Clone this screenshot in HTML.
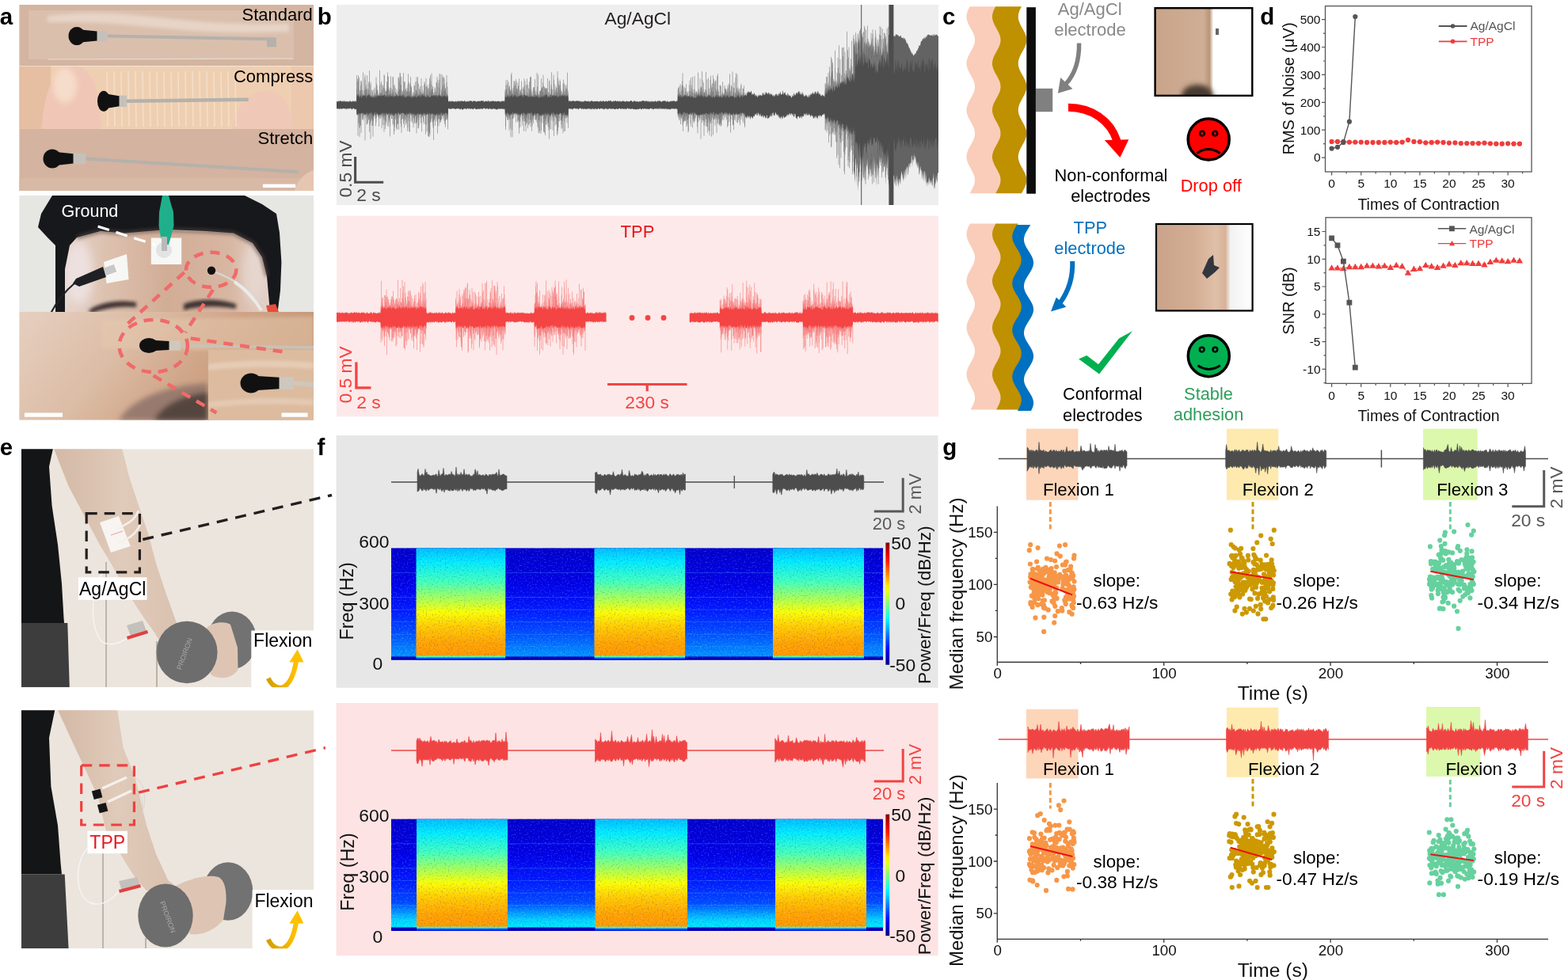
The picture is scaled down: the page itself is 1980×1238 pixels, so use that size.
<!DOCTYPE html>
<html><head><meta charset="utf-8"><title>Figure</title><style>html,body{margin:0;padding:0;background:#fff;}svg{display:block;}</style></head><body>
<svg width="1980" height="1238" viewBox="0 0 1980 1238" font-family="'Liberation Sans', Arial, sans-serif">
<defs><filter id="blur2" x="-20%" y="-20%" width="140%" height="140%"><feGaussianBlur stdDeviation="2"/></filter><filter id="blur3" x="-30%" y="-30%" width="160%" height="160%"><feGaussianBlur stdDeviation="3"/></filter><filter id="blur6" x="-50%" y="-50%" width="200%" height="200%"><feGaussianBlur stdDeviation="6"/></filter><filter id="spkL" x="0" y="0" width="100%" height="100%"><feTurbulence type="fractalNoise" baseFrequency="0.5" numOctaves="2" seed="5"/><feColorMatrix values="0 0 0 0 1  0 0 0 0 1  0 0 0 0 1  3.5 0 0 0 -1.9"/></filter><filter id="spkD" x="0" y="0" width="100%" height="100%"><feTurbulence type="fractalNoise" baseFrequency="0.5" numOctaves="2" seed="9"/><feColorMatrix values="0 0 0 0 0  0 0 0 0 0  0 0 0 0 0.3  3.5 0 0 0 -1.9"/></filter></defs>
<rect width="1980" height="1238" fill="#fff"/>
<defs><clipPath id="s1"><rect x="24.2" y="6" width="371.8" height="77.5"/></clipPath><clipPath id="s2"><rect x="24.2" y="83.5" width="371.8" height="79.4"/></clipPath><clipPath id="s3"><rect x="24.2" y="162.9" width="371.8" height="78"/></clipPath><clipPath id="fc"><rect x="24.2" y="247" width="371.8" height="147"/></clipPath><clipPath id="fl"><rect x="24.2" y="394" width="371.8" height="136.7"/></clipPath><clipPath id="fi"><rect x="262.8" y="441.8" width="133.2" height="88.9"/></clipPath></defs>
<g clip-path="url(#s1)">
<rect x="24.2" y="6" width="371.8" height="77.5" fill="#d3b5a1"/>
<rect x="36" y="13" width="335" height="62" fill="#dcc2b0" opacity="0.8"/>
<path d="M60 20 Q120 12 200 22 T365 30 L365 40 Q280 44 200 35 T60 28 Z" fill="#f2e6dc" opacity="0.55" filter="url(#blur2)"/>
<line x1="60" y1="75" x2="370" y2="74" stroke="#efe3da" stroke-width="1.2" opacity="0.8"/>
<path d="M135.5 45.5 L348 49.5" stroke="#b5b1ab" stroke-width="4" fill="none"/>
<rect x="122" y="39" width="13.5" height="13" fill="#c5c1ba"/>
<ellipse cx="97" cy="45.5" rx="10.5" ry="11.5" fill="#111"/>
<path d="M97 36.9 L122.5 39.6 L122.5 51.4 L97 54.1 Z" fill="#111"/>
<rect x="337" y="47.7" width="12" height="11.5" fill="#b5b1ab"/>
</g>
<g clip-path="url(#s2)">
<rect x="24.2" y="83.5" width="371.8" height="79.4" fill="#efcfb1"/>
<rect x="24.2" y="83.5" width="40" height="79.4" fill="#e6bfa2"/>
<path d="M52 170 C54 130 62 84 95 84 C122 84 128 130 128 170 Z" fill="#f0c7b6"/>
<ellipse cx="82" cy="108" rx="15" ry="22" fill="#f6dcca" filter="url(#blur3)"/>
<path d="M292 170 C296 130 318 114 340 115 C362 116 368 140 370 170 Z" fill="#f0c8b8"/>
<rect x="368" y="83.5" width="30" height="79.4" fill="#ecc8ae"/>
<path d="M135 90 L136 160 M144 90 L145 160 M153 90 L154 160 M162 90 L163 160 M171 90 L172 160 M180 90 L181 160 M189 90 L190 160 M198 90 L199 160 M207 90 L208 160 M216 90 L217 160 M225 90 L226 160 M234 90 L235 160 M243 90 L244 160 M252 90 L253 160 M261 90 L262 160 M270 90 L271 160 M279 90 L280 160 M288 90 L289 160 M297 90 L298 160" stroke="#f8eadc" stroke-width="1.5" opacity="0.6"/>
<path d="M160 127.8 L313.7 125.7" stroke="#b5b1ab" stroke-width="4.5" fill="none"/>
<rect x="150" y="120.6" width="10" height="14.4" fill="#c5c1ba"/>
<ellipse cx="131" cy="127.8" rx="8" ry="13" fill="#111"/>
<path d="M131 118 L150.5 121.3 L150.5 134.3 L131 137.6 Z" fill="#111"/>
</g>
<g clip-path="url(#s3)">
<rect x="24.2" y="162.9" width="371.8" height="78" fill="#d4b3a0"/>
<rect x="24.2" y="225" width="371.8" height="16" fill="#d8b9a6"/>
<path d="M372 241 C374 230 384 218 398 214 L398 241 Z" fill="#e6c6b0"/>
<path d="M108.3 200.4 L377 217.2" stroke="#b5b1ab" stroke-width="4" fill="none"/>
<rect x="92" y="193.7" width="16.3" height="13.5" fill="#c5c1ba"/>
<ellipse cx="66" cy="200.4" rx="11.5" ry="12" fill="#111"/>
<path d="M66 191.4 L92.5 194.3 L92.5 206.5 L66 209.4 Z" fill="#111"/>
<rect x="331.9" y="232.6" width="41.3" height="4.4" fill="#fff"/>
</g>
<text x="394.8" y="25.5" font-size="22" fill="#000" text-anchor="end">Standard</text>
<text x="395.2" y="104" font-size="22" fill="#000" text-anchor="end">Compress</text>
<text x="395.2" y="181.7" font-size="22" fill="#000" text-anchor="end">Stretch</text>
<g clip-path="url(#fc)">
<rect x="24.2" y="247" width="371.8" height="147" fill="#e6e6e3"/>
<defs><linearGradient id="fskin" x1="0" y1="0" x2="1" y2="0"><stop offset="0" stop-color="#e8d9d3"/><stop offset="0.22" stop-color="#ddc2b0"/><stop offset="0.5" stop-color="#d2ad96"/><stop offset="0.78" stop-color="#d7b6a2"/><stop offset="1" stop-color="#e6d6cf"/></linearGradient></defs>
<path d="M70 394 L70 300 L97 296 L160 290 L230 292 L300 294 L330 305 L345 330 L350 394 Z" fill="url(#fskin)"/>
<ellipse cx="100" cy="345" rx="18" ry="40" fill="#f0e6e8" opacity="0.75" filter="url(#blur6)"/>
<ellipse cx="320" cy="345" rx="14" ry="38" fill="#ebe0dc" opacity="0.6" filter="url(#blur6)"/>
<path d="M66 247 L309 247 L331 258 L349 270 L353 294 L355.4 331 L354 367 L350.6 394 L341 394 L337 349 L331 325 L319 307 L295 294.5 L260 292 L210 290 L157 294.5 L127 292 L97 300 L88 310 L82 340 L82 394 L70 394 L70 310 L60 300 L48 287 L52 270 Z" fill="#17181c"/>
<path d="M97 300 L127 292 L157 294.5 L210 290 L260 292 L295 294.5 L319 307 L331 325 L337 349" stroke="#5a4a44" stroke-width="5" fill="none" opacity="0.6" filter="url(#blur2)"/>
<path d="M112 392 C125 382 150 378 172 382 L172 388 C150 386 130 390 115 396 Z" fill="#3e3230" filter="url(#blur2)"/>
<path d="M232 384 C250 377 275 377 298 384 L298 390 C275 386 252 386 232 392 Z" fill="#3e3230" filter="url(#blur2)"/>
<rect x="190.8" y="300.5" width="38.4" height="33.5" fill="#f7f7f5"/>
<circle cx="207" cy="316" r="10" fill="#e3e3e3"/>
<path d="M131 331 L160 321 L162.5 353 L134.5 358 Z" fill="#f7f7f5"/>
<path d="M205 247 L213 247 L216 258 L219 268 L219.5 285 L216.5 297 L213 309 L206 309 L202.5 297 L200.5 285 L201 268 L203 258 Z" fill="#1fb08b"/>
<rect x="204" y="299" width="7" height="18" fill="#b9b9b9"/>
<path d="M92 358 L96 352 L130 337 L134 350 L100 362 Z" fill="#1e2024"/>
<path d="M94 358 C82 368 72 380 64 396" stroke="#1e2024" stroke-width="2.2" fill="none"/>
<rect x="132" y="336" width="14" height="10" fill="#c8c8c8" transform="rotate(-20 139 341)"/>
<path d="M272 344 C290 350 310 362 337 388" stroke="#d8d8d8" stroke-width="2" fill="none"/>
<path d="M296 356 C305 362 318 372 330 392" stroke="#f0f0f0" stroke-width="4" fill="none" opacity="0.8"/>
<circle cx="267" cy="341.8" r="5.2" fill="#111"/>
<path d="M336 386 L348 384 L352 394 L338 394 Z" fill="#e84c3a"/>
</g>
<text x="77.6" y="274.2" font-size="21.5" fill="#fff" text-anchor="start">Ground</text>
<path d="M123.6 286 L196.6 309.5" stroke="#fff" stroke-width="3.2" stroke-dasharray="15 9"/>
<g clip-path="url(#fl)">
<defs><linearGradient id="lp" x1="0" y1="0" x2="1" y2="0.3"><stop offset="0" stop-color="#e6cfc0"/><stop offset="0.4" stop-color="#dcbda6"/><stop offset="0.7" stop-color="#cfa487"/><stop offset="1" stop-color="#c49777"/></linearGradient></defs>
<rect x="24.2" y="394" width="371.8" height="136.7" fill="url(#lp)"/>
<path d="M128 404 L396 400 L396 445 L128 440 Z" fill="#e6c9ae" opacity="0.5" filter="url(#blur2)"/>
<path d="M150 531 C165 505 205 488 262 484 L262 531 Z" fill="#8a7068" opacity="0.8" filter="url(#blur3)"/>
<path d="M195 531 C205 512 230 500 262 496 L262 531 Z" fill="#4a3c38" opacity="0.85" filter="url(#blur3)"/>
<path d="M228 436.5 L396 439" stroke="#c8c2b8" stroke-width="3.5" fill="none"/>
<rect x="213" y="430.2" width="15" height="12.5" fill="#cfc8bb"/>
<ellipse cx="188" cy="436.5" rx="12" ry="9.5" fill="#111"/>
<path d="M188 429.4 L213.5 430.9 L213.5 442.1 L188 443.6 Z" fill="#111"/>
</g>
<g clip-path="url(#fi)">
<rect x="262.8" y="441.8" width="133.2" height="88.9" fill="#dcbb9f"/>
<path d="M262 460 Q330 452 396 458 L396 466 Q330 460 262 468 Z" fill="#ecd6c2" opacity="0.7" filter="url(#blur2)"/>
<path d="M262 508 Q330 500 396 505 L396 512 Q330 508 262 515 Z" fill="#ecd6c2" opacity="0.6" filter="url(#blur2)"/>
<path d="M371 484 L396 486" stroke="#cdc7bd" stroke-width="6" fill="none"/>
<rect x="352" y="475.9" width="19" height="16.3" fill="#cdc7bd"/>
<ellipse cx="317" cy="484" rx="13.5" ry="12.5" fill="#111"/>
<path d="M317 474.6 L352.5 476.7 L352.5 491.3 L317 493.4 Z" fill="#111"/>
</g>
<rect x="31" y="521.5" width="48" height="5.2" fill="#fff"/>
<rect x="355.5" y="521.5" width="33" height="5.2" fill="#fff"/>
<g stroke="#f06a6a" stroke-width="4.5" fill="none" stroke-dasharray="12 9">
<ellipse cx="266.6" cy="340.8" rx="31.7" ry="22"/>
<ellipse cx="193.7" cy="437" rx="43.2" ry="33.1"/>
<path d="M232.7 344.2 L160 410"/>
<path d="M269 366 L234 420"/>
<path d="M240.7 427.4 L360 444.7"/>
<path d="M193.7 474.5 L273.4 521.5"/>
</g>
<rect x="425" y="6" width="760" height="253" fill="#eeeeee"/>
<text x="805.3" y="31" font-size="22.8" fill="#231f20" text-anchor="middle">Ag/AgCl</text>
<path d="M1078 48 1078.5 59.8 1079 55.3 1079.5 48.5 1080 70.7 1080.5 63.6 1081 70.7 1081.5 41.7 1082 67.7 1082.5 68 1083 68.4 1083.5 41.4 1084 47.3 1084.5 55.7 1085 45.1 1085.5 66.6 1086 63.9 1086.5 69.6 1087 70.2 1087.5 70.2 1088 66.4 1088.5 52.3 1089 44.7 1089.5 67.6 1090 60 1090.5 68.6 1091 53.1 1091.5 51.5 1092 55 1092.5 70.7 1093 52.4 1093.5 59.3 1094 58.6 1094.5 55.1 1095 66.4 1095.5 70.2 1096 59.8 1096.5 59.7 1097 51.7 1097.5 62.9 1098 61 1098.5 57.3 1099 57.8 1099.5 53.9 1100 70.7 1100.5 46.6 1101 54.6 1101.5 63.2 1102 54.6 1102.5 67.8 1103 53.1 1103.5 70.7 1104 69.3 1104.5 61.3 1105 67.2 1105.5 63.2 1106 61.1 1106.5 41 1107 63.5 1107.5 70.2 1108 63.2 1108.5 49.1 1109 50.4 1109.5 61.5 1110 69 1110.5 70 1111 68.5 1111.5 63.9 1112 69.5 1112.5 70.6 1113 69.4 1113.5 70.1 1114 64.6 1114.5 65.8 1115 65.4 1115.5 61 1116 65.3 1116.5 65.7 1117 66.7 1117.5 67.4 1118 55.8 1118.5 44.7 1119 68.3 1119.5 58.2 1120 70.3 1120.5 66.9 1121 68.6 1121.5 68.7 1122 45.1 1122.5 44 1123 44.3 1123.5 46.2 1124 46.6 1124.5 44.4 1125 45.8 1125.5 44.4 1126 46.6 1126.5 44.5 1127 43.8 1127.5 43 1128 46.6 1128.5 45.6 1129 45.8 1129.5 44.8 1130 46.6 1130.5 45.5 1131 43.4 1131.5 43.1 1132 44 1132.5 43.4 1133 44.1 1133.5 44.1 1134 45.8 1134.5 44.4 1135 45 1135.5 46.4 1136 45.6 1136.5 46.6 1137 45.2 1137.5 44.5 1138 46.4 1138.5 47.7 1139 47.9 1139.5 48.1 1140 48 1140.5 47 1141 49.7 1141.5 47.4 1142 50.5 1142.5 47.7 1143 48.8 1143.5 51.4 1144 50.6 1144.5 54.4 1145 53.4 1145.5 54.6 1146 55.7 1146.5 55.8 1147 57.1 1147.5 59.6 1148 59.9 1148.5 61.1 1149 61.5 1149.5 63.7 1150 64.2 1150.5 65.3 1151 67.8 1151.5 67.4 1152 65.9 1152.5 68.6 1153 69.6 1153.5 70.1 1154 70.6 1154.5 68.2 1155 69.2 1155.5 67.5 1156 67.6 1156.5 67.9 1157 64.5 1157.5 64.3 1158 65.2 1158.5 62.2 1159 63.3 1159.5 60 1160 60.9 1160.5 57.1 1161 57.3 1161.5 58 1162 57.5 1162.5 54.4 1163 52.2 1163.5 51.9 1164 51.8 1164.5 50.9 1165 48.7 1165.5 48.7 1166 50.1 1166.5 48.6 1167 46.6 1167.5 48.2 1168 48.7 1168.5 48.5 1169 46.1 1169.5 47.2 1170 44.4 1170.5 47.3 1171 43.4 1171.5 44.4 1172 43.6 1172.5 43.5 1173 43.9 1173.5 44.3 1174 44.2 1174.5 45 1175 44.3 1175.5 45.5 1176 43.7 1176.5 44.6 1177 44.5 1177.5 45.7 1178 43.1 1178.5 44.4 1179 46.2 1179.5 43.4 1180 43.1 1180.5 44.6 1181 45.6 1181.5 43.8 1182 43.7 1182.5 43.9 1183 42.9 1183.5 44.8 1184 45.2 1184.5 45.9 1185 44.7 1185 219.5 1184.5 217.9 1184 218.5 1183.5 231.2 1183 228.5 1182.5 226.9 1182 220.1 1181.5 233.4 1181 229.4 1180.5 235.7 1180 238.8 1179.5 236.7 1179 217.6 1178.5 224.5 1178 225.4 1177.5 234.6 1177 234.6 1176.5 226.6 1176 234.6 1175.5 226.4 1175 231.9 1174.5 230.2 1174 226.9 1173.5 223.5 1173 236 1172.5 224.7 1172 233.9 1171.5 229.4 1171 230 1170.5 231.3 1170 236.4 1169.5 217.7 1169 232 1168.5 225.9 1168 216.6 1167.5 216.3 1167 229.4 1166.5 215.6 1166 230 1165.5 215.6 1165 228.1 1164.5 215 1164 226.8 1163.5 214.5 1163 215.7 1162.5 212.6 1162 209.2 1161.5 216.5 1161 219.9 1160.5 220.8 1160 204 1159.5 209.9 1159 213.1 1158.5 209.8 1158 203.8 1157.5 206.6 1157 210.1 1156.5 202.4 1156 197.6 1155.5 198.1 1155 202.9 1154.5 198.2 1154 193.8 1153.5 205.5 1153 201.2 1152.5 202.1 1152 211.4 1151.5 197.3 1151 196.1 1150.5 206.3 1150 206 1149.5 205.8 1149 213.4 1148.5 205.3 1148 211.6 1147.5 205.5 1147 219.3 1146.5 221.8 1146 209.2 1145.5 212 1145 210.7 1144.5 216.5 1144 225.5 1143.5 213.5 1143 214.3 1142.5 227.4 1142 214.8 1141.5 220.1 1141 229.6 1140.5 226 1140 224.8 1139.5 220.6 1139 220.4 1138.5 215.8 1138 219 1137.5 225.1 1137 233.5 1136.5 230.6 1136 225.7 1135.5 226 1135 230.7 1134.5 237.4 1134 225.9 1133.5 234.1 1133 221.4 1132.5 229.8 1132 219.9 1131.5 234.3 1131 235 1130.5 225.1 1130 228.9 1129.5 233.2 1129 220.3 1128.5 222.3 1128 221.9 1127.5 235.4 1127 222.5 1126.5 234 1126 232.2 1125.5 236.5 1125 230.4 1124.5 229.3 1124 220.5 1123.5 225.9 1123 236.7 1122.5 228.8 1122 235.1 1121.5 196.5 1121 206.1 1120.5 198.7 1120 205.5 1119.5 217.9 1119 199.8 1118.5 235.1 1118 216.4 1117.5 201.8 1117 209.3 1116.5 211.6 1116 207.7 1115.5 204.3 1115 203.5 1114.5 199.7 1114 212.1 1113.5 198.6 1113 203.7 1112.5 197.3 1112 201.8 1111.5 200.1 1111 206.3 1110.5 195.5 1110 205.1 1109.5 211.9 1109 219.2 1108.5 225 1108 207.5 1107.5 206.3 1107 214.6 1106.5 236.6 1106 213.3 1105.5 208.8 1105 201.9 1104.5 210 1104 202.3 1103.5 195.6 1103 219 1102.5 198.9 1102 222.7 1101.5 202.2 1101 222.9 1100.5 222.6 1100 203.5 1099.5 221.1 1099 213.3 1098.5 212.6 1098 207.7 1097.5 209 1097 222.3 1096.5 212.7 1096 216 1095.5 205.6 1095 197.9 1094.5 208.4 1094 209.9 1093.5 213.4 1093 220.2 1092.5 195.4 1092 209.5 1091.5 215.5 1091 221.7 1090.5 197.4 1090 212.7 1089.5 198.6 1089 232.8 1088.5 212.2 1088 206 1087.5 196.5 1087 206.4 1086.5 194.9 1086 211.4 1085.5 205.6 1085 219.5 1084.5 216.8 1084 232.5 1083.5 240.9 1083 206.1 1082.5 205.9 1082 205.8 1081.5 236.6 1081 204.1 1080.5 200.8 1080 198.8 1079.5 231.3 1079 223.2 1078.5 215.8 1078 220.3Z" fill="#636363"/>
<path d="M450.5 132.7V95.1M450.5 132.7V115.2M450.5 132.7V112.4M451 132.7V118.3M451 132.7V103.2M451 132.7V144.8M451.5 132.7V120.6M451.5 132.7V99.7M451.5 132.7V145M452 132.7V145M452 132.7V118.9M452 132.7V171.4M452.5 132.7V95.1M452.5 132.7V110.8M452.5 132.7V102.3M453 132.7V156.7M453 132.7V154.6M453 132.7V145.4M453.5 132.7V97.9M453.5 132.7V146.5M453.5 132.7V118.8M454 132.7V172.9M454 132.7V160.8M454 132.7V161.5M454.5 132.7V148.6M454.5 132.7V113.8M454.5 132.7V118.8M455 132.7V114.9M455 132.7V158.8M455 132.7V148.1M455.5 132.7V121.1M455.5 132.7V158.4M455.5 132.7V108.1M456 132.7V102.1M456 132.7V102.3M456 132.7V167.9M456.5 132.7V117.9M456.5 132.7V121.3M456.5 132.7V104.5M457 132.7V113.1M457 132.7V114.8M457 132.7V120.2M457.5 132.7V150.9M457.5 132.7V147.9M457.5 132.7V151M458 132.7V145.4M458 132.7V146.3M458 132.7V118.3M458.5 132.7V91.3M458.5 132.7V119.1M458.5 132.7V120.9M459 132.7V152.3M459 132.7V149.5M459 132.7V118.9M459.5 132.7V143.9M459.5 132.7V146.4M459.5 132.7V144.8M460 132.7V114.1M460 132.7V120.9M460 132.7V121.4M460.5 132.7V97.6M460.5 132.7V117.8M460.5 132.7V113.2M461 132.7V94.3M461 132.7V101.1M461 132.7V177.3M461.5 132.7V116.5M461.5 132.7V110.3M461.5 132.7V119.6M462 132.7V149.5M462 132.7V145.7M462 132.7V113.6M462.5 132.7V121.1M462.5 132.7V119.1M462.5 132.7V112.6M463 132.7V106.9M463 132.7V120.2M463 132.7V157.1M463.5 132.7V157.3M463.5 132.7V95.4M463.5 132.7V146.1M464 132.7V146.2M464 132.7V113.6M464 132.7V111.7M464.5 132.7V147.7M464.5 132.7V155.4M464.5 132.7V147.7M465 132.7V118.7M465 132.7V148.5M465 132.7V117.1M465.5 132.7V103.4M465.5 132.7V151.3M465.5 132.7V113.6M466 132.7V151.8M466 132.7V105.7M466 132.7V121.3M466.5 132.7V166.6M466.5 132.7V89.3M466.5 132.7V119M467 132.7V158.2M467 132.7V149.7M467 132.7V117.5M467.5 132.7V155.6M467.5 132.7V146.4M467.5 132.7V121.3M468 132.7V103.3M468 132.7V175.5M468 132.7V106.8M468.5 132.7V148.2M468.5 132.7V153.5M468.5 132.7V114.5M469 132.7V147.6M469 132.7V144.2M469 132.7V150.8M469.5 132.7V148.6M469.5 132.7V146.8M469.5 132.7V151.2M470 132.7V145.5M470 132.7V113.2M470 132.7V158.8M470.5 132.7V116.9M470.5 132.7V115M470.5 132.7V158.4M471 132.7V152.8M471 132.7V158.9M471 132.7V172.6M471.5 132.7V152.5M471.5 132.7V120.5M471.5 132.7V148.8M472 132.7V146.3M472 132.7V144.4M472 132.7V113.5M472.5 132.7V121.3M472.5 132.7V120.9M472.5 132.7V147.7M473 132.7V119.6M473 132.7V120.9M473 132.7V110.6M473.5 132.7V117.6M473.5 132.7V118.5M473.5 132.7V121.2M474 132.7V144.3M474 132.7V150M474 132.7V145.7M474.5 132.7V159.2M474.5 132.7V148.8M474.5 132.7V120M475 132.7V112.1M475 132.7V154.8M475 132.7V97.4M475.5 132.7V148.7M475.5 132.7V116.9M475.5 132.7V105.6M476 132.7V108M476 132.7V114.7M476 132.7V121M476.5 132.7V114.4M476.5 132.7V120.1M476.5 132.7V144.6M477 132.7V120.6M477 132.7V113.5M477 132.7V145.4M477.5 132.7V146.4M477.5 132.7V147.8M477.5 132.7V144.4M478 132.7V144.3M478 132.7V146.5M478 132.7V117.7M478.5 132.7V144.3M478.5 132.7V150.9M478.5 132.7V160M479 132.7V120.1M479 132.7V120.8M479 132.7V145.6M479.5 132.7V88.9M479.5 132.7V107.9M479.5 132.7V148.7M480 132.7V118.6M480 132.7V146.2M480 132.7V145.9M480.5 132.7V121M480.5 132.7V150.1M480.5 132.7V117M481 132.7V146M481 132.7V117M481 132.7V105.5M481.5 132.7V119.7M481.5 132.7V117.8M481.5 132.7V102.7M482 132.7V162.2M482 132.7V118.2M482 132.7V148.2M482.5 132.7V145.3M482.5 132.7V113.5M482.5 132.7V146.6M483 132.7V146.2M483 132.7V118.5M483 132.7V107.1M483.5 132.7V108.2M483.5 132.7V158.2M483.5 132.7V121.1M484 132.7V146.5M484 132.7V149.5M484 132.7V119.9M484.5 132.7V110.8M484.5 132.7V148.1M484.5 132.7V147.1M485 132.7V151.4M485 132.7V94.2M485 132.7V166.7M485.5 132.7V146.6M485.5 132.7V120.9M485.5 132.7V95.6M486 132.7V112.1M486 132.7V115.4M486 132.7V158.2M486.5 132.7V119.6M486.5 132.7V151.4M486.5 132.7V163.1M487 132.7V155.7M487 132.7V120.4M487 132.7V115.2M487.5 132.7V153.4M487.5 132.7V145.4M487.5 132.7V114.8M488 132.7V119.4M488 132.7V115.5M488 132.7V147.6M488.5 132.7V115.9M488.5 132.7V103.1M488.5 132.7V111.9M489 132.7V158.9M489 132.7V116M489 132.7V112.5M489.5 132.7V95.7M489.5 132.7V91.3M489.5 132.7V113M490 132.7V112.8M490 132.7V145.1M490 132.7V108.7M490.5 132.7V96.8M490.5 132.7V144M490.5 132.7V160.2M491 132.7V152.3M491 132.7V154.8M491 132.7V148.4M491.5 132.7V113.8M491.5 132.7V147.5M491.5 132.7V149.7M492 132.7V110.7M492 132.7V120.4M492 132.7V119M492.5 132.7V118.4M492.5 132.7V172.3M492.5 132.7V159.3M493 132.7V114.2M493 132.7V147.2M493 132.7V116.3M493.5 132.7V111.1M493.5 132.7V96.4M493.5 132.7V145.4M494 132.7V111.5M494 132.7V119.2M494 132.7V116.7M494.5 132.7V121.2M494.5 132.7V143.9M494.5 132.7V150.1M495 132.7V118.6M495 132.7V150M495 132.7V144.4M495.5 132.7V112.9M495.5 132.7V145.2M495.5 132.7V117.1M496 132.7V146M496 132.7V157.5M496 132.7V97.6M496.5 132.7V147M496.5 132.7V117.4M496.5 132.7V96.9M497 132.7V156.6M497 132.7V115.2M497 132.7V120.7M497.5 132.7V149.9M497.5 132.7V119.2M497.5 132.7V170M498 132.7V166.3M498 132.7V108.3M498 132.7V106.9M498.5 132.7V121.3M498.5 132.7V159.8M498.5 132.7V146.4M499 132.7V143.9M499 132.7V144.3M499 132.7V111M499.5 132.7V150.8M499.5 132.7V116.2M499.5 132.7V118.6M500 132.7V147.6M500 132.7V118.7M500 132.7V120.9M500.5 132.7V118.3M500.5 132.7V162.5M500.5 132.7V117.2M501 132.7V112.7M501 132.7V158.2M501 132.7V147.1M501.5 132.7V156.4M501.5 132.7V121M501.5 132.7V164M502 132.7V156.1M502 132.7V145.2M502 132.7V150M502.5 132.7V156.7M502.5 132.7V115.8M502.5 132.7V145.9M503 132.7V120.4M503 132.7V98M503 132.7V120.9M503.5 132.7V97.5M503.5 132.7V163.8M503.5 132.7V113.2M504 132.7V119.5M504 132.7V104M504 132.7V148.9M504.5 132.7V114.2M504.5 132.7V115.7M504.5 132.7V112.6M505 132.7V100.7M505 132.7V118.8M505 132.7V92M505.5 132.7V97.1M505.5 132.7V120M505.5 132.7V92.7M506 132.7V144.2M506 132.7V115.5M506 132.7V156.3M506.5 132.7V113M506.5 132.7V160.5M506.5 132.7V107.2M507 132.7V118.7M507 132.7V97M507 132.7V167.8M507.5 132.7V151.1M507.5 132.7V121.2M507.5 132.7V145.8M508 132.7V147.5M508 132.7V121M508 132.7V115.1M508.5 132.7V118.4M508.5 132.7V115M508.5 132.7V150.1M509 132.7V119.9M509 132.7V120.1M509 132.7V117.1M509.5 132.7V156.6M509.5 132.7V113M509.5 132.7V92.2M510 132.7V102.6M510 132.7V152.9M510 132.7V117.5M510.5 132.7V149.9M510.5 132.7V161.4M510.5 132.7V153.1M511 132.7V103.1M511 132.7V104.4M511 132.7V150.8M511.5 132.7V145.6M511.5 132.7V113.5M511.5 132.7V120.3M512 132.7V114.4M512 132.7V150.9M512 132.7V118.7M512.5 132.7V112M512.5 132.7V146.8M512.5 132.7V157.7M513 132.7V155.8M513 132.7V154.2M513 132.7V149M513.5 132.7V146.9M513.5 132.7V146.3M513.5 132.7V116M514 132.7V110.8M514 132.7V114.8M514 132.7V121.4M514.5 132.7V115.1M514.5 132.7V165.7M514.5 132.7V148.7M515 132.7V120M515 132.7V106.8M515 132.7V160.9M515.5 132.7V113.2M515.5 132.7V118.1M515.5 132.7V93.4M516 132.7V152.9M516 132.7V116M516 132.7V103.5M516.5 132.7V149.9M516.5 132.7V166M516.5 132.7V148.6M517 132.7V106.3M517 132.7V116.3M517 132.7V146.1M517.5 132.7V120.6M517.5 132.7V114.9M517.5 132.7V166.9M518 132.7V104.8M518 132.7V120.8M518 132.7V119.5M518.5 132.7V96.9M518.5 132.7V108.5M518.5 132.7V145.4M519 132.7V120.9M519 132.7V153.3M519 132.7V115.1M519.5 132.7V109.2M519.5 132.7V111.1M519.5 132.7V118.8M520 132.7V120.5M520 132.7V145.1M520 132.7V144.4M520.5 132.7V149.4M520.5 132.7V151.9M520.5 132.7V155.1M521 132.7V144.3M521 132.7V148.4M521 132.7V120.6M521.5 132.7V117.3M521.5 132.7V121.2M521.5 132.7V118.7M522 132.7V116.3M522 132.7V144.1M522 132.7V160.9M522.5 132.7V148.1M522.5 132.7V149.5M522.5 132.7V148.5M523 132.7V156.3M523 132.7V146.3M523 132.7V107.5M523.5 132.7V108.5M523.5 132.7V155.1M523.5 132.7V151.8M524 132.7V144M524 132.7V120.2M524 132.7V146M524.5 132.7V146.5M524.5 132.7V117.8M524.5 132.7V103.3M525 132.7V155.5M525 132.7V118.1M525 132.7V148.4M525.5 132.7V113.8M525.5 132.7V114.2M525.5 132.7V156.2M526 132.7V153.9M526 132.7V97.3M526 132.7V168.4M526.5 132.7V118.1M526.5 132.7V102.9M526.5 132.7V154.8M527 132.7V151.4M527 132.7V115.7M527 132.7V121M527.5 132.7V97.1M527.5 132.7V148.2M527.5 132.7V119.2M528 132.7V145.4M528 132.7V162M528 132.7V145.6M528.5 132.7V105.7M528.5 132.7V162.3M528.5 132.7V119.6M529 132.7V118.9M529 132.7V158.4M529 132.7V151.4M529.5 132.7V121.1M529.5 132.7V119.8M529.5 132.7V112.1M530 132.7V144.8M530 132.7V146.2M530 132.7V116.8M530.5 132.7V108.8M530.5 132.7V113.1M530.5 132.7V117.6M531 132.7V149.1M531 132.7V116.1M531 132.7V115.4M531.5 132.7V144.2M531.5 132.7V155.4M531.5 132.7V119.9M532 132.7V119.1M532 132.7V148.2M532 132.7V98.9M532.5 132.7V116.9M532.5 132.7V166.1M532.5 132.7V146M533 132.7V120.3M533 132.7V146.9M533 132.7V108.4M533.5 132.7V118.8M533.5 132.7V148M533.5 132.7V118.2M534 132.7V118.1M534 132.7V145.3M534 132.7V114M534.5 132.7V153.9M534.5 132.7V150.7M534.5 132.7V117.5M535 132.7V156.6M535 132.7V121.4M535 132.7V145.8M535.5 132.7V107.1M535.5 132.7V144.2M535.5 132.7V116.4M536 132.7V103M536 132.7V118.6M536 132.7V144.8M536.5 132.7V120.3M536.5 132.7V146.4M536.5 132.7V105.4M537 132.7V110.2M537 132.7V157M537 132.7V146.3M537.5 132.7V120.5M537.5 132.7V169.6M537.5 132.7V121.5M538 132.7V157.5M538 132.7V148M538 132.7V98.6M538.5 132.7V119.3M538.5 132.7V115.4M538.5 132.7V109M539 132.7V120.5M539 132.7V145M539 132.7V166.2M539.5 132.7V107.8M539.5 132.7V118.5M539.5 132.7V120M540 132.7V111.9M540 132.7V143.9M540 132.7V110.8M540.5 132.7V171.9M540.5 132.7V120.8M540.5 132.7V155.4M541 132.7V114M541 132.7V165.3M541 132.7V118.6M541.5 132.7V172.7M541.5 132.7V146.7M541.5 132.7V111.5M542 132.7V173.1M542 132.7V167.7M542 132.7V106.1M542.5 132.7V163.8M542.5 132.7V167.9M542.5 132.7V98.7M543 132.7V170.9M543 132.7V116.3M543 132.7V115.4M543.5 132.7V153.6M543.5 132.7V154.7M543.5 132.7V95M544 132.7V102.7M544 132.7V148.6M544 132.7V154.2M544.5 132.7V116.5M544.5 132.7V113.3M544.5 132.7V150.8M545 132.7V119.1M545 132.7V107M545 132.7V92.7M545.5 132.7V116.9M545.5 132.7V116.6M545.5 132.7V113.1M546 132.7V154.4M546 132.7V149.6M546 132.7V112.6M546.5 132.7V154.2M546.5 132.7V111.8M546.5 132.7V109M547 132.7V161.8M547 132.7V158.7M547 132.7V149.3M547.5 132.7V116.7M547.5 132.7V177.1M547.5 132.7V151.6M548 132.7V121.2M548 132.7V153.2M548 132.7V119.9M548.5 132.7V151.4M548.5 132.7V150.4M548.5 132.7V144.7M549 132.7V121.1M549 132.7V110.1M549 132.7V116.3M549.5 132.7V158.9M549.5 132.7V111.9M549.5 132.7V121.1M550 132.7V116.5M550 132.7V147.1M550 132.7V148.9M550.5 132.7V121.5M550.5 132.7V146.3M550.5 132.7V119.5M551 132.7V104.2M551 132.7V153.3M551 132.7V114.6M551.5 132.7V104.1M551.5 132.7V144.1M551.5 132.7V120.2M552 132.7V150.9M552 132.7V96.8M552 132.7V120.2M552.5 132.7V168.4M552.5 132.7V158.6M552.5 132.7V152M553 132.7V100.9M553 132.7V109.9M553 132.7V151.4M553.5 132.7V146.8M553.5 132.7V147.4M553.5 132.7V149.5M554 132.7V117.9M554 132.7V105.2M554 132.7V159.3M554.5 132.7V150.1M554.5 132.7V121.5M554.5 132.7V121.2M555 132.7V100.5M555 132.7V110.8M555 132.7V93M555.5 132.7V151.2M555.5 132.7V155.4M555.5 132.7V115.4M556 132.7V151.1M556 132.7V93.9M556 132.7V146M556.5 132.7V151.9M556.5 132.7V154.3M556.5 132.7V120M557 132.7V152.4M557 132.7V150.6M557 132.7V120.7M557.5 132.7V113.3M557.5 132.7V150.6M557.5 132.7V121.3M558 132.7V93.8M558 132.7V116.3M558 132.7V117.7M558.5 132.7V147.1M558.5 132.7V110.2M558.5 132.7V116.7M559 132.7V121.4M559 132.7V98M559 132.7V96M559.5 132.7V150.4M559.5 132.7V107.5M559.5 132.7V145.9M560 132.7V146.2M560 132.7V116M560 132.7V118M560.5 132.7V144.5M560.5 132.7V97.6M560.5 132.7V114.3M561 132.7V148M561 132.7V99.1M561 132.7V153M561.5 132.7V106.2M561.5 132.7V114.3M561.5 132.7V156.7M562 132.7V152.5M562 132.7V116.3M562 132.7V111.9M562.5 132.7V160.6M562.5 132.7V110.8M562.5 132.7V113.1M563 132.7V146.6M563 132.7V151M563 132.7V116M563.5 132.7V120.5M563.5 132.7V144.8M563.5 132.7V151.2M564 132.7V94.9M564 132.7V117.8M564 132.7V103.7M564.5 132.7V150.5M564.5 132.7V146.8M564.5 132.7V119.4M565 132.7V109.4M565 132.7V151.5M565 132.7V118.9M565.5 132.7V163.3M565.5 132.7V147.8M565.5 132.7V148.5M638 132.7V113.3M638 132.7V145.5M638 132.7V116.3M638.5 132.7V160M638.5 132.7V163.8M638.5 132.7V119M639 132.7V107.7M639 132.7V113.6M639 132.7V101.3M639.5 132.7V112.2M639.5 132.7V147.9M639.5 132.7V146M640 132.7V115.9M640 132.7V146.7M640 132.7V144.4M640.5 132.7V119.7M640.5 132.7V106.5M640.5 132.7V151.4M641 132.7V146.8M641 132.7V118.9M641 132.7V101M641.5 132.7V151.8M641.5 132.7V121.3M641.5 132.7V150.8M642 132.7V144.6M642 132.7V103.7M642 132.7V118.2M642.5 132.7V148.5M642.5 132.7V119.6M642.5 132.7V111.9M643 132.7V164.7M643 132.7V110.4M643 132.7V108.8M643.5 132.7V112.6M643.5 132.7V108.4M643.5 132.7V150.7M644 132.7V148.6M644 132.7V151.1M644 132.7V146.9M644.5 132.7V162.4M644.5 132.7V114M644.5 132.7V115.7M645 132.7V116.9M645 132.7V119.6M645 132.7V173.3M645.5 132.7V117.7M645.5 132.7V94.5M645.5 132.7V113.3M646 132.7V91.9M646 132.7V112.4M646 132.7V115.3M646.5 132.7V119.9M646.5 132.7V164.1M646.5 132.7V151.2M647 132.7V120.4M647 132.7V117.3M647 132.7V173.1M647.5 132.7V120.3M647.5 132.7V118.6M647.5 132.7V149.7M648 132.7V110.9M648 132.7V113.8M648 132.7V118.4M648.5 132.7V119.8M648.5 132.7V144.2M648.5 132.7V149.7M649 132.7V108.1M649 132.7V120.1M649 132.7V102M649.5 132.7V144.3M649.5 132.7V115.1M649.5 132.7V102.5M650 132.7V147.5M650 132.7V116.5M650 132.7V108.6M650.5 132.7V115.9M650.5 132.7V144M650.5 132.7V121M651 132.7V104.6M651 132.7V107.9M651 132.7V121.1M651.5 132.7V154.4M651.5 132.7V120.1M651.5 132.7V100.1M652 132.7V102.5M652 132.7V119.9M652 132.7V111.8M652.5 132.7V119.2M652.5 132.7V116.2M652.5 132.7V111.9M653 132.7V120.3M653 132.7V145.2M653 132.7V114.4M653.5 132.7V112.4M653.5 132.7V118.1M653.5 132.7V154.4M654 132.7V151.9M654 132.7V120.5M654 132.7V104.4M654.5 132.7V152.8M654.5 132.7V108.8M654.5 132.7V108.3M655 132.7V119.5M655 132.7V120.9M655 132.7V145.7M655.5 132.7V99.2M655.5 132.7V162.3M655.5 132.7V168.8M656 132.7V144.5M656 132.7V120.1M656 132.7V150.9M656.5 132.7V153.9M656.5 132.7V113.8M656.5 132.7V117.8M657 132.7V116.1M657 132.7V148.5M657 132.7V160.7M657.5 132.7V116.2M657.5 132.7V120.6M657.5 132.7V113.4M658 132.7V144.6M658 132.7V119.8M658 132.7V147.4M658.5 132.7V102.5M658.5 132.7V120.5M658.5 132.7V117.2M659 132.7V118.4M659 132.7V117.4M659 132.7V111.6M659.5 132.7V158.8M659.5 132.7V152.8M659.5 132.7V120.1M660 132.7V150.6M660 132.7V146.8M660 132.7V120.7M660.5 132.7V145.4M660.5 132.7V119.7M660.5 132.7V109.7M661 132.7V144.3M661 132.7V153.6M661 132.7V119.1M661.5 132.7V112.4M661.5 132.7V165.6M661.5 132.7V112.5M662 132.7V99.4M662 132.7V150.4M662 132.7V146.1M662.5 132.7V148.1M662.5 132.7V153.2M662.5 132.7V108.2M663 132.7V115.2M663 132.7V147.7M663 132.7V102.3M663.5 132.7V144.9M663.5 132.7V159M663.5 132.7V153.9M664 132.7V166M664 132.7V146.2M664 132.7V150.6M664.5 132.7V156.8M664.5 132.7V107.4M664.5 132.7V147.1M665 132.7V148.2M665 132.7V155.5M665 132.7V154.7M665.5 132.7V145.8M665.5 132.7V99.5M665.5 132.7V116.4M666 132.7V143.9M666 132.7V118.7M666 132.7V149.1M666.5 132.7V106.9M666.5 132.7V145M666.5 132.7V162.2M667 132.7V120M667 132.7V157.6M667 132.7V146.1M667.5 132.7V121.2M667.5 132.7V150.9M667.5 132.7V111.4M668 132.7V117.5M668 132.7V158M668 132.7V120.5M668.5 132.7V113.4M668.5 132.7V103.2M668.5 132.7V120.4M669 132.7V113.2M669 132.7V155.8M669 132.7V120.1M669.5 132.7V97.8M669.5 132.7V115.6M669.5 132.7V151.3M670 132.7V151.3M670 132.7V96.7M670 132.7V160.2M670.5 132.7V97.3M670.5 132.7V118.5M670.5 132.7V154.8M671 132.7V151.6M671 132.7V116.4M671 132.7V112.6M671.5 132.7V118.7M671.5 132.7V165.8M671.5 132.7V144M672 132.7V147.4M672 132.7V159.3M672 132.7V145.5M672.5 132.7V152.4M672.5 132.7V148.2M672.5 132.7V120.2M673 132.7V147.7M673 132.7V115M673 132.7V146M673.5 132.7V147.4M673.5 132.7V110.2M673.5 132.7V155.9M674 132.7V119.9M674 132.7V150.5M674 132.7V111.7M674.5 132.7V109.9M674.5 132.7V146.4M674.5 132.7V146.6M675 132.7V121.2M675 132.7V120M675 132.7V113.9M675.5 132.7V145.9M675.5 132.7V100.1M675.5 132.7V118.6M676 132.7V150.9M676 132.7V119.4M676 132.7V116.9M676.5 132.7V151.5M676.5 132.7V120.7M676.5 132.7V147.6M677 132.7V114.7M677 132.7V150.8M677 132.7V152.3M677.5 132.7V144.5M677.5 132.7V149.5M677.5 132.7V120.3M678 132.7V92M678 132.7V119.7M678 132.7V154.9M678.5 132.7V144M678.5 132.7V117.7M678.5 132.7V109.7M679 132.7V147.9M679 132.7V145.6M679 132.7V159.7M679.5 132.7V116.9M679.5 132.7V161.5M679.5 132.7V94.3M680 132.7V167.8M680 132.7V152M680 132.7V144.6M680.5 132.7V144.2M680.5 132.7V152.1M680.5 132.7V119.5M681 132.7V151.1M681 132.7V168.4M681 132.7V120M681.5 132.7V147.2M681.5 132.7V165.6M681.5 132.7V115.4M682 132.7V118.3M682 132.7V114.8M682 132.7V119.2M682.5 132.7V114.5M682.5 132.7V147.5M682.5 132.7V114.6M683 132.7V117.3M683 132.7V168.8M683 132.7V153.8M683.5 132.7V111.9M683.5 132.7V99.1M683.5 132.7V164.7M684 132.7V120.4M684 132.7V115.1M684 132.7V113.5M684.5 132.7V110.3M684.5 132.7V147.1M684.5 132.7V110.5M685 132.7V121.3M685 132.7V121M685 132.7V155.6M685.5 132.7V104.3M685.5 132.7V116.3M685.5 132.7V119.1M686 132.7V146.1M686 132.7V94.5M686 132.7V116.6M686.5 132.7V165.8M686.5 132.7V108.7M686.5 132.7V150.5M687 132.7V148.3M687 132.7V167.2M687 132.7V160.6M687.5 132.7V109.4M687.5 132.7V149.1M687.5 132.7V167.6M688 132.7V111.5M688 132.7V149.9M688 132.7V153.8M688.5 132.7V170.8M688.5 132.7V111.8M688.5 132.7V113.7M689 132.7V112.6M689 132.7V150M689 132.7V110.8M689.5 132.7V117.8M689.5 132.7V157.5M689.5 132.7V152.7M690 132.7V111.9M690 132.7V149.7M690 132.7V112.3M690.5 132.7V146.8M690.5 132.7V111.8M690.5 132.7V111.4M691 132.7V116.6M691 132.7V145.5M691 132.7V157M691.5 132.7V120.3M691.5 132.7V145.8M691.5 132.7V98.9M692 132.7V155.8M692 132.7V153.6M692 132.7V160.4M692.5 132.7V154M692.5 132.7V116.8M692.5 132.7V145.8M693 132.7V120.5M693 132.7V116.5M693 132.7V164.6M693.5 132.7V103M693.5 132.7V163.5M693.5 132.7V175.6M694 132.7V162.8M694 132.7V150.9M694 132.7V100.9M694.5 132.7V144.2M694.5 132.7V144.1M694.5 132.7V147.1M695 132.7V146M695 132.7V145.6M695 132.7V148.2M695.5 132.7V120.4M695.5 132.7V148.5M695.5 132.7V163.4M696 132.7V106.8M696 132.7V116.7M696 132.7V112.2M696.5 132.7V109.4M696.5 132.7V91.3M696.5 132.7V117.9M697 132.7V145.2M697 132.7V121.4M697 132.7V152.2M697.5 132.7V112.8M697.5 132.7V147.4M697.5 132.7V120.7M698 132.7V147.8M698 132.7V164.6M698 132.7V147.3M698.5 132.7V145.1M698.5 132.7V120M698.5 132.7V121.4M699 132.7V94.8M699 132.7V153.9M699 132.7V117.5M699.5 132.7V172M699.5 132.7V100.7M699.5 132.7V151.4M700 132.7V106.1M700 132.7V147.3M700 132.7V113M700.5 132.7V117.4M700.5 132.7V119.4M700.5 132.7V120.4M701 132.7V158.9M701 132.7V146.7M701 132.7V146.6M701.5 132.7V114.9M701.5 132.7V121.1M701.5 132.7V148.6M702 132.7V113.4M702 132.7V108.5M702 132.7V147.2M702.5 132.7V110.8M702.5 132.7V157M702.5 132.7V148.6M703 132.7V149.9M703 132.7V111.2M703 132.7V118.3M703.5 132.7V170.8M703.5 132.7V116M703.5 132.7V151.6M704 132.7V168.9M704 132.7V117.2M704 132.7V90.1M704.5 132.7V160.4M704.5 132.7V98.2M704.5 132.7V165.1M705 132.7V119.8M705 132.7V102.1M705 132.7V161.1M705.5 132.7V113.7M705.5 132.7V106M705.5 132.7V112.3M706 132.7V153.2M706 132.7V153.2M706 132.7V149M706.5 132.7V116.9M706.5 132.7V120.5M706.5 132.7V108.3M707 132.7V113.8M707 132.7V100.4M707 132.7V120.6M707.5 132.7V116.2M707.5 132.7V103M707.5 132.7V106.9M708 132.7V118.9M708 132.7V152.2M708 132.7V112.1M708.5 132.7V152M708.5 132.7V118.3M708.5 132.7V114.8M709 132.7V150.5M709 132.7V157.4M709 132.7V162.7M709.5 132.7V115.5M709.5 132.7V152.1M709.5 132.7V149.2M710 132.7V161.6M710 132.7V153.7M710 132.7V147.1M710.5 132.7V119.5M710.5 132.7V149.9M710.5 132.7V117.3M711 132.7V168.4M711 132.7V106M711 132.7V118.3M711.5 132.7V120.6M711.5 132.7V112.7M711.5 132.7V100.6M712 132.7V165.9M712 132.7V116.1M712 132.7V145.8M712.5 132.7V121.3M712.5 132.7V105M712.5 132.7V149.1M713 132.7V121.3M713 132.7V153.4M713 132.7V147.5M713.5 132.7V114.5M713.5 132.7V165.9M713.5 132.7V119.5M714 132.7V145M714 132.7V117.7M714 132.7V108M714.5 132.7V149.4M714.5 132.7V120.6M714.5 132.7V110.7M715 132.7V144.4M715 132.7V146.5M715 132.7V107M715.5 132.7V148.8M715.5 132.7V146.3M715.5 132.7V112.1M716 132.7V112.1M716 132.7V145.4M716 132.7V155.3M716.5 132.7V120.7M716.5 132.7V148M716.5 132.7V91.6M717 132.7V116.8M717 132.7V114.7M717 132.7V146.1M717.5 132.7V119.5M717.5 132.7V148.6M717.5 132.7V161.6M856 132.7V147M856 132.7V114.1M856 132.7V144.6M856.5 132.7V110.8M856.5 132.7V119.2M856.5 132.7V121.3M857 132.7V111.9M857 132.7V118.3M857 132.7V149M857.5 132.7V109.3M857.5 132.7V148M857.5 132.7V150.8M858 132.7V152.3M858 132.7V121.6M858 132.7V145.8M858.5 132.7V116.9M858.5 132.7V116.8M858.5 132.7V118.6M859 132.7V147M859 132.7V106.2M859 132.7V147.8M859.5 132.7V156.8M859.5 132.7V119.5M859.5 132.7V145.5M860 132.7V149.9M860 132.7V108.2M860 132.7V146.9M860.5 132.7V149.4M860.5 132.7V120.4M860.5 132.7V114.1M861 132.7V148.5M861 132.7V120.5M861 132.7V145.1M861.5 132.7V115.5M861.5 132.7V102.4M861.5 132.7V107.3M862 132.7V152.6M862 132.7V157.9M862 132.7V92.3M862.5 132.7V120.5M862.5 132.7V108.1M862.5 132.7V165.8M863 132.7V144.6M863 132.7V111.9M863 132.7V155.1M863.5 132.7V119.7M863.5 132.7V153.7M863.5 132.7V150.3M864 132.7V145.9M864 132.7V109.6M864 132.7V118.9M864.5 132.7V151.3M864.5 132.7V153.1M864.5 132.7V147M865 132.7V151.6M865 132.7V115.6M865 132.7V145.4M865.5 132.7V111.2M865.5 132.7V121M865.5 132.7V153.1M866 132.7V152M866 132.7V147.6M866 132.7V119.5M866.5 132.7V147.3M866.5 132.7V106.3M866.5 132.7V116.6M867 132.7V119.3M867 132.7V160.2M867 132.7V146.4M867.5 132.7V145.1M867.5 132.7V158.5M867.5 132.7V151.4M868 132.7V115M868 132.7V156M868 132.7V116.9M868.5 132.7V144.1M868.5 132.7V151.5M868.5 132.7V117.9M869 132.7V167.1M869 132.7V150.5M869 132.7V143.9M869.5 132.7V121.2M869.5 132.7V121.9M869.5 132.7V165.5M870 132.7V149.1M870 132.7V115.2M870 132.7V120.8M870.5 132.7V121.4M870.5 132.7V107.6M870.5 132.7V145.2M871 132.7V121.5M871 132.7V144.8M871 132.7V101.8M871.5 132.7V144.3M871.5 132.7V114.8M871.5 132.7V119.6M872 132.7V119.1M872 132.7V155.8M872 132.7V144.1M872.5 132.7V121.7M872.5 132.7V159.7M872.5 132.7V97.9M873 132.7V110.6M873 132.7V106.9M873 132.7V116.2M873.5 132.7V145.1M873.5 132.7V145.9M873.5 132.7V120.2M874 132.7V113.6M874 132.7V143.9M874 132.7V120M874.5 132.7V161.4M874.5 132.7V97.3M874.5 132.7V121.5M875 132.7V117.2M875 132.7V150.8M875 132.7V116.8M875.5 132.7V153.3M875.5 132.7V121.4M875.5 132.7V148.2M876 132.7V144.9M876 132.7V143.6M876 132.7V112.6M876.5 132.7V155.5M876.5 132.7V118.7M876.5 132.7V150.6M877 132.7V149.8M877 132.7V121.4M877 132.7V96.1M877.5 132.7V153.1M877.5 132.7V116.6M877.5 132.7V113.7M878 132.7V144.1M878 132.7V119.3M878 132.7V116.7M878.5 132.7V149M878.5 132.7V145.2M878.5 132.7V119.9M879 132.7V144M879 132.7V121.9M879 132.7V116.9M879.5 132.7V115.3M879.5 132.7V118.5M879.5 132.7V117.5M880 132.7V146.7M880 132.7V115.3M880 132.7V117.4M880.5 132.7V153.8M880.5 132.7V152.8M880.5 132.7V160.3M881 132.7V168.4M881 132.7V144.3M881 132.7V117.6M881.5 132.7V91.7M881.5 132.7V117.6M881.5 132.7V148.6M882 132.7V154.1M882 132.7V120.2M882 132.7V146M882.5 132.7V145.4M882.5 132.7V118.6M882.5 132.7V112.5M883 132.7V116.3M883 132.7V149.3M883 132.7V148.5M883.5 132.7V151.6M883.5 132.7V144.6M883.5 132.7V118M884 132.7V121.6M884 132.7V149.2M884 132.7V99.2M884.5 132.7V114.6M884.5 132.7V109.9M884.5 132.7V116M885 132.7V120.8M885 132.7V175.6M885 132.7V116.5M885.5 132.7V117.8M885.5 132.7V110.6M885.5 132.7V145.3M886 132.7V112.9M886 132.7V109.3M886 132.7V151.2M886.5 132.7V114.9M886.5 132.7V90.2M886.5 132.7V155.1M887 132.7V101.2M887 132.7V144.2M887 132.7V152M887.5 132.7V117.6M887.5 132.7V146.4M887.5 132.7V144M888 132.7V152.6M888 132.7V116.8M888 132.7V112.6M888.5 132.7V104.2M888.5 132.7V152.4M888.5 132.7V145.5M889 132.7V151.6M889 132.7V158.2M889 132.7V171.8M889.5 132.7V116.8M889.5 132.7V118.5M889.5 132.7V116M890 132.7V154.2M890 132.7V119.2M890 132.7V117.3M890.5 132.7V145.5M890.5 132.7V113M890.5 132.7V118.1M891 132.7V159.1M891 132.7V121.8M891 132.7V149.9M891.5 132.7V150.6M891.5 132.7V146.8M891.5 132.7V91M892 132.7V115.1M892 132.7V147.5M892 132.7V113.8M892.5 132.7V160.2M892.5 132.7V152M892.5 132.7V147.3M893 132.7V156.6M893 132.7V100.4M893 132.7V118.7M893.5 132.7V121.3M893.5 132.7V160.2M893.5 132.7V167.8M894 132.7V149.5M894 132.7V120M894 132.7V143.7M894.5 132.7V118.7M894.5 132.7V98.5M894.5 132.7V149.2M895 132.7V154.6M895 132.7V144.8M895 132.7V164.9M895.5 132.7V111.6M895.5 132.7V148.7M895.5 132.7V152.1M896 132.7V171.2M896 132.7V165.8M896 132.7V116.9M896.5 132.7V146.6M896.5 132.7V152.5M896.5 132.7V120.4M897 132.7V146.2M897 132.7V154.7M897 132.7V100.9M897.5 132.7V95.7M897.5 132.7V156M897.5 132.7V120.4M898 132.7V115.4M898 132.7V107.4M898 132.7V115.6M898.5 132.7V150.3M898.5 132.7V172.5M898.5 132.7V152.5M899 132.7V110M899 132.7V112.8M899 132.7V110.8M899.5 132.7V105.2M899.5 132.7V149.2M899.5 132.7V117.3M900 132.7V145.1M900 132.7V120.4M900 132.7V115.8M900.5 132.7V95.3M900.5 132.7V155.8M900.5 132.7V170.4M901 132.7V115.1M901 132.7V116.5M901 132.7V150.7M901.5 132.7V151.3M901.5 132.7V100M901.5 132.7V144.2M902 132.7V105.7M902 132.7V103.5M902 132.7V147.4M902.5 132.7V149.6M902.5 132.7V145.6M902.5 132.7V146.4M903 132.7V146.7M903 132.7V158.8M903 132.7V150.9M903.5 132.7V147.5M903.5 132.7V101.6M903.5 132.7V111.3M904 132.7V143.8M904 132.7V148.9M904 132.7V102.2M904.5 132.7V113.7M904.5 132.7V115.9M904.5 132.7V121.5M905 132.7V150.9M905 132.7V167.8M905 132.7V149.2M905.5 132.7V120M905.5 132.7V96.1M905.5 132.7V115.8M906 132.7V146.2M906 132.7V155.3M906 132.7V156.5M906.5 132.7V121M906.5 132.7V112.2M906.5 132.7V93.2M907 132.7V120.9M907 132.7V114.5M907 132.7V151.3M907.5 132.7V120.5M907.5 132.7V150.3M907.5 132.7V116.1M908 132.7V120.4M908 132.7V157.3M908 132.7V149M908.5 132.7V158.5M908.5 132.7V150.5M908.5 132.7V156.8M909 132.7V108.1M909 132.7V156.4M909 132.7V120.6M909.5 132.7V155.7M909.5 132.7V147.7M909.5 132.7V107.5M910 132.7V159.7M910 132.7V120.6M910 132.7V155.9M910.5 132.7V152.1M910.5 132.7V108.7M910.5 132.7V158.6M911 132.7V119.7M911 132.7V145.3M911 132.7V158.3M911.5 132.7V147.8M911.5 132.7V119.2M911.5 132.7V152.5M912 132.7V146.3M912 132.7V143.6M912 132.7V115.8M912.5 132.7V117.2M912.5 132.7V103.2M912.5 132.7V150.8M913 132.7V144.9M913 132.7V118.4M913 132.7V121M913.5 132.7V144.9M913.5 132.7V145.7M913.5 132.7V119M914 132.7V146.2M914 132.7V119.5M914 132.7V152M914.5 132.7V117.4M914.5 132.7V120.8M914.5 132.7V143.9M915 132.7V143.8M915 132.7V147.7M915 132.7V107.9M915.5 132.7V110.5M915.5 132.7V118.4M915.5 132.7V112.4M916 132.7V149M916 132.7V112.9M916 132.7V121.6M916.5 132.7V112.7M916.5 132.7V119.8M916.5 132.7V119.4M917 132.7V114.2M917 132.7V116M917 132.7V146M917.5 132.7V151.3M917.5 132.7V120.8M917.5 132.7V120.5M918 132.7V121.7M918 132.7V121.8M918 132.7V112M918.5 132.7V120.6M918.5 132.7V160.6M918.5 132.7V115.4M919 132.7V107.6M919 132.7V117M919 132.7V120.3M919.5 132.7V110.6M919.5 132.7V158.8M919.5 132.7V144.3M920 132.7V118.9M920 132.7V117.5M920 132.7V154M920.5 132.7V105.6M920.5 132.7V120.7M920.5 132.7V146M921 132.7V146.8M921 132.7V115.2M921 132.7V144.7M921.5 132.7V107.5M921.5 132.7V93.3M921.5 132.7V120.9M922 132.7V153.9M922 132.7V116.6M922 132.7V113.5M922.5 132.7V158.9M922.5 132.7V167.6M922.5 132.7V145.1M923 132.7V143.8M923 132.7V115.6M923 132.7V150.6M923.5 132.7V109.2M923.5 132.7V107.7M923.5 132.7V143.7M924 132.7V120.8M924 132.7V121.4M924 132.7V145.4M924.5 132.7V146M924.5 132.7V121.9M924.5 132.7V144.9M925 132.7V109.7M925 132.7V90.5M925 132.7V151.5M925.5 132.7V119.3M925.5 132.7V158.2M925.5 132.7V156.9M926 132.7V116.3M926 132.7V157.2M926 132.7V118M926.5 132.7V110.9M926.5 132.7V116.2M926.5 132.7V164.2M927 132.7V104.1M927 132.7V111.1M927 132.7V121.3M927.5 132.7V145.8M927.5 132.7V150.9M927.5 132.7V144M928 132.7V117.6M928 132.7V144.5M928 132.7V147.7M928.5 132.7V118.5M928.5 132.7V143.5M928.5 132.7V152.6M929 132.7V144.2M929 132.7V116.4M929 132.7V97.7M929.5 132.7V92.2M929.5 132.7V120.2M929.5 132.7V119.7M930 132.7V145.5M930 132.7V114.7M930 132.7V119.2M930.5 132.7V111.5M930.5 132.7V154.5M930.5 132.7V144M931 132.7V121.1M931 132.7V93.8M931 132.7V143.8M931.5 132.7V117.2M931.5 132.7V155.6M931.5 132.7V118.8M932 132.7V114.3M932 132.7V117.8M932 132.7V110.5M932.5 132.7V144.7M932.5 132.7V151.8M932.5 132.7V115.4M933 132.7V121.4M933 132.7V112.7M933 132.7V118.9M933.5 132.7V149.4M933.5 132.7V116.3M933.5 132.7V143.6M934 132.7V154.7M934 132.7V121.5M934 132.7V111.9M934.5 132.7V158.2M934.5 132.7V118.9M934.5 132.7V121.1M935 132.7V144.3M935 132.7V116.8M935 132.7V146.8M935.5 132.7V146.7M935.5 132.7V108.1M935.5 132.7V119.3M936 132.7V105.9M936 132.7V150.8M936 132.7V145.8M936.5 132.7V147.4M936.5 132.7V144.9M936.5 132.7V144.8M937 132.7V117.6M937 132.7V121.9M937 132.7V121.6M937.5 132.7V119.6M937.5 132.7V120.2M937.5 132.7V144.5M938 132.7V111.6M938 132.7V153.2M938 132.7V120.3M938.5 132.7V111.9M938.5 132.7V119.3M938.5 132.7V117.8M939 132.7V155.7M939 132.7V119.8M939 132.7V143.7M939.5 132.7V108.4M939.5 132.7V145.7M939.5 132.7V146.4M940 132.7V117.1M940 132.7V146.3M940 132.7V120.1M940.5 132.7V149.1M940.5 132.7V161M940.5 132.7V158.7M1042 132.7V164.5M1042 132.7V105.5M1042 132.7V114.1M1042.5 132.7V163.6M1042.5 132.7V111.3M1042.5 132.7V151M1043 132.7V156.1M1043 132.7V105.7M1043 132.7V106.8M1043.5 132.7V112.2M1043.5 132.7V155.1M1043.5 132.7V96.9M1044 132.7V151.3M1044 132.7V167.1M1044 132.7V111.4M1044.5 132.7V159.1M1044.5 132.7V111.5M1044.5 132.7V97.3M1045 132.7V164.8M1045 132.7V152.6M1045 132.7V108.8M1045.5 132.7V154.4M1045.5 132.7V107.2M1045.5 132.7V111.6M1046 132.7V113.1M1046 132.7V92M1046 132.7V104.1M1046.5 132.7V108.3M1046.5 132.7V109.1M1046.5 132.7V180.1M1047 132.7V171.2M1047 132.7V110.1M1047 132.7V154.6M1047.5 132.7V84.2M1047.5 132.7V114.2M1047.5 132.7V89.9M1048 132.7V156.1M1048 132.7V107M1048 132.7V169.3M1048.5 132.7V108.8M1048.5 132.7V154.2M1048.5 132.7V159.9M1049 132.7V96.5M1049 132.7V158.2M1049 132.7V153.6M1049.5 132.7V71.9M1049.5 132.7V112.8M1049.5 132.7V186.2M1050 132.7V98.4M1050 132.7V91.1M1050 132.7V184.9M1050.5 132.7V74.7M1050.5 132.7V168.9M1050.5 132.7V93.8M1051 132.7V164.8M1051 132.7V157.9M1051 132.7V81.4M1051.5 132.7V89.5M1051.5 132.7V78.9M1051.5 132.7V167.1M1052 132.7V155.6M1052 132.7V169.4M1052 132.7V155.3M1052.5 132.7V166.5M1052.5 132.7V99.7M1052.5 132.7V102.8M1053 132.7V106.9M1053 132.7V110.8M1053 132.7V156.3M1053.5 132.7V102.3M1053.5 132.7V161.8M1053.5 132.7V103.5M1054 132.7V170.5M1054 132.7V107.6M1054 132.7V111M1054.5 132.7V63.8M1054.5 132.7V85.6M1054.5 132.7V166.5M1055 132.7V164M1055 132.7V109.6M1055 132.7V169.8M1055.5 132.7V106.1M1055.5 132.7V103.4M1055.5 132.7V179M1056 132.7V109.3M1056 132.7V167.4M1056 132.7V101.6M1056.5 132.7V105.3M1056.5 132.7V199.8M1056.5 132.7V159.6M1057 132.7V91.5M1057 132.7V180.2M1057 132.7V166.1M1057.5 132.7V107.4M1057.5 132.7V162.5M1057.5 132.7V103.5M1058 132.7V92.9M1058 132.7V195.9M1058 132.7V72.8M1058.5 132.7V85.4M1058.5 132.7V107.2M1058.5 132.7V158.4M1059 132.7V107.8M1059 132.7V105.8M1059 132.7V208.1M1059.5 132.7V100M1059.5 132.7V103.2M1059.5 132.7V57.3M1060 132.7V92.1M1060 132.7V170.3M1060 132.7V162.1M1060.5 132.7V212.4M1060.5 132.7V92.6M1060.5 132.7V174.6M1061 132.7V74.8M1061 132.7V178.9M1061 132.7V160.4M1061.5 132.7V175.6M1061.5 132.7V160.4M1061.5 132.7V161M1062 132.7V199.5M1062 132.7V180.8M1062 132.7V164.7M1062.5 132.7V105.5M1062.5 132.7V160.1M1062.5 132.7V94.8M1063 132.7V103.2M1063 132.7V162.2M1063 132.7V170.9M1063.5 132.7V103M1063.5 132.7V60.4M1063.5 132.7V104.6M1064 132.7V161.4M1064 132.7V178.4M1064 132.7V60.1M1064.5 132.7V71.2M1064.5 132.7V162M1064.5 132.7V166M1065 132.7V103.5M1065 132.7V160.3M1065 132.7V105M1065.5 132.7V192.2M1065.5 132.7V98M1065.5 132.7V59.6M1066 132.7V162.7M1066 132.7V167.8M1066 132.7V216.3M1066.5 132.7V220M1066.5 132.7V92.4M1066.5 132.7V184.9M1067 132.7V98.7M1067 132.7V65.4M1067 132.7V195.3M1067.5 132.7V161.8M1067.5 132.7V188.6M1067.5 132.7V175.7M1068 132.7V101.1M1068 132.7V163.6M1068 132.7V95.2M1068.5 132.7V169.5M1068.5 132.7V89M1068.5 132.7V97.5M1069 132.7V101.9M1069 132.7V185.9M1069 132.7V93.7M1069.5 132.7V165.9M1069.5 132.7V92.7M1069.5 132.7V39.8M1070 132.7V74.9M1070 132.7V93.4M1070 132.7V100.4M1070.5 132.7V167.6M1070.5 132.7V63.1M1070.5 132.7V176.3M1071 132.7V172.7M1071 132.7V202.5M1071 132.7V210.2M1071.5 132.7V167.4M1071.5 132.7V72.5M1071.5 132.7V171.9M1072 132.7V197.2M1072 132.7V170.1M1072 132.7V59.4M1072.5 132.7V212.4M1072.5 132.7V86.8M1072.5 132.7V97.6M1073 132.7V175.6M1073 132.7V205M1073 132.7V86.3M1073.5 132.7V98.3M1073.5 132.7V191.8M1073.5 132.7V90.1M1074 132.7V176.6M1074 132.7V89.4M1074 132.7V188.1M1074.5 132.7V88.3M1074.5 132.7V82.5M1074.5 132.7V74.4M1075 132.7V98M1075 132.7V184.6M1075 132.7V169.1M1075.5 132.7V176.2M1075.5 132.7V189.9M1075.5 132.7V51.7M1076 132.7V84.3M1076 132.7V183.7M1076 132.7V93.7M1076.5 132.7V95.8M1076.5 132.7V220.1M1076.5 132.7V215.9M1077 132.7V204.8M1077 132.7V174.3M1077 132.7V195.6M1077.5 132.7V184.1M1077.5 132.7V92.1M1077.5 132.7V48.1M1078 132.7V44.2M1078 132.7V194.1M1078 132.7V93.8M1078.5 132.7V57.7M1078.5 132.7V210.5M1078.5 132.7V172.7M1079 132.7V56.9M1079 132.7V171.7M1079 132.7V177.2M1079.5 132.7V89.1M1079.5 132.7V177.7M1079.5 132.7V193.6M1080 132.7V197.3M1080 132.7V206.1M1080 132.7V208.5M1080.5 132.7V41.2M1080.5 132.7V189M1080.5 132.7V70M1081 132.7V55.1M1081 132.7V78.7M1081 132.7V53.4M1081.5 132.7V222.9M1081.5 132.7V71.2M1081.5 132.7V59M1082 132.7V52.5M1082 132.7V211.6M1082 132.7V60.7M1082.5 132.7V202.7M1082.5 132.7V67.2M1082.5 132.7V208.2M1083 132.7V213M1083 132.7V68.7M1083 132.7V55.2M1083.5 132.7V211.7M1083.5 132.7V68.1M1083.5 132.7V42.3M1084 132.7V215M1084 132.7V208.9M1084 132.7V200.4M1084.5 132.7V207.7M1084.5 132.7V223.4M1084.5 132.7V63M1085 132.7V204.5M1085 132.7V199.1M1085 132.7V229.4M1085.5 132.7V217.6M1085.5 132.7V39.3M1085.5 132.7V58.5M1086 132.7V51M1086 132.7V38.5M1086 132.7V208.2M1086.5 132.7V36.3M1086.5 132.7V69.8M1086.5 132.7V55.4M1087 132.7V198.7M1087 132.7V58M1087 132.7V51.2M1087.5 132.7V45.5M1087.5 132.7V74.4M1087.5 132.7V57.9M1088 132.7V227.3M1088 132.7V63.5M1088 132.7V205.1M1088.5 132.7V70.5M1088.5 132.7V217M1088.5 132.7V44.2M1089 132.7V60.5M1089 132.7V47M1089 132.7V41.8M1089.5 132.7V74.8M1089.5 132.7V47.3M1089.5 132.7V63.5M1090 132.7V73.1M1090 132.7V221.5M1090 132.7V204.9M1090.5 132.7V70M1090.5 132.7V40M1090.5 132.7V224.6M1091 132.7V55.9M1091 132.7V206.1M1091 132.7V224.3M1091.5 132.7V70.4M1091.5 132.7V32.9M1091.5 132.7V193.1M1092 132.7V215.8M1092 132.7V228M1092 132.7V35.3M1092.5 132.7V200.5M1092.5 132.7V194.8M1092.5 132.7V55.2M1093 132.7V199.9M1093 132.7V225.8M1093 132.7V232.7M1093.5 132.7V51.2M1093.5 132.7V37.6M1093.5 132.7V58.5M1094 132.7V59.6M1094 132.7V187.7M1094 132.7V57.1M1094.5 132.7V73.2M1094.5 132.7V206.1M1094.5 132.7V53.8M1095 132.7V196.5M1095 132.7V56.1M1095 132.7V189.2M1095.5 132.7V32.5M1095.5 132.7V57.6M1095.5 132.7V48.7M1096 132.7V49.3M1096 132.7V210.8M1096 132.7V195.1M1096.5 132.7V226.8M1096.5 132.7V210.8M1096.5 132.7V185.3M1097 132.7V52.2M1097 132.7V219.1M1097 132.7V60.5M1097.5 132.7V54.9M1097.5 132.7V220M1097.5 132.7V54.8M1098 132.7V57.2M1098 132.7V223.2M1098 132.7V191.6M1098.5 132.7V60.4M1098.5 132.7V81.5M1098.5 132.7V206.1M1099 132.7V66.4M1099 132.7V214.5M1099 132.7V213.4M1099.5 132.7V56.2M1099.5 132.7V83.9M1099.5 132.7V67.7M1100 132.7V202.2M1100 132.7V41.6M1100 132.7V202.6M1100.5 132.7V194.2M1100.5 132.7V84.1M1100.5 132.7V73.5M1101 132.7V84.8M1101 132.7V67.9M1101 132.7V188.4M1101.5 132.7V71.4M1101.5 132.7V232.5M1101.5 132.7V219.1M1102 132.7V48.6M1102 132.7V42.9M1102 132.7V37.2M1102.5 132.7V221.4M1102.5 132.7V183.6M1102.5 132.7V59.6M1103 132.7V80.7M1103 132.7V184.9M1103 132.7V193.6M1103.5 132.7V58.5M1103.5 132.7V230.3M1103.5 132.7V187.5M1104 132.7V77.8M1104 132.7V212.7M1104 132.7V195.6M1104.5 132.7V69.1M1104.5 132.7V68.4M1104.5 132.7V68.9M1105 132.7V216M1105 132.7V47.3M1105 132.7V73M1105.5 132.7V38M1105.5 132.7V181.2M1105.5 132.7V224.5M1106 132.7V53.4M1106 132.7V219.5M1106 132.7V56.5M1106.5 132.7V85M1106.5 132.7V207.9M1106.5 132.7V189.7M1107 132.7V58.3M1107 132.7V211.3M1107 132.7V76.5M1107.5 132.7V70.9M1107.5 132.7V73.1M1107.5 132.7V184.6M1108 132.7V208.5M1108 132.7V79M1108 132.7V75.3M1108.5 132.7V72.3M1108.5 132.7V188.3M1108.5 132.7V59.9M1109 132.7V232.7M1109 132.7V182.6M1109 132.7V59.9M1109.5 132.7V76.9M1109.5 132.7V187.8M1109.5 132.7V58.5M1110 132.7V201.4M1110 132.7V212.5M1110 132.7V79.1M1110.5 132.7V43.3M1110.5 132.7V50.1M1110.5 132.7V73.9M1111 132.7V77.3M1111 132.7V65.6M1111 132.7V33.2M1111.5 132.7V205.5M1111.5 132.7V62.4M1111.5 132.7V62M1112 132.7V209.2M1112 132.7V44.5M1112 132.7V45.2M1112.5 132.7V34.4M1112.5 132.7V75.2M1112.5 132.7V77.1M1113 132.7V49.7M1113 132.7V204.1M1113 132.7V71.3M1113.5 132.7V193.2M1113.5 132.7V224.3M1113.5 132.7V73M1114 132.7V211.5M1114 132.7V218.2M1114 132.7V204.9M1114.5 132.7V60.6M1114.5 132.7V206.3M1114.5 132.7V36.7M1115 132.7V75.9M1115 132.7V216M1115 132.7V206.2M1115.5 132.7V216.8M1115.5 132.7V198.3M1115.5 132.7V49.1M1116 132.7V193.7M1116 132.7V63.9M1116 132.7V54.4M1116.5 132.7V41.4M1116.5 132.7V191M1116.5 132.7V210.8M1117 132.7V47.6M1117 132.7V67.1M1117 132.7V206.1M1117.5 132.7V208.1M1117.5 132.7V57.6M1117.5 132.7V42.1M1118 132.7V45.1M1118 132.7V63.6M1118 132.7V224.1M1118.5 132.7V68.7M1118.5 132.7V190.4M1118.5 132.7V48.2M1119 132.7V71.7M1119 132.7V195.8M1119 132.7V71.6M1119.5 132.7V191.6M1119.5 132.7V66.7M1119.5 132.7V57.4M1120 132.7V36.1M1120 132.7V64.5M1120 132.7V194.1M1120.5 132.7V206.6M1120.5 132.7V66.3M1120.5 132.7V212.2M1121 132.7V54.8M1121 132.7V221.1M1121 132.7V202M1121.5 132.7V226.8M1121.5 132.7V195.7M1121.5 132.7V33.6" stroke="#7a7a7a" stroke-width="0.6" fill="none"/>
<path d="M425 128.6 425.5 127.7 426 128.6 426.5 128.7 427 127 427.5 128.1 428 127.5 428.5 128.6 429 127.5 429.5 127.2 430 126.9 430.5 127.8 431 128.2 431.5 128.4 432 127.1 432.5 127.9 433 128.7 433.5 128 434 127.5 434.5 127.1 435 128.8 435.5 128.2 436 127.1 436.5 128.2 437 128.6 437.5 128 438 128.8 438.5 127.2 439 128.3 439.5 128.7 440 128.8 440.5 127.9 441 127.4 441.5 128.8 442 127.1 442.5 127.3 443 128.7 443.5 128.3 444 127.9 444.5 128.4 445 128.4 445.5 127 446 128 446.5 127.4 447 128.7 447.5 128.4 448 127.4 448.5 127.6 449 127.3 449.5 128.6 450 128.6 450.5 120.1 451 119.7 451.5 122.2 452 119.5 452.5 120.2 453 120.8 453.5 123.3 454 120.7 454.5 123.5 455 120.9 455.5 119.7 456 122.8 456.5 123.4 457 123.6 457.5 121.1 458 120.6 458.5 121.5 459 121 459.5 120 460 121.3 460.5 122.2 461 121.2 461.5 119.9 462 120.6 462.5 123.7 463 123.7 463.5 120.9 464 121.1 464.5 120 465 121.2 465.5 119.6 466 119.3 466.5 119.5 467 123.1 467.5 122.4 468 119.7 468.5 121.5 469 123 469.5 120 470 123.4 470.5 122.5 471 123.6 471.5 123.1 472 119.9 472.5 123.7 473 123.2 473.5 123 474 122.1 474.5 121.1 475 123.7 475.5 120.5 476 123.2 476.5 119.3 477 122.5 477.5 121 478 120.2 478.5 120.6 479 120.3 479.5 121 480 122.4 480.5 121.1 481 120.7 481.5 121.1 482 119.3 482.5 122.5 483 120.5 483.5 121.1 484 120.1 484.5 121.3 485 120.2 485.5 119.1 486 120.2 486.5 123 487 122.2 487.5 120.6 488 122.2 488.5 122.9 489 119.5 489.5 120.6 490 122.8 490.5 120.2 491 123.7 491.5 119.1 492 119.8 492.5 122.1 493 122.5 493.5 120.4 494 120.8 494.5 122.8 495 120.9 495.5 120.2 496 122.9 496.5 123.1 497 120.8 497.5 121.9 498 120.8 498.5 123.1 499 120.4 499.5 123.1 500 121.4 500.5 120.5 501 119.8 501.5 119.3 502 122.4 502.5 122.6 503 121 503.5 121.2 504 121.5 504.5 121.2 505 120 505.5 121.2 506 120.8 506.5 121.7 507 123.2 507.5 120.3 508 120.3 508.5 119.7 509 122.3 509.5 121.5 510 119.1 510.5 123.6 511 122.4 511.5 121.5 512 121.6 512.5 123.7 513 123.1 513.5 122 514 120.5 514.5 122 515 121.4 515.5 122.6 516 121.6 516.5 119.4 517 122.7 517.5 120.2 518 123.8 518.5 121.9 519 122.2 519.5 123.4 520 123.7 520.5 121.8 521 120.8 521.5 123.5 522 121.4 522.5 121.3 523 123.7 523.5 119.1 524 121.8 524.5 122.9 525 119.5 525.5 123.5 526 123 526.5 123.2 527 121.8 527.5 120.7 528 122.2 528.5 120.1 529 122.6 529.5 121.6 530 122.6 530.5 119.8 531 120.2 531.5 123.6 532 121.9 532.5 119.1 533 122.8 533.5 119.4 534 119.6 534.5 121.5 535 119.6 535.5 122.9 536 120.7 536.5 120.2 537 123.6 537.5 122.8 538 123.3 538.5 121.2 539 123.2 539.5 121.8 540 121.3 540.5 119.8 541 121.8 541.5 122.7 542 123 542.5 122.3 543 122.3 543.5 123.3 544 121.8 544.5 120 545 122 545.5 121.2 546 121.1 546.5 120.8 547 121.9 547.5 119.9 548 119.9 548.5 119.8 549 123.3 549.5 119.5 550 121 550.5 121.2 551 122.7 551.5 120 552 120.4 552.5 121.7 553 123 553.5 120 554 119.7 554.5 120.3 555 121.8 555.5 119.9 556 120.6 556.5 122.6 557 120.8 557.5 122 558 121.5 558.5 123.5 559 122.5 559.5 120.3 560 122.6 560.5 121.1 561 121.1 561.5 119.6 562 121.4 562.5 122 563 121.3 563.5 123.7 564 119.4 564.5 122.2 565 122 565.5 120.3 566 127.1 566.5 128.8 567 128.1 567.5 127.2 568 128.5 568.5 127.8 569 127.5 569.5 128.4 570 128.4 570.5 127.4 571 126.9 571.5 128.4 572 128 572.5 127.8 573 128.8 573.5 128.2 574 128.5 574.5 128.4 575 127.3 575.5 128.8 576 127.1 576.5 128.9 577 128.5 577.5 128.1 578 127 578.5 128.7 579 127.1 579.5 127.9 580 127.5 580.5 128.4 581 127.2 581.5 127.6 582 128.8 582.5 127.6 583 126.9 583.5 127.4 584 127.7 584.5 128.1 585 127.9 585.5 128.3 586 127.8 586.5 127 587 127.1 587.5 128.5 588 128.5 588.5 128.7 589 127.1 589.5 128.8 590 128 590.5 127.5 591 128 591.5 128.7 592 127.7 592.5 127.1 593 128.1 593.5 127.3 594 128.3 594.5 127 595 126.9 595.5 127.5 596 128.2 596.5 128.9 597 127.9 597.5 127.3 598 127.3 598.5 128.1 599 127.6 599.5 127 600 128.4 600.5 127.2 601 128.6 601.5 128.7 602 127.8 602.5 128.6 603 127.3 603.5 128.1 604 127.8 604.5 127.4 605 127.7 605.5 127.7 606 128.3 606.5 128.3 607 126.9 607.5 127.6 608 127.1 608.5 127.6 609 126.9 609.5 127.9 610 127 610.5 127.1 611 128.8 611.5 128.7 612 128.4 612.5 126.9 613 128.7 613.5 127.5 614 128 614.5 127.4 615 127.4 615.5 128.7 616 127.7 616.5 127.1 617 127.3 617.5 128.8 618 127 618.5 128.9 619 128.2 619.5 128 620 127.2 620.5 128.3 621 127.8 621.5 127.8 622 127.4 622.5 127.6 623 127.7 623.5 127.3 624 128.4 624.5 127.8 625 128.2 625.5 128 626 126.9 626.5 128.8 627 127.9 627.5 128.6 628 127.6 628.5 127.9 629 127.2 629.5 128.1 630 127.9 630.5 128.4 631 127.3 631.5 128.6 632 128.5 632.5 128.3 633 128.7 633.5 127 634 127.9 634.5 127.1 635 128.8 635.5 127.5 636 126.9 636.5 127.7 637 128.7 637.5 126.9 638 120.1 638.5 122 639 123.3 639.5 121.7 640 123.6 640.5 119.4 641 123.2 641.5 119.8 642 123.7 642.5 120.9 643 120.7 643.5 123.5 644 121.5 644.5 120.2 645 123.3 645.5 121.2 646 120.1 646.5 119.6 647 121.6 647.5 123.2 648 122.8 648.5 122.2 649 119.8 649.5 121.2 650 120.3 650.5 119.5 651 121.8 651.5 122 652 123.2 652.5 121.8 653 121.6 653.5 121.9 654 122.6 654.5 122 655 122.4 655.5 120.3 656 122.6 656.5 120.1 657 121 657.5 120 658 121.8 658.5 120.8 659 119.4 659.5 123.7 660 119.3 660.5 121.5 661 122.4 661.5 123 662 120.1 662.5 119.1 663 119.5 663.5 120.5 664 121 664.5 121.4 665 120.1 665.5 120.8 666 122 666.5 120.8 667 123.4 667.5 122.8 668 120.7 668.5 122.9 669 122.3 669.5 121.4 670 120.2 670.5 123.2 671 122.4 671.5 122.1 672 121.4 672.5 121.8 673 122.3 673.5 123.2 674 121.9 674.5 120.2 675 122.7 675.5 122.5 676 123.4 676.5 119.8 677 120.4 677.5 120.4 678 123.7 678.5 121.9 679 122 679.5 120.1 680 122.9 680.5 123.4 681 123.8 681.5 121.7 682 121.2 682.5 122.8 683 123.5 683.5 121.7 684 122.5 684.5 122.7 685 120.2 685.5 122.1 686 123.5 686.5 120.2 687 122.7 687.5 119.3 688 119.6 688.5 123 689 119.3 689.5 119.5 690 119.9 690.5 119.7 691 120.8 691.5 123.6 692 122.6 692.5 120.9 693 123.4 693.5 122 694 123.2 694.5 119.5 695 119.1 695.5 119.4 696 122.9 696.5 123.1 697 120.5 697.5 120.3 698 121.7 698.5 121.3 699 120.3 699.5 119.4 700 123.1 700.5 121.6 701 120.7 701.5 120.7 702 121.3 702.5 119.8 703 123.7 703.5 120.3 704 120.8 704.5 122.8 705 122.4 705.5 122.5 706 121.9 706.5 121 707 120.8 707.5 120 708 123.2 708.5 121.5 709 120.8 709.5 119.9 710 120.4 710.5 120.8 711 120.8 711.5 122 712 120.5 712.5 120.6 713 119.2 713.5 123.1 714 121.4 714.5 120.2 715 123.2 715.5 119.2 716 122.2 716.5 120.6 717 121 717.5 123.6 718 128.9 718.5 127.3 719 127.5 719.5 126.9 720 127.7 720.5 127.6 721 128.5 721.5 128 722 127.4 722.5 127.4 723 127.3 723.5 128 724 127 724.5 126.9 725 127.5 725.5 128.5 726 127.6 726.5 127.9 727 128.3 727.5 126.9 728 127.7 728.5 127.1 729 127.9 729.5 127.2 730 127.3 730.5 127.8 731 127.6 731.5 127.5 732 128 732.5 128.6 733 127.7 733.5 128.5 734 127 734.5 128.7 735 128.4 735.5 128.7 736 127.6 736.5 128.5 737 128.6 737.5 128.6 738 127 738.5 127.4 739 127.2 739.5 127.9 740 127.3 740.5 128.2 741 127.9 741.5 128.1 742 127.9 742.5 128 743 126.9 743.5 128.3 744 128.4 744.5 127.9 745 128.7 745.5 127.9 746 127.2 746.5 127.8 747 127.6 747.5 126.9 748 127.4 748.5 128.5 749 128.1 749.5 128.3 750 127.4 750.5 128.6 751 127.9 751.5 127.5 752 128.4 752.5 127.9 753 128.1 753.5 127.4 754 128.1 754.5 127.5 755 128.3 755.5 128.4 756 128.3 756.5 128.3 757 128.1 757.5 128.4 758 127.1 758.5 127.3 759 128.4 759.5 127.9 760 127.9 760.5 128.8 761 127 761.5 127.4 762 127.4 762.5 127.4 763 128.3 763.5 128.5 764 128.6 764.5 128 765 127.3 765.5 128.2 766 127.3 766.5 127.8 767 128.4 767.5 128.6 768 127.2 768.5 126.9 769 127 769.5 128.4 770 127.1 770.5 127.2 771 127.1 771.5 127.1 772 128.6 772.5 128.2 773 128.2 773.5 128.2 774 128.6 774.5 127.1 775 127.9 775.5 127.5 776 128.7 776.5 127 777 127.3 777.5 127.1 778 128.1 778.5 128.6 779 127.5 779.5 127.5 780 128.6 780.5 127 781 128.3 781.5 128.5 782 128 782.5 127.1 783 128 783.5 128.2 784 128.7 784.5 127.7 785 127.9 785.5 128.4 786 127.3 786.5 127.2 787 127.7 787.5 128 788 127.5 788.5 128 789 128.3 789.5 128.5 790 128.8 790.5 127.9 791 127.6 791.5 127.5 792 128.3 792.5 128.1 793 128.5 793.5 127.8 794 128.4 794.5 128.2 795 128.4 795.5 127.4 796 127.8 796.5 127.1 797 127 797.5 127.1 798 128.3 798.5 128.6 799 128.4 799.5 128.7 800 127.7 800.5 126.9 801 128 801.5 127 802 128.5 802.5 127.9 803 127.5 803.5 128.8 804 128.4 804.5 127.2 805 128.4 805.5 128.6 806 128.4 806.5 128.7 807 127.8 807.5 128.7 808 127.8 808.5 127.6 809 128.7 809.5 128.4 810 127.7 810.5 127.2 811 126.9 811.5 127.8 812 127.5 812.5 127.1 813 127 813.5 128.2 814 127 814.5 127.9 815 128.8 815.5 127.2 816 127.7 816.5 126.9 817 128.6 817.5 127.5 818 128.1 818.5 128.4 819 128.3 819.5 127 820 128.8 820.5 128.8 821 128.3 821.5 128.8 822 127 822.5 128.2 823 128.7 823.5 127.6 824 127.8 824.5 128.7 825 128.8 825.5 127.4 826 128 826.5 127.9 827 128.7 827.5 127.1 828 127.4 828.5 128.2 829 128.8 829.5 128.1 830 128.8 830.5 127 831 127.1 831.5 128.5 832 126.9 832.5 126.9 833 127.4 833.5 127.5 834 128.2 834.5 128 835 128.8 835.5 128.7 836 128.1 836.5 127.4 837 127.7 837.5 127.7 838 127.5 838.5 127.3 839 127.1 839.5 127.5 840 128.1 840.5 126.9 841 128.8 841.5 128.8 842 128.3 842.5 127.7 843 127.1 843.5 128.5 844 128.7 844.5 128.2 845 128.8 845.5 128.6 846 128.3 846.5 127.2 847 128.7 847.5 127.4 848 127.9 848.5 127.6 849 127.2 849.5 127.5 850 128.6 850.5 126.9 851 127.7 851.5 127.2 852 127.2 852.5 128.5 853 128 853.5 128.4 854 127.4 854.5 127.6 855 127.8 855.5 127.4 856 119.7 856.5 119.8 857 121.8 857.5 120.4 858 123.9 858.5 119.7 859 120.3 859.5 121 860 123.5 860.5 123.5 861 119.8 861.5 122.6 862 123 862.5 121.6 863 122.3 863.5 122.4 864 120.5 864.5 120.2 865 120.7 865.5 119.7 866 122.9 866.5 120.8 867 119.9 867.5 123.1 868 120.1 868.5 122.4 869 120.5 869.5 122.7 870 121.8 870.5 121.3 871 120.1 871.5 123.2 872 122.6 872.5 122 873 122.8 873.5 121.4 874 122.4 874.5 120.9 875 123.5 875.5 123.1 876 123.2 876.5 124 877 122.5 877.5 123.9 878 123.3 878.5 123.6 879 123 879.5 122.9 880 119.7 880.5 120.2 881 123 881.5 120.1 882 121.3 882.5 120.3 883 120.2 883.5 123.1 884 120.1 884.5 120 885 123.1 885.5 119.6 886 121 886.5 119.6 887 123 887.5 121.3 888 123.8 888.5 120.8 889 120.6 889.5 121.6 890 121.1 890.5 122.9 891 123.4 891.5 122.5 892 122 892.5 122.6 893 120.7 893.5 122.5 894 122.9 894.5 121.3 895 119.6 895.5 120.5 896 119.9 896.5 121.7 897 122.9 897.5 120.5 898 119.8 898.5 122.4 899 123.8 899.5 123.5 900 123.6 900.5 121.4 901 122.1 901.5 123.6 902 119.8 902.5 123.3 903 123.2 903.5 121.5 904 120.3 904.5 120 905 122 905.5 123.2 906 119.5 906.5 120.3 907 123.8 907.5 121.4 908 123.5 908.5 121.6 909 122 909.5 123 910 120.3 910.5 122.9 911 121.3 911.5 123.9 912 123 912.5 122.8 913 121.6 913.5 120.8 914 123.6 914.5 119.7 915 120.3 915.5 122.1 916 123.9 916.5 123.5 917 122.1 917.5 120.9 918 119.6 918.5 121.5 919 121.1 919.5 123 920 122.9 920.5 123.6 921 120.4 921.5 123.3 922 122.6 922.5 121.4 923 119.8 923.5 122.5 924 121 924.5 121.9 925 121.2 925.5 122 926 120.5 926.5 123.3 927 121.7 927.5 123.7 928 123.8 928.5 121.6 929 123.6 929.5 123.4 930 123.6 930.5 122.3 931 120.2 931.5 121.5 932 120.6 932.5 119.6 933 123.1 933.5 121.4 934 123.6 934.5 122.4 935 123.9 935.5 120.8 936 121.3 936.5 120.5 937 120 937.5 123.6 938 123.1 938.5 121.6 939 121.4 939.5 119.6 940 121.5 940.5 120 941 120.6 941.5 120.1 942 116.4 942.5 121.1 943 120.7 943.5 115 944 118.2 944.5 116.8 945 115.4 945.5 116.5 946 114.7 946.5 116.9 947 116.5 947.5 117.6 948 116.2 948.5 114.4 949 115.7 949.5 120 950 119.7 950.5 118.8 951 118 951.5 120.6 952 117.6 952.5 117.4 953 119.1 953.5 121.5 954 120.1 954.5 119 955 122.3 955.5 121.3 956 120.6 956.5 122.8 957 123.1 957.5 119.3 958 121.1 958.5 120.2 959 121.8 959.5 118.4 960 121 960.5 119.9 961 120.4 961.5 120.4 962 120.9 962.5 120.4 963 116.7 963.5 118.3 964 116.9 964.5 120 965 120.1 965.5 119.9 966 116.1 966.5 120 967 116.2 967.5 116.1 968 118.9 968.5 117.6 969 117.6 969.5 119.8 970 116.8 970.5 117.6 971 116.5 971.5 120.1 972 118.9 972.5 117.1 973 120.1 973.5 119.9 974 118.1 974.5 119 975 118.9 975.5 121.2 976 121.7 976.5 120.4 977 119.5 977.5 121.7 978 122.4 978.5 119.3 979 121 979.5 118.7 980 118.7 980.5 118.1 981 121.2 981.5 118.8 982 122.3 982.5 119.9 983 118.2 983.5 118 984 121 984.5 116.2 985 119.9 985.5 115.3 986 117.5 986.5 119.9 987 119.6 987.5 118.7 988 119 988.5 114.1 989 116.1 989.5 119.9 990 118.3 990.5 117.2 991 116.9 991.5 116 992 120.8 992.5 119.2 993 120.4 993.5 120.7 994 118.5 994.5 117.5 995 122.7 995.5 117.8 996 121.4 996.5 120 997 119.9 997.5 121.4 998 120.8 998.5 121.2 999 123 999.5 123.6 1000 123.1 1000.5 119.1 1001 121.9 1001.5 121.7 1002 120.4 1002.5 117.9 1003 117.4 1003.5 121.3 1004 120.1 1004.5 120.3 1005 118.4 1005.5 116.9 1006 118 1006.5 116.4 1007 120.1 1007.5 116.1 1008 117.7 1008.5 114.7 1009 115.2 1009.5 115.9 1010 118.9 1010.5 119.2 1011 115.8 1011.5 119 1012 120.4 1012.5 117.1 1013 120.5 1013.5 115.5 1014 118.8 1014.5 118.8 1015 121.9 1015.5 122 1016 120.6 1016.5 121.9 1017 118.7 1017.5 120.9 1018 120.8 1018.5 119.6 1019 123.6 1019.5 120.3 1020 122.4 1020.5 123.6 1021 121.2 1021.5 118.9 1022 122.3 1022.5 122.4 1023 118.9 1023.5 120.3 1024 117.7 1024.5 118.6 1025 120.7 1025.5 117.3 1026 118.1 1026.5 115.8 1027 119.1 1027.5 118.1 1028 118.9 1028.5 117.9 1029 115.8 1029.5 116.2 1030 115.2 1030.5 119.9 1031 115.3 1031.5 118.2 1032 118.1 1032.5 115.5 1033 114.4 1033.5 117.2 1034 120 1034.5 117 1035 119.1 1035.5 120.2 1036 117.7 1036.5 121.2 1037 121.8 1037.5 120.8 1038 120.5 1038.5 120 1039 118.9 1039.5 120.9 1040 121.4 1040.5 120.6 1041 122.8 1041.5 122 1042 115.1 1042.5 118.9 1043 119.6 1043.5 117 1044 112.7 1044.5 118.9 1045 116.4 1045.5 112.8 1046 116.6 1046.5 111.7 1047 115.8 1047.5 113 1048 110.2 1048.5 113.6 1049 114.6 1049.5 109.7 1050 112.8 1050.5 112.1 1051 116.2 1051.5 114.8 1052 110 1052.5 108.5 1053 111.6 1053.5 115.1 1054 114.7 1054.5 112.4 1055 108.3 1055.5 110.1 1056 108.6 1056.5 108.1 1057 112.4 1057.5 110.1 1058 111.2 1058.5 104.5 1059 108.3 1059.5 109 1060 111.6 1060.5 104.1 1061 106.4 1061.5 104.6 1062 103.2 1062.5 103.2 1063 108.1 1063.5 102.1 1064 105.9 1064.5 102.8 1065 102.5 1065.5 105.6 1066 99.7 1066.5 109.1 1067 98.7 1067.5 107.5 1068 102.8 1068.5 106.1 1069 107.5 1069.5 96.6 1070 100.6 1070.5 96.1 1071 97.9 1071.5 99.5 1072 102 1072.5 101.3 1073 104.6 1073.5 102.3 1074 93.9 1074.5 99.1 1075 103.5 1075.5 100.9 1076 93.4 1076.5 93.4 1077 93.4 1077.5 102.5 1078 94.5 1078.5 105.1 1079 100.4 1079.5 95.1 1080 86.7 1080.5 82.1 1081 69.4 1081.5 68.1 1082 87 1082.5 80 1083 81.7 1083.5 76.7 1084 75.5 1084.5 72.5 1085 67.9 1085.5 83.2 1086 74 1086.5 71.2 1087 83.7 1087.5 69.2 1088 68.5 1088.5 85.3 1089 73.2 1089.5 64.1 1090 77.4 1090.5 83.7 1091 78.9 1091.5 69 1092 68.1 1092.5 79.2 1093 78.8 1093.5 70.1 1094 80.8 1094.5 79 1095 79 1095.5 68.9 1096 85.4 1096.5 85.7 1097 73 1097.5 74.7 1098 75.1 1098.5 77.8 1099 77.4 1099.5 86.9 1100 80.2 1100.5 83.5 1101 78.2 1101.5 85.8 1102 85.9 1102.5 81 1103 85.3 1103.5 76.4 1104 81.3 1104.5 86.3 1105 75.8 1105.5 91.9 1106 91 1106.5 78.4 1107 89.8 1107.5 89.2 1108 92.9 1108.5 90.7 1109 80 1109.5 83.4 1110 73.7 1110.5 80.9 1111 74.1 1111.5 75.6 1112 87.1 1112.5 73.7 1113 82.8 1113.5 67.2 1114 72.5 1114.5 66 1115 85.9 1115.5 85.1 1116 70.1 1116.5 76 1117 72.1 1117.5 85.8 1118 73.9 1118.5 80.4 1119 77 1119.5 69.9 1120 83.8 1120.5 69.2 1121 63.7 1121.5 78.2 1122 85.8 1122.5 84 1123 92.7 1123.5 90.6 1124 85.1 1124.5 85.1 1125 78.6 1125.5 83.5 1126 93.1 1126.5 93.4 1127 83.3 1127.5 87.8 1128 89.9 1128.5 90 1129 89.3 1129.5 93 1130 93.7 1130.5 78.4 1131 76.6 1131.5 88.5 1132 87.5 1132.5 85 1133 76.6 1133.5 75.2 1134 91.5 1134.5 74.2 1135 93.4 1135.5 77.5 1136 85.3 1136.5 87 1137 83.4 1137.5 88.1 1138 82.9 1138.5 80.2 1139 81 1139.5 93.1 1140 85.2 1140.5 89.5 1141 90.7 1141.5 88.2 1142 80.3 1142.5 86.2 1143 88.6 1143.5 86.9 1144 86.9 1144.5 79.5 1145 75.4 1145.5 74.1 1146 82 1146.5 93.4 1147 77.4 1147.5 92 1148 90 1148.5 90.5 1149 80.8 1149.5 78.1 1150 77 1150.5 83.5 1151 87.5 1151.5 74 1152 76.7 1152.5 92.1 1153 87.1 1153.5 91.3 1154 87.6 1154.5 93.3 1155 75.9 1155.5 88.5 1156 79.3 1156.5 78.6 1157 85 1157.5 78.3 1158 83 1158.5 88.7 1159 75.1 1159.5 76.7 1160 85.9 1160.5 86.4 1161 85.1 1161.5 80.9 1162 93.5 1162.5 85.7 1163 76.6 1163.5 88.6 1164 75.4 1164.5 84.7 1165 74.3 1165.5 73.8 1166 77.1 1166.5 78.8 1167 80.6 1167.5 89.4 1168 93.1 1168.5 83.3 1169 80.7 1169.5 81.9 1170 79.5 1170.5 88 1171 75.8 1171.5 83 1172 89.7 1172.5 89.4 1173 73.4 1173.5 74 1174 74 1174.5 89.3 1175 85.1 1175.5 76.8 1176 77.5 1176.5 73.8 1177 85.5 1177.5 74.8 1178 74.3 1178.5 91.7 1179 76.7 1179.5 84.4 1180 87 1180.5 76.6 1181 90 1181.5 76.8 1182 84.6 1182.5 87 1183 89.4 1183.5 80.3 1184 86.4 1184.5 92.8 1185 76.8 1185 177.1 1184.5 179.5 1184 178.1 1183.5 184.7 1183 188.2 1182.5 173.7 1182 174.6 1181.5 174.2 1181 175.4 1180.5 175.3 1180 185.7 1179.5 177.9 1179 177.7 1178.5 190 1178 181.4 1177.5 172 1177 181.3 1176.5 185.2 1176 184.6 1175.5 174.4 1175 189.4 1174.5 178.3 1174 176.3 1173.5 174.7 1173 188.1 1172.5 189.5 1172 175.7 1171.5 176.9 1171 172.7 1170.5 179.9 1170 182.9 1169.5 187.8 1169 174.6 1168.5 191.6 1168 179.7 1167.5 189.9 1167 179.2 1166.5 172.7 1166 181.1 1165.5 187.6 1165 178.8 1164.5 184.5 1164 177 1163.5 178.6 1163 173.4 1162.5 187.9 1162 186.6 1161.5 174.4 1161 182 1160.5 189.8 1160 179.2 1159.5 187 1159 174.3 1158.5 190.1 1158 177.8 1157.5 174 1157 186 1156.5 188 1156 181.8 1155.5 182.3 1155 173.8 1154.5 186.8 1154 175.4 1153.5 186.8 1153 179.2 1152.5 183.1 1152 187.3 1151.5 186.2 1151 176.7 1150.5 172.1 1150 176 1149.5 174.2 1149 175.3 1148.5 188.6 1148 183.7 1147.5 177.5 1147 189 1146.5 180.1 1146 185.5 1145.5 175.7 1145 186.1 1144.5 175.4 1144 188.9 1143.5 173.2 1143 181 1142.5 184.5 1142 184.5 1141.5 177.4 1141 173 1140.5 177.8 1140 176.1 1139.5 180.1 1139 187.7 1138.5 179.1 1138 174.1 1137.5 188.4 1137 184.6 1136.5 175.7 1136 182.1 1135.5 177 1135 172.6 1134.5 174.1 1134 181.6 1133.5 183.9 1133 174.8 1132.5 182.7 1132 185.5 1131.5 189.1 1131 188.6 1130.5 192 1130 185.8 1129.5 175.9 1129 180.9 1128.5 176.2 1128 173.4 1127.5 173.8 1127 191.5 1126.5 176.8 1126 173.6 1125.5 190.9 1125 189.5 1124.5 183.9 1124 179.4 1123.5 180.7 1123 185 1122.5 174.5 1122 189.2 1121.5 197.2 1121 199.5 1120.5 185.8 1120 202.2 1119.5 188.7 1119 197.1 1118.5 197.9 1118 193.9 1117.5 194.5 1117 192.2 1116.5 199.9 1116 199.6 1115.5 193.1 1115 180.5 1114.5 193.1 1114 192 1113.5 184.1 1113 186.3 1112.5 181.5 1112 178.4 1111.5 182.4 1111 194.4 1110.5 185.1 1110 176.9 1109.5 179.5 1109 174.2 1108.5 189.7 1108 178.1 1107.5 171.7 1107 180.3 1106.5 178.7 1106 179.3 1105.5 181.4 1105 174.8 1104.5 177.5 1104 174.6 1103.5 174.3 1103 172.3 1102.5 186.6 1102 180.4 1101.5 183 1101 183.2 1100.5 184.5 1100 171.4 1099.5 177.9 1099 172.4 1098.5 178.4 1098 181.6 1097.5 185.3 1097 181.4 1096.5 180.7 1096 175.2 1095.5 185.6 1095 176.4 1094.5 189 1094 195.9 1093.5 191.5 1093 181.5 1092.5 181 1092 186.4 1091.5 185.7 1091 178.8 1090.5 199.8 1090 189.4 1089.5 180.3 1089 201.5 1088.5 201.5 1088 195.3 1087.5 199.3 1087 199.5 1086.5 187.9 1086 193.4 1085.5 180 1085 183.4 1084.5 197.3 1084 200.4 1083.5 178.7 1083 193.2 1082.5 182.8 1082 180.5 1081.5 179 1081 182.4 1080.5 177.9 1080 192.3 1079.5 163 1079 170 1078.5 170.4 1078 160 1077.5 166.3 1077 165.5 1076.5 171.1 1076 168.3 1075.5 171 1075 165.4 1074.5 170.6 1074 159.3 1073.5 171.4 1073 166.4 1072.5 167.5 1072 165.4 1071.5 162.3 1071 164.4 1070.5 159.2 1070 166.8 1069.5 160.7 1069 157 1068.5 160.5 1068 163.2 1067.5 162.3 1067 166.5 1066.5 161.7 1066 165 1065.5 165.6 1065 157.8 1064.5 155.8 1064 157.8 1063.5 156.6 1063 164.3 1062.5 163.5 1062 153.8 1061.5 158.2 1061 160.6 1060.5 162.7 1060 154.1 1059.5 158.2 1059 157 1058.5 160.5 1058 152.3 1057.5 151.7 1057 151.9 1056.5 152.7 1056 153.2 1055.5 157 1055 153.3 1054.5 159 1054 150.3 1053.5 152.7 1053 151.5 1052.5 157 1052 149.3 1051.5 154.1 1051 153.1 1050.5 156.7 1050 151.8 1049.5 152.4 1049 148.6 1048.5 150.1 1048 153.4 1047.5 154.2 1047 151.4 1046.5 154.2 1046 147 1045.5 149.1 1045 150 1044.5 146.7 1044 151.1 1043.5 150.5 1043 149.4 1042.5 148.2 1042 151.2 1041.5 144.2 1041 144.5 1040.5 143.8 1040 143.5 1039.5 145.6 1039 144.7 1038.5 145 1038 145.8 1037.5 146.6 1037 147.7 1036.5 147.5 1036 145.4 1035.5 145.4 1035 145.6 1034.5 148.6 1034 145.7 1033.5 145.9 1033 146.5 1032.5 151.2 1032 147.3 1031.5 149.7 1031 148.9 1030.5 146.7 1030 146 1029.5 148.3 1029 150.1 1028.5 146.3 1028 148.7 1027.5 149.5 1027 149.7 1026.5 147.2 1026 145.9 1025.5 145.7 1025 147.2 1024.5 144.2 1024 147 1023.5 147.9 1023 145.2 1022.5 145.3 1022 145.2 1021.5 142.5 1021 146.5 1020.5 145.3 1020 144.7 1019.5 146.3 1019 141.9 1018.5 146.4 1018 143.6 1017.5 143.3 1017 147.1 1016.5 144.8 1016 143.6 1015.5 143.5 1015 145.9 1014.5 147.9 1014 146.3 1013.5 147.3 1013 146.3 1012.5 150.2 1012 148.3 1011.5 146.6 1011 146.8 1010.5 148.9 1010 149.2 1009.5 149.1 1009 146.7 1008.5 146.7 1008 147.6 1007.5 147.3 1007 147.1 1006.5 150.9 1006 149.8 1005.5 148.5 1005 149.6 1004.5 144.9 1004 143.8 1003.5 143.3 1003 147.6 1002.5 147.4 1002 147.3 1001.5 143.5 1001 144.8 1000.5 146.4 1000 143.3 999.5 142.9 999 143.9 998.5 145.3 998 144.8 997.5 142.9 997 142.7 996.5 145.1 996 146.8 995.5 143.7 995 145.6 994.5 144.2 994 147.7 993.5 144.2 993 147.9 992.5 146.2 992 147.4 991.5 148 991 147.8 990.5 149.6 990 147.9 989.5 145.6 989 149.6 988.5 149.3 988 145.7 987.5 151.1 987 148.7 986.5 146.9 986 147.5 985.5 150.6 985 148.9 984.5 149.3 984 145.8 983.5 147.2 983 149 982.5 145 982 143.9 981.5 145.8 981 145.8 980.5 144.3 980 144.5 979.5 142 979 141.9 978.5 144.9 978 146.4 977.5 145.3 977 146.5 976.5 142.5 976 142.1 975.5 143.3 975 147.3 974.5 147.2 974 142.8 973.5 146.5 973 147.3 972.5 147.1 972 145 971.5 149.6 971 148 970.5 148.8 970 150.1 969.5 149.3 969 150.5 968.5 145.3 968 145.4 967.5 149.5 967 148.9 966.5 149.6 966 147.2 965.5 146.3 965 145.9 964.5 149.6 964 145 963.5 149.2 963 145.2 962.5 145.7 962 148 961.5 146.8 961 147 960.5 143.3 960 146.9 959.5 146.2 959 142.8 958.5 146.5 958 143.3 957.5 142 957 146.1 956.5 146 956 141.8 955.5 144.2 955 146.5 954.5 143.3 954 145.3 953.5 143.2 953 146.3 952.5 147.2 952 147.2 951.5 145.7 951 148.2 950.5 149.3 950 150.1 949.5 146.7 949 149.5 948.5 147.1 948 147.1 947.5 151.5 947 148.8 946.5 147.3 946 145.4 945.5 149.9 945 146.1 944.5 149.3 944 145.6 943.5 147 943 150.7 942.5 148 942 148.8 941.5 148.1 941 145.4 940.5 143.9 940 142.6 939.5 143.4 939 143.7 938.5 143.5 938 142.3 937.5 141.7 937 144.1 936.5 142.5 936 142.7 935.5 143.2 935 142 934.5 144.6 934 142.5 933.5 145.6 933 144.9 932.5 143.5 932 144.7 931.5 144.3 931 145.1 930.5 144.7 930 141.5 929.5 144.5 929 144.4 928.5 144.5 928 144.4 927.5 144.6 927 145.1 926.5 142.4 926 144.2 925.5 142.5 925 145.3 924.5 144.7 924 145.5 923.5 144.4 923 144.6 922.5 144.9 922 142.9 921.5 143.8 921 141.6 920.5 145.1 920 143.1 919.5 145.5 919 142.6 918.5 145.9 918 142.3 917.5 141.7 917 144 916.5 145.5 916 142.8 915.5 141.5 915 142.4 914.5 144.7 914 142.5 913.5 145.3 913 142.2 912.5 143.4 912 141.7 911.5 141.6 911 141.5 910.5 142.1 910 144.9 909.5 142.5 909 144.2 908.5 142 908 143.6 907.5 145.1 907 145.5 906.5 144.4 906 143 905.5 145.8 905 144.2 904.5 142.5 904 144.2 903.5 142.8 903 144.2 902.5 145.7 902 145.2 901.5 141.8 901 141.5 900.5 142.4 900 141.6 899.5 145.5 899 144.4 898.5 143.8 898 141.9 897.5 142.1 897 143.3 896.5 145.5 896 142.5 895.5 145.5 895 142.6 894.5 145 894 143.9 893.5 144.2 893 144.6 892.5 142.2 892 143.7 891.5 142.9 891 141.9 890.5 144.3 890 144.3 889.5 145 889 143.5 888.5 145.4 888 143 887.5 143.7 887 144.9 886.5 144.4 886 145.2 885.5 145.2 885 143.5 884.5 145.8 884 145.6 883.5 145.6 883 145.8 882.5 145.2 882 145.6 881.5 145.8 881 145.3 880.5 144.7 880 145.5 879.5 145.6 879 143.1 878.5 144.5 878 142 877.5 144.3 877 141.5 876.5 141.8 876 145.2 875.5 145.7 875 142.8 874.5 142.6 874 142.1 873.5 143 873 144 872.5 144.9 872 142 871.5 143 871 143.8 870.5 144.5 870 143.5 869.5 145.5 869 143.6 868.5 143.6 868 143.8 867.5 141.6 867 144.4 866.5 141.9 866 144.4 865.5 142.4 865 143.4 864.5 141.6 864 141.9 863.5 141.4 863 142 862.5 145.9 862 141.8 861.5 144.9 861 145.5 860.5 145.6 860 143 859.5 144.8 859 143.9 858.5 141.9 858 142.4 857.5 145.1 857 144.6 856.5 143.4 856 143.9 855.5 137.6 855 138.3 854.5 138.2 854 136.8 853.5 137.2 853 136.9 852.5 138 852 138 851.5 137.2 851 137.8 850.5 136.6 850 137.9 849.5 137.6 849 137.2 848.5 137.1 848 136.8 847.5 138 847 138.4 846.5 137.8 846 137.5 845.5 138.5 845 138 844.5 137.9 844 137.9 843.5 137.1 843 138.3 842.5 138.4 842 136.8 841.5 138.5 841 137.1 840.5 136.8 840 138.2 839.5 138 839 137.1 838.5 137.3 838 138.3 837.5 137.3 837 137.4 836.5 137.9 836 136.7 835.5 137 835 138.3 834.5 137.9 834 136.6 833.5 136.6 833 137.3 832.5 138.5 832 136.5 831.5 137.3 831 138.5 830.5 137.6 830 136.6 829.5 137.8 829 137 828.5 137.8 828 137.8 827.5 137 827 137.6 826.5 136.8 826 137.8 825.5 138.4 825 137.3 824.5 137.9 824 138.4 823.5 137.2 823 137.1 822.5 137.5 822 136.6 821.5 137 821 137.6 820.5 137.1 820 137.8 819.5 138.2 819 138 818.5 137.7 818 137.1 817.5 137.9 817 138.1 816.5 137.4 816 137 815.5 138.4 815 136.7 814.5 137.4 814 136.7 813.5 138 813 137.3 812.5 137.6 812 138.2 811.5 136.8 811 137 810.5 137.9 810 138.3 809.5 138.2 809 137.8 808.5 136.7 808 137.1 807.5 137.4 807 138 806.5 138.1 806 138.5 805.5 137.1 805 138.2 804.5 138.5 804 137.5 803.5 137.9 803 138.5 802.5 138.4 802 137.7 801.5 137.9 801 138 800.5 137.8 800 138.5 799.5 137.4 799 137.4 798.5 137.3 798 137.5 797.5 137.5 797 137.6 796.5 137.7 796 138.3 795.5 137.4 795 136.7 794.5 137.2 794 138 793.5 137.3 793 137.3 792.5 136.5 792 136.6 791.5 137.4 791 137.8 790.5 138.2 790 137.7 789.5 137 789 138.4 788.5 136.9 788 138.4 787.5 137.5 787 137.1 786.5 138.3 786 136.9 785.5 137 785 137.8 784.5 137.7 784 137.7 783.5 138.1 783 136.7 782.5 136.7 782 137.1 781.5 137.2 781 137.3 780.5 138.4 780 137.3 779.5 137.7 779 138 778.5 136.9 778 137.4 777.5 137.5 777 138.3 776.5 138.1 776 138.3 775.5 137.5 775 138.1 774.5 137.1 774 137.3 773.5 137.8 773 137.5 772.5 137.8 772 137.1 771.5 137.7 771 138.2 770.5 137.3 770 136.5 769.5 137.6 769 136.9 768.5 137.4 768 138 767.5 138.2 767 137.7 766.5 136.9 766 138.5 765.5 137.7 765 136.6 764.5 136.9 764 136.9 763.5 138.1 763 138.3 762.5 138.5 762 137.7 761.5 137.2 761 136.9 760.5 138 760 137 759.5 137.3 759 136.7 758.5 136.7 758 137.5 757.5 138 757 138 756.5 137.5 756 137 755.5 136.8 755 137.3 754.5 138 754 137.8 753.5 137.6 753 138.4 752.5 137.8 752 136.7 751.5 137.1 751 138.4 750.5 137.5 750 137.9 749.5 138.5 749 136.8 748.5 137 748 137.2 747.5 138.4 747 138.4 746.5 136.7 746 137.8 745.5 138.4 745 137.6 744.5 137.4 744 137 743.5 137.3 743 137 742.5 138.5 742 137.2 741.5 137.3 741 137 740.5 138.4 740 138 739.5 137.5 739 138.3 738.5 137.5 738 136.9 737.5 137.6 737 138.2 736.5 137.4 736 138 735.5 136.6 735 137.9 734.5 138.3 734 136.6 733.5 137.3 733 137.2 732.5 136.6 732 136.5 731.5 136.9 731 137.7 730.5 138.5 730 137.9 729.5 137.1 729 137 728.5 137.8 728 137.4 727.5 136.9 727 136.9 726.5 138 726 136.6 725.5 136.7 725 136.8 724.5 137.2 724 137.1 723.5 138 723 138.5 722.5 138.1 722 137.3 721.5 138.1 721 136.6 720.5 138.1 720 137.9 719.5 137.6 719 136.8 718.5 137.7 718 136.6 717.5 142.9 717 145.6 716.5 144.2 716 146.2 715.5 145.9 715 143.2 714.5 145.1 714 146.2 713.5 146 713 141.7 712.5 142.4 712 145.8 711.5 145.2 711 142 710.5 146 710 145.4 709.5 143.9 709 142.5 708.5 144.4 708 143 707.5 142.5 707 145.3 706.5 143.1 706 144.4 705.5 144.9 705 144.7 704.5 145.2 704 141.9 703.5 145.3 703 143.6 702.5 143.8 702 144.6 701.5 144.6 701 146.2 700.5 144.6 700 143.6 699.5 144.4 699 141.7 698.5 142.8 698 142.2 697.5 145.3 697 144.6 696.5 141.9 696 145 695.5 145.4 695 144.9 694.5 145.4 694 145.9 693.5 142.7 693 146.3 692.5 143.4 692 141.9 691.5 143.6 691 144.7 690.5 143.7 690 145.6 689.5 146.1 689 142.5 688.5 142.5 688 144.4 687.5 144.7 687 145.8 686.5 144.6 686 143 685.5 144.9 685 145.9 684.5 146 684 143.2 683.5 146.2 683 146 682.5 145.9 682 144.8 681.5 145.8 681 146 680.5 144.7 680 142.9 679.5 142.9 679 142.9 678.5 143 678 143.3 677.5 144.8 677 142.9 676.5 145.5 676 145.5 675.5 142.1 675 144.6 674.5 143.6 674 145.3 673.5 145 673 145.4 672.5 145.6 672 142.9 671.5 142.2 671 142.6 670.5 142.4 670 146 669.5 142.3 669 142.4 668.5 144.2 668 143.5 667.5 142.3 667 143.1 666.5 142.1 666 144.3 665.5 142.7 665 144.6 664.5 146 664 143.5 663.5 145.8 663 143 662.5 144 662 142.9 661.5 142.6 661 142.8 660.5 142 660 146.1 659.5 145.1 659 142.2 658.5 143.4 658 144.2 657.5 145 657 145.8 656.5 145.8 656 143.2 655.5 145.4 655 142.8 654.5 146.2 654 143.5 653.5 143.8 653 146.3 652.5 142 652 145.5 651.5 142.9 651 144.1 650.5 141.7 650 143.8 649.5 143 649 143.9 648.5 144.9 648 142.2 647.5 141.7 647 145.2 646.5 144.9 646 143 645.5 144 645 145.8 644.5 145.6 644 145.6 643.5 145.9 643 142.9 642.5 145.7 642 143 641.5 144 641 142 640.5 141.7 640 145.9 639.5 142.4 639 145.4 638.5 143.3 638 144.4 637.5 136.8 637 138.4 636.5 137.7 636 138 635.5 137.3 635 138.1 634.5 137.2 634 138.1 633.5 136.8 633 138.1 632.5 137.2 632 137.8 631.5 137.1 631 138.3 630.5 137.8 630 136.9 629.5 137.3 629 137.6 628.5 138.5 628 137.8 627.5 138.4 627 138.5 626.5 138.3 626 137.8 625.5 137.4 625 137.7 624.5 138.2 624 137.2 623.5 136.9 623 137 622.5 137.8 622 138.3 621.5 137.6 621 137.5 620.5 138.5 620 136.9 619.5 137.8 619 137.9 618.5 136.9 618 136.6 617.5 138.3 617 137.2 616.5 138.3 616 137.7 615.5 136.9 615 136.5 614.5 137.5 614 137.4 613.5 137.7 613 136.9 612.5 138.1 612 137.1 611.5 136.7 611 136.6 610.5 136.8 610 137 609.5 138.2 609 137.4 608.5 138.3 608 136.5 607.5 137.7 607 137.2 606.5 138.1 606 137 605.5 138 605 137.8 604.5 137.4 604 137.9 603.5 137 603 138.2 602.5 138.1 602 137.8 601.5 137.9 601 138.1 600.5 138.2 600 136.6 599.5 137.5 599 136.6 598.5 136.7 598 138.3 597.5 138.3 597 137.8 596.5 137.5 596 137.7 595.5 137.6 595 137.2 594.5 137 594 138.2 593.5 138.3 593 136.7 592.5 136.8 592 137.2 591.5 138.3 591 136.8 590.5 137.4 590 136.5 589.5 137 589 138.4 588.5 137.9 588 137.7 587.5 136.9 587 136.7 586.5 137.4 586 137.6 585.5 137.5 585 138.1 584.5 138.4 584 138.4 583.5 138.5 583 137.9 582.5 136.8 582 137.4 581.5 138.4 581 137.9 580.5 138.5 580 137.1 579.5 137.3 579 137 578.5 137.7 578 137.3 577.5 137.1 577 137.3 576.5 137.5 576 137.1 575.5 138.4 575 137.5 574.5 138 574 136.9 573.5 137.7 573 136.7 572.5 137.3 572 137.2 571.5 136.6 571 138 570.5 137.8 570 136.6 569.5 137.7 569 137.8 568.5 138.1 568 137.1 567.5 137.7 567 137.5 566.5 136.8 566 137.5 565.5 145.4 565 142.8 564.5 143.2 564 144.8 563.5 143.2 563 142 562.5 142.2 562 143.4 561.5 143.8 561 145.6 560.5 143.4 560 142.4 559.5 144.6 559 145.2 558.5 146.3 558 141.7 557.5 142.5 557 145.8 556.5 141.7 556 145.6 555.5 144.2 555 142.5 554.5 146 554 145.6 553.5 144.8 553 142.4 552.5 145.2 552 146.1 551.5 142.4 551 146.1 550.5 144.8 550 146.1 549.5 144.2 549 145.3 548.5 146.2 548 142.6 547.5 144.3 547 144.7 546.5 144.1 546 144.5 545.5 142.5 545 143.9 544.5 145 544 144.8 543.5 143.9 543 142.5 542.5 143.4 542 145 541.5 142.3 541 145 540.5 144.8 540 142.1 539.5 143.7 539 144.8 538.5 144.9 538 145.2 537.5 143.6 537 144.1 536.5 142.6 536 146.2 535.5 143 535 142.1 534.5 143.7 534 143.9 533.5 145.2 533 145.3 532.5 144.5 532 144.9 531.5 142.6 531 143.8 530.5 144.5 530 144 529.5 144.3 529 145 528.5 142.1 528 144.5 527.5 143.1 527 146 526.5 143.6 526 143.7 525.5 145.7 525 145.8 524.5 145.9 524 142.6 523.5 144.3 523 145.8 522.5 144.7 522 143.2 521.5 145.1 521 142 520.5 145 520 146.3 519.5 143.8 519 142.7 518.5 143.5 518 144.6 517.5 141.7 517 142.9 516.5 144.8 516 142.1 515.5 144.7 515 144.3 514.5 144.7 514 144.5 513.5 142.1 513 143.8 512.5 145.5 512 144.5 511.5 146 511 143.8 510.5 142.9 510 143.1 509.5 143.7 509 142.8 508.5 142.5 508 142.7 507.5 143.1 507 142.8 506.5 142.3 506 143.8 505.5 145.3 505 143.6 504.5 146.2 504 143.4 503.5 141.9 503 143 502.5 141.8 502 145.4 501.5 143.6 501 143.3 500.5 145.1 500 142.8 499.5 143.1 499 142.8 498.5 144.6 498 145.3 497.5 145.4 497 146 496.5 143 496 146.1 495.5 145.6 495 141.8 494.5 146 494 141.6 493.5 145.7 493 143.3 492.5 145.6 492 144.3 491.5 142.5 491 141.9 490.5 143.3 490 145.3 489.5 143.8 489 145.8 488.5 143.1 488 144.3 487.5 142.2 487 142.5 486.5 145.2 486 145.9 485.5 141.9 485 144.8 484.5 142.8 484 145.1 483.5 141.7 483 144.6 482.5 142.1 482 142.7 481.5 144.8 481 144.3 480.5 144.4 480 145.1 479.5 144.4 479 144.3 478.5 145.1 478 145.4 477.5 144.5 477 145.6 476.5 143.3 476 143 475.5 142.2 475 145.7 474.5 146.2 474 144.8 473.5 142.1 473 142 472.5 144.3 472 146.1 471.5 145.6 471 145.8 470.5 145.8 470 142.1 469.5 142.3 469 144.1 468.5 141.8 468 144.6 467.5 142.7 467 141.7 466.5 142.9 466 145.3 465.5 143.8 465 146.2 464.5 142.1 464 144.8 463.5 142.5 463 142.7 462.5 145.4 462 141.9 461.5 146 461 144.6 460.5 144.3 460 145.7 459.5 142.8 459 144.1 458.5 142.4 458 143.4 457.5 142 457 143.8 456.5 142.4 456 145 455.5 142.4 455 143.8 454.5 144.2 454 143.2 453.5 143.2 453 143.3 452.5 142.9 452 144.9 451.5 144.7 451 144.6 450.5 145.8 450 137.4 449.5 137.8 449 138.4 448.5 137.9 448 137.6 447.5 138.2 447 137.3 446.5 136.6 446 137.1 445.5 137.2 445 138.5 444.5 137.2 444 138.2 443.5 138 443 136.6 442.5 136.9 442 136.6 441.5 137.7 441 136.9 440.5 136.8 440 138.2 439.5 136.9 439 137.2 438.5 137.7 438 136.6 437.5 137.9 437 138.5 436.5 136.5 436 137.9 435.5 137.5 435 136.9 434.5 137 434 136.9 433.5 136.8 433 138.3 432.5 137.1 432 136.8 431.5 138.1 431 137.7 430.5 137.5 430 136.9 429.5 137.6 429 137.5 428.5 138.1 428 137.1 427.5 137.5 427 137.8 426.5 136.8 426 138.4 425.5 136.6 425 137.5Z" fill="#4d4d4d"/>
<rect x="1122.4" y="6" width="6" height="253" fill="#4d4d4d"/>
<line x1="1087.7" y1="6" x2="1087.7" y2="259" stroke="#4d4d4d" stroke-width="1"/>
<path d="M448.6 197.9 V230.2 H484.2" fill="none" stroke="#4d4d4d" stroke-width="3.1"/>
<text x="443.8" y="249.6" font-size="22.8" fill="#4d4d4d" text-anchor="start" transform="rotate(-90 443.8 249.6)">0.5 mV</text>
<text x="450.2" y="254" font-size="22.9" fill="#4d4d4d" text-anchor="start">2 s</text>
<rect x="425" y="272.7" width="760" height="253.7" fill="#fde9e9"/>
<text x="805" y="300.4" font-size="22" fill="#e8141c" text-anchor="middle">TPP</text>
<path d="M481 401V387.3M481 401V432.7M481 401V388M481.5 401V354.6M481.5 401V382.5M481.5 401V388.5M482 401V382.1M482 401V427.4M482 401V376.9M482.5 401V386.2M482.5 401V419.2M482.5 401V385.9M483 401V375.5M483 401V430M483 401V385.8M483.5 401V376.2M483.5 401V417.1M483.5 401V387.6M484 401V386.1M484 401V418.1M484 401V416.7M484.5 401V414.4M484.5 401V414.3M484.5 401V387.8M485 401V421M485 401V425.6M485 401V416.4M485.5 401V436.8M485.5 401V425.3M485.5 401V388.9M486 401V373.9M486 401V379.2M486 401V372.7M486.5 401V385.6M486.5 401V417.8M486.5 401V372.9M487 401V415M487 401V424.9M487 401V419.1M487.5 401V381.3M487.5 401V413.5M487.5 401V415.8M488 401V375.7M488 401V384.9M488 401V365.7M488.5 401V418.5M488.5 401V386.2M488.5 401V448.3M489 401V374.4M489 401V387.6M489 401V375.1M489.5 401V415.5M489.5 401V413.1M489.5 401V419.6M490 401V377.7M490 401V416M490 401V420.8M490.5 401V423.1M490.5 401V385.3M490.5 401V378.5M491 401V426.1M491 401V420.3M491 401V413.8M491.5 401V386M491.5 401V381.9M491.5 401V425.5M492 401V413.2M492 401V384.5M492 401V430.3M492.5 401V385.7M492.5 401V385.9M492.5 401V386.6M493 401V415.2M493 401V416M493 401V386M493.5 401V413.6M493.5 401V382.5M493.5 401V415.9M494 401V378.1M494 401V378.1M494 401V413.5M494.5 401V431.4M494.5 401V388.1M494.5 401V374.5M495 401V413.2M495 401V386.4M495 401V416.2M495.5 401V374.7M495.5 401V384.4M495.5 401V427.7M496 401V413.2M496 401V431.5M496 401V418.8M496.5 401V367.6M496.5 401V428.2M496.5 401V377.7M497 401V425.7M497 401V419.1M497 401V419.1M497.5 401V415.8M497.5 401V386.3M497.5 401V378.2M498 401V415.7M498 401V426.1M498 401V385.7M498.5 401V419.1M498.5 401V389.1M498.5 401V383.4M499 401V416.3M499 401V382.4M499 401V421.5M499.5 401V378.9M499.5 401V415.9M499.5 401V418.3M500 401V416.7M500 401V388M500 401V437.5M500.5 401V376.3M500.5 401V378.3M500.5 401V424.7M501 401V378.7M501 401V435.5M501 401V387.4M501.5 401V384M501.5 401V413.9M501.5 401V384.6M502 401V387.5M502 401V388.5M502 401V377.5M502.5 401V387.8M502.5 401V383.4M502.5 401V354M503 401V385.5M503 401V425M503 401V420.1M503.5 401V380.9M503.5 401V418.4M503.5 401V386.7M504 401V419.6M504 401V384.8M504 401V426.9M504.5 401V376.6M504.5 401V386.3M504.5 401V388M505 401V414.4M505 401V414.1M505 401V383.3M505.5 401V420.3M505.5 401V388.5M505.5 401V364M506 401V388.1M506 401V427.3M506 401V417.1M506.5 401V418.9M506.5 401V382.2M506.5 401V381.3M507 401V383.8M507 401V382M507 401V415.2M507.5 401V424.3M507.5 401V425.4M507.5 401V417.7M508 401V424M508 401V376.4M508 401V353.6M508.5 401V377.3M508.5 401V383.8M508.5 401V387M509 401V369.3M509 401V414.5M509 401V386.5M509.5 401V361.8M509.5 401V385.6M509.5 401V380.2M510 401V386M510 401V440M510 401V382.7M510.5 401V414.4M510.5 401V439.3M510.5 401V386.6M511 401V356.3M511 401V415.3M511 401V420.8M511.5 401V386.8M511.5 401V442.3M511.5 401V376.6M512 401V369.9M512 401V376.1M512 401V413M512.5 401V420.6M512.5 401V430.8M512.5 401V416.7M513 401V414.3M513 401V388.9M513 401V380.2M513.5 401V387.8M513.5 401V384.3M513.5 401V435.8M514 401V386.5M514 401V413M514 401V388.9M514.5 401V374.6M514.5 401V382.9M514.5 401V420.1M515 401V386.8M515 401V430.3M515 401V383.8M515.5 401V375M515.5 401V416.9M515.5 401V367.7M516 401V428.1M516 401V381.4M516 401V414.7M516.5 401V388.3M516.5 401V379.9M516.5 401V383.6M517 401V380.1M517 401V366.9M517 401V413.2M517.5 401V414.4M517.5 401V416.4M517.5 401V416.3M518 401V369.8M518 401V384.3M518 401V367.4M518.5 401V419.8M518.5 401V421.6M518.5 401V420.6M519 401V382M519 401V387.6M519 401V414.3M519.5 401V386.9M519.5 401V429.7M519.5 401V373.2M520 401V416M520 401V412.9M520 401V413.5M520.5 401V388.7M520.5 401V386.6M520.5 401V413.5M521 401V376.6M521 401V426.8M521 401V386.2M521.5 401V422.9M521.5 401V425.3M521.5 401V430.9M522 401V415.6M522 401V384.2M522 401V416.5M522.5 401V380.7M522.5 401V423M522.5 401V440.3M523 401V388.4M523 401V385.4M523 401V424.3M523.5 401V378M523.5 401V422.4M523.5 401V373.1M524 401V385.3M524 401V425.2M524 401V381M524.5 401V415.8M524.5 401V417M524.5 401V387.4M525 401V386.7M525 401V371.9M525 401V416.2M525.5 401V386.9M525.5 401V414.7M525.5 401V427.5M526 401V418.4M526 401V413.5M526 401V421.9M526.5 401V383.1M526.5 401V442.1M526.5 401V388.4M527 401V418.2M527 401V418.8M527 401V423.2M527.5 401V388.4M527.5 401V413.4M527.5 401V420.8M528 401V381.3M528 401V382.1M528 401V417.1M528.5 401V384.2M528.5 401V369.2M528.5 401V414M529 401V377.6M529 401V377.7M529 401V416M529.5 401V389M529.5 401V414.4M529.5 401V382.9M530 401V369.5M530 401V415.4M530 401V380.4M530.5 401V418M530.5 401V444.8M530.5 401V415.8M531 401V373.7M531 401V387.4M531 401V384.1M531.5 401V415.5M531.5 401V361.7M531.5 401V417M532 401V387.6M532 401V415.4M532 401V434.3M532.5 401V421.3M532.5 401V413.6M532.5 401V417M533 401V416.8M533 401V380M533 401V383.7M533.5 401V417.3M533.5 401V434.9M533.5 401V386.9M534 401V360.5M534 401V357.5M534 401V416.3M534.5 401V418.1M534.5 401V387.6M534.5 401V381.8M535 401V378M535 401V436M535 401V438.9M535.5 401V370.6M535.5 401V413.8M535.5 401V422.9M536 401V420.9M536 401V385.4M536 401V389M536.5 401V421.6M536.5 401V384.6M536.5 401V380.5M537 401V368.9M537 401V384.2M537 401V356.1M537.5 401V413.2M537.5 401V423.9M537.5 401V429.2M538 401V377.4M538 401V414.8M538 401V414.8M575.5 401V414.6M575.5 401V376.8M575.5 401V380.1M576 401V388.6M576 401V415.9M576 401V429.7M576.5 401V438.6M576.5 401V421.6M576.5 401V416.3M577 401V415.8M577 401V367.6M577 401V383.3M577.5 401V383.9M577.5 401V383.8M577.5 401V385.2M578 401V416.2M578 401V428.7M578 401V388.8M578.5 401V414M578.5 401V387.8M578.5 401V419.8M579 401V379.9M579 401V417.5M579 401V385.3M579.5 401V413.4M579.5 401V382M579.5 401V424.7M580 401V425.8M580 401V365.1M580 401V371.9M580.5 401V383.4M580.5 401V388.6M580.5 401V413.7M581 401V418.6M581 401V426.6M581 401V378.4M581.5 401V386.2M581.5 401V382.6M581.5 401V374.7M582 401V420M582 401V387.6M582 401V430.9M582.5 401V413.2M582.5 401V438.2M582.5 401V386.1M583 401V420.1M583 401V433.7M583 401V439.5M583.5 401V387.4M583.5 401V415.2M583.5 401V443.1M584 401V384.7M584 401V374M584 401V371.4M584.5 401V382.8M584.5 401V413.5M584.5 401V384.3M585 401V415M585 401V413M585 401V414.6M585.5 401V424.2M585.5 401V425.7M585.5 401V421.8M586 401V370M586 401V365.5M586 401V367.1M586.5 401V388.5M586.5 401V387M586.5 401V418.6M587 401V376.8M587 401V418.9M587 401V384.4M587.5 401V382M587.5 401V362.9M587.5 401V423.6M588 401V420.5M588 401V378.4M588 401V385.8M588.5 401V363.8M588.5 401V388.7M588.5 401V419.4M589 401V413.5M589 401V377.5M589 401V415M589.5 401V413.1M589.5 401V415.4M589.5 401V388.7M590 401V376.2M590 401V359.5M590 401V415.6M590.5 401V387.8M590.5 401V413.2M590.5 401V357.4M591 401V378.9M591 401V445.6M591 401V420.3M591.5 401V378M591.5 401V443.9M591.5 401V377.1M592 401V427.7M592 401V419.3M592 401V416.1M592.5 401V388.6M592.5 401V386.4M592.5 401V416.1M593 401V366.2M593 401V413.3M593 401V372.9M593.5 401V372.2M593.5 401V423.7M593.5 401V380.7M594 401V424.9M594 401V376.9M594 401V427.6M594.5 401V416.4M594.5 401V415.8M594.5 401V419.9M595 401V412.9M595 401V386.9M595 401V427.5M595.5 401V440.4M595.5 401V382.9M595.5 401V379.5M596 401V363.9M596 401V388.7M596 401V434.6M596.5 401V388.4M596.5 401V386.7M596.5 401V385.8M597 401V382.9M597 401V382.4M597 401V418M597.5 401V379.4M597.5 401V421.5M597.5 401V368.6M598 401V442.1M598 401V383.5M598 401V422M598.5 401V415.3M598.5 401V416.6M598.5 401V416.9M599 401V427.8M599 401V388.6M599 401V386.3M599.5 401V387.8M599.5 401V368.3M599.5 401V386.7M600 401V387.3M600 401V429.9M600 401V384.6M600.5 401V418.6M600.5 401V420.8M600.5 401V371.1M601 401V413M601 401V386.6M601 401V381.9M601.5 401V420M601.5 401V388.6M601.5 401V384.2M602 401V374.5M602 401V387.3M602 401V417.1M602.5 401V413.6M602.5 401V388.9M602.5 401V423.4M603 401V388M603 401V414.5M603 401V388.2M603.5 401V385.7M603.5 401V384.5M603.5 401V422.4M604 401V413.1M604 401V418.1M604 401V423M604.5 401V382M604.5 401V368.8M604.5 401V374.1M605 401V388.3M605 401V421M605 401V375.3M605.5 401V439.5M605.5 401V437.3M605.5 401V423.7M606 401V429.1M606 401V427.5M606 401V385.4M606.5 401V428.9M606.5 401V426.7M606.5 401V416.7M607 401V414.7M607 401V373.9M607 401V389M607.5 401V383.2M607.5 401V383.2M607.5 401V413.9M608 401V431.8M608 401V386M608 401V418M608.5 401V387.9M608.5 401V421.8M608.5 401V381.2M609 401V387.6M609 401V358M609 401V426.5M609.5 401V384M609.5 401V369.2M609.5 401V380.1M610 401V377.5M610 401V423.8M610 401V413.4M610.5 401V384.5M610.5 401V366.5M610.5 401V421.3M611 401V418.5M611 401V385.5M611 401V416.4M611.5 401V388.5M611.5 401V431M611.5 401V413.3M612 401V413.7M612 401V378.3M612 401V387.2M612.5 401V419.9M612.5 401V442.3M612.5 401V357.8M613 401V384.5M613 401V380.7M613 401V413.8M613.5 401V432M613.5 401V414M613.5 401V387.8M614 401V357.5M614 401V424.1M614 401V424M614.5 401V354.7M614.5 401V412.9M614.5 401V418.7M615 401V423.4M615 401V428.2M615 401V430.2M615.5 401V413.4M615.5 401V386.2M615.5 401V417.2M616 401V416.4M616 401V415.3M616 401V378.3M616.5 401V429.6M616.5 401V388.1M616.5 401V388M617 401V414.3M617 401V415.7M617 401V432.7M617.5 401V382.1M617.5 401V425.6M617.5 401V425.4M618 401V419.2M618 401V423.6M618 401V388M618.5 401V442.5M618.5 401V377.6M618.5 401V382.7M619 401V368.5M619 401V421M619 401V423.6M619.5 401V416.2M619.5 401V370.5M619.5 401V382.1M620 401V364M620 401V388.5M620 401V426.3M620.5 401V387.4M620.5 401V383.5M620.5 401V418.8M621 401V413.3M621 401V438.6M621 401V388.5M621.5 401V354.4M621.5 401V415.9M621.5 401V385.8M622 401V430.9M622 401V385.4M622 401V378.6M622.5 401V377.9M622.5 401V424.6M622.5 401V381.6M623 401V423.7M623 401V386.6M623 401V435.9M623.5 401V387.8M623.5 401V380.9M623.5 401V383.8M624 401V435.2M624 401V360.8M624 401V361.2M624.5 401V385.4M624.5 401V385.4M624.5 401V368.2M625 401V361.4M625 401V438.1M625 401V413.3M625.5 401V382.9M625.5 401V413.5M625.5 401V415.6M626 401V371M626 401V428M626 401V422.6M626.5 401V376M626.5 401V427.8M626.5 401V367.5M627 401V448.1M627 401V388.3M627 401V387.4M627.5 401V420.2M627.5 401V413.8M627.5 401V419.1M628 401V414.1M628 401V356.1M628 401V384.7M628.5 401V418.4M628.5 401V384.2M628.5 401V361.2M629 401V377.2M629 401V382.2M629 401V416.9M629.5 401V413.7M629.5 401V387.8M629.5 401V424.8M630 401V414.9M630 401V422.6M630 401V427.8M630.5 401V418.2M630.5 401V414.3M630.5 401V388.4M631 401V374M631 401V421M631 401V414.7M631.5 401V387M631.5 401V415.9M631.5 401V387.2M632 401V384.5M632 401V422.9M632 401V425.2M632.5 401V388.3M632.5 401V434.2M632.5 401V381.2M633 401V417.6M633 401V421.4M633 401V384.9M633.5 401V371M633.5 401V387.8M633.5 401V430.8M634 401V386.2M634 401V417.7M634 401V387.7M634.5 401V417.5M634.5 401V415.7M634.5 401V377.8M635 401V414.1M635 401V427.9M635 401V442.6M635.5 401V376.4M635.5 401V388.4M635.5 401V413M636 401V428.5M636 401V417.4M636 401V412.9M636.5 401V379.8M636.5 401V384.7M636.5 401V361.7M637 401V417.9M637 401V422M637 401V372.1M637.5 401V414M637.5 401V416M637.5 401V412.9M638 401V422.2M638 401V384.6M638 401V419.2M675 401V437.8M675 401V422.8M675 401V384.3M675.5 401V425.7M675.5 401V382.8M675.5 401V386.7M676 401V382.4M676 401V383M676 401V372.9M676.5 401V361.5M676.5 401V385M676.5 401V388.8M677 401V355.2M677 401V387.1M677 401V380.7M677.5 401V416.3M677.5 401V387.9M677.5 401V369.1M678 401V420.5M678 401V370.8M678 401V375.9M678.5 401V428.4M678.5 401V443.1M678.5 401V357.8M679 401V416M679 401V416.7M679 401V380.7M679.5 401V385.5M679.5 401V383.8M679.5 401V426.7M680 401V374.4M680 401V381.8M680 401V416.8M680.5 401V423.6M680.5 401V383.9M680.5 401V414.9M681 401V415.2M681 401V383.4M681 401V430.4M681.5 401V422.6M681.5 401V447.7M681.5 401V367.1M682 401V424.2M682 401V417.8M682 401V416.3M682.5 401V414.5M682.5 401V422.2M682.5 401V417.6M683 401V424.4M683 401V414.8M683 401V429.5M683.5 401V386.1M683.5 401V386M683.5 401V440.8M684 401V415.6M684 401V415.4M684 401V383.5M684.5 401V417M684.5 401V419M684.5 401V415.9M685 401V414.6M685 401V414.6M685 401V386.9M685.5 401V442.7M685.5 401V372.1M685.5 401V423M686 401V415.6M686 401V420.5M686 401V417.5M686.5 401V386.3M686.5 401V416.3M686.5 401V417.3M687 401V426.4M687 401V420.7M687 401V382.3M687.5 401V386.5M687.5 401V420.2M687.5 401V413.3M688 401V379.7M688 401V372.1M688 401V373.9M688.5 401V415.4M688.5 401V415.6M688.5 401V420.1M689 401V421.9M689 401V426.2M689 401V433.2M689.5 401V354.4M689.5 401V424.8M689.5 401V422.5M690 401V435M690 401V382.2M690 401V386.8M690.5 401V433.1M690.5 401V413.6M690.5 401V415M691 401V416.4M691 401V368M691 401V416.2M691.5 401V419.9M691.5 401V421.4M691.5 401V387.5M692 401V386.7M692 401V386.9M692 401V436.1M692.5 401V418.2M692.5 401V376.3M692.5 401V418.9M693 401V416.3M693 401V385.8M693 401V366.1M693.5 401V428.2M693.5 401V385.8M693.5 401V379M694 401V418.1M694 401V376.1M694 401V421.9M694.5 401V382.7M694.5 401V369.6M694.5 401V386.4M695 401V415M695 401V437.7M695 401V422.3M695.5 401V414.8M695.5 401V419M695.5 401V419.5M696 401V388.7M696 401V373.3M696 401V420.4M696.5 401V414.8M696.5 401V417.6M696.5 401V423.7M697 401V362.8M697 401V424.7M697 401V383.9M697.5 401V387.1M697.5 401V412.9M697.5 401V388.8M698 401V367.3M698 401V414.6M698 401V431.7M698.5 401V369.8M698.5 401V376.2M698.5 401V388.1M699 401V373.3M699 401V419.4M699 401V384.3M699.5 401V423.3M699.5 401V413.5M699.5 401V416.9M700 401V389.1M700 401V364.6M700 401V362.9M700.5 401V364.5M700.5 401V386.8M700.5 401V420M701 401V423.1M701 401V388.8M701 401V354.4M701.5 401V361.1M701.5 401V372.7M701.5 401V388.3M702 401V418.1M702 401V375M702 401V385.2M702.5 401V379.6M702.5 401V433.7M702.5 401V385.6M703 401V418.5M703 401V372M703 401V369.9M703.5 401V378.7M703.5 401V385.1M703.5 401V387.1M704 401V385.2M704 401V388.1M704 401V385M704.5 401V414M704.5 401V422.2M704.5 401V385M705 401V417.6M705 401V419.1M705 401V386.4M705.5 401V374.2M705.5 401V423.3M705.5 401V355.5M706 401V428.7M706 401V416.5M706 401V418.6M706.5 401V382.9M706.5 401V421M706.5 401V418M707 401V423.5M707 401V413.1M707 401V441M707.5 401V431.2M707.5 401V422M707.5 401V420.4M708 401V387M708 401V388.9M708 401V414.8M708.5 401V422.9M708.5 401V383.7M708.5 401V414M709 401V414.4M709 401V416.3M709 401V372.8M709.5 401V382.6M709.5 401V362.5M709.5 401V384.1M710 401V416.1M710 401V436.8M710 401V416.3M710.5 401V381.4M710.5 401V417.8M710.5 401V421M711 401V447.9M711 401V384.2M711 401V385.2M711.5 401V421M711.5 401V380.5M711.5 401V377.7M712 401V419.1M712 401V384.7M712 401V412.9M712.5 401V438.1M712.5 401V364.3M712.5 401V355.9M713 401V420.2M713 401V421.5M713 401V421.4M713.5 401V414.2M713.5 401V414.6M713.5 401V382.4M714 401V423.6M714 401V381.6M714 401V416.6M714.5 401V427.3M714.5 401V416.1M714.5 401V379M715 401V371.5M715 401V388.9M715 401V353.3M715.5 401V382.2M715.5 401V422.6M715.5 401V387M716 401V424.7M716 401V441.1M716 401V413.6M716.5 401V419.5M716.5 401V424.4M716.5 401V415.9M717 401V383.4M717 401V416.9M717 401V380.9M717.5 401V413.3M717.5 401V383.6M717.5 401V363.4M718 401V415M718 401V427.4M718 401V414.9M718.5 401V418.6M718.5 401V415.6M718.5 401V414.3M719 401V371.4M719 401V416.1M719 401V428M719.5 401V384.6M719.5 401V415.4M719.5 401V424.7M720 401V383.3M720 401V426.1M720 401V382.6M720.5 401V426.8M720.5 401V378M720.5 401V414.5M721 401V422M721 401V384.7M721 401V387M721.5 401V382.9M721.5 401V417.3M721.5 401V385.7M722 401V388.2M722 401V413.3M722 401V386.6M722.5 401V417M722.5 401V368.3M722.5 401V387.5M723 401V387.1M723 401V424.1M723 401V434.8M723.5 401V425.9M723.5 401V383.1M723.5 401V388.2M724 401V388.3M724 401V445M724 401V376.4M724.5 401V447.8M724.5 401V386.9M724.5 401V425.5M725 401V431.9M725 401V431.3M725 401V415.9M725.5 401V418.2M725.5 401V419.8M725.5 401V381.2M726 401V417.3M726 401V417.2M726 401V386.3M726.5 401V380.1M726.5 401V389.1M726.5 401V415.1M727 401V432.5M727 401V383.3M727 401V413.4M727.5 401V414.2M727.5 401V423.4M727.5 401V385.5M728 401V417.2M728 401V438.3M728 401V387.3M728.5 401V382.1M728.5 401V380.7M728.5 401V370.8M729 401V382.7M729 401V419.4M729 401V414.9M729.5 401V418.3M729.5 401V421.3M729.5 401V420.5M730 401V417.3M730 401V413.5M730 401V384.1M730.5 401V416.8M730.5 401V386.9M730.5 401V416.4M731 401V376.3M731 401V415.9M731 401V419.5M731.5 401V415.2M731.5 401V358.4M731.5 401V389.1M732 401V385.8M732 401V385.7M732 401V388.7M732.5 401V414.4M732.5 401V417.6M732.5 401V422.5M733 401V423.1M733 401V385.1M733 401V424.9M733.5 401V366.1M733.5 401V387.7M733.5 401V385.3M734 401V365.5M734 401V414.9M734 401V437.4M734.5 401V420.3M734.5 401V427.6M734.5 401V387.9M735 401V415.6M735 401V418.1M735 401V387.6M735.5 401V422.5M735.5 401V376.6M735.5 401V382.6M736 401V379.4M736 401V426.9M736 401V388.4M736.5 401V379.9M736.5 401V377.8M736.5 401V363.8M737 401V421.1M737 401V388.1M737 401V388.5M737.5 401V386.6M737.5 401V368.9M737.5 401V368.3M738 401V386.1M738 401V418.1M738 401V417.6M738.5 401V418.1M738.5 401V386M738.5 401V388.9M739 401V442.8M739 401V384.2M739 401V385.7" stroke="#f77a7a" stroke-width="0.6" fill="none"/>
<path d="M425 394.6 425.5 394.8 426 395 426.5 395.5 427 394.2 427.5 396 428 394.1 428.5 394.4 429 395.9 429.5 394.2 430 395.4 430.5 395.4 431 395.8 431.5 394.6 432 395.4 432.5 394.6 433 394.7 433.5 395.1 434 396 434.5 394.9 435 396.4 435.5 394.3 436 395.1 436.5 394.5 437 394.9 437.5 394.9 438 394.8 438.5 395 439 394.3 439.5 396.4 440 395.7 440.5 395.1 441 396.4 441.5 395.6 442 394.7 442.5 395.8 443 395.5 443.5 394.6 444 394.5 444.5 394.6 445 396.1 445.5 395.7 446 394.8 446.5 395 447 394.5 447.5 394.1 448 395.8 448.5 394.3 449 394.7 449.5 395.8 450 394.1 450.5 394.6 451 394.7 451.5 396.3 452 395.1 452.5 394.8 453 395 453.5 394.6 454 395.1 454.5 396.3 455 394.9 455.5 396 456 394.4 456.5 394.8 457 394.7 457.5 395.2 458 394.2 458.5 394.8 459 395.6 459.5 395.1 460 394.5 460.5 394.9 461 396.4 461.5 395.5 462 395.6 462.5 396.4 463 394.2 463.5 395 464 394.1 464.5 395.9 465 395.7 465.5 395.8 466 396.3 466.5 395.5 467 396.4 467.5 394.4 468 394.3 468.5 395.1 469 394.6 469.5 394.5 470 396.2 470.5 396.4 471 395.5 471.5 394.1 472 395 472.5 394.8 473 395.5 473.5 395.2 474 395.7 474.5 395.1 475 395.8 475.5 396 476 396.3 476.5 394.9 477 395.8 477.5 395.3 478 395.8 478.5 394.1 479 395.8 479.5 394.3 480 395.7 480.5 395.7 481 391.4 481.5 391 482 387.9 482.5 386.9 483 389.8 483.5 389.7 484 388.7 484.5 389.2 485 387.5 485.5 388.3 486 390.2 486.5 386.8 487 389.6 487.5 390.3 488 391.2 488.5 387 489 390.8 489.5 388.1 490 389.8 490.5 386.9 491 388.8 491.5 388.3 492 388.3 492.5 389.6 493 387.8 493.5 388.2 494 389.1 494.5 390.8 495 389.7 495.5 387 496 389.3 496.5 389.1 497 388.2 497.5 387.1 498 389 498.5 390 499 390 499.5 390.5 500 389.8 500.5 391.3 501 389.5 501.5 388.8 502 387.9 502.5 388.7 503 388.9 503.5 390.4 504 386.9 504.5 386.6 505 387.4 505.5 391.1 506 389 506.5 387.7 507 388.4 507.5 390.6 508 387.1 508.5 389 509 386.5 509.5 389.5 510 388.9 510.5 388.8 511 390.8 511.5 387.6 512 386.8 512.5 389 513 387.7 513.5 387.4 514 387.4 514.5 391.5 515 389.7 515.5 387.6 516 390.6 516.5 388.3 517 389.1 517.5 388.7 518 391.1 518.5 387.8 519 387.1 519.5 390.8 520 388 520.5 389.5 521 387.9 521.5 389.2 522 388.1 522.5 388.5 523 388.5 523.5 389.9 524 387.9 524.5 387.7 525 389 525.5 391.5 526 390.7 526.5 387 527 390.2 527.5 388.1 528 389.7 528.5 387.6 529 390.4 529.5 390.4 530 386.7 530.5 386.8 531 386.7 531.5 388.5 532 387.8 532.5 387.6 533 387.2 533.5 391.4 534 386.6 534.5 387.8 535 388.9 535.5 391.4 536 387.4 536.5 388.8 537 388.3 537.5 390.4 538 387 538.5 394.3 539 396.2 539.5 395 540 395.4 540.5 396.2 541 395.8 541.5 394.5 542 394.7 542.5 395.7 543 394.1 543.5 394.5 544 394.6 544.5 395.6 545 396.1 545.5 394.1 546 395.3 546.5 396 547 396.1 547.5 395 548 395.3 548.5 395.1 549 396.1 549.5 396 550 394.3 550.5 395.2 551 395.3 551.5 394.2 552 396 552.5 395.6 553 395.6 553.5 395.7 554 394.7 554.5 394.4 555 394.1 555.5 396.2 556 395.6 556.5 394.8 557 395.7 557.5 395.5 558 395.4 558.5 394.3 559 394.3 559.5 396 560 396.2 560.5 396.3 561 395.5 561.5 395.4 562 395.6 562.5 394.2 563 395 563.5 395.2 564 395.3 564.5 395.5 565 396.4 565.5 394.1 566 395.5 566.5 394.4 567 394.6 567.5 395.5 568 395.3 568.5 395.7 569 394.3 569.5 396.3 570 396.3 570.5 396.3 571 395.5 571.5 394.8 572 394.1 572.5 396.4 573 395.3 573.5 395 574 395.6 574.5 395.2 575 395.2 575.5 388.5 576 390.6 576.5 386.7 577 387.1 577.5 386.5 578 390 578.5 389.5 579 389.7 579.5 391 580 388.4 580.5 390.1 581 388.3 581.5 389.6 582 388.8 582.5 390.1 583 387 583.5 389.8 584 388.1 584.5 390.9 585 390.3 585.5 386.9 586 388.5 586.5 387.1 587 387.1 587.5 391 588 389.6 588.5 390.5 589 387.1 589.5 387 590 389 590.5 389.2 591 390.6 591.5 390 592 387.5 592.5 390.8 593 390.5 593.5 387.8 594 391.1 594.5 386.5 595 387.8 595.5 389.5 596 386.6 596.5 386.7 597 390.8 597.5 390.1 598 391.2 598.5 390.5 599 390.7 599.5 391.3 600 388.6 600.5 389.8 601 388.9 601.5 390.1 602 389.2 602.5 389.7 603 386.6 603.5 386.8 604 390.1 604.5 391.2 605 391.3 605.5 386.9 606 387.1 606.5 389.7 607 387.5 607.5 386.7 608 387.6 608.5 387.4 609 390.6 609.5 390.8 610 389.8 610.5 389.2 611 389.5 611.5 389.8 612 391.1 612.5 389.5 613 389 613.5 387 614 387 614.5 386.8 615 391 615.5 391.3 616 389.1 616.5 388.3 617 387.8 617.5 390.2 618 388.5 618.5 387 619 387 619.5 389.6 620 390 620.5 389 621 387.7 621.5 390.7 622 390.6 622.5 389 623 386.8 623.5 388.6 624 389.9 624.5 387.5 625 386.9 625.5 386.6 626 387.9 626.5 389 627 390.9 627.5 387.7 628 389.3 628.5 386.8 629 391.1 629.5 389 630 389.2 630.5 390.7 631 389 631.5 388.1 632 390 632.5 391.4 633 389.6 633.5 387.1 634 389.1 634.5 391.2 635 388.3 635.5 387.4 636 390.6 636.5 386.6 637 388.7 637.5 387.1 638 387.8 638.5 395.8 639 394.8 639.5 394.6 640 396 640.5 394.4 641 394.8 641.5 395.3 642 394.9 642.5 396.1 643 395.9 643.5 395.3 644 394.5 644.5 394.2 645 396.4 645.5 394.3 646 394.7 646.5 395.9 647 395.9 647.5 395.3 648 394.3 648.5 396.4 649 396.4 649.5 394.1 650 394.2 650.5 395.2 651 396.3 651.5 394.4 652 396 652.5 395 653 396.1 653.5 394.2 654 395.2 654.5 395 655 394.8 655.5 394.9 656 396.4 656.5 394.4 657 395.3 657.5 395.3 658 394.8 658.5 395.3 659 395.2 659.5 395.6 660 395.1 660.5 394.3 661 394.7 661.5 396.2 662 395.6 662.5 395 663 395.8 663.5 395.9 664 396.2 664.5 394.4 665 396.5 665.5 396 666 395.2 666.5 395.4 667 395.9 667.5 396.3 668 395.7 668.5 396.2 669 396.3 669.5 395.7 670 394.7 670.5 394.1 671 396.2 671.5 395.1 672 396 672.5 395.9 673 394.8 673.5 395.5 674 395.5 674.5 395 675 391.2 675.5 387.4 676 388.9 676.5 389.2 677 390 677.5 386.6 678 388 678.5 391.2 679 388.6 679.5 386.9 680 387.1 680.5 389.4 681 387.1 681.5 387.6 682 388.8 682.5 387.4 683 387.3 683.5 390.4 684 388.5 684.5 387.8 685 388.8 685.5 391.4 686 389.1 686.5 387 687 387.2 687.5 388.3 688 389.5 688.5 389.9 689 387 689.5 387.5 690 388.8 690.5 391.4 691 390.2 691.5 390.3 692 390.7 692.5 389.8 693 389.6 693.5 387.2 694 388.1 694.5 386.8 695 386.7 695.5 390.9 696 387.9 696.5 391 697 389.5 697.5 386.9 698 389.3 698.5 389.5 699 388.6 699.5 388.2 700 390.1 700.5 386.7 701 388.8 701.5 389.8 702 391.2 702.5 391.3 703 390.7 703.5 390 704 387.1 704.5 388.5 705 389.7 705.5 389.1 706 388.9 706.5 388 707 388.2 707.5 389.6 708 390.4 708.5 386.9 709 387.1 709.5 387.8 710 390.1 710.5 389.5 711 387.3 711.5 389.2 712 391.1 712.5 388.1 713 389.1 713.5 391 714 387.6 714.5 388.6 715 389.2 715.5 390.8 716 391.3 716.5 387.1 717 387.7 717.5 389.5 718 389.8 718.5 390.7 719 387 719.5 389.7 720 390.7 720.5 390.6 721 388.9 721.5 389.9 722 388.8 722.5 390.9 723 389.8 723.5 389.4 724 389.6 724.5 386.8 725 391.1 725.5 391.1 726 390.1 726.5 387.6 727 387.2 727.5 386.6 728 391.2 728.5 388.4 729 389.3 729.5 387.6 730 389.3 730.5 390 731 387.2 731.5 386.9 732 387.6 732.5 390.5 733 387.5 733.5 389.2 734 387.9 734.5 387.3 735 388.1 735.5 388.5 736 389.7 736.5 386.6 737 389.6 737.5 387.8 738 388.9 738.5 390.8 739 391.4 739.5 396.3 740 395.8 740.5 395.8 741 395.2 741.5 395.5 742 394.5 742.5 394.2 743 396.2 743.5 395.7 744 395.7 744.5 395.2 745 395.2 745.5 394.3 746 396.4 746.5 395.3 747 394.9 747.5 394.6 748 396.3 748.5 395.7 749 395.2 749.5 396.4 750 395.5 750.5 396.1 751 395.7 751.5 396 752 394.7 752.5 394.1 753 394.1 753.5 395.7 754 394.2 754.5 396.1 755 394.3 755.5 394.9 756 396.1 756.5 394.8 757 394.1 757.5 394.1 758 396.1 758.5 394.3 759 395.7 759.5 394.6 760 396.3 760.5 395.5 761 394.1 761.5 395.9 762 395 762.5 394.8 763 394.2 763.5 395.5 764 395.3 764.5 395.1 765 394.1 765.5 395.5 765.5 407.5 765 405.9 764.5 407.3 764 406.2 763.5 407.3 763 405.9 762.5 406.7 762 406.2 761.5 407.8 761 406.1 760.5 405.6 760 407.4 759.5 406.5 759 405.6 758.5 406.8 758 406.2 757.5 406.4 757 405.9 756.5 407.7 756 407.1 755.5 406.6 755 406.4 754.5 407.5 754 405.9 753.5 406.9 753 405.6 752.5 407 752 406.8 751.5 407.9 751 406.7 750.5 406 750 407 749.5 407.9 749 406.6 748.5 406.4 748 407.4 747.5 405.9 747 407.1 746.5 405.6 746 407.8 745.5 406.1 745 406.8 744.5 405.8 744 406 743.5 405.7 743 407.2 742.5 407.1 742 406.5 741.5 405.8 741 405.9 740.5 407.6 740 405.9 739.5 406 739 413.9 738.5 415.3 738 412.4 737.5 413 737 415.1 736.5 414.7 736 413.5 735.5 413.9 735 414.2 734.5 415.4 734 413.2 733.5 414.2 733 413.5 732.5 412.2 732 413.8 731.5 412.2 731 410.6 730.5 413.2 730 412.8 729.5 413.9 729 411.5 728.5 414.3 728 413.6 727.5 414.8 727 410.7 726.5 413.8 726 412.9 725.5 415 725 414.2 724.5 413.5 724 415.2 723.5 412.4 723 413.7 722.5 413.8 722 411.8 721.5 413.7 721 415.4 720.5 410.6 720 413.4 719.5 415 719 415.4 718.5 415 718 411.3 717.5 413.9 717 412 716.5 411.3 716 414.1 715.5 412.8 715 415.2 714.5 414.5 714 411.4 713.5 414.6 713 412.5 712.5 411.9 712 414.8 711.5 411.9 711 413.2 710.5 413.8 710 411.1 709.5 410.9 709 412 708.5 415 708 411.6 707.5 414.4 707 413.6 706.5 413.2 706 414.4 705.5 413.7 705 414.4 704.5 411.6 704 414.7 703.5 414 703 413.7 702.5 410.9 702 414 701.5 411.4 701 414 700.5 412.1 700 411.4 699.5 411.4 699 411.7 698.5 415.2 698 414.1 697.5 410.6 697 410.6 696.5 412.4 696 410.9 695.5 411.5 695 410.6 694.5 414.7 694 413.7 693.5 411.7 693 413.1 692.5 412.7 692 412.6 691.5 415.5 691 412.2 690.5 411.8 690 410.5 689.5 413.3 689 412.9 688.5 414.2 688 414 687.5 414 687 414.9 686.5 414.6 686 415.4 685.5 415.1 685 415 684.5 412.6 684 411.7 683.5 414.1 683 410.9 682.5 413.2 682 414.5 681.5 413.9 681 415 680.5 414.6 680 415.1 679.5 414.3 679 415.5 678.5 415.2 678 415.4 677.5 410.9 677 410.7 676.5 412.9 676 414.2 675.5 411.3 675 413.6 674.5 407.5 674 406.4 673.5 406.7 673 407.2 672.5 407.5 672 407.5 671.5 407 671 407.7 670.5 407.6 670 405.9 669.5 406.5 669 405.9 668.5 407.5 668 407.9 667.5 407.7 667 405.6 666.5 407.9 666 407.3 665.5 407.2 665 407.2 664.5 406.9 664 407 663.5 406.5 663 407.8 662.5 407.8 662 406.7 661.5 407 661 406.4 660.5 406.5 660 406 659.5 406.5 659 405.7 658.5 407.7 658 405.7 657.5 406.4 657 405.8 656.5 406 656 405.8 655.5 406.7 655 406.8 654.5 406.7 654 406 653.5 406.7 653 406.9 652.5 407.6 652 406.3 651.5 407.6 651 406.8 650.5 407.8 650 406.9 649.5 406.8 649 407.2 648.5 407 648 406.3 647.5 406 647 406.7 646.5 406.1 646 406 645.5 406.8 645 406.8 644.5 407.5 644 406.7 643.5 405.6 643 405.7 642.5 407.4 642 407.6 641.5 406 641 406.2 640.5 406.6 640 407.1 639.5 406.8 639 405.8 638.5 407 638 413.7 637.5 412.6 637 413.2 636.5 413.1 636 411.9 635.5 412.2 635 412 634.5 410.8 634 412.2 633.5 413.6 633 412.8 632.5 412.9 632 412.2 631.5 412.5 631 413.4 630.5 411.8 630 412.6 629.5 413.6 629 414.9 628.5 410.9 628 413.9 627.5 410.9 627 412.6 626.5 411.5 626 412.4 625.5 411.2 625 414.8 624.5 411.5 624 411.4 623.5 410.8 623 414.5 622.5 413.7 622 412.3 621.5 410.9 621 412.7 620.5 411.8 620 414.5 619.5 414 619 414.4 618.5 411.9 618 412.7 617.5 412.9 617 411 616.5 412.1 616 411.7 615.5 410.6 615 415.3 614.5 410.9 614 414 613.5 415.1 613 411.9 612.5 411.7 612 411 611.5 415.1 611 413.5 610.5 412.7 610 412.5 609.5 415.4 609 411.2 608.5 414.6 608 415.1 607.5 413.3 607 411.9 606.5 411.2 606 411.8 605.5 414.6 605 414.7 604.5 412 604 412.7 603.5 413.4 603 412.6 602.5 413.1 602 412.6 601.5 414.4 601 412.6 600.5 411.8 600 415.4 599.5 414 599 414.5 598.5 413.7 598 414.8 597.5 412.6 597 413 596.5 411.8 596 414.6 595.5 411.5 595 413.9 594.5 411.9 594 411.1 593.5 411.2 593 411.8 592.5 413.3 592 414.2 591.5 413.9 591 413.9 590.5 412.7 590 414.3 589.5 414.1 589 412.5 588.5 415.3 588 412.1 587.5 410.9 587 412.9 586.5 412 586 411.1 585.5 415.2 585 413.1 584.5 414 584 413.9 583.5 413.1 583 410.5 582.5 412.5 582 412.6 581.5 413.8 581 412.7 580.5 412.5 580 411.2 579.5 411.7 579 410.6 578.5 412.4 578 413.9 577.5 412.5 577 414.3 576.5 413.9 576 412.4 575.5 410.6 575 405.7 574.5 406.2 574 406.8 573.5 407.5 573 407.8 572.5 406.6 572 405.9 571.5 405.6 571 407.1 570.5 407.9 570 406.6 569.5 407.1 569 407 568.5 405.9 568 406.8 567.5 406.4 567 405.7 566.5 406.4 566 407 565.5 406.9 565 406.7 564.5 405.6 564 407.6 563.5 407 563 406.1 562.5 407.6 562 407.8 561.5 407.8 561 407.5 560.5 405.9 560 406.3 559.5 405.9 559 406.7 558.5 407.1 558 407.1 557.5 407.4 557 407.5 556.5 406.6 556 407.6 555.5 406.3 555 406.9 554.5 407.3 554 407.7 553.5 407.8 553 407.3 552.5 405.8 552 406.9 551.5 407.8 551 405.7 550.5 406.8 550 405.6 549.5 406.7 549 407.8 548.5 406.6 548 407.2 547.5 406.6 547 407.2 546.5 406.5 546 406.4 545.5 407.4 545 407.5 544.5 406 544 407.3 543.5 407.7 543 407.1 542.5 405.8 542 407.7 541.5 407.8 541 406.8 540.5 407.2 540 407.2 539.5 407.4 539 406.5 538.5 407.5 538 411.3 537.5 414.5 537 412 536.5 410.6 536 412.5 535.5 411.4 535 412.6 534.5 414.3 534 412.1 533.5 413.4 533 413.8 532.5 410.8 532 410.7 531.5 414.5 531 410.7 530.5 412.2 530 410.6 529.5 412.1 529 415 528.5 415.3 528 414.3 527.5 412.9 527 413.6 526.5 410.8 526 411.8 525.5 413.4 525 412.4 524.5 411.9 524 415.3 523.5 412.1 523 413.6 522.5 413.4 522 413.1 521.5 410.6 521 411.8 520.5 413.7 520 415 519.5 414.2 519 411 518.5 412.7 518 412.7 517.5 412.8 517 415.3 516.5 410.6 516 414 515.5 414 515 412.4 514.5 410.8 514 413.9 513.5 414.6 513 414.1 512.5 413.8 512 412.3 511.5 412.3 511 411.9 510.5 412.7 510 412.9 509.5 410.6 509 414.9 508.5 412.9 508 413.3 507.5 414.4 507 411.9 506.5 414.8 506 414.4 505.5 414.1 505 415.3 504.5 413.6 504 412.1 503.5 411.5 503 414.1 502.5 413.9 502 413.6 501.5 414.2 501 414 500.5 414.9 500 413.8 499.5 412.8 499 413.6 498.5 411.2 498 411.8 497.5 413.2 497 411.5 496.5 413 496 414.1 495.5 410.5 495 415.3 494.5 413.6 494 413.5 493.5 414.3 493 412.3 492.5 412.3 492 415.3 491.5 415.3 491 413.2 490.5 414 490 413.2 489.5 411 489 412.1 488.5 414.3 488 411.6 487.5 412.1 487 412.9 486.5 412.3 486 410.5 485.5 414.5 485 415.4 484.5 412.1 484 412 483.5 414.2 483 415.3 482.5 415.2 482 411.5 481.5 414.3 481 414.9 480.5 407.7 480 406.7 479.5 407.3 479 407.5 478.5 406.7 478 406.8 477.5 407.3 477 406.1 476.5 406.2 476 406.4 475.5 407 475 406.1 474.5 407.4 474 407.4 473.5 407.2 473 407.8 472.5 406.1 472 407.5 471.5 405.9 471 407.2 470.5 406.5 470 406.5 469.5 406.5 469 406.4 468.5 406.4 468 406.7 467.5 406.5 467 405.6 466.5 405.6 466 406.2 465.5 406.2 465 407.2 464.5 407.9 464 407.5 463.5 406 463 405.6 462.5 406.6 462 406.2 461.5 407 461 406 460.5 407.4 460 406.7 459.5 405.6 459 406.1 458.5 407.7 458 405.6 457.5 407.2 457 406.6 456.5 406.4 456 407.8 455.5 406.6 455 407.8 454.5 407.4 454 406.9 453.5 405.6 453 406.4 452.5 406.4 452 406.7 451.5 406 451 406.4 450.5 405.8 450 406.2 449.5 407.5 449 405.6 448.5 407.4 448 407.6 447.5 406.6 447 405.6 446.5 407.7 446 407.1 445.5 407.5 445 407.2 444.5 405.6 444 405.8 443.5 407.7 443 406.1 442.5 406 442 406.9 441.5 407 441 406 440.5 407.1 440 407.6 439.5 405.8 439 405.6 438.5 406.3 438 405.7 437.5 407.9 437 405.6 436.5 406.2 436 406.5 435.5 407.2 435 406 434.5 406.2 434 405.9 433.5 406.5 433 406.7 432.5 406 432 406 431.5 407 431 406.7 430.5 405.5 430 407.1 429.5 406.4 429 406 428.5 407.2 428 406 427.5 407.1 427 407.2 426.5 405.8 426 407.9 425.5 405.7 425 407Z" fill="#f44444"/>
<path d="M909.2 401V414.9M909.2 401V412.7M909.2 401V379.1M909.7 401V412.9M909.7 401V379.8M909.7 401V417.8M910.2 401V389M910.2 401V428.9M910.2 401V386.5M910.7 401V377.5M910.7 401V385.7M910.7 401V445.3M911.2 401V421.7M911.2 401V425.9M911.2 401V418.9M911.7 401V422.4M911.7 401V413.1M911.7 401V389M912.2 401V421.7M912.2 401V419.5M912.2 401V420.5M912.7 401V413.7M912.7 401V414.1M912.7 401V384.1M913.2 401V413.7M913.2 401V416.8M913.2 401V413M913.7 401V414.2M913.7 401V422.4M913.7 401V377.3M914.2 401V373.4M914.2 401V414.9M914.2 401V385M914.7 401V413.3M914.7 401V378.7M914.7 401V382.8M915.2 401V389.4M915.2 401V388.9M915.2 401V428.4M915.7 401V377.1M915.7 401V423.3M915.7 401V383.9M916.2 401V379.9M916.2 401V421M916.2 401V429.6M916.7 401V420.8M916.7 401V388.9M916.7 401V417.2M917.2 401V384.2M917.2 401V382.5M917.2 401V383M917.7 401V413.4M917.7 401V417.4M917.7 401V374.2M918.2 401V363.1M918.2 401V425.6M918.2 401V420.6M918.7 401V366M918.7 401V441.5M918.7 401V427.6M919.2 401V388.3M919.2 401V414.8M919.2 401V389.1M919.7 401V423.5M919.7 401V430.1M919.7 401V418.7M920.2 401V387.2M920.2 401V375.3M920.2 401V417.2M920.7 401V418.2M920.7 401V416.2M920.7 401V416.4M921.2 401V382.9M921.2 401V370.7M921.2 401V389.1M921.7 401V377.5M921.7 401V416.3M921.7 401V389.2M922.2 401V388.1M922.2 401V417M922.2 401V380.4M922.7 401V414.3M922.7 401V389.1M922.7 401V387.2M923.2 401V379.8M923.2 401V369.3M923.2 401V412.8M923.7 401V428.5M923.7 401V443.1M923.7 401V414.7M924.2 401V379.9M924.2 401V382.1M924.2 401V374.5M924.7 401V358.8M924.7 401V382.5M924.7 401V414M925.2 401V413.2M925.2 401V385.1M925.2 401V388.6M925.7 401V380.6M925.7 401V416.6M925.7 401V414.9M926.2 401V427M926.2 401V385M926.2 401V423.8M926.7 401V383.4M926.7 401V424.1M926.7 401V381.6M927.2 401V433.6M927.2 401V388.1M927.2 401V386.5M927.7 401V386.9M927.7 401V377.7M927.7 401V387.6M928.2 401V428M928.2 401V415.5M928.2 401V386M928.7 401V414M928.7 401V376.4M928.7 401V387.9M929.2 401V378.1M929.2 401V384.6M929.2 401V420.7M929.7 401V428.2M929.7 401V418.7M929.7 401V388.3M930.2 401V433.5M930.2 401V377.7M930.2 401V419.1M930.7 401V388M930.7 401V387.1M930.7 401V414.5M931.2 401V373.9M931.2 401V414.5M931.2 401V389.2M931.7 401V379M931.7 401V433.5M931.7 401V389M932.2 401V429M932.2 401V421.5M932.2 401V426.8M932.7 401V418.3M932.7 401V416.4M932.7 401V389.2M933.2 401V387.8M933.2 401V417M933.2 401V384.9M933.7 401V426.3M933.7 401V414.8M933.7 401V386M934.2 401V441.4M934.2 401V388.1M934.2 401V426.3M934.7 401V379.5M934.7 401V429.6M934.7 401V369.8M935.2 401V422.5M935.2 401V415.8M935.2 401V414.1M935.7 401V388M935.7 401V381.9M935.7 401V387.5M936.2 401V416.2M936.2 401V438.3M936.2 401V380M936.7 401V385.7M936.7 401V384.5M936.7 401V389M937.2 401V429M937.2 401V377.9M937.2 401V382M937.7 401V376.2M937.7 401V415.9M937.7 401V421.6M938.2 401V357M938.2 401V382.2M938.2 401V388.5M938.7 401V385.1M938.7 401V388.8M938.7 401V427.1M939.2 401V378.5M939.2 401V416.3M939.2 401V385.2M939.7 401V417.7M939.7 401V383.3M939.7 401V418.4M940.2 401V384.8M940.2 401V381.2M940.2 401V412.9M940.7 401V416.9M940.7 401V386.1M940.7 401V437.7M941.2 401V428.5M941.2 401V425.8M941.2 401V385.3M941.7 401V426.6M941.7 401V412.9M941.7 401V382.4M942.2 401V388.7M942.2 401V385.7M942.2 401V382.4M942.7 401V361.9M942.7 401V354.9M942.7 401V374.9M943.2 401V387.1M943.2 401V381.7M943.2 401V383.2M943.7 401V416.9M943.7 401V434.4M943.7 401V387.1M944.2 401V421M944.2 401V412.6M944.2 401V414.4M944.7 401V382.2M944.7 401V363.3M944.7 401V415.2M945.2 401V419.5M945.2 401V372.1M945.2 401V388.1M945.7 401V382.2M945.7 401V419.2M945.7 401V416.8M946.2 401V385.4M946.2 401V427.1M946.2 401V377.3M946.7 401V359.8M946.7 401V415.8M946.7 401V377.7M947.2 401V383.6M947.2 401V439.8M947.2 401V413.9M947.7 401V432.2M947.7 401V368M947.7 401V380.8M948.2 401V380.4M948.2 401V415M948.2 401V385.7M948.7 401V387.9M948.7 401V413.3M948.7 401V362.6M949.2 401V426M949.2 401V414.9M949.2 401V414M949.7 401V418.4M949.7 401V428.1M949.7 401V425.1M950.2 401V383.1M950.2 401V414.4M950.2 401V423.7M950.7 401V423.7M950.7 401V423.7M950.7 401V383.6M951.2 401V378.8M951.2 401V414.6M951.2 401V374.4M951.7 401V431.5M951.7 401V384.7M951.7 401V387.1M952.2 401V381.1M952.2 401V378.7M952.2 401V413.7M952.7 401V357.4M952.7 401V384.4M952.7 401V413.3M953.2 401V384.9M953.2 401V414.4M953.2 401V412.8M953.7 401V369.1M953.7 401V416.3M953.7 401V384.1M954.2 401V384.2M954.2 401V439M954.2 401V419.1M954.7 401V425M954.7 401V382M954.7 401V419M955.2 401V428.5M955.2 401V386.8M955.2 401V416.4M955.7 401V385.5M955.7 401V446.6M955.7 401V369.7M956.2 401V382.7M956.2 401V373.4M956.2 401V426.6M956.7 401V422.6M956.7 401V385.2M956.7 401V372.1M957.2 401V376.4M957.2 401V415.6M957.2 401V413.5M957.7 401V420.1M957.7 401V421M957.7 401V416.4M958.2 401V425.2M958.2 401V418.4M958.2 401V383.6M958.7 401V412.6M958.7 401V423.8M958.7 401V419.5M959.2 401V414.6M959.2 401V388.7M959.2 401V388.1M959.7 401V421.6M959.7 401V385.5M959.7 401V377.5M960.2 401V383.5M960.2 401V387.6M960.2 401V378.6M960.7 401V444.9M960.7 401V444.1M960.7 401V388.8M961.2 401V421.3M961.2 401V378.1M961.2 401V412.9M1014.2 401V381.1M1014.2 401V427.5M1014.2 401V379.5M1014.7 401V416.3M1014.7 401V441.1M1014.7 401V384.8M1015.2 401V424.1M1015.2 401V372.8M1015.2 401V384.3M1015.7 401V439.7M1015.7 401V383.3M1015.7 401V423.5M1016.2 401V380.2M1016.2 401V417.7M1016.2 401V378.5M1016.7 401V371.3M1016.7 401V437.3M1016.7 401V383.2M1017.2 401V444M1017.2 401V386.9M1017.2 401V416.8M1017.7 401V423.6M1017.7 401V377.9M1017.7 401V421.2M1018.2 401V378.9M1018.2 401V417.4M1018.2 401V418.1M1018.7 401V413M1018.7 401V422.6M1018.7 401V414.1M1019.2 401V427.9M1019.2 401V388.1M1019.2 401V422.4M1019.7 401V383M1019.7 401V418.3M1019.7 401V372.2M1020.2 401V379.2M1020.2 401V416.8M1020.2 401V420.7M1020.7 401V420.5M1020.7 401V379.9M1020.7 401V418M1021.2 401V374.7M1021.2 401V423.1M1021.2 401V367.1M1021.7 401V418.7M1021.7 401V420M1021.7 401V413.5M1022.2 401V427.3M1022.2 401V414M1022.2 401V365.8M1022.7 401V383.7M1022.7 401V369.1M1022.7 401V437.5M1023.2 401V425.8M1023.2 401V375.9M1023.2 401V387.6M1023.7 401V419.6M1023.7 401V420.3M1023.7 401V388.4M1024.2 401V426.4M1024.2 401V416.1M1024.2 401V384.7M1024.7 401V425.9M1024.7 401V424.6M1024.7 401V386M1025.2 401V380.1M1025.2 401V420.7M1025.2 401V416M1025.7 401V388.6M1025.7 401V436.7M1025.7 401V388.9M1026.2 401V386.8M1026.2 401V384.9M1026.2 401V416.2M1026.7 401V383.8M1026.7 401V419.4M1026.7 401V415.7M1027.2 401V419.6M1027.2 401V385.5M1027.2 401V415.3M1027.7 401V358.8M1027.7 401V417.2M1027.7 401V365.6M1028.2 401V388.9M1028.2 401V419.5M1028.2 401V413.8M1028.7 401V388.7M1028.7 401V381.5M1028.7 401V414.1M1029.2 401V369.2M1029.2 401V415.4M1029.2 401V439.9M1029.7 401V372.5M1029.7 401V371.9M1029.7 401V382.9M1030.2 401V387.1M1030.2 401V388.9M1030.2 401V381.1M1030.7 401V431.1M1030.7 401V433.5M1030.7 401V386.1M1031.2 401V368.8M1031.2 401V420M1031.2 401V438.1M1031.7 401V423.5M1031.7 401V375.6M1031.7 401V414.4M1032.2 401V384.9M1032.2 401V424.6M1032.2 401V414M1032.7 401V424.2M1032.7 401V439.3M1032.7 401V413.7M1033.2 401V384.3M1033.2 401V415.7M1033.2 401V419.5M1033.7 401V372M1033.7 401V363.2M1033.7 401V385.8M1034.2 401V413.2M1034.2 401V446.2M1034.2 401V433.1M1034.7 401V418.1M1034.7 401V413.4M1034.7 401V368.4M1035.2 401V423.4M1035.2 401V423.5M1035.2 401V415.4M1035.7 401V417.1M1035.7 401V383.5M1035.7 401V420M1036.2 401V420.6M1036.2 401V416.6M1036.2 401V382.2M1036.7 401V386.9M1036.7 401V413.7M1036.7 401V413.1M1037.2 401V428.8M1037.2 401V417.5M1037.2 401V387.8M1037.7 401V417.8M1037.7 401V369M1037.7 401V371.5M1038.2 401V442.4M1038.2 401V387.5M1038.2 401V419.6M1038.7 401V381.7M1038.7 401V383.2M1038.7 401V372M1039.2 401V440.3M1039.2 401V386.6M1039.2 401V389.1M1039.7 401V413.9M1039.7 401V377.3M1039.7 401V413.2M1040.2 401V413.4M1040.2 401V388.1M1040.2 401V413.7M1040.7 401V420.4M1040.7 401V385.2M1040.7 401V385.4M1041.2 401V381.5M1041.2 401V385M1041.2 401V373.6M1041.7 401V384.9M1041.7 401V386.3M1041.7 401V388.7M1042.2 401V416M1042.2 401V385.4M1042.2 401V414.4M1042.7 401V433.3M1042.7 401V438.8M1042.7 401V438.4M1043.2 401V383.1M1043.2 401V425.1M1043.2 401V415.3M1043.7 401V417.3M1043.7 401V422.8M1043.7 401V377.4M1044.2 401V380.9M1044.2 401V356.7M1044.2 401V425.6M1044.7 401V437M1044.7 401V414.6M1044.7 401V427.3M1045.2 401V386.6M1045.2 401V382.2M1045.2 401V377.2M1045.7 401V433.2M1045.7 401V385.5M1045.7 401V414.9M1046.2 401V370.5M1046.2 401V417.7M1046.2 401V438.3M1046.7 401V425.4M1046.7 401V373.3M1046.7 401V413.8M1047.2 401V373.7M1047.2 401V424.2M1047.2 401V416.5M1047.7 401V368.7M1047.7 401V372.6M1047.7 401V387.4M1048.2 401V425.5M1048.2 401V415.1M1048.2 401V418.2M1048.7 401V383.1M1048.7 401V442M1048.7 401V389M1049.2 401V414.4M1049.2 401V355.2M1049.2 401V414M1049.7 401V414.4M1049.7 401V439.5M1049.7 401V382.6M1050.2 401V386.8M1050.2 401V430.9M1050.2 401V386.7M1050.7 401V387.8M1050.7 401V417M1050.7 401V384.7M1051.2 401V423.3M1051.2 401V381.5M1051.2 401V379.1M1051.7 401V376.3M1051.7 401V365.7M1051.7 401V421.2M1052.2 401V356.7M1052.2 401V418.3M1052.2 401V432.9M1052.7 401V420.3M1052.7 401V387.3M1052.7 401V384.2M1053.2 401V381.7M1053.2 401V428M1053.2 401V383.5M1053.7 401V434.6M1053.7 401V378.7M1053.7 401V431.8M1054.2 401V421.7M1054.2 401V415.4M1054.2 401V374M1054.7 401V384M1054.7 401V413.8M1054.7 401V413.9M1055.2 401V413.6M1055.2 401V364.9M1055.2 401V431.6M1055.7 401V422.2M1055.7 401V413M1055.7 401V435.1M1056.2 401V382.5M1056.2 401V386M1056.2 401V423.1M1056.7 401V441.3M1056.7 401V381.4M1056.7 401V435M1057.2 401V388.9M1057.2 401V389.1M1057.2 401V415.4M1057.7 401V388.5M1057.7 401V445.3M1057.7 401V427.8M1058.2 401V376M1058.2 401V421.2M1058.2 401V420.4M1058.7 401V421.8M1058.7 401V365.1M1058.7 401V426M1059.2 401V388.7M1059.2 401V414.6M1059.2 401V434.7M1059.7 401V380M1059.7 401V423M1059.7 401V379.7M1060.2 401V415.3M1060.2 401V418.4M1060.2 401V382.3M1060.7 401V416.7M1060.7 401V381.2M1060.7 401V416.6M1061.2 401V380.8M1061.2 401V385.9M1061.2 401V418.7M1061.7 401V415.5M1061.7 401V381.3M1061.7 401V419.1M1062.2 401V413.7M1062.2 401V416.6M1062.2 401V423.6M1062.7 401V416.6M1062.7 401V373.6M1062.7 401V416.8M1063.2 401V417.9M1063.2 401V388.1M1063.2 401V435.9M1063.7 401V424.9M1063.7 401V378.7M1063.7 401V423.1M1064.2 401V415.9M1064.2 401V355.4M1064.2 401V423.9M1064.7 401V384.6M1064.7 401V388.6M1064.7 401V418.5M1065.2 401V418.9M1065.2 401V418.6M1065.2 401V388.7M1065.7 401V430M1065.7 401V415.8M1065.7 401V417.1M1066.2 401V376.4M1066.2 401V387.6M1066.2 401V413.2M1066.7 401V414M1066.7 401V440.3M1066.7 401V419.2M1067.2 401V423.3M1067.2 401V382.6M1067.2 401V418.8M1067.7 401V418.2M1067.7 401V413.1M1067.7 401V385.4M1068.2 401V416.7M1068.2 401V388.2M1068.2 401V378.3M1068.7 401V384.8M1068.7 401V376.6M1068.7 401V429.4M1069.2 401V387.3M1069.2 401V355.6M1069.2 401V362.5M1069.7 401V376.7M1069.7 401V357.5M1069.7 401V415.4M1070.2 401V379.1M1070.2 401V447.1M1070.2 401V416M1070.7 401V414.7M1070.7 401V381.5M1070.7 401V384.3M1071.2 401V386.5M1071.2 401V386.8M1071.2 401V381.1M1071.7 401V413.4M1071.7 401V425.1M1071.7 401V414.4M1072.2 401V386.8M1072.2 401V418.5M1072.2 401V384M1072.7 401V371.7M1072.7 401V382.9M1072.7 401V414.6M1073.2 401V418.1M1073.2 401V427.5M1073.2 401V414.5M1073.7 401V380.8M1073.7 401V421.5M1073.7 401V431.6M1074.2 401V368.4M1074.2 401V425.5M1074.2 401V382.6M1074.7 401V375M1074.7 401V426.1M1074.7 401V388.5M1075.2 401V383.3M1075.2 401V414.7M1075.2 401V375.7M1075.7 401V413.2M1075.7 401V387.5M1075.7 401V418.7M1076.2 401V383.7M1076.2 401V388.3M1076.2 401V388.2M1076.7 401V388.1M1076.7 401V386.8M1076.7 401V433.7" stroke="#f77a7a" stroke-width="0.6" fill="none"/>
<path d="M870.7 395.6 871.2 396.3 871.7 395.4 872.2 394.4 872.7 396.3 873.2 395 873.7 395.3 874.2 395.9 874.7 395.5 875.2 395.6 875.7 395.5 876.2 396.3 876.7 394.9 877.2 394.4 877.7 394.6 878.2 395 878.7 396.2 879.2 394.4 879.7 395.5 880.2 396 880.7 394.9 881.2 394.2 881.7 394.7 882.2 395 882.7 395.9 883.2 394.8 883.7 394.2 884.2 394.4 884.7 395.5 885.2 395 885.7 395.3 886.2 396 886.7 395 887.2 394.5 887.7 395.2 888.2 396.1 888.7 395.7 889.2 394.8 889.7 394.5 890.2 395.7 890.7 395.7 891.2 394.6 891.7 394.7 892.2 394.1 892.7 395.4 893.2 396.2 893.7 396.1 894.2 394.6 894.7 394.6 895.2 395.7 895.7 396.4 896.2 395.3 896.7 395.5 897.2 395.1 897.7 395.4 898.2 396.2 898.7 394.7 899.2 395.9 899.7 395.6 900.2 396.3 900.7 394.7 901.2 394.8 901.7 395.4 902.2 394.8 902.7 396.4 903.2 394.7 903.7 395.3 904.2 396.1 904.7 395.5 905.2 394.6 905.7 394.5 906.2 395.6 906.7 394.4 907.2 396 907.7 396.4 908.2 395.9 908.7 396 909.2 387.1 909.7 389.3 910.2 391.5 910.7 389.1 911.2 390.9 911.7 389.2 912.2 391.4 912.7 391 913.2 389.4 913.7 390.3 914.2 389 914.7 389.5 915.2 387.8 915.7 390.7 916.2 388.9 916.7 388 917.2 386.9 917.7 388.4 918.2 390.9 918.7 387.7 919.2 387.8 919.7 388.7 920.2 388.7 920.7 391.6 921.2 389.9 921.7 391.2 922.2 387.8 922.7 387.6 923.2 390.8 923.7 391 924.2 391.3 924.7 388.4 925.2 390.5 925.7 391 926.2 389.3 926.7 390.6 927.2 389 927.7 391.7 928.2 388.3 928.7 389.1 929.2 387.3 929.7 389.6 930.2 387.3 930.7 391.7 931.2 388.1 931.7 391.1 932.2 390.4 932.7 390.1 933.2 390.6 933.7 389.9 934.2 391.6 934.7 388.1 935.2 389.8 935.7 389.3 936.2 390.3 936.7 391.6 937.2 389.3 937.7 387.3 938.2 390.6 938.7 390.4 939.2 389.5 939.7 391.4 940.2 390.2 940.7 391.2 941.2 387.4 941.7 387.2 942.2 387.6 942.7 391.3 943.2 391.6 943.7 388.1 944.2 387.5 944.7 387.2 945.2 389.6 945.7 390 946.2 388.9 946.7 390.7 947.2 390.3 947.7 388.2 948.2 390.9 948.7 388.3 949.2 391.7 949.7 390.2 950.2 389.6 950.7 390.8 951.2 391.2 951.7 387.2 952.2 389 952.7 390.3 953.2 389.2 953.7 388.6 954.2 389.5 954.7 390.5 955.2 391 955.7 391.8 956.2 388.9 956.7 390.8 957.2 389.9 957.7 387.6 958.2 387.7 958.7 389.8 959.2 388.8 959.7 387.7 960.2 388.7 960.7 388.6 961.2 389.3 961.7 395.4 962.2 395.2 962.7 396.4 963.2 395.5 963.7 395.2 964.2 395.6 964.7 396.4 965.2 394.1 965.7 394.1 966.2 395 966.7 394.1 967.2 395.8 967.7 395.5 968.2 395.4 968.7 396.4 969.2 394.9 969.7 395.7 970.2 396.3 970.7 394.5 971.2 394.1 971.7 395.7 972.2 395 972.7 394.7 973.2 396 973.7 396.1 974.2 395.2 974.7 395.2 975.2 395.7 975.7 395.5 976.2 394.4 976.7 395.8 977.2 396.3 977.7 395.6 978.2 394.3 978.7 395.9 979.2 394.6 979.7 395.8 980.2 394.8 980.7 396.3 981.2 396 981.7 396.1 982.2 396.4 982.7 395.8 983.2 394.2 983.7 395.3 984.2 395.7 984.7 394.2 985.2 395.7 985.7 396.4 986.2 396 986.7 394.3 987.2 395.1 987.7 396 988.2 394.5 988.7 395.2 989.2 394.2 989.7 395.3 990.2 395.3 990.7 395.3 991.2 394.8 991.7 396.2 992.2 395.5 992.7 396.2 993.2 394.7 993.7 395.5 994.2 395.7 994.7 395.7 995.2 395.8 995.7 394.7 996.2 394.9 996.7 395.2 997.2 395.1 997.7 394.1 998.2 396.5 998.7 396.4 999.2 395.5 999.7 395.1 1000.2 394.1 1000.7 395.8 1001.2 396.4 1001.7 395.6 1002.2 395.5 1002.7 395.6 1003.2 395.6 1003.7 395 1004.2 394.7 1004.7 394.7 1005.2 394.1 1005.7 394.6 1006.2 394.3 1006.7 396 1007.2 394.1 1007.7 394.2 1008.2 395.9 1008.7 396.2 1009.2 395.8 1009.7 394.3 1010.2 394.2 1010.7 396 1011.2 396.4 1011.7 394.1 1012.2 396.3 1012.7 396.1 1013.2 394.4 1013.7 395 1014.2 387.6 1014.7 390 1015.2 390.7 1015.7 391.1 1016.2 391.3 1016.7 387.8 1017.2 388 1017.7 391.4 1018.2 391.1 1018.7 391.2 1019.2 388.2 1019.7 387.6 1020.2 386.9 1020.7 388.6 1021.2 388.1 1021.7 389 1022.2 388.4 1022.7 387 1023.2 387.2 1023.7 390.8 1024.2 391.2 1024.7 386.7 1025.2 386.5 1025.7 391.1 1026.2 391 1026.7 391.4 1027.2 387.7 1027.7 389.6 1028.2 389.6 1028.7 390.6 1029.2 387.3 1029.7 388.4 1030.2 388.3 1030.7 387.4 1031.2 387.8 1031.7 387.7 1032.2 386.6 1032.7 389.3 1033.2 388.1 1033.7 389.6 1034.2 390 1034.7 388.8 1035.2 389.4 1035.7 388.7 1036.2 388.2 1036.7 390 1037.2 389.4 1037.7 391.4 1038.2 390.9 1038.7 391.1 1039.2 391.3 1039.7 387.9 1040.2 387.7 1040.7 386.9 1041.2 387.7 1041.7 388.3 1042.2 389.2 1042.7 387.5 1043.2 389.2 1043.7 391.4 1044.2 389.2 1044.7 388.3 1045.2 390.6 1045.7 387.9 1046.2 387.3 1046.7 387.9 1047.2 387.1 1047.7 389.3 1048.2 389.2 1048.7 391.3 1049.2 389.7 1049.7 387 1050.2 390.5 1050.7 391 1051.2 391.2 1051.7 389.6 1052.2 387.8 1052.7 387.5 1053.2 389.5 1053.7 390.1 1054.2 390.3 1054.7 388.8 1055.2 387.9 1055.7 389.9 1056.2 386.6 1056.7 387.1 1057.2 388.3 1057.7 391 1058.2 388.9 1058.7 389.1 1059.2 388.1 1059.7 387.3 1060.2 388.2 1060.7 387.1 1061.2 386.8 1061.7 388.2 1062.2 391.4 1062.7 388 1063.2 389.6 1063.7 387.2 1064.2 387.7 1064.7 389.1 1065.2 389.8 1065.7 387.4 1066.2 388 1066.7 389 1067.2 390.5 1067.7 390.4 1068.2 388.8 1068.7 389.3 1069.2 390.8 1069.7 386.5 1070.2 390.9 1070.7 390.7 1071.2 390.3 1071.7 391 1072.2 388 1072.7 389.7 1073.2 388.8 1073.7 388.9 1074.2 387.6 1074.7 389.3 1075.2 386.6 1075.7 391.2 1076.2 387.7 1076.7 387.1 1077.2 394.9 1077.7 395.7 1078.2 395.3 1078.7 395 1079.2 394.3 1079.7 394.7 1080.2 395.3 1080.7 394.2 1081.2 396.4 1081.7 396.1 1082.2 395.3 1082.7 395.2 1083.2 395.1 1083.7 395 1084.2 394.4 1084.7 396.3 1085.2 396.3 1085.7 394.1 1086.2 394.8 1086.7 394.4 1087.2 394.7 1087.7 395.7 1088.2 395.5 1088.7 394.2 1089.2 396 1089.7 395.4 1090.2 395.9 1090.7 395.4 1091.2 395 1091.7 394.4 1092.2 396.2 1092.7 394.4 1093.2 396.5 1093.7 395.1 1094.2 394.6 1094.7 394.4 1095.2 394.5 1095.7 394.9 1096.2 394.2 1096.7 394.7 1097.2 394.1 1097.7 394.7 1098.2 395.6 1098.7 395.1 1099.2 395.1 1099.7 394.5 1100.2 394.3 1100.7 394.7 1101.2 394.4 1101.7 395.3 1102.2 394.3 1102.7 396 1103.2 395.6 1103.7 395 1104.2 395.8 1104.7 395.5 1105.2 395.6 1105.7 396.4 1106.2 395.5 1106.7 396.2 1107.2 394.4 1107.7 395.6 1108.2 395.2 1108.7 394.3 1109.2 396.3 1109.7 395.2 1110.2 395.5 1110.7 396.3 1111.2 396 1111.7 395 1112.2 395.5 1112.7 395.1 1113.2 394.3 1113.7 394.2 1114.2 394.2 1114.7 395.9 1115.2 394.4 1115.7 395.5 1116.2 395.7 1116.7 396.4 1117.2 394.9 1117.7 395.5 1118.2 395 1118.7 396.3 1119.2 396.1 1119.7 395.2 1120.2 394.5 1120.7 394.6 1121.2 396.1 1121.7 394.4 1122.2 394.9 1122.7 395.1 1123.2 394.6 1123.7 395.2 1124.2 395.2 1124.7 394.6 1125.2 396.2 1125.7 396 1126.2 394.9 1126.7 396.4 1127.2 394.8 1127.7 395.2 1128.2 395.4 1128.7 394.2 1129.2 395.5 1129.7 396.1 1130.2 396.1 1130.7 395.5 1131.2 395 1131.7 394.2 1132.2 395.3 1132.7 395.3 1133.2 395.5 1133.7 394.2 1134.2 395 1134.7 394.4 1135.2 395.4 1135.7 395.6 1136.2 395.6 1136.7 396.1 1137.2 395.6 1137.7 395.2 1138.2 394.6 1138.7 395.4 1139.2 394.9 1139.7 395.7 1140.2 395.2 1140.7 395.7 1141.2 396 1141.7 394.8 1142.2 396 1142.7 395.1 1143.2 395.3 1143.7 395.4 1144.2 395.3 1144.7 394.8 1145.2 395.2 1145.7 395.4 1146.2 395.6 1146.7 395.3 1147.2 396.3 1147.7 394.8 1148.2 395.4 1148.7 394.9 1149.2 395.1 1149.7 395.2 1150.2 395.2 1150.7 396.3 1151.2 395.3 1151.7 394.8 1152.2 394.5 1152.7 394.4 1153.2 395.4 1153.7 396.4 1154.2 395.4 1154.7 396.4 1155.2 396.2 1155.7 395.6 1156.2 394.3 1156.7 394.6 1157.2 396.3 1157.7 395.8 1158.2 395.7 1158.7 394.5 1159.2 395.8 1159.7 395.3 1160.2 395.3 1160.7 395.8 1161.2 395 1161.7 395.8 1162.2 394.2 1162.7 395.6 1163.2 396.3 1163.7 395.5 1164.2 394.7 1164.7 394.6 1165.2 394.7 1165.7 395.7 1166.2 396.2 1166.7 395.6 1167.2 395.9 1167.7 395.6 1168.2 394.2 1168.7 396 1169.2 395.9 1169.7 395.2 1170.2 395.2 1170.7 394.9 1171.2 394.9 1171.7 394.2 1172.2 395.8 1172.7 395.1 1173.2 395.8 1173.7 394.4 1174.2 396.3 1174.7 396.4 1175.2 394.9 1175.7 394.7 1176.2 395.9 1176.7 394.4 1177.2 396 1177.7 394.2 1178.2 396.3 1178.7 395.1 1179.2 396.1 1179.7 395.4 1180.2 395.4 1180.7 395 1181.2 394.4 1181.7 395.9 1182.2 394.8 1182.7 396.2 1183.2 394.2 1183.7 396.2 1184.2 396.3 1184.7 395.4 1184.7 405.8 1184.2 407.8 1183.7 405.9 1183.2 406.7 1182.7 405.8 1182.2 405.8 1181.7 405.6 1181.2 406 1180.7 406.7 1180.2 406.3 1179.7 406.6 1179.2 406.9 1178.7 407.8 1178.2 405.8 1177.7 406.3 1177.2 407.5 1176.7 406.2 1176.2 406.7 1175.7 406.2 1175.2 406.7 1174.7 407.4 1174.2 405.8 1173.7 407.9 1173.2 407.4 1172.7 405.8 1172.2 406.3 1171.7 406.2 1171.2 405.6 1170.7 407.3 1170.2 406.5 1169.7 405.8 1169.2 407.6 1168.7 406.9 1168.2 407.8 1167.7 405.9 1167.2 406.3 1166.7 406.4 1166.2 407.4 1165.7 407.4 1165.2 406.4 1164.7 405.7 1164.2 407.8 1163.7 406 1163.2 407 1162.7 405.7 1162.2 407.4 1161.7 405.9 1161.2 407.3 1160.7 406.1 1160.2 407.9 1159.7 407.9 1159.2 407.7 1158.7 407.4 1158.2 406.5 1157.7 406.1 1157.2 407.5 1156.7 407.5 1156.2 406.7 1155.7 407.2 1155.2 407.8 1154.7 406.4 1154.2 407.9 1153.7 407.6 1153.2 407.6 1152.7 406.5 1152.2 406.3 1151.7 405.8 1151.2 405.6 1150.7 406.5 1150.2 406.4 1149.7 407.1 1149.2 405.9 1148.7 406.6 1148.2 406.6 1147.7 406.9 1147.2 406.9 1146.7 406.8 1146.2 406.2 1145.7 406 1145.2 406.4 1144.7 406.5 1144.2 407.3 1143.7 407.7 1143.2 407 1142.7 406.8 1142.2 407.1 1141.7 406.7 1141.2 406 1140.7 406 1140.2 405.6 1139.7 405.9 1139.2 407.5 1138.7 406.2 1138.2 407.5 1137.7 406.2 1137.2 405.7 1136.7 407.8 1136.2 407.5 1135.7 406.3 1135.2 406.1 1134.7 405.6 1134.2 406.1 1133.7 407.8 1133.2 407 1132.7 407.5 1132.2 406.3 1131.7 407.7 1131.2 407.7 1130.7 406.9 1130.2 407.8 1129.7 406.8 1129.2 406.2 1128.7 407.3 1128.2 405.9 1127.7 407.7 1127.2 406 1126.7 406.8 1126.2 407.8 1125.7 406.8 1125.2 406.1 1124.7 407.5 1124.2 407.2 1123.7 406.4 1123.2 406.7 1122.7 405.7 1122.2 407.8 1121.7 405.7 1121.2 407.9 1120.7 406.7 1120.2 405.8 1119.7 407.5 1119.2 407.4 1118.7 405.7 1118.2 405.9 1117.7 406.3 1117.2 405.7 1116.7 407.4 1116.2 407.9 1115.7 407 1115.2 407.6 1114.7 406.6 1114.2 405.8 1113.7 407 1113.2 406.2 1112.7 407.9 1112.2 407.7 1111.7 407.6 1111.2 407 1110.7 406.3 1110.2 407.7 1109.7 407.4 1109.2 405.8 1108.7 406.7 1108.2 406.7 1107.7 407.2 1107.2 407 1106.7 407.2 1106.2 407.5 1105.7 406.7 1105.2 407.5 1104.7 407 1104.2 406.2 1103.7 406.6 1103.2 406.5 1102.7 407.7 1102.2 407 1101.7 406.7 1101.2 407.3 1100.7 405.8 1100.2 406.5 1099.7 406.9 1099.2 406.7 1098.7 406.8 1098.2 405.8 1097.7 406.2 1097.2 406.3 1096.7 406.5 1096.2 406.9 1095.7 405.6 1095.2 405.8 1094.7 406.7 1094.2 406.6 1093.7 407.7 1093.2 406.2 1092.7 405.7 1092.2 405.9 1091.7 406.8 1091.2 405.9 1090.7 406 1090.2 407.7 1089.7 406.9 1089.2 406.6 1088.7 406.5 1088.2 407.6 1087.7 407.9 1087.2 407.3 1086.7 405.7 1086.2 407.8 1085.7 405.8 1085.2 407 1084.7 406.1 1084.2 407.1 1083.7 407.7 1083.2 407 1082.7 405.9 1082.2 407.6 1081.7 407.5 1081.2 406 1080.7 406.8 1080.2 407.3 1079.7 407.8 1079.2 406.8 1078.7 406.9 1078.2 406.6 1077.7 406 1077.2 406.9 1076.7 410.6 1076.2 411 1075.7 412.4 1075.2 413.9 1074.7 412.8 1074.2 411.5 1073.7 414 1073.2 412.7 1072.7 411 1072.2 412.1 1071.7 413.1 1071.2 412.5 1070.7 412.9 1070.2 411.8 1069.7 413 1069.2 413.5 1068.7 413.4 1068.2 415.3 1067.7 412.8 1067.2 411.2 1066.7 411.9 1066.2 411.8 1065.7 414.2 1065.2 413.6 1064.7 414.5 1064.2 415.4 1063.7 413 1063.2 414.5 1062.7 415.2 1062.2 414 1061.7 412.4 1061.2 413.2 1060.7 414.1 1060.2 412.1 1059.7 414.4 1059.2 411.5 1058.7 414.7 1058.2 412.5 1057.7 414 1057.2 412.3 1056.7 411.4 1056.2 412.2 1055.7 412.1 1055.2 410.8 1054.7 410.5 1054.2 410.7 1053.7 413.5 1053.2 411.6 1052.7 411.6 1052.2 412.8 1051.7 415.1 1051.2 415.4 1050.7 410.6 1050.2 413.6 1049.7 415.2 1049.2 413.7 1048.7 411.2 1048.2 411.4 1047.7 412.7 1047.2 413.4 1046.7 412.2 1046.2 413.4 1045.7 415.2 1045.2 411.6 1044.7 411.6 1044.2 413.9 1043.7 414.4 1043.2 415.1 1042.7 412.2 1042.2 413.9 1041.7 414.7 1041.2 411.4 1040.7 411 1040.2 415.5 1039.7 412.4 1039.2 413 1038.7 414.3 1038.2 410.8 1037.7 414.2 1037.2 410.9 1036.7 411.6 1036.2 411.9 1035.7 413.7 1035.2 411.9 1034.7 411.1 1034.2 414.4 1033.7 410.5 1033.2 411.3 1032.7 412.9 1032.2 413.3 1031.7 415.4 1031.2 412.5 1030.7 412 1030.2 411.2 1029.7 411 1029.2 413.4 1028.7 410.9 1028.2 413.5 1027.7 414.1 1027.2 412.1 1026.7 414.7 1026.2 410.9 1025.7 413.2 1025.2 414.9 1024.7 411.3 1024.2 414.6 1023.7 412.3 1023.2 411.3 1022.7 410.7 1022.2 412.1 1021.7 410.7 1021.2 412.5 1020.7 412 1020.2 415.3 1019.7 414.6 1019.2 415.4 1018.7 412.2 1018.2 414.4 1017.7 411.7 1017.2 413.9 1016.7 413.1 1016.2 414.7 1015.7 411.8 1015.2 412.7 1014.7 412.5 1014.2 415.3 1013.7 407.1 1013.2 405.8 1012.7 406.7 1012.2 407.5 1011.7 406.1 1011.2 406.6 1010.7 407.5 1010.2 406 1009.7 406.8 1009.2 406 1008.7 407.9 1008.2 407.6 1007.7 407.3 1007.2 407.8 1006.7 407.6 1006.2 407.5 1005.7 407.1 1005.2 407.4 1004.7 406 1004.2 405.6 1003.7 406.8 1003.2 407.4 1002.7 406.8 1002.2 406.2 1001.7 405.8 1001.2 406.6 1000.7 407.7 1000.2 406.6 999.7 406 999.2 407.1 998.7 405.6 998.2 407.1 997.7 406.3 997.2 406.7 996.7 407.6 996.2 407.6 995.7 405.8 995.2 407.3 994.7 405.8 994.2 407 993.7 406.8 993.2 405.9 992.7 405.6 992.2 407.1 991.7 407.8 991.2 407.1 990.7 406.8 990.2 406.8 989.7 405.8 989.2 406.8 988.7 406.9 988.2 406.2 987.7 406.9 987.2 407.5 986.7 407.3 986.2 407.3 985.7 406.7 985.2 406.1 984.7 407.5 984.2 406.4 983.7 405.9 983.2 405.6 982.7 405.5 982.2 406.8 981.7 407.6 981.2 405.7 980.7 407.5 980.2 407.3 979.7 405.6 979.2 406.4 978.7 407.2 978.2 405.7 977.7 406.3 977.2 406.9 976.7 406.7 976.2 407.1 975.7 407.6 975.2 407.4 974.7 407.5 974.2 405.6 973.7 406.9 973.2 407.7 972.7 407.3 972.2 407.3 971.7 407.3 971.2 406.8 970.7 407.7 970.2 407.7 969.7 406.2 969.2 407.1 968.7 405.9 968.2 406.8 967.7 406 967.2 406.2 966.7 407.1 966.2 407.7 965.7 406.5 965.2 406.5 964.7 406.7 964.2 406.7 963.7 406.3 963.2 407.3 962.7 407.4 962.2 405.6 961.7 407 961.2 412.7 960.7 412.8 960.2 411.3 959.7 411.1 959.2 414.7 958.7 412.8 958.2 413.2 957.7 412 957.2 411.1 956.7 412.6 956.2 414.8 955.7 413.5 955.2 412.6 954.7 410.4 954.2 412.4 953.7 414.7 953.2 412.8 952.7 410.3 952.2 412.5 951.7 414.2 951.2 412.4 950.7 410.7 950.2 411.5 949.7 412.9 949.2 413.4 948.7 414.2 948.2 411.1 947.7 411.8 947.2 411.9 946.7 411.5 946.2 414.1 945.7 414.7 945.2 414 944.7 410.5 944.2 414.5 943.7 410.3 943.2 413.4 942.7 415 942.2 414.5 941.7 413.6 941.2 413.5 940.7 411.1 940.2 410.4 939.7 414.5 939.2 411.6 938.7 413.6 938.2 414.7 937.7 413.9 937.2 410.7 936.7 410.4 936.2 413.6 935.7 414.8 935.2 412 934.7 411.8 934.2 410.5 933.7 415.1 933.2 413.4 932.7 412.9 932.2 412.9 931.7 410.6 931.2 412.7 930.7 413.5 930.2 412.7 929.7 414.4 929.2 413 928.7 412.9 928.2 414.4 927.7 412.7 927.2 412.5 926.7 412.5 926.2 413.6 925.7 412 925.2 412.2 924.7 414 924.2 413.8 923.7 410.5 923.2 414.7 922.7 411.3 922.2 412 921.7 410.8 921.2 412.5 920.7 411.6 920.2 410.3 919.7 411.2 919.2 414.7 918.7 412.6 918.2 413.3 917.7 414.4 917.2 412.2 916.7 410.8 916.2 414.7 915.7 410.2 915.2 414.6 914.7 413.3 914.2 413 913.7 410.8 913.2 411.7 912.7 412.9 912.2 412.1 911.7 411.2 911.2 412.7 910.7 411.2 910.2 411.9 909.7 415 909.2 411.4 908.7 407 908.2 407 907.7 406.5 907.2 407 906.7 407.9 906.2 406.1 905.7 406.3 905.2 405.7 904.7 405.9 904.2 406.7 903.7 407.1 903.2 405.9 902.7 405.9 902.2 406.9 901.7 406 901.2 406.3 900.7 405.8 900.2 407.4 899.7 406.9 899.2 406.5 898.7 407.9 898.2 407.3 897.7 406 897.2 407.1 896.7 407.9 896.2 406.5 895.7 406.1 895.2 407.6 894.7 407 894.2 405.9 893.7 406.3 893.2 406.3 892.7 407.7 892.2 407 891.7 405.8 891.2 407.3 890.7 406.2 890.2 407.1 889.7 407.8 889.2 407.4 888.7 407.2 888.2 407.9 887.7 406.6 887.2 406.2 886.7 407.1 886.2 406.3 885.7 406.1 885.2 406.7 884.7 407 884.2 407.8 883.7 406.7 883.2 407.8 882.7 407.2 882.2 406.7 881.7 407.9 881.2 407.2 880.7 405.6 880.2 406.9 879.7 405.7 879.2 407.3 878.7 407.2 878.2 406.5 877.7 406.9 877.2 406.8 876.7 406.5 876.2 406.8 875.7 406 875.2 407.7 874.7 405.8 874.2 407.4 873.7 406.3 873.2 405.7 872.7 406.9 872.2 407.5 871.7 407.9 871.2 407.1 870.7 406Z" fill="#f44444"/>
<circle cx="798" cy="401.5" r="3.4" fill="#f44444"/>
<circle cx="818" cy="401.5" r="3.4" fill="#f44444"/>
<circle cx="838" cy="401.5" r="3.4" fill="#f44444"/>
<path d="M767 485.5 H867.5 M817.2 485.5 V494.3" fill="none" stroke="#f44444" stroke-width="3.2"/>
<text x="817.1" y="515.8" font-size="22.7" fill="#f44444" text-anchor="middle">230 s</text>
<path d="M449.9 457.5 V489.8 H468.5" fill="none" stroke="#f44444" stroke-width="3.3"/>
<text x="443.8" y="509.6" font-size="22.8" fill="#f44444" text-anchor="start" transform="rotate(-90 443.8 509.6)">0.5 mV</text>
<text x="450.2" y="515.6" font-size="22.9" fill="#f44444" text-anchor="start">2 s</text>
<path d="M1224.7 8.2 1224.1 9.2 1223.6 10.2 1223.1 11.2 1222.6 12.2 1222.2 13.2 1221.8 14.2 1221.5 15.2 1221.2 16.2 1220.9 17.2 1220.7 18.2 1220.6 19.2 1220.5 20.2 1220.5 21.2 1220.5 22.2 1220.6 23.2 1220.8 24.2 1221 25.2 1221.3 26.2 1221.6 27.2 1222 28.2 1222.4 29.2 1222.8 30.2 1223.3 31.2 1223.8 32.2 1224.3 33.2 1224.9 34.2 1225.4 35.2 1226 36.2 1226.6 37.2 1227.1 38.2 1227.6 39.2 1228.1 40.2 1228.6 41.2 1229.1 42.2 1229.5 43.2 1229.9 44.2 1230.2 45.2 1230.5 46.2 1230.7 47.2 1230.8 48.2 1230.9 49.2 1231 50.2 1231 51.2 1230.9 52.2 1230.8 53.2 1230.6 54.2 1230.4 55.2 1230.1 56.2 1229.7 57.2 1229.3 58.2 1228.9 59.2 1228.4 60.2 1227.9 61.2 1227.4 62.2 1226.9 63.2 1226.3 64.2 1225.8 65.2 1225.2 66.2 1224.7 67.2 1224.1 68.2 1223.6 69.2 1223.1 70.2 1222.6 71.2 1222.2 72.2 1221.8 73.2 1221.5 74.2 1221.2 75.2 1220.9 76.2 1220.7 77.2 1220.6 78.2 1220.5 79.2 1220.5 80.2 1220.5 81.2 1220.6 82.2 1220.8 83.2 1221 84.2 1221.3 85.2 1221.6 86.2 1222 87.2 1222.4 88.2 1222.8 89.2 1223.3 90.2 1223.8 91.2 1224.3 92.2 1224.9 93.2 1225.4 94.2 1226 95.2 1226.6 96.2 1227.1 97.2 1227.6 98.2 1228.1 99.2 1228.6 100.2 1229.1 101.2 1229.5 102.2 1229.9 103.2 1230.2 104.2 1230.5 105.2 1230.7 106.2 1230.8 107.2 1230.9 108.2 1231 109.2 1231 110.2 1230.9 111.2 1230.8 112.2 1230.6 113.2 1230.4 114.2 1230.1 115.2 1229.7 116.2 1229.3 117.2 1228.9 118.2 1228.4 119.2 1227.9 120.2 1227.4 121.2 1226.9 122.2 1226.3 123.2 1225.8 124.2 1225.2 125.2 1224.7 126.2 1224.1 127.2 1223.6 128.2 1223.1 129.2 1222.6 130.2 1222.2 131.2 1221.8 132.2 1221.5 133.2 1221.2 134.2 1220.9 135.2 1220.7 136.2 1220.6 137.2 1220.5 138.2 1220.5 139.2 1220.5 140.2 1220.6 141.2 1220.8 142.2 1221 143.2 1221.3 144.2 1221.6 145.2 1222 146.2 1222.4 147.2 1222.8 148.2 1223.3 149.2 1223.8 150.2 1224.3 151.2 1224.9 152.2 1225.4 153.2 1226 154.2 1226.6 155.2 1227.1 156.2 1227.6 157.2 1228.1 158.2 1228.6 159.2 1229.1 160.2 1229.5 161.2 1229.9 162.2 1230.2 163.2 1230.5 164.2 1230.7 165.2 1230.8 166.2 1230.9 167.2 1231 168.2 1231 169.2 1230.9 170.2 1230.8 171.2 1230.6 172.2 1230.4 173.2 1230.1 174.2 1229.7 175.2 1229.3 176.2 1228.9 177.2 1228.4 178.2 1227.9 179.2 1227.4 180.2 1226.9 181.2 1226.3 182.2 1225.8 183.2 1225.2 184.2 1224.7 185.2 1224.1 186.2 1223.6 187.2 1223.1 188.2 1222.6 189.2 1222.2 190.2 1221.8 191.2 1221.5 192.2 1221.2 193.2 1220.9 194.2 1220.7 195.2 1220.6 196.2 1220.5 197.2 1220.5 198.2 1220.5 199.2 1220.6 200.2 1220.8 201.2 1221 202.2 1221.3 203.2 1221.6 204.2 1222 205.2 1222.4 206.2 1222.8 207.2 1223.3 208.2 1223.8 209.2 1224.3 210.2 1224.9 211.2 1225.4 212.2 1226 213.2 1226.6 214.2 1227.1 215.2 1227.6 216.2 1228.1 217.2 1228.6 218.2 1229.1 219.2 1229.5 220.2 1229.9 221.2 1230.2 222.2 1230.5 223.2 1230.7 224.2 1230.8 225.2 1230.9 226.2 1231 227.2 1231 228.2 1230.9 229.2 1230.8 230.2 1230.6 231.2 1230.4 232.2 1230.1 233.2 1229.7 234.2 1229.3 235.2 1228.9 236.2 1228.4 237.2 1227.9 238.2 1227.4 239.2 1226.9 240.2 1226.3 241.2 1225.8 242.2 1225.2 243.2 1224.7 244.2 1258.2 244.2 1258.7 243.2 1259.3 242.2 1259.8 241.2 1260.4 240.2 1260.9 239.2 1261.4 238.2 1261.9 237.2 1262.4 236.2 1262.8 235.2 1263.2 234.2 1263.6 233.2 1263.9 232.2 1264.1 231.2 1264.3 230.2 1264.4 229.2 1264.5 228.2 1264.5 227.2 1264.4 226.2 1264.3 225.2 1264.2 224.2 1264 223.2 1263.7 222.2 1263.4 221.2 1263 220.2 1262.6 219.2 1262.1 218.2 1261.6 217.2 1261.1 216.2 1260.6 215.2 1260.1 214.2 1259.5 213.2 1258.9 212.2 1258.4 211.2 1257.8 210.2 1257.3 209.2 1256.8 208.2 1256.3 207.2 1255.9 206.2 1255.5 205.2 1255.1 204.2 1254.8 203.2 1254.5 202.2 1254.3 201.2 1254.1 200.2 1254 199.2 1254 198.2 1254 197.2 1254.1 196.2 1254.2 195.2 1254.4 194.2 1254.7 193.2 1255 192.2 1255.3 191.2 1255.7 190.2 1256.1 189.2 1256.6 188.2 1257.1 187.2 1257.6 186.2 1258.2 185.2 1258.7 184.2 1259.3 183.2 1259.8 182.2 1260.4 181.2 1260.9 180.2 1261.4 179.2 1261.9 178.2 1262.4 177.2 1262.8 176.2 1263.2 175.2 1263.6 174.2 1263.9 173.2 1264.1 172.2 1264.3 171.2 1264.4 170.2 1264.5 169.2 1264.5 168.2 1264.4 167.2 1264.3 166.2 1264.2 165.2 1264 164.2 1263.7 163.2 1263.4 162.2 1263 161.2 1262.6 160.2 1262.1 159.2 1261.6 158.2 1261.1 157.2 1260.6 156.2 1260.1 155.2 1259.5 154.2 1258.9 153.2 1258.4 152.2 1257.8 151.2 1257.3 150.2 1256.8 149.2 1256.3 148.2 1255.9 147.2 1255.5 146.2 1255.1 145.2 1254.8 144.2 1254.5 143.2 1254.3 142.2 1254.1 141.2 1254 140.2 1254 139.2 1254 138.2 1254.1 137.2 1254.2 136.2 1254.4 135.2 1254.7 134.2 1255 133.2 1255.3 132.2 1255.7 131.2 1256.1 130.2 1256.6 129.2 1257.1 128.2 1257.6 127.2 1258.2 126.2 1258.7 125.2 1259.3 124.2 1259.8 123.2 1260.4 122.2 1260.9 121.2 1261.4 120.2 1261.9 119.2 1262.4 118.2 1262.8 117.2 1263.2 116.2 1263.6 115.2 1263.9 114.2 1264.1 113.2 1264.3 112.2 1264.4 111.2 1264.5 110.2 1264.5 109.2 1264.4 108.2 1264.3 107.2 1264.2 106.2 1264 105.2 1263.7 104.2 1263.4 103.2 1263 102.2 1262.6 101.2 1262.1 100.2 1261.6 99.2 1261.1 98.2 1260.6 97.2 1260.1 96.2 1259.5 95.2 1258.9 94.2 1258.4 93.2 1257.8 92.2 1257.3 91.2 1256.8 90.2 1256.3 89.2 1255.9 88.2 1255.5 87.2 1255.1 86.2 1254.8 85.2 1254.5 84.2 1254.3 83.2 1254.1 82.2 1254 81.2 1254 80.2 1254 79.2 1254.1 78.2 1254.2 77.2 1254.4 76.2 1254.7 75.2 1255 74.2 1255.3 73.2 1255.7 72.2 1256.1 71.2 1256.6 70.2 1257.1 69.2 1257.6 68.2 1258.2 67.2 1258.7 66.2 1259.3 65.2 1259.8 64.2 1260.4 63.2 1260.9 62.2 1261.4 61.2 1261.9 60.2 1262.4 59.2 1262.8 58.2 1263.2 57.2 1263.6 56.2 1263.9 55.2 1264.1 54.2 1264.3 53.2 1264.4 52.2 1264.5 51.2 1264.5 50.2 1264.4 49.2 1264.3 48.2 1264.2 47.2 1264 46.2 1263.7 45.2 1263.4 44.2 1263 43.2 1262.6 42.2 1262.1 41.2 1261.6 40.2 1261.1 39.2 1260.6 38.2 1260.1 37.2 1259.5 36.2 1258.9 35.2 1258.4 34.2 1257.8 33.2 1257.3 32.2 1256.8 31.2 1256.3 30.2 1255.9 29.2 1255.5 28.2 1255.1 27.2 1254.8 26.2 1254.5 25.2 1254.3 24.2 1254.1 23.2 1254 22.2 1254 21.2 1254 20.2 1254.1 19.2 1254.2 18.2 1254.4 17.2 1254.7 16.2 1255 15.2 1255.3 14.2 1255.7 13.2 1256.1 12.2 1256.6 11.2 1257.1 10.2 1257.6 9.2 1258.2 8.2Z" fill="#f9cdb9"/>
<path d="M1257.2 8.2 1256.6 9.2 1256.1 10.2 1255.6 11.2 1255.1 12.2 1254.7 13.2 1254.3 14.2 1254 15.2 1253.7 16.2 1253.4 17.2 1253.2 18.2 1253.1 19.2 1253 20.2 1253 21.2 1253 22.2 1253.1 23.2 1253.3 24.2 1253.5 25.2 1253.8 26.2 1254.1 27.2 1254.5 28.2 1254.9 29.2 1255.3 30.2 1255.8 31.2 1256.3 32.2 1256.8 33.2 1257.4 34.2 1257.9 35.2 1258.5 36.2 1259.1 37.2 1259.6 38.2 1260.1 39.2 1260.6 40.2 1261.1 41.2 1261.6 42.2 1262 43.2 1262.4 44.2 1262.7 45.2 1263 46.2 1263.2 47.2 1263.3 48.2 1263.4 49.2 1263.5 50.2 1263.5 51.2 1263.4 52.2 1263.3 53.2 1263.1 54.2 1262.9 55.2 1262.6 56.2 1262.2 57.2 1261.8 58.2 1261.4 59.2 1260.9 60.2 1260.4 61.2 1259.9 62.2 1259.4 63.2 1258.8 64.2 1258.3 65.2 1257.7 66.2 1257.2 67.2 1256.6 68.2 1256.1 69.2 1255.6 70.2 1255.1 71.2 1254.7 72.2 1254.3 73.2 1254 74.2 1253.7 75.2 1253.4 76.2 1253.2 77.2 1253.1 78.2 1253 79.2 1253 80.2 1253 81.2 1253.1 82.2 1253.3 83.2 1253.5 84.2 1253.8 85.2 1254.1 86.2 1254.5 87.2 1254.9 88.2 1255.3 89.2 1255.8 90.2 1256.3 91.2 1256.8 92.2 1257.4 93.2 1257.9 94.2 1258.5 95.2 1259.1 96.2 1259.6 97.2 1260.1 98.2 1260.6 99.2 1261.1 100.2 1261.6 101.2 1262 102.2 1262.4 103.2 1262.7 104.2 1263 105.2 1263.2 106.2 1263.3 107.2 1263.4 108.2 1263.5 109.2 1263.5 110.2 1263.4 111.2 1263.3 112.2 1263.1 113.2 1262.9 114.2 1262.6 115.2 1262.2 116.2 1261.8 117.2 1261.4 118.2 1260.9 119.2 1260.4 120.2 1259.9 121.2 1259.4 122.2 1258.8 123.2 1258.3 124.2 1257.7 125.2 1257.2 126.2 1256.6 127.2 1256.1 128.2 1255.6 129.2 1255.1 130.2 1254.7 131.2 1254.3 132.2 1254 133.2 1253.7 134.2 1253.4 135.2 1253.2 136.2 1253.1 137.2 1253 138.2 1253 139.2 1253 140.2 1253.1 141.2 1253.3 142.2 1253.5 143.2 1253.8 144.2 1254.1 145.2 1254.5 146.2 1254.9 147.2 1255.3 148.2 1255.8 149.2 1256.3 150.2 1256.8 151.2 1257.4 152.2 1257.9 153.2 1258.5 154.2 1259.1 155.2 1259.6 156.2 1260.1 157.2 1260.6 158.2 1261.1 159.2 1261.6 160.2 1262 161.2 1262.4 162.2 1262.7 163.2 1263 164.2 1263.2 165.2 1263.3 166.2 1263.4 167.2 1263.5 168.2 1263.5 169.2 1263.4 170.2 1263.3 171.2 1263.1 172.2 1262.9 173.2 1262.6 174.2 1262.2 175.2 1261.8 176.2 1261.4 177.2 1260.9 178.2 1260.4 179.2 1259.9 180.2 1259.4 181.2 1258.8 182.2 1258.3 183.2 1257.7 184.2 1257.2 185.2 1256.6 186.2 1256.1 187.2 1255.6 188.2 1255.1 189.2 1254.7 190.2 1254.3 191.2 1254 192.2 1253.7 193.2 1253.4 194.2 1253.2 195.2 1253.1 196.2 1253 197.2 1253 198.2 1253 199.2 1253.1 200.2 1253.3 201.2 1253.5 202.2 1253.8 203.2 1254.1 204.2 1254.5 205.2 1254.9 206.2 1255.3 207.2 1255.8 208.2 1256.3 209.2 1256.8 210.2 1257.4 211.2 1257.9 212.2 1258.5 213.2 1259.1 214.2 1259.6 215.2 1260.1 216.2 1260.6 217.2 1261.1 218.2 1261.6 219.2 1262 220.2 1262.4 221.2 1262.7 222.2 1263 223.2 1263.2 224.2 1263.3 225.2 1263.4 226.2 1263.5 227.2 1263.5 228.2 1263.4 229.2 1263.3 230.2 1263.1 231.2 1262.9 232.2 1262.6 233.2 1262.2 234.2 1261.8 235.2 1261.4 236.2 1260.9 237.2 1260.4 238.2 1259.9 239.2 1259.4 240.2 1258.8 241.2 1258.3 242.2 1257.7 243.2 1257.2 244.2 1290 244.2 1290.5 243.2 1291.1 242.2 1291.6 241.2 1292.2 240.2 1292.7 239.2 1293.2 238.2 1293.7 237.2 1294.2 236.2 1294.6 235.2 1295 234.2 1295.4 233.2 1295.7 232.2 1295.9 231.2 1296.1 230.2 1296.2 229.2 1296.3 228.2 1296.3 227.2 1296.2 226.2 1296.1 225.2 1296 224.2 1295.8 223.2 1295.5 222.2 1295.2 221.2 1294.8 220.2 1294.4 219.2 1293.9 218.2 1293.4 217.2 1292.9 216.2 1292.4 215.2 1291.9 214.2 1291.3 213.2 1290.7 212.2 1290.2 211.2 1289.6 210.2 1289.1 209.2 1288.6 208.2 1288.1 207.2 1287.7 206.2 1287.3 205.2 1286.9 204.2 1286.6 203.2 1286.3 202.2 1286.1 201.2 1285.9 200.2 1285.8 199.2 1285.8 198.2 1285.8 197.2 1285.9 196.2 1286 195.2 1286.2 194.2 1286.5 193.2 1286.8 192.2 1287.1 191.2 1287.5 190.2 1287.9 189.2 1288.4 188.2 1288.9 187.2 1289.4 186.2 1290 185.2 1290.5 184.2 1291.1 183.2 1291.6 182.2 1292.2 181.2 1292.7 180.2 1293.2 179.2 1293.7 178.2 1294.2 177.2 1294.6 176.2 1295 175.2 1295.4 174.2 1295.7 173.2 1295.9 172.2 1296.1 171.2 1296.2 170.2 1296.3 169.2 1296.3 168.2 1296.2 167.2 1296.1 166.2 1296 165.2 1295.8 164.2 1295.5 163.2 1295.2 162.2 1294.8 161.2 1294.4 160.2 1293.9 159.2 1293.4 158.2 1292.9 157.2 1292.4 156.2 1291.9 155.2 1291.3 154.2 1290.7 153.2 1290.2 152.2 1289.6 151.2 1289.1 150.2 1288.6 149.2 1288.1 148.2 1287.7 147.2 1287.3 146.2 1286.9 145.2 1286.6 144.2 1286.3 143.2 1286.1 142.2 1285.9 141.2 1285.8 140.2 1285.8 139.2 1285.8 138.2 1285.9 137.2 1286 136.2 1286.2 135.2 1286.5 134.2 1286.8 133.2 1287.1 132.2 1287.5 131.2 1287.9 130.2 1288.4 129.2 1288.9 128.2 1289.4 127.2 1290 126.2 1290.5 125.2 1291.1 124.2 1291.6 123.2 1292.2 122.2 1292.7 121.2 1293.2 120.2 1293.7 119.2 1294.2 118.2 1294.6 117.2 1295 116.2 1295.4 115.2 1295.7 114.2 1295.9 113.2 1296.1 112.2 1296.2 111.2 1296.3 110.2 1296.3 109.2 1296.2 108.2 1296.1 107.2 1296 106.2 1295.8 105.2 1295.5 104.2 1295.2 103.2 1294.8 102.2 1294.4 101.2 1293.9 100.2 1293.4 99.2 1292.9 98.2 1292.4 97.2 1291.9 96.2 1291.3 95.2 1290.7 94.2 1290.2 93.2 1289.6 92.2 1289.1 91.2 1288.6 90.2 1288.1 89.2 1287.7 88.2 1287.3 87.2 1286.9 86.2 1286.6 85.2 1286.3 84.2 1286.1 83.2 1285.9 82.2 1285.8 81.2 1285.8 80.2 1285.8 79.2 1285.9 78.2 1286 77.2 1286.2 76.2 1286.5 75.2 1286.8 74.2 1287.1 73.2 1287.5 72.2 1287.9 71.2 1288.4 70.2 1288.9 69.2 1289.4 68.2 1290 67.2 1290.5 66.2 1291.1 65.2 1291.6 64.2 1292.2 63.2 1292.7 62.2 1293.2 61.2 1293.7 60.2 1294.2 59.2 1294.6 58.2 1295 57.2 1295.4 56.2 1295.7 55.2 1295.9 54.2 1296.1 53.2 1296.2 52.2 1296.3 51.2 1296.3 50.2 1296.2 49.2 1296.1 48.2 1296 47.2 1295.8 46.2 1295.5 45.2 1295.2 44.2 1294.8 43.2 1294.4 42.2 1293.9 41.2 1293.4 40.2 1292.9 39.2 1292.4 38.2 1291.9 37.2 1291.3 36.2 1290.7 35.2 1290.2 34.2 1289.6 33.2 1289.1 32.2 1288.6 31.2 1288.1 30.2 1287.7 29.2 1287.3 28.2 1286.9 27.2 1286.6 26.2 1286.3 25.2 1286.1 24.2 1285.9 23.2 1285.8 22.2 1285.8 21.2 1285.8 20.2 1285.9 19.2 1286 18.2 1286.2 17.2 1286.5 16.2 1286.8 15.2 1287.1 14.2 1287.5 13.2 1287.9 12.2 1288.4 11.2 1288.9 10.2 1289.4 9.2 1290 8.2Z" fill="#bf9000"/>
<rect x="1296.3" y="9.2" width="11.6" height="235.5" fill="#0d0d0d"/>
<rect x="1308" y="111.8" width="21.2" height="29.4" fill="#808080"/>
<path d="M1225 282.6 1224.4 283.6 1223.9 284.6 1223.4 285.6 1222.9 286.6 1222.5 287.6 1222 288.6 1221.7 289.6 1221.3 290.6 1221.1 291.6 1220.8 292.6 1220.7 293.6 1220.6 294.6 1220.5 295.6 1220.5 296.6 1220.6 297.6 1220.7 298.6 1220.9 299.6 1221.1 300.6 1221.4 301.6 1221.7 302.6 1222.1 303.6 1222.6 304.6 1223 305.6 1223.5 306.6 1224 307.6 1224.6 308.6 1225.1 309.6 1225.7 310.6 1226.2 311.6 1226.8 312.6 1227.3 313.6 1227.8 314.6 1228.3 315.6 1228.8 316.6 1229.2 317.6 1229.6 318.6 1230 319.6 1230.3 320.6 1230.6 321.6 1230.8 322.6 1230.9 323.6 1231 324.6 1231 325.6 1231 326.6 1230.9 327.6 1230.7 328.6 1230.5 329.6 1230.2 330.6 1229.9 331.6 1229.6 332.6 1229.2 333.6 1228.7 334.6 1228.2 335.6 1227.7 336.6 1227.2 337.6 1226.7 338.6 1226.1 339.6 1225.6 340.6 1225 341.6 1224.4 342.6 1223.9 343.6 1223.4 344.6 1222.9 345.6 1222.5 346.6 1222 347.6 1221.7 348.6 1221.3 349.6 1221.1 350.6 1220.8 351.6 1220.7 352.6 1220.6 353.6 1220.5 354.6 1220.5 355.6 1220.6 356.6 1220.7 357.6 1220.9 358.6 1221.1 359.6 1221.4 360.6 1221.7 361.6 1222.1 362.6 1222.6 363.6 1223 364.6 1223.5 365.6 1224 366.6 1224.6 367.6 1225.1 368.6 1225.7 369.6 1226.2 370.6 1226.8 371.6 1227.3 372.6 1227.8 373.6 1228.3 374.6 1228.8 375.6 1229.2 376.6 1229.6 377.6 1230 378.6 1230.3 379.6 1230.6 380.6 1230.8 381.6 1230.9 382.6 1231 383.6 1231 384.6 1231 385.6 1230.9 386.6 1230.7 387.6 1230.5 388.6 1230.2 389.6 1229.9 390.6 1229.6 391.6 1229.2 392.6 1228.7 393.6 1228.2 394.6 1227.7 395.6 1227.2 396.6 1226.7 397.6 1226.1 398.6 1225.6 399.6 1225 400.6 1224.4 401.6 1223.9 402.6 1223.4 403.6 1222.9 404.6 1222.5 405.6 1222 406.6 1221.7 407.6 1221.3 408.6 1221.1 409.6 1220.8 410.6 1220.7 411.6 1220.6 412.6 1220.5 413.6 1220.5 414.6 1220.6 415.6 1220.7 416.6 1220.9 417.6 1221.1 418.6 1221.4 419.6 1221.7 420.6 1222.1 421.6 1222.6 422.6 1223 423.6 1223.5 424.6 1224 425.6 1224.6 426.6 1225.1 427.6 1225.7 428.6 1226.2 429.6 1226.8 430.6 1227.3 431.6 1227.8 432.6 1228.3 433.6 1228.8 434.6 1229.2 435.6 1229.6 436.6 1230 437.6 1230.3 438.6 1230.6 439.6 1230.8 440.6 1230.9 441.6 1231 442.6 1231 443.6 1231 444.6 1230.9 445.6 1230.7 446.6 1230.5 447.6 1230.2 448.6 1229.9 449.6 1229.6 450.6 1229.2 451.6 1228.7 452.6 1228.2 453.6 1227.7 454.6 1227.2 455.6 1226.7 456.6 1226.1 457.6 1225.6 458.6 1225 459.6 1224.4 460.6 1223.9 461.6 1223.4 462.6 1222.9 463.6 1222.5 464.6 1222 465.6 1221.7 466.6 1221.3 467.6 1221.1 468.6 1220.8 469.6 1220.7 470.6 1220.6 471.6 1220.5 472.6 1220.5 473.6 1220.6 474.6 1220.7 475.6 1220.9 476.6 1221.1 477.6 1221.4 478.6 1221.7 479.6 1222.1 480.6 1222.6 481.6 1223 482.6 1223.5 483.6 1224 484.6 1224.6 485.6 1225.1 486.6 1225.7 487.6 1226.2 488.6 1226.8 489.6 1227.3 490.6 1227.8 491.6 1228.3 492.6 1228.8 493.6 1229.2 494.6 1229.6 495.6 1230 496.6 1230.3 497.6 1230.6 498.6 1230.8 499.6 1230.9 500.6 1231 501.6 1231 502.6 1231 503.6 1230.9 504.6 1230.7 505.6 1230.5 506.6 1230.2 507.6 1229.9 508.6 1229.6 509.6 1229.2 510.6 1228.7 511.6 1228.2 512.6 1227.7 513.6 1227.2 514.6 1226.7 515.6 1226.1 516.6 1225.6 517.6 1259.1 517.6 1259.6 516.6 1260.2 515.6 1260.7 514.6 1261.2 513.6 1261.7 512.6 1262.2 511.6 1262.7 510.6 1263.1 509.6 1263.4 508.6 1263.7 507.6 1264 506.6 1264.2 505.6 1264.4 504.6 1264.5 503.6 1264.5 502.6 1264.5 501.6 1264.4 500.6 1264.3 499.6 1264.1 498.6 1263.8 497.6 1263.5 496.6 1263.1 495.6 1262.7 494.6 1262.3 493.6 1261.8 492.6 1261.3 491.6 1260.8 490.6 1260.3 489.6 1259.7 488.6 1259.2 487.6 1258.6 486.6 1258.1 485.6 1257.5 484.6 1257 483.6 1256.5 482.6 1256.1 481.6 1255.6 480.6 1255.2 479.6 1254.9 478.6 1254.6 477.6 1254.4 476.6 1254.2 475.6 1254.1 474.6 1254 473.6 1254 472.6 1254.1 471.6 1254.2 470.6 1254.3 469.6 1254.6 468.6 1254.8 467.6 1255.2 466.6 1255.5 465.6 1256 464.6 1256.4 463.6 1256.9 462.6 1257.4 461.6 1257.9 460.6 1258.5 459.6 1259.1 458.6 1259.6 457.6 1260.2 456.6 1260.7 455.6 1261.2 454.6 1261.7 453.6 1262.2 452.6 1262.7 451.6 1263.1 450.6 1263.4 449.6 1263.7 448.6 1264 447.6 1264.2 446.6 1264.4 445.6 1264.5 444.6 1264.5 443.6 1264.5 442.6 1264.4 441.6 1264.3 440.6 1264.1 439.6 1263.8 438.6 1263.5 437.6 1263.1 436.6 1262.7 435.6 1262.3 434.6 1261.8 433.6 1261.3 432.6 1260.8 431.6 1260.3 430.6 1259.7 429.6 1259.2 428.6 1258.6 427.6 1258.1 426.6 1257.5 425.6 1257 424.6 1256.5 423.6 1256.1 422.6 1255.6 421.6 1255.2 420.6 1254.9 419.6 1254.6 418.6 1254.4 417.6 1254.2 416.6 1254.1 415.6 1254 414.6 1254 413.6 1254.1 412.6 1254.2 411.6 1254.3 410.6 1254.6 409.6 1254.8 408.6 1255.2 407.6 1255.5 406.6 1256 405.6 1256.4 404.6 1256.9 403.6 1257.4 402.6 1257.9 401.6 1258.5 400.6 1259.1 399.6 1259.6 398.6 1260.2 397.6 1260.7 396.6 1261.2 395.6 1261.7 394.6 1262.2 393.6 1262.7 392.6 1263.1 391.6 1263.4 390.6 1263.7 389.6 1264 388.6 1264.2 387.6 1264.4 386.6 1264.5 385.6 1264.5 384.6 1264.5 383.6 1264.4 382.6 1264.3 381.6 1264.1 380.6 1263.8 379.6 1263.5 378.6 1263.1 377.6 1262.7 376.6 1262.3 375.6 1261.8 374.6 1261.3 373.6 1260.8 372.6 1260.3 371.6 1259.7 370.6 1259.2 369.6 1258.6 368.6 1258.1 367.6 1257.5 366.6 1257 365.6 1256.5 364.6 1256.1 363.6 1255.6 362.6 1255.2 361.6 1254.9 360.6 1254.6 359.6 1254.4 358.6 1254.2 357.6 1254.1 356.6 1254 355.6 1254 354.6 1254.1 353.6 1254.2 352.6 1254.3 351.6 1254.6 350.6 1254.8 349.6 1255.2 348.6 1255.5 347.6 1256 346.6 1256.4 345.6 1256.9 344.6 1257.4 343.6 1257.9 342.6 1258.5 341.6 1259.1 340.6 1259.6 339.6 1260.2 338.6 1260.7 337.6 1261.2 336.6 1261.7 335.6 1262.2 334.6 1262.7 333.6 1263.1 332.6 1263.4 331.6 1263.7 330.6 1264 329.6 1264.2 328.6 1264.4 327.6 1264.5 326.6 1264.5 325.6 1264.5 324.6 1264.4 323.6 1264.3 322.6 1264.1 321.6 1263.8 320.6 1263.5 319.6 1263.1 318.6 1262.7 317.6 1262.3 316.6 1261.8 315.6 1261.3 314.6 1260.8 313.6 1260.3 312.6 1259.7 311.6 1259.2 310.6 1258.6 309.6 1258.1 308.6 1257.5 307.6 1257 306.6 1256.5 305.6 1256.1 304.6 1255.6 303.6 1255.2 302.6 1254.9 301.6 1254.6 300.6 1254.4 299.6 1254.2 298.6 1254.1 297.6 1254 296.6 1254 295.6 1254.1 294.6 1254.2 293.6 1254.3 292.6 1254.6 291.6 1254.8 290.6 1255.2 289.6 1255.5 288.6 1256 287.6 1256.4 286.6 1256.9 285.6 1257.4 284.6 1257.9 283.6 1258.5 282.6Z" fill="#f9cdb9"/>
<path d="M1257.5 282.6 1256.9 283.6 1256.4 284.6 1255.9 285.6 1255.4 286.6 1255 287.6 1254.5 288.6 1254.2 289.6 1253.8 290.6 1253.6 291.6 1253.3 292.6 1253.2 293.6 1253.1 294.6 1253 295.6 1253 296.6 1253.1 297.6 1253.2 298.6 1253.4 299.6 1253.6 300.6 1253.9 301.6 1254.2 302.6 1254.6 303.6 1255.1 304.6 1255.5 305.6 1256 306.6 1256.5 307.6 1257.1 308.6 1257.6 309.6 1258.2 310.6 1258.7 311.6 1259.3 312.6 1259.8 313.6 1260.3 314.6 1260.8 315.6 1261.3 316.6 1261.7 317.6 1262.1 318.6 1262.5 319.6 1262.8 320.6 1263.1 321.6 1263.3 322.6 1263.4 323.6 1263.5 324.6 1263.5 325.6 1263.5 326.6 1263.4 327.6 1263.2 328.6 1263 329.6 1262.7 330.6 1262.4 331.6 1262.1 332.6 1261.7 333.6 1261.2 334.6 1260.7 335.6 1260.2 336.6 1259.7 337.6 1259.2 338.6 1258.6 339.6 1258.1 340.6 1257.5 341.6 1256.9 342.6 1256.4 343.6 1255.9 344.6 1255.4 345.6 1255 346.6 1254.5 347.6 1254.2 348.6 1253.8 349.6 1253.6 350.6 1253.3 351.6 1253.2 352.6 1253.1 353.6 1253 354.6 1253 355.6 1253.1 356.6 1253.2 357.6 1253.4 358.6 1253.6 359.6 1253.9 360.6 1254.2 361.6 1254.6 362.6 1255.1 363.6 1255.5 364.6 1256 365.6 1256.5 366.6 1257.1 367.6 1257.6 368.6 1258.2 369.6 1258.7 370.6 1259.3 371.6 1259.8 372.6 1260.3 373.6 1260.8 374.6 1261.3 375.6 1261.7 376.6 1262.1 377.6 1262.5 378.6 1262.8 379.6 1263.1 380.6 1263.3 381.6 1263.4 382.6 1263.5 383.6 1263.5 384.6 1263.5 385.6 1263.4 386.6 1263.2 387.6 1263 388.6 1262.7 389.6 1262.4 390.6 1262.1 391.6 1261.7 392.6 1261.2 393.6 1260.7 394.6 1260.2 395.6 1259.7 396.6 1259.2 397.6 1258.6 398.6 1258.1 399.6 1257.5 400.6 1256.9 401.6 1256.4 402.6 1255.9 403.6 1255.4 404.6 1255 405.6 1254.5 406.6 1254.2 407.6 1253.8 408.6 1253.6 409.6 1253.3 410.6 1253.2 411.6 1253.1 412.6 1253 413.6 1253 414.6 1253.1 415.6 1253.2 416.6 1253.4 417.6 1253.6 418.6 1253.9 419.6 1254.2 420.6 1254.6 421.6 1255.1 422.6 1255.5 423.6 1256 424.6 1256.5 425.6 1257.1 426.6 1257.6 427.6 1258.2 428.6 1258.7 429.6 1259.3 430.6 1259.8 431.6 1260.3 432.6 1260.8 433.6 1261.3 434.6 1261.7 435.6 1262.1 436.6 1262.5 437.6 1262.8 438.6 1263.1 439.6 1263.3 440.6 1263.4 441.6 1263.5 442.6 1263.5 443.6 1263.5 444.6 1263.4 445.6 1263.2 446.6 1263 447.6 1262.7 448.6 1262.4 449.6 1262.1 450.6 1261.7 451.6 1261.2 452.6 1260.7 453.6 1260.2 454.6 1259.7 455.6 1259.2 456.6 1258.6 457.6 1258.1 458.6 1257.5 459.6 1256.9 460.6 1256.4 461.6 1255.9 462.6 1255.4 463.6 1255 464.6 1254.5 465.6 1254.2 466.6 1253.8 467.6 1253.6 468.6 1253.3 469.6 1253.2 470.6 1253.1 471.6 1253 472.6 1253 473.6 1253.1 474.6 1253.2 475.6 1253.4 476.6 1253.6 477.6 1253.9 478.6 1254.2 479.6 1254.6 480.6 1255.1 481.6 1255.5 482.6 1256 483.6 1256.5 484.6 1257.1 485.6 1257.6 486.6 1258.2 487.6 1258.7 488.6 1259.3 489.6 1259.8 490.6 1260.3 491.6 1260.8 492.6 1261.3 493.6 1261.7 494.6 1262.1 495.6 1262.5 496.6 1262.8 497.6 1263.1 498.6 1263.3 499.6 1263.4 500.6 1263.5 501.6 1263.5 502.6 1263.5 503.6 1263.4 504.6 1263.2 505.6 1263 506.6 1262.7 507.6 1262.4 508.6 1262.1 509.6 1261.7 510.6 1261.2 511.6 1260.7 512.6 1260.2 513.6 1259.7 514.6 1259.2 515.6 1258.6 516.6 1258.1 517.6 1286.4 517.6 1287 516.6 1287.5 515.6 1288.1 514.6 1288.5 513.6 1289 512.6 1289.4 511.6 1289.7 510.6 1290 509.6 1290.2 508.6 1290.4 507.6 1290.5 506.6 1290.5 505.6 1290.5 504.6 1290.4 503.6 1290.3 502.6 1290.1 501.6 1289.8 500.6 1289.5 499.6 1289.1 498.6 1288.6 497.6 1288.2 496.6 1287.6 495.6 1287.1 494.6 1286.5 493.6 1285.9 492.6 1285.3 491.6 1284.7 490.6 1284.1 489.6 1283.5 488.6 1282.9 487.6 1282.3 486.6 1281.8 485.6 1281.3 484.6 1280.8 483.6 1280.4 482.6 1280 481.6 1279.7 480.6 1279.5 479.6 1279.3 478.6 1279.1 477.6 1279.1 476.6 1279.1 475.6 1279.1 474.6 1279.2 473.6 1279.4 472.6 1279.7 471.6 1280 470.6 1280.3 469.6 1280.7 468.6 1281.2 467.6 1281.7 466.6 1282.2 465.6 1282.8 464.6 1283.4 463.6 1284 462.6 1284.6 461.6 1285.2 460.6 1285.8 459.6 1286.4 458.6 1287 457.6 1287.5 456.6 1288.1 455.6 1288.5 454.6 1289 453.6 1289.4 452.6 1289.7 451.6 1290 450.6 1290.2 449.6 1290.4 448.6 1290.5 447.6 1290.5 446.6 1290.5 445.6 1290.4 444.6 1290.3 443.6 1290.1 442.6 1289.8 441.6 1289.5 440.6 1289.1 439.6 1288.6 438.6 1288.2 437.6 1287.6 436.6 1287.1 435.6 1286.5 434.6 1285.9 433.6 1285.3 432.6 1284.7 431.6 1284.1 430.6 1283.5 429.6 1282.9 428.6 1282.3 427.6 1281.8 426.6 1281.3 425.6 1280.8 424.6 1280.4 423.6 1280 422.6 1279.7 421.6 1279.5 420.6 1279.3 419.6 1279.1 418.6 1279.1 417.6 1279.1 416.6 1279.1 415.6 1279.2 414.6 1279.4 413.6 1279.7 412.6 1280 411.6 1280.3 410.6 1280.7 409.6 1281.2 408.6 1281.7 407.6 1282.2 406.6 1282.8 405.6 1283.4 404.6 1284 403.6 1284.6 402.6 1285.2 401.6 1285.8 400.6 1286.4 399.6 1287 398.6 1287.5 397.6 1288.1 396.6 1288.5 395.6 1289 394.6 1289.4 393.6 1289.7 392.6 1290 391.6 1290.2 390.6 1290.4 389.6 1290.5 388.6 1290.5 387.6 1290.5 386.6 1290.4 385.6 1290.3 384.6 1290.1 383.6 1289.8 382.6 1289.5 381.6 1289.1 380.6 1288.6 379.6 1288.2 378.6 1287.6 377.6 1287.1 376.6 1286.5 375.6 1285.9 374.6 1285.3 373.6 1284.7 372.6 1284.1 371.6 1283.5 370.6 1282.9 369.6 1282.3 368.6 1281.8 367.6 1281.3 366.6 1280.8 365.6 1280.4 364.6 1280 363.6 1279.7 362.6 1279.5 361.6 1279.3 360.6 1279.1 359.6 1279.1 358.6 1279.1 357.6 1279.1 356.6 1279.2 355.6 1279.4 354.6 1279.7 353.6 1280 352.6 1280.3 351.6 1280.7 350.6 1281.2 349.6 1281.7 348.6 1282.2 347.6 1282.8 346.6 1283.4 345.6 1284 344.6 1284.6 343.6 1285.2 342.6 1285.8 341.6 1286.4 340.6 1287 339.6 1287.5 338.6 1288.1 337.6 1288.5 336.6 1289 335.6 1289.4 334.6 1289.7 333.6 1290 332.6 1290.2 331.6 1290.4 330.6 1290.5 329.6 1290.5 328.6 1290.5 327.6 1290.4 326.6 1290.3 325.6 1290.1 324.6 1289.8 323.6 1289.5 322.6 1289.1 321.6 1288.6 320.6 1288.2 319.6 1287.6 318.6 1287.1 317.6 1286.5 316.6 1285.9 315.6 1285.3 314.6 1284.7 313.6 1284.1 312.6 1283.5 311.6 1282.9 310.6 1282.3 309.6 1281.8 308.6 1281.3 307.6 1280.8 306.6 1280.4 305.6 1280 304.6 1279.7 303.6 1279.5 302.6 1279.3 301.6 1279.1 300.6 1279.1 299.6 1279.1 298.6 1279.1 297.6 1279.2 296.6 1279.4 295.6 1279.7 294.6 1280 293.6 1280.3 292.6 1280.7 291.6 1281.2 290.6 1281.7 289.6 1282.2 288.6 1282.8 287.6 1283.4 286.6 1284 285.6 1284.6 284.6 1285.2 283.6 1285.8 282.6Z" fill="#bf9000"/>
<path d="M1284.2 284 1283.5 285 1282.9 286 1282.3 287 1281.8 288 1281.2 289 1280.7 290 1280.2 291 1279.8 292 1279.4 293 1279 294 1278.8 295 1278.5 296 1278.4 297 1278.3 298 1278.2 299 1278.3 300 1278.4 301 1278.5 302 1278.8 303 1279 304 1279.4 305 1279.8 306 1280.2 307 1280.7 308 1281.2 309 1281.8 310 1282.3 311 1282.9 312 1283.5 313 1284.2 314 1284.8 315 1285.4 316 1286 317 1286.5 318 1287 319 1287.6 320 1288 321 1288.4 322 1288.8 323 1289.1 324 1289.4 325 1289.5 326 1289.7 327 1289.7 328 1289.7 329 1289.7 330 1289.5 331 1289.4 332 1289.1 333 1288.8 334 1288.4 335 1288 336 1287.6 337 1287 338 1286.5 339 1286 340 1285.4 341 1284.8 342 1284.2 343 1283.5 344 1282.9 345 1282.3 346 1281.8 347 1281.2 348 1280.7 349 1280.2 350 1279.8 351 1279.4 352 1279 353 1278.8 354 1278.5 355 1278.4 356 1278.3 357 1278.2 358 1278.3 359 1278.4 360 1278.5 361 1278.8 362 1279 363 1279.4 364 1279.8 365 1280.2 366 1280.7 367 1281.2 368 1281.8 369 1282.3 370 1282.9 371 1283.5 372 1284.2 373 1284.8 374 1285.4 375 1286 376 1286.5 377 1287 378 1287.6 379 1288 380 1288.4 381 1288.8 382 1289.1 383 1289.4 384 1289.5 385 1289.7 386 1289.7 387 1289.7 388 1289.7 389 1289.5 390 1289.4 391 1289.1 392 1288.8 393 1288.4 394 1288 395 1287.6 396 1287 397 1286.5 398 1286 399 1285.4 400 1284.8 401 1284.2 402 1283.5 403 1282.9 404 1282.3 405 1281.8 406 1281.2 407 1280.7 408 1280.2 409 1279.8 410 1279.4 411 1279 412 1278.8 413 1278.5 414 1278.4 415 1278.3 416 1278.2 417 1278.3 418 1278.4 419 1278.5 420 1278.8 421 1279 422 1279.4 423 1279.8 424 1280.2 425 1280.7 426 1281.2 427 1281.8 428 1282.3 429 1282.9 430 1283.5 431 1284.2 432 1284.8 433 1285.4 434 1286 435 1286.5 436 1287 437 1287.6 438 1288 439 1288.4 440 1288.8 441 1289.1 442 1289.4 443 1289.5 444 1289.7 445 1289.7 446 1289.7 447 1289.7 448 1289.5 449 1289.4 450 1289.1 451 1288.8 452 1288.4 453 1288 454 1287.6 455 1287 456 1286.5 457 1286 458 1285.4 459 1284.8 460 1284.2 461 1283.5 462 1282.9 463 1282.3 464 1281.8 465 1281.2 466 1280.7 467 1280.2 468 1279.8 469 1279.4 470 1279 471 1278.8 472 1278.5 473 1278.4 474 1278.3 475 1278.2 476 1278.3 477 1278.4 478 1278.5 479 1278.8 480 1279 481 1279.4 482 1279.8 483 1280.2 484 1280.7 485 1281.2 486 1281.8 487 1282.3 488 1282.9 489 1283.5 490 1284.2 491 1284.8 492 1285.4 493 1286 494 1286.5 495 1287 496 1287.6 497 1288 498 1288.4 499 1288.8 500 1289.1 501 1289.4 502 1289.5 503 1289.7 504 1289.7 505 1289.7 506 1289.7 507 1289.5 508 1289.4 509 1289.1 510 1288.8 511 1288.4 512 1288 513 1287.6 514 1287 515 1286.5 516 1286 517 1285.4 518 1284.8 519 1301.9 519 1302.4 518 1303 517 1303.4 516 1303.8 515 1304.2 514 1304.5 513 1304.7 512 1304.9 511 1305 510 1305 509 1305 508 1304.9 507 1304.7 506 1304.5 505 1304.2 504 1303.8 503 1303.4 502 1303 501 1302.4 500 1301.9 499 1301.3 498 1300.7 497 1300.1 496 1299.5 495 1298.8 494 1298.2 493 1297.6 492 1297 491 1296.4 490 1295.8 489 1295.3 488 1294.8 487 1294.4 486 1294 485 1293.7 484 1293.4 483 1293.2 482 1293.1 481 1293 480 1293 479 1293.1 478 1293.2 477 1293.4 476 1293.7 475 1294 474 1294.4 473 1294.8 472 1295.3 471 1295.8 470 1296.4 469 1297 468 1297.6 467 1298.2 466 1298.8 465 1299.5 464 1300.1 463 1300.7 462 1301.3 461 1301.9 460 1302.4 459 1303 458 1303.4 457 1303.8 456 1304.2 455 1304.5 454 1304.7 453 1304.9 452 1305 451 1305 450 1305 449 1304.9 448 1304.7 447 1304.5 446 1304.2 445 1303.8 444 1303.4 443 1303 442 1302.4 441 1301.9 440 1301.3 439 1300.7 438 1300.1 437 1299.5 436 1298.8 435 1298.2 434 1297.6 433 1297 432 1296.4 431 1295.8 430 1295.3 429 1294.8 428 1294.4 427 1294 426 1293.7 425 1293.4 424 1293.2 423 1293.1 422 1293 421 1293 420 1293.1 419 1293.2 418 1293.4 417 1293.7 416 1294 415 1294.4 414 1294.8 413 1295.3 412 1295.8 411 1296.4 410 1297 409 1297.6 408 1298.2 407 1298.8 406 1299.5 405 1300.1 404 1300.7 403 1301.3 402 1301.9 401 1302.4 400 1303 399 1303.4 398 1303.8 397 1304.2 396 1304.5 395 1304.7 394 1304.9 393 1305 392 1305 391 1305 390 1304.9 389 1304.7 388 1304.5 387 1304.2 386 1303.8 385 1303.4 384 1303 383 1302.4 382 1301.9 381 1301.3 380 1300.7 379 1300.1 378 1299.5 377 1298.8 376 1298.2 375 1297.6 374 1297 373 1296.4 372 1295.8 371 1295.3 370 1294.8 369 1294.4 368 1294 367 1293.7 366 1293.4 365 1293.2 364 1293.1 363 1293 362 1293 361 1293.1 360 1293.2 359 1293.4 358 1293.7 357 1294 356 1294.4 355 1294.8 354 1295.3 353 1295.8 352 1296.4 351 1297 350 1297.6 349 1298.2 348 1298.8 347 1299.5 346 1300.1 345 1300.7 344 1301.3 343 1301.9 342 1302.4 341 1303 340 1303.4 339 1303.8 338 1304.2 337 1304.5 336 1304.7 335 1304.9 334 1305 333 1305 332 1305 331 1304.9 330 1304.7 329 1304.5 328 1304.2 327 1303.8 326 1303.4 325 1303 324 1302.4 323 1301.9 322 1301.3 321 1300.7 320 1300.1 319 1299.5 318 1298.8 317 1298.2 316 1297.6 315 1297 314 1296.4 313 1295.8 312 1295.3 311 1294.8 310 1294.4 309 1294 308 1293.7 307 1293.4 306 1293.2 305 1293.1 304 1293 303 1293 302 1293.1 301 1293.2 300 1293.4 299 1293.7 298 1294 297 1294.4 296 1294.8 295 1295.3 294 1295.8 293 1296.4 292 1297 291 1297.6 290 1298.2 289 1298.8 288 1299.5 287 1300.1 286 1300.7 285 1301.3 284Z" fill="#0070c0"/>
<path d="M1362.6 54.5 C1363 80 1356 95 1346 106" fill="none" stroke="#808080" stroke-width="5.5"/>
<path d="M1339.2 98 L1354.4 112.3 L1335.9 117.7 Z" fill="#808080"/>
<path d="M1349 135.7 C1378 135.7 1402 152 1410.5 178" fill="none" stroke="#ff0000" stroke-width="10"/>
<path d="M1394.8 177 L1425.3 176.2 L1414.4 198.9 Z" fill="#ff0000"/>
<path d="M1354.2 330 C1355 350 1349 368 1339 382" fill="none" stroke="#0070c0" stroke-width="6"/>
<path d="M1333.8 375.4 L1346.3 387.8 L1327 393.5 Z" fill="#0070c0"/>
<path d="M1362.1 453.4 L1372.3 448.9 L1387 460.2 L1413 427.4 L1429.9 418.3 L1388.1 472.6 Z" fill="#00b050"/>
<circle cx="1526.2" cy="176" r="26" fill="#ff0000" stroke="#000" stroke-width="3.5"/>
<circle cx="1518" cy="168.6" r="2.9" fill="#ff0000" stroke="#000" stroke-width="2.4"/>
<circle cx="1534.3" cy="168.6" r="2.9" fill="#ff0000" stroke="#000" stroke-width="2.4"/>
<path d="M1511.4 193.5 Q1526 183.5 1540.6 193.5" fill="none" stroke="#000" stroke-width="3"/>
<circle cx="1526.3" cy="449.7" r="26" fill="#00b050" stroke="#000" stroke-width="3.5"/>
<circle cx="1517.7" cy="441.6" r="2.9" fill="#00b050" stroke="#000" stroke-width="2.4"/>
<circle cx="1534.4" cy="441.6" r="2.9" fill="#00b050" stroke="#000" stroke-width="2.4"/>
<path d="M1512.5 461.8 Q1526 471 1540.8 461.8" fill="none" stroke="#000" stroke-width="3"/>
<text x="1376.2" y="18.5" font-size="22" fill="#898989" text-anchor="middle">Ag/AgCl</text>
<text x="1376.5" y="44.7" font-size="22" fill="#898989" text-anchor="middle">electrode</text>
<text x="1403" y="229" font-size="21.8" fill="#000" text-anchor="middle">Non-conformal</text>
<text x="1402.5" y="255.2" font-size="21.8" fill="#000" text-anchor="middle">electrodes</text>
<text x="1529.2" y="241.8" font-size="21.8" fill="#ff0000" text-anchor="middle">Drop off</text>
<text x="1376.8" y="295" font-size="21.8" fill="#0070c0" text-anchor="middle">TPP</text>
<text x="1376.2" y="320.6" font-size="21.8" fill="#0070c0" text-anchor="middle">electrode</text>
<text x="1392.2" y="505" font-size="21.8" fill="#000" text-anchor="middle">Conformal</text>
<text x="1392.4" y="531.6" font-size="21.8" fill="#000" text-anchor="middle">electrodes</text>
<text x="1526" y="505" font-size="21.8" fill="#2e9e5b" text-anchor="middle">Stable</text>
<text x="1526.1" y="531" font-size="21.8" fill="#2e9e5b" text-anchor="middle">adhesion</text>
<defs><linearGradient id="ci1" x1="0" y1="0" x2="1" y2="0"><stop offset="0" stop-color="#c8a48a"/><stop offset="0.5" stop-color="#cfae95"/><stop offset="0.56" stop-color="#b89478"/><stop offset="0.6" stop-color="#ffffff"/><stop offset="1" stop-color="#ffffff"/></linearGradient><linearGradient id="ci2" x1="0" y1="0" x2="1" y2="0"><stop offset="0" stop-color="#caa48a"/><stop offset="0.4" stop-color="#d4ae94"/><stop offset="0.62" stop-color="#dfc0a8"/><stop offset="0.72" stop-color="#d8b298"/><stop offset="0.77" stop-color="#f2f2f2"/><stop offset="1" stop-color="#ffffff"/></linearGradient></defs>
<rect x="1458.6" y="10.2" width="122.7" height="109.8" fill="url(#ci1)"/>
<defs><clipPath id="cic"><rect x="1458.6" y="10.2" width="122.7" height="109.8"/></clipPath></defs>
<g clip-path="url(#cic)"><ellipse cx="1512" cy="121" rx="20" ry="14" fill="#4a3a32" filter="url(#blur3)"/></g>
<rect x="1535" y="36" width="4" height="8" fill="#666" />
<rect x="1458.6" y="10.2" width="122.7" height="110.6" fill="none" stroke="#000" stroke-width="2.4"/>
<rect x="1460" y="283" width="121.6" height="109.5" fill="url(#ci2)"/>
<path d="M1518 345 L1526 327 L1532 322 L1533 335 L1540 338 L1534 344 L1524 352 Z" fill="#33363d"/>
<rect x="1460" y="283" width="121.6" height="109.5" fill="none" stroke="#000" stroke-width="2.2"/>
<rect x="1673.5" y="7.6" width="260.5" height="209.4" fill="none" stroke="#555" stroke-width="1.3"/>
<text x="1667.5" y="204.4" font-size="15.5" fill="#111" text-anchor="end">0</text>
<text x="1667.5" y="169.5" font-size="15.5" fill="#111" text-anchor="end">100</text>
<text x="1667.5" y="134.6" font-size="15.5" fill="#111" text-anchor="end">200</text>
<text x="1667.5" y="99.7" font-size="15.5" fill="#111" text-anchor="end">300</text>
<text x="1667.5" y="64.8" font-size="15.5" fill="#111" text-anchor="end">400</text>
<text x="1667.5" y="29.9" font-size="15.5" fill="#111" text-anchor="end">500</text>
<text x="1681.6" y="236.5" font-size="15.5" fill="#111" text-anchor="middle">0</text>
<text x="1718.7" y="236.5" font-size="15.5" fill="#111" text-anchor="middle">5</text>
<text x="1755.8" y="236.5" font-size="15.5" fill="#111" text-anchor="middle">10</text>
<text x="1792.9" y="236.5" font-size="15.5" fill="#111" text-anchor="middle">15</text>
<text x="1829.9" y="236.5" font-size="15.5" fill="#111" text-anchor="middle">20</text>
<text x="1867" y="236.5" font-size="15.5" fill="#111" text-anchor="middle">25</text>
<text x="1904.1" y="236.5" font-size="15.5" fill="#111" text-anchor="middle">30</text>
<path d="M1673.5 199.1h-4.5 M1673.5 164.2h-4.5 M1673.5 129.3h-4.5 M1673.5 94.4h-4.5 M1673.5 59.5h-4.5 M1673.5 24.6h-4.5 M1673.5 181.7h-2.5 M1673.5 146.8h-2.5 M1673.5 111.8h-2.5 M1673.5 77h-2.5 M1673.5 42.1h-2.5 M1681.6 217v4.5 M1718.7 217v4.5 M1755.8 217v4.5 M1792.9 217v4.5 M1829.9 217v4.5 M1867 217v4.5 M1904.1 217v4.5 M1700.1 217v2.5 M1737.2 217v2.5 M1774.3 217v2.5 M1811.4 217v2.5 M1848.5 217v2.5 M1885.6 217v2.5 M1922.6 217v2.5" stroke="#555555" stroke-width="1.2" fill="none"/>
<path d="M1681.6 178.9 1689 178.9 1696.4 178.9 1703.9 179.6 1711.3 179.6 1718.7 179.6 1726.1 179.9 1733.5 179.9 1740.9 179.9 1748.4 179.9 1755.8 179.6 1763.2 179.9 1770.6 179.6 1778 176.8 1785.4 178.9 1792.9 179.2 1800.3 180.3 1807.7 179.9 1815.1 179.6 1822.5 179.9 1829.9 180.6 1837.4 180.3 1844.8 181 1852.2 181 1859.6 181 1867 181 1874.4 180.6 1881.9 181.3 1889.3 181.7 1896.7 181.7 1904.1 181.3 1911.5 181.7 1918.9 181.7" stroke="#f03c3c" stroke-width="1.2" stroke-dasharray="2 1.5" fill="none"/>
<circle cx="1681.6" cy="178.9" r="3.1" fill="#f03c3c"/>
<circle cx="1689" cy="178.9" r="3.1" fill="#f03c3c"/>
<circle cx="1696.4" cy="178.9" r="3.1" fill="#f03c3c"/>
<circle cx="1703.9" cy="179.6" r="3.1" fill="#f03c3c"/>
<circle cx="1711.3" cy="179.6" r="3.1" fill="#f03c3c"/>
<circle cx="1718.7" cy="179.6" r="3.1" fill="#f03c3c"/>
<circle cx="1726.1" cy="179.9" r="3.1" fill="#f03c3c"/>
<circle cx="1733.5" cy="179.9" r="3.1" fill="#f03c3c"/>
<circle cx="1740.9" cy="179.9" r="3.1" fill="#f03c3c"/>
<circle cx="1748.4" cy="179.9" r="3.1" fill="#f03c3c"/>
<circle cx="1755.8" cy="179.6" r="3.1" fill="#f03c3c"/>
<circle cx="1763.2" cy="179.9" r="3.1" fill="#f03c3c"/>
<circle cx="1770.6" cy="179.6" r="3.1" fill="#f03c3c"/>
<circle cx="1778" cy="176.8" r="3.1" fill="#f03c3c"/>
<circle cx="1785.4" cy="178.9" r="3.1" fill="#f03c3c"/>
<circle cx="1792.9" cy="179.2" r="3.1" fill="#f03c3c"/>
<circle cx="1800.3" cy="180.3" r="3.1" fill="#f03c3c"/>
<circle cx="1807.7" cy="179.9" r="3.1" fill="#f03c3c"/>
<circle cx="1815.1" cy="179.6" r="3.1" fill="#f03c3c"/>
<circle cx="1822.5" cy="179.9" r="3.1" fill="#f03c3c"/>
<circle cx="1829.9" cy="180.6" r="3.1" fill="#f03c3c"/>
<circle cx="1837.4" cy="180.3" r="3.1" fill="#f03c3c"/>
<circle cx="1844.8" cy="181" r="3.1" fill="#f03c3c"/>
<circle cx="1852.2" cy="181" r="3.1" fill="#f03c3c"/>
<circle cx="1859.6" cy="181" r="3.1" fill="#f03c3c"/>
<circle cx="1867" cy="181" r="3.1" fill="#f03c3c"/>
<circle cx="1874.4" cy="180.6" r="3.1" fill="#f03c3c"/>
<circle cx="1881.9" cy="181.3" r="3.1" fill="#f03c3c"/>
<circle cx="1889.3" cy="181.7" r="3.1" fill="#f03c3c"/>
<circle cx="1896.7" cy="181.7" r="3.1" fill="#f03c3c"/>
<circle cx="1904.1" cy="181.3" r="3.1" fill="#f03c3c"/>
<circle cx="1911.5" cy="181.7" r="3.1" fill="#f03c3c"/>
<circle cx="1918.9" cy="181.7" r="3.1" fill="#f03c3c"/>
<path d="M1681.6 187.6 1689 185.8 1696.4 179.9 1703.9 153.7 1711.3 21.1" stroke="#555555" stroke-width="1.4" fill="none"/>
<circle cx="1681.6" cy="187.6" r="3.1" fill="#555555"/>
<circle cx="1689" cy="185.8" r="3.1" fill="#555555"/>
<circle cx="1696.4" cy="179.9" r="3.1" fill="#555555"/>
<circle cx="1703.9" cy="153.7" r="3.1" fill="#555555"/>
<circle cx="1711.3" cy="21.1" r="3.1" fill="#555555"/>
<line x1="1816.8" y1="33" x2="1852.5" y2="33" stroke="#555555" stroke-width="1.8"/><circle cx="1834.5" cy="33" r="2.8" fill="#555555"/>
<text x="1856.5" y="38.2" font-size="15.5" fill="#555555" text-anchor="start">Ag/AgCl</text>
<line x1="1816.8" y1="52.3" x2="1852.5" y2="52.3" stroke="#f03c3c" stroke-width="1.8"/><circle cx="1834.5" cy="52.3" r="2.8" fill="#f03c3c"/>
<text x="1856.5" y="58" font-size="15.5" fill="#f03c3c" text-anchor="start">TPP</text>
<text x="1634" y="112" font-size="20" fill="#111" text-anchor="middle" transform="rotate(-90 1634 112)">RMS of Noise (μV)</text>
<text x="1804" y="265" font-size="19.5" fill="#111" text-anchor="middle">Times of Contraction</text>
<rect x="1674" y="274.8" width="260" height="209.59999999999997" fill="none" stroke="#555" stroke-width="1.3"/>
<text x="1667.5" y="471.6" font-size="15.5" fill="#111" text-anchor="end">-10</text>
<text x="1667.5" y="436.9" font-size="15.5" fill="#111" text-anchor="end">-5</text>
<text x="1667.5" y="402.1" font-size="15.5" fill="#111" text-anchor="end">0</text>
<text x="1667.5" y="367.3" font-size="15.5" fill="#111" text-anchor="end">5</text>
<text x="1667.5" y="332.6" font-size="15.5" fill="#111" text-anchor="end">10</text>
<text x="1667.5" y="297.8" font-size="15.5" fill="#111" text-anchor="end">15</text>
<text x="1681.6" y="504.5" font-size="15.5" fill="#111" text-anchor="middle">0</text>
<text x="1718.7" y="504.5" font-size="15.5" fill="#111" text-anchor="middle">5</text>
<text x="1755.8" y="504.5" font-size="15.5" fill="#111" text-anchor="middle">10</text>
<text x="1792.9" y="504.5" font-size="15.5" fill="#111" text-anchor="middle">15</text>
<text x="1829.9" y="504.5" font-size="15.5" fill="#111" text-anchor="middle">20</text>
<text x="1867" y="504.5" font-size="15.5" fill="#111" text-anchor="middle">25</text>
<text x="1904.1" y="504.5" font-size="15.5" fill="#111" text-anchor="middle">30</text>
<path d="M1674 466.3h-4.5 M1674 431.6h-4.5 M1674 396.8h-4.5 M1674 362h-4.5 M1674 327.3h-4.5 M1674 292.5h-4.5 M1674 483.7h-2.5 M1674 448.9h-2.5 M1674 414.2h-2.5 M1674 379.4h-2.5 M1674 344.7h-2.5 M1674 309.9h-2.5 M1681.6 484.4v4.5 M1718.7 484.4v4.5 M1755.8 484.4v4.5 M1792.9 484.4v4.5 M1829.9 484.4v4.5 M1867 484.4v4.5 M1904.1 484.4v4.5 M1700.1 484.4v2.5 M1737.2 484.4v2.5 M1774.3 484.4v2.5 M1811.4 484.4v2.5 M1848.5 484.4v2.5 M1885.6 484.4v2.5 M1922.6 484.4v2.5" stroke="#555555" stroke-width="1.2" fill="none"/>
<path d="M1681.6 338.4 1689 338.4 1696.4 339.1 1703.9 337 1711.3 337 1718.7 337 1726.1 335.6 1733.5 335.6 1740.9 336.3 1748.4 335.6 1755.8 337.7 1763.2 334.9 1770.6 336.3 1778 344.7 1785.4 339.8 1792.9 339.1 1800.3 334.9 1807.7 336.3 1815.1 337.7 1822.5 335.6 1829.9 333.5 1837.4 334.9 1844.8 332.1 1852.2 332.1 1859.6 332.8 1867 332.8 1874.4 334.2 1881.9 330.8 1889.3 328.7 1896.7 329.4 1904.1 330.1 1911.5 328.7 1918.9 329.4" stroke="#f03c3c" stroke-width="1.2" stroke-dasharray="2 1.5" fill="none"/>
<path d="M1681.6 334.2L1685.8 341.6L1677.4 341.6Z M1689 334.2L1693.2 341.6L1684.8 341.6Z M1696.4 334.9L1700.6 342.2L1692.2 342.2Z M1703.9 332.8L1708.1 340.2L1699.7 340.2Z M1711.3 332.8L1715.5 340.2L1707.1 340.2Z M1718.7 332.8L1722.9 340.2L1714.5 340.2Z M1726.1 331.4L1730.3 338.8L1721.9 338.8Z M1733.5 331.4L1737.7 338.8L1729.3 338.8Z M1740.9 332.1L1745.1 339.5L1736.7 339.5Z M1748.4 331.4L1752.6 338.8L1744.2 338.8Z M1755.8 333.5L1760 340.9L1751.6 340.9Z M1763.2 330.7L1767.4 338.1L1759 338.1Z M1770.6 332.1L1774.8 339.5L1766.4 339.5Z M1778 340.5L1782.2 347.8L1773.8 347.8Z M1785.4 335.6L1789.6 342.9L1781.2 342.9Z M1792.9 334.9L1797.1 342.2L1788.7 342.2Z M1800.3 330.7L1804.5 338.1L1796.1 338.1Z M1807.7 332.1L1811.9 339.5L1803.5 339.5Z M1815.1 333.5L1819.3 340.9L1810.9 340.9Z M1822.5 331.4L1826.7 338.8L1818.3 338.8Z M1829.9 329.3L1834.1 336.7L1825.7 336.7Z M1837.4 330.7L1841.6 338.1L1833.2 338.1Z M1844.8 327.9L1849 335.3L1840.6 335.3Z M1852.2 327.9L1856.4 335.3L1848 335.3Z M1859.6 328.6L1863.8 336L1855.4 336Z M1867 328.6L1871.2 336L1862.8 336Z M1874.4 330L1878.6 337.4L1870.2 337.4Z M1881.9 326.6L1886.1 333.9L1877.7 333.9Z M1889.3 324.5L1893.5 331.8L1885.1 331.8Z M1896.7 325.2L1900.9 332.5L1892.5 332.5Z M1904.1 325.9L1908.3 333.2L1899.9 333.2Z M1911.5 324.5L1915.7 331.8L1907.3 331.8Z M1918.9 325.2L1923.1 332.5L1914.7 332.5Z" fill="#f03c3c"/>
<path d="M1681.6 300.9 1689 309.9 1696.4 330.1 1703.9 382.2 1711.3 464.2" stroke="#555555" stroke-width="1.4" fill="none"/>
<rect x="1678.2" y="297.5" width="6.8" height="6.8" fill="#555555"/>
<rect x="1685.6" y="306.5" width="6.8" height="6.8" fill="#555555"/>
<rect x="1693" y="326.7" width="6.8" height="6.8" fill="#555555"/>
<rect x="1700.5" y="378.8" width="6.8" height="6.8" fill="#555555"/>
<rect x="1707.9" y="460.8" width="6.8" height="6.8" fill="#555555"/>
<line x1="1815.8" y1="288.8" x2="1851.2" y2="288.8" stroke="#555555" stroke-width="1.4"/><rect x="1830" y="285.4" width="6.8" height="6.8" fill="#555555"/>
<text x="1855.5" y="294.5" font-size="15.5" fill="#555555" text-anchor="start">Ag/AgCl</text>
<line x1="1815.8" y1="307.6" x2="1851.2" y2="307.6" stroke="#f03c3c" stroke-width="1.4"/><path d="M1833.5 304L1837.1 310.3L1829.9 310.3Z" fill="#f03c3c"/>
<text x="1855.5" y="313" font-size="15.5" fill="#f03c3c" text-anchor="start">TPP</text>
<text x="1634" y="380" font-size="20" fill="#111" text-anchor="middle" transform="rotate(-90 1634 380)">SNR (dB)</text>
<text x="1804" y="532" font-size="19.5" fill="#111" text-anchor="middle">Times of Contraction</text>
<defs><clipPath id="ep0"><rect x="27" y="567.2" width="369.2" height="301"/></clipPath><linearGradient id="arm0" x1="0" y1="0" x2="1" y2="0"><stop offset="0" stop-color="#d3b9a6"/><stop offset="0.5" stop-color="#e0cab9"/><stop offset="1" stop-color="#d9c0ae"/></linearGradient></defs>
<g clip-path="url(#ep0)">
<rect x="27" y="567.2" width="369.2" height="301" fill="#ece5dd"/>
<path d="M68.1 567 86.6 614.3 106.3 651.2 126 688.2 140.8 712.8 163 752 182.6 781.7 195 799 205 815 240 812 232 800 222 784.2 209.7 749.7 197.4 712.8 187.6 675.8 175.2 638.9 163 602 154.3 567Z" fill="url(#arm0)"/>
<path d="M27 567 66.9 567 62 589.6 65.6 638.9 73 688 78 737.4 80.4 779 81 787 27 787Z" fill="#141516"/>
<path d="M27 787 85.3 787 87.8 868.2 27 868.2Z" fill="#3d3d3e"/>
<ellipse cx="293" cy="808.8" rx="31" ry="36.4" fill="#727272"/>
<path d="M261 793 C268 786 284 784 291 789 L300 818 L300.5 846 C293 858 276 859 266 852 L262 822 Z" fill="#dec5b3"/>
<ellipse cx="236" cy="824" rx="38.6" ry="39.3" fill="#6d6d6d"/>
<text x="236" y="827" font-size="9" fill="#a8a8a8" text-anchor="middle" transform="rotate(-70 236 827)">PROIRON</text>
<path d="M126 660 L150 652 L164.8 690 L140 698 Z" fill="#f7f4f1"/>
<path d="M140 676 L155 671" stroke="#e8a0a0" stroke-width="1"/>
<path d="M148 668 C160 662 170 658 175 645 M150 686 C162 680 172 676 178 660" stroke="#f4f0ec" stroke-width="2.5" fill="none"/>
<path d="M134 710 L134 868" stroke="#8a8580" stroke-width="1"/>
<path d="M132 720 C115 740 112 790 128 810 C140 818 155 812 165 802" stroke="#f7f5f3" stroke-width="1.3" fill="none"/>
<path d="M160 790 L180 784 L186 800 L166 806 Z" fill="#c4c0bb"/><path d="M160 804 L186 796 L187 800 L161 808 Z" fill="#e04040"/>
<path d="M198 810 L198 868" stroke="#8a8068" stroke-width="1"/>
</g>
<rect x="317.3" y="796.5" width="78.9" height="71.7" fill="#fff"/>
<text x="320.1" y="817.2" font-size="23" fill="#000" text-anchor="start">Flexion</text>
<defs><linearGradient id="ya0" x1="0" y1="0" x2="1" y2="0"><stop offset="0" stop-color="#d4a000"/><stop offset="1" stop-color="#ffc000"/></linearGradient><clipPath id="yc0"><rect x="317.3" y="796.5" width="80" height="71.7"/></clipPath></defs>
<path clip-path="url(#yc0)" d="M338.8 856.7 C343 866.2 350 869.7 356 868.7 C366 865.2 371.5 850.2 374 835.2" stroke="url(#ya0)" stroke-width="6" fill="none"/>
<path d="M365.4 836.6 L383.4 836.6 L375.6 820.2 Z" fill="#ffc000"/>
<rect x="98.9" y="729.3" width="86.6" height="28.5" fill="#fff"/>
<text x="142.2" y="751.6" font-size="23" fill="#000" text-anchor="middle">Ag/AgCl</text>
<rect x="109.2" y="648.7" width="67.2" height="74.2" fill="none" stroke="#231f20" stroke-width="3.2" stroke-dasharray="13.5 9"/>
<defs><clipPath id="ep1"><rect x="27" y="897.2" width="369.2" height="301"/></clipPath><linearGradient id="arm1" x1="0" y1="0" x2="1" y2="0"><stop offset="0" stop-color="#d3b9a6"/><stop offset="0.5" stop-color="#e0cab9"/><stop offset="1" stop-color="#d9c0ae"/></linearGradient></defs>
<g clip-path="url(#ep1)">
<rect x="27" y="897.2" width="369.2" height="301" fill="#ece5dd"/>
<path d="M73 897 89 932 106.3 968.9 123.5 1005.8 133.4 1047.7 163 1097 172.8 1111.7 185 1125 222 1120 212.2 1111.7 197.4 1079.7 185.1 1042.8 170.3 981.2 155.5 944.3 148.2 897Z" fill="url(#arm1)"/>
<path d="M27 897 69.3 897 62 932 64.4 993.5 73 1042.8 76.7 1092 78 1104.4 27 1104.4Z" fill="#141516"/>
<path d="M27 1104.4 81.7 1104.4 86.6 1198.2 27 1198.2Z" fill="#3d3d3e"/>
<ellipse cx="288" cy="1126" rx="31.3" ry="36.8" fill="#727272"/>
<path d="M220 1120 C240 1110 262 1104 276 1108 C284 1112 286 1125 285.5 1140 L282 1162 C270 1176 255 1182 240 1180 Z" fill="#dec5b3"/>
<ellipse cx="209" cy="1156.5" rx="34.7" ry="40" fill="#6d6d6d"/>
<text x="209" y="1159.5" font-size="9" fill="#a8a8a8" text-anchor="middle" transform="rotate(70 209 1159.5)">PROIRON</text>
<rect x="117" y="998" width="11" height="11" fill="#161616" transform="rotate(-15 122 1003)"/>
<rect x="124" y="1015" width="11" height="11" fill="#161616" transform="rotate(-15 130 1020)"/>
<path d="M129 996 L160 982 M136 1013 L166 999" stroke="#f4f0ec" stroke-width="3.5" fill="none"/>
<path d="M160 982 C175 980 185 990 182 1020 M166 999 C178 1000 182 1010 180 1030" stroke="#d8d4d0" stroke-width="1" fill="none"/>
<path d="M130 1050 L130 1198" stroke="#8a8580" stroke-width="1"/>
<path d="M128 1060 C90 1070 90 1140 120 1142 C140 1143 150 1125 160 1115" stroke="#f7f5f3" stroke-width="1.3" fill="none"/>
<path d="M150 1113 L173 1108 L177 1120 L154 1126 Z" fill="#c4c0bb"/><path d="M150 1124 L177 1117 L178 1121 L151 1128 Z" fill="#e04040"/>
<path d="M184 1185 L184 1198" stroke="#8a8068" stroke-width="1"/>
</g>
<rect x="318.6" y="1124" width="77.6" height="74.2" fill="#fff"/>
<text x="321.4" y="1145.6" font-size="23" fill="#000" text-anchor="start">Flexion</text>
<defs><linearGradient id="ya1" x1="0" y1="0" x2="1" y2="0"><stop offset="0" stop-color="#d4a000"/><stop offset="1" stop-color="#ffc000"/></linearGradient><clipPath id="yc1"><rect x="318.6" y="1124" width="80" height="74.2"/></clipPath></defs>
<path clip-path="url(#yc1)" d="M338.8 1186.7 C343 1196.2 350 1199.7 356 1198.7 C366 1195.2 371.5 1180.2 374 1165.2" stroke="url(#ya1)" stroke-width="6" fill="none"/>
<path d="M365.4 1166.6 L383.4 1166.6 L375.6 1150.2 Z" fill="#ffc000"/>
<rect x="110.5" y="1049.8" width="50.4" height="28.4" fill="#fff"/>
<text x="135.7" y="1072.1" font-size="23" fill="#e8141c" text-anchor="middle">TPP</text>
<rect x="102.7" y="966.8" width="66.7" height="75.2" fill="none" stroke="#ef4040" stroke-width="3.2" stroke-dasharray="13.5 9"/>
<path d="M180.3 681.5 L419 625.5" stroke="#231f20" stroke-width="3.4" stroke-dasharray="14 10"/>
<path d="M175.1 1001.2 L411 944.6" stroke="#ef4040" stroke-width="3.4" stroke-dasharray="14 10"/>
<rect x="424.6" y="550" width="760" height="318.8" fill="#e7e7e7"/>
<line x1="494" y1="609" x2="1116" y2="609" stroke="#4d4d4d" stroke-width="1.5"/>
<path d="M527 596.3 528 592.3 529 598.8 530 601.2 531 600.9 532 600.2 533 598.6 534 599.6 535 601.7 536 599.6 537 592.4 538 598.6 539 596.3 540 600.4 541 599 542 600.2 543 600.8 544 601.1 545 601 546 600.8 547 599.7 548 600.5 549 600.7 550 599.3 551 598.8 552 601.8 553 601.6 554 593.9 555 599 556 601.7 557 599.7 558 598.6 559 599.2 560 591.4 561 600 562 601.6 563 599.3 564 599.8 565 600.5 566 599.5 567 599.4 568 598.7 569 600.7 570 595.5 571 598.9 572 599.4 573 599.6 574 601.7 575 600.1 576 590.1 577 601 578 598.6 579 601.4 580 598.8 581 600.7 582 596.6 583 600.2 584 598.9 585 600.5 586 592.7 587 599.6 588 600.5 589 598.9 590 599.4 591 601 592 598.8 593 599.8 594 601.7 595 601.2 596 601.4 597 600.9 598 598.8 599 599.9 600 592.7 601 595.8 602 601.3 603 594.7 604 600.8 605 599.5 606 599.4 607 600.7 608 600.6 609 600.8 610 599.4 611 601.3 612 600.9 613 599.4 614 598.9 615 600.5 616 600.9 617 601.6 618 599 619 600.5 620 599.2 621 600.5 622 598.7 623 599.4 624 599.6 625 598.8 626 598.7 627 596.5 628 600.3 629 601.5 630 592.9 631 599.8 632 601.2 633 599.8 634 599.9 635 598.9 636 599.1 637 599.6 638 600.7 639 600.9 640 601.3 640 617.8 639 617.4 638 618 637 618.2 636 619.1 635 619.8 634 619 633 619.5 632 617.9 631 618.2 630 617.5 629 616.3 628 618.3 627 617.7 626 619.2 625 620.3 624 618.4 623 619.4 622 619.5 621 617.8 620 618.6 619 617.1 618 618.6 617 616.5 616 617.6 615 624.1 614 619 613 619.6 612 616.7 611 617.4 610 618.3 609 616.8 608 617.3 607 618.4 606 618.7 605 618 604 617.3 603 618.4 602 617.2 601 619.1 600 619.4 599 618.3 598 619.9 597 617.2 596 617.6 595 617.7 594 616.2 593 619.2 592 620.6 591 617.5 590 619.2 589 620.4 588 618.2 587 618 586 618.7 585 617.6 584 620.5 583 618.7 582 617.1 581 618.3 580 620.1 579 617.4 578 620.7 577 616.8 576 619.6 575 619 574 617 573 619.7 572 619.3 571 620.3 570 619.3 569 617.7 568 620.6 567 618.9 566 619.9 565 617.9 564 618.4 563 619.2 562 617.4 561 622 560 618.3 559 618.9 558 620.7 557 619 556 616.2 555 618.8 554 617.9 553 616.9 552 617.2 551 623.2 550 618.3 549 617.3 548 618.6 547 618 546 617.3 545 617 544 617.2 543 617.8 542 618.1 541 619.8 540 618.3 539 617.5 538 620.5 537 617.7 536 619 535 616.5 534 619.6 533 620.1 532 618.5 531 616.8 530 617.1 529 619.9 528 620.2 527 621.2Z" fill="#4d4d4d" stroke="#4d4d4d" stroke-width="0.6"/>
<path d="M751.5 597.2 752.5 596.7 753.5 596.1 754.5 599.6 755.5 599.5 756.5 599.6 757.5 599.5 758.5 598.9 759.5 601.5 760.5 600.4 761.5 601.6 762.5 600.4 763.5 599 764.5 600 765.5 601 766.5 600 767.5 599.2 768.5 599.6 769.5 598.9 770.5 600.3 771.5 599.9 772.5 600.5 773.5 599.7 774.5 595.7 775.5 600.4 776.5 601.6 777.5 601.8 778.5 601.2 779.5 599.8 780.5 599.8 781.5 599.3 782.5 601.4 783.5 598.9 784.5 599.4 785.5 593.1 786.5 600.1 787.5 601 788.5 599.9 789.5 599.3 790.5 601.2 791.5 601.1 792.5 601.6 793.5 601.6 794.5 594.2 795.5 598.9 796.5 601.6 797.5 601.6 798.5 600.3 799.5 601.8 800.5 601.6 801.5 598.7 802.5 600.2 803.5 599.6 804.5 600 805.5 601.4 806.5 599.6 807.5 600.1 808.5 599 809.5 599.4 810.5 595.2 811.5 596.1 812.5 599.7 813.5 601.8 814.5 599.4 815.5 601.4 816.5 598.6 817.5 598.6 818.5 598.7 819.5 601.2 820.5 601.3 821.5 600.3 822.5 599.8 823.5 600.3 824.5 601.4 825.5 598.6 826.5 601.5 827.5 599.3 828.5 601.3 829.5 600 830.5 599.6 831.5 599 832.5 601.4 833.5 598.9 834.5 600 835.5 599 836.5 601.6 837.5 599.8 838.5 599 839.5 600.9 840.5 598.7 841.5 599.5 842.5 600.2 843.5 601.6 844.5 601.8 845.5 599.2 846.5 598.7 847.5 600.5 848.5 601.3 849.5 599.8 850.5 598.9 851.5 600.3 852.5 601.4 853.5 600.9 854.5 599.2 855.5 599.8 856.5 599 857.5 600.7 858.5 599.7 859.5 600.9 860.5 598.9 861.5 601.4 862.5 597.2 863.5 600.4 864.5 599 865.5 599 865.5 619 864.5 619.2 863.5 618.5 862.5 617.4 861.5 620.2 860.5 619.6 859.5 617 858.5 624.6 857.5 618.6 856.5 618.5 855.5 619.5 854.5 618.6 853.5 620.4 852.5 622.9 851.5 618.7 850.5 620.2 849.5 617.8 848.5 617.3 847.5 617.8 846.5 620.6 845.5 618.8 844.5 617.2 843.5 616.6 842.5 618.2 841.5 618.4 840.5 620.8 839.5 618 838.5 618.7 837.5 618.7 836.5 617.3 835.5 618.6 834.5 618.6 833.5 619.7 832.5 616.6 831.5 622.7 830.5 619.4 829.5 618.3 828.5 617.6 827.5 619.5 826.5 616.2 825.5 619.1 824.5 616.7 823.5 617.8 822.5 618.2 821.5 618.2 820.5 617.6 819.5 617.4 818.5 619.7 817.5 620.6 816.5 619.9 815.5 616.9 814.5 619.7 813.5 616.5 812.5 618.9 811.5 618.4 810.5 618.5 809.5 619.2 808.5 620.3 807.5 617.6 806.5 618.7 805.5 616.4 804.5 619 803.5 619.1 802.5 618.1 801.5 619.8 800.5 616.2 799.5 616.7 798.5 618.2 797.5 616.3 796.5 616.9 795.5 619.1 794.5 618.2 793.5 616.9 792.5 616.1 791.5 618.1 790.5 616.9 789.5 618.9 788.5 618.9 787.5 617.8 786.5 618.7 785.5 617.7 784.5 618.6 783.5 619.5 782.5 617.3 781.5 618.6 780.5 618 779.5 618.2 778.5 617.5 777.5 616.9 776.5 617.3 775.5 617.8 774.5 618.4 773.5 618.8 772.5 617.1 771.5 619.3 770.5 625.1 769.5 618.7 768.5 619.1 767.5 619.2 766.5 618.8 765.5 617.2 764.5 618.5 763.5 619.7 762.5 618.8 761.5 616.5 760.5 617.2 759.5 617.6 758.5 619 757.5 619.2 756.5 619.5 755.5 618.3 754.5 618.9 753.5 623.8 752.5 622.9 751.5 621.6Z" fill="#4d4d4d" stroke="#4d4d4d" stroke-width="0.6"/>
<path d="M975.8 599.6 976.8 597 977.8 596.3 978.8 601 979.8 598.6 980.8 599.5 981.8 599.6 982.8 600 983.8 600.8 984.8 599.2 985.8 599.8 986.8 599.4 987.8 599 988.8 601.2 989.8 601.1 990.8 601 991.8 600.3 992.8 599.4 993.8 599.4 994.8 599.9 995.8 600.8 996.8 598.8 997.8 600.5 998.8 600 999.8 599.8 1000.8 600.9 1001.8 599.9 1002.8 600.1 1003.8 601.2 1004.8 601.5 1005.8 600.9 1006.8 599.6 1007.8 600.3 1008.8 599.7 1009.8 599.6 1010.8 600.9 1011.8 599.1 1012.8 599.9 1013.8 601 1014.8 601.7 1015.8 599.4 1016.8 601.7 1017.8 601.8 1018.8 593.4 1019.8 599.7 1020.8 598.6 1021.8 599.3 1022.8 600.9 1023.8 600.5 1024.8 599.8 1025.8 598.9 1026.8 599.3 1027.8 600.2 1028.8 599 1029.8 598.9 1030.8 600.4 1031.8 597.4 1032.8 599.4 1033.8 601.3 1034.8 601.3 1035.8 599.3 1036.8 599.6 1037.8 599.1 1038.8 600.1 1039.8 601 1040.8 598.8 1041.8 601 1042.8 601.2 1043.8 600.7 1044.8 601.2 1045.8 598.7 1046.8 599.1 1047.8 600.7 1048.8 599.5 1049.8 601.2 1050.8 599.1 1051.8 600.4 1052.8 599.1 1053.8 600 1054.8 599.2 1055.8 598.8 1056.8 592.1 1057.8 598.9 1058.8 599 1059.8 595 1060.8 600.7 1061.8 600.5 1062.8 599.5 1063.8 601.6 1064.8 598.7 1065.8 599.1 1066.8 601.7 1067.8 601.8 1068.8 593.4 1069.8 600.7 1070.8 601.6 1071.8 600.3 1072.8 599 1073.8 600.5 1074.8 598.6 1075.8 600.5 1076.8 598.6 1077.8 600.3 1078.8 600.6 1079.8 600.7 1080.8 601.8 1081.8 599 1082.8 601.1 1083.8 596.1 1084.8 601.5 1085.8 601.2 1086.8 599.7 1087.8 601.4 1088.8 600 1089.8 600 1090.8 601.8 1090.8 617 1089.8 618.7 1088.8 618.6 1087.8 616.7 1086.8 619.1 1085.8 616.5 1084.8 616.4 1083.8 619.6 1082.8 617.3 1081.8 620.5 1080.8 616.4 1079.8 617.3 1078.8 617.9 1077.8 618.2 1076.8 620.3 1075.8 618 1074.8 619.4 1073.8 618.5 1072.8 619.1 1071.8 618.4 1070.8 617.2 1069.8 617 1068.8 617.8 1067.8 616.7 1066.8 616.4 1065.8 618.5 1064.8 620.7 1063.8 617.5 1062.8 618.2 1061.8 618.5 1060.8 617.2 1059.8 617.3 1058.8 619.7 1057.8 619.1 1056.8 618.4 1055.8 620.4 1054.8 618.3 1053.8 622.6 1052.8 619.3 1051.8 618.4 1050.8 620.3 1049.8 624.2 1048.8 618.6 1047.8 617.3 1046.8 619.9 1045.8 620.6 1044.8 617.6 1043.8 617.7 1042.8 617.5 1041.8 617.9 1040.8 620.6 1039.8 616.8 1038.8 617.7 1037.8 618.4 1036.8 619.6 1035.8 619.6 1034.8 617.6 1033.8 617.8 1032.8 618.5 1031.8 618.6 1030.8 618 1029.8 620.2 1028.8 619.3 1027.8 618.5 1026.8 619.5 1025.8 619.9 1024.8 618 1023.8 618 1022.8 618.3 1021.8 618.7 1020.8 619.3 1019.8 619.3 1018.8 618.5 1017.8 616.8 1016.8 617.2 1015.8 618.9 1014.8 616 1013.8 617.6 1012.8 617.9 1011.8 620.2 1010.8 616.7 1009.8 619.5 1008.8 619.1 1007.8 621 1006.8 618.9 1005.8 616.8 1004.8 616.3 1003.8 616.7 1002.8 619.2 1001.8 618 1000.8 617.6 999.8 618.3 998.8 618.4 997.8 617.4 996.8 620.3 995.8 617.7 994.8 618.9 993.8 620 992.8 619 991.8 617.9 990.8 617.3 989.8 617.6 988.8 616.5 987.8 619 986.8 625.1 985.8 617.8 984.8 622.5 983.8 618.2 982.8 617.9 981.8 619.5 980.8 624.3 979.8 619.7 978.8 617.2 977.8 622.1 976.8 622.7 975.8 621.3Z" fill="#4d4d4d" stroke="#4d4d4d" stroke-width="0.6"/>
<line x1="927.3" y1="601" x2="927.3" y2="617" stroke="#4d4d4d" stroke-width="1.3"/>
<defs><linearGradient id="sAa" x1="0" y1="0" x2="0" y2="1"><stop offset="0" stop-color="#00bcff"/><stop offset="0.12" stop-color="#00eaff"/><stop offset="0.3" stop-color="#42ffbc"/><stop offset="0.45" stop-color="#a8ff56"/><stop offset="0.57" stop-color="#f9ff05"/><stop offset="0.7" stop-color="#ffcb00"/><stop offset="0.85" stop-color="#ffa300"/><stop offset="0.955" stop-color="#ff9900"/><stop offset="0.97" stop-color="#4cffb2"/><stop offset="0.985" stop-color="#004cff"/><stop offset="1" stop-color="#0000e5"/></linearGradient><linearGradient id="sAr" x1="0" y1="0" x2="0" y2="1"><stop offset="0" stop-color="#0000cc"/><stop offset="0.3" stop-color="#0000e5"/><stop offset="0.55" stop-color="#0019ff"/><stop offset="0.75" stop-color="#004cff"/><stop offset="0.9" stop-color="#007fff"/><stop offset="0.962" stop-color="#0093ff"/><stop offset="0.975" stop-color="#0000bc"/><stop offset="1" stop-color="#0000a8"/></linearGradient></defs>
<rect x="494" y="692.4" width="621" height="141.39999999999998" fill="url(#sAr)"/>
<rect x="525.5" y="692.4" width="112.8" height="141.4" fill="url(#sAa)"/>
<rect x="750.5" y="692.4" width="114.7" height="141.4" fill="url(#sAa)"/>
<rect x="976" y="692.4" width="115" height="141.4" fill="url(#sAa)"/>
<path d="M494 723.5H525.5 M638.3 723.5H750.5 M865.2 723.5H976 M1091 723.5H1115 M494 754.6H525.5 M638.3 754.6H750.5 M865.2 754.6H976 M1091 754.6H1115 M494 770.2H525.5 M638.3 770.2H750.5 M865.2 770.2H976 M1091 770.2H1115 M494 785.7H525.5 M638.3 785.7H750.5 M865.2 785.7H976 M1091 785.7H1115 M494 801.3H525.5 M638.3 801.3H750.5 M865.2 801.3H976 M1091 801.3H1115 M494 816.8H525.5 M638.3 816.8H750.5 M865.2 816.8H976 M1091 816.8H1115" stroke="#3a9cff" stroke-width="0.8" opacity="0.45"/>
<rect x="494" y="692.4" width="621" height="138.4" filter="url(#spkL)" opacity="0.22"/>
<rect x="494" y="692.4" width="621" height="138.4" filter="url(#spkD)" opacity="0.22"/>
<defs><linearGradient id="sAcb" x1="0" y1="0" x2="0" y2="1"><stop offset="0.00" stop-color="#7f0000"/><stop offset="0.05" stop-color="#b20000"/><stop offset="0.10" stop-color="#e50000"/><stop offset="0.15" stop-color="#ff1900"/><stop offset="0.20" stop-color="#ff4c00"/><stop offset="0.25" stop-color="#ff7f00"/><stop offset="0.30" stop-color="#ffb200"/><stop offset="0.35" stop-color="#ffe500"/><stop offset="0.40" stop-color="#e5ff19"/><stop offset="0.45" stop-color="#b2ff4c"/><stop offset="0.50" stop-color="#7fff7f"/><stop offset="0.55" stop-color="#4cffb2"/><stop offset="0.60" stop-color="#19ffe5"/><stop offset="0.65" stop-color="#00e5ff"/><stop offset="0.70" stop-color="#00b2ff"/><stop offset="0.75" stop-color="#007fff"/><stop offset="0.80" stop-color="#004cff"/><stop offset="0.85" stop-color="#0019ff"/><stop offset="0.90" stop-color="#0000e5"/><stop offset="0.95" stop-color="#0000b2"/><stop offset="1.00" stop-color="#00007f"/></linearGradient></defs>
<rect x="1118.4" y="685.5" width="4.7999999999999545" height="154.29999999999995" fill="url(#sAcb)"/>
<path d="M1140.2 603.8 V645.9 H1103.8" fill="none" stroke="#595959" stroke-width="3"/>
<text x="1122.5" y="668.5" font-size="22" fill="#595959" text-anchor="middle">20 s</text>
<text x="1163.3" y="623.8" font-size="22" fill="#595959" text-anchor="middle" transform="rotate(-90 1163.3 623.8)">2 mV</text>
<text x="491.4" y="692.4" font-size="22.9" fill="#111" text-anchor="end">600</text>
<text x="491.4" y="770" font-size="22.9" fill="#111" text-anchor="end">300</text>
<text x="483.2" y="845.5" font-size="22.9" fill="#111" text-anchor="end">0</text>
<text x="446.5" y="759.3" font-size="23.3" fill="#111" text-anchor="middle" transform="rotate(-90 446.5 759.3)">Freq (Hz)</text>
<text x="1125.3" y="693.5" font-size="22.9" fill="#111" text-anchor="start">50</text>
<text x="1130.5" y="770.3" font-size="22.9" fill="#111" text-anchor="start">0</text>
<text x="1123.2" y="847.9" font-size="22.9" fill="#111" text-anchor="start">-50</text>
<text x="1175.3" y="764.1" font-size="22.6" fill="#111" text-anchor="middle" transform="rotate(-90 1175.3 764.1)">Power/Freq (dB/Hz)</text>
<rect x="424.6" y="888" width="760" height="319.3" fill="#fde3e3"/>
<line x1="494" y1="948" x2="1116" y2="948" stroke="#f04444" stroke-width="1.5"/>
<path d="M526 935.9 527 933.1 528 932.4 529 936.5 530 932.3 531 935.2 532 935 533 937.6 534 936.2 535 937.7 536 935.4 537 936.4 538 937.6 539 936.9 540 935.6 541 937.4 542 938.5 543 935.2 544 930.4 545 936.7 546 936.3 547 935.4 548 935.3 549 935.5 550 937.7 551 936.1 552 938.7 553 937.9 554 934 555 936.6 556 937.3 557 937.6 558 937.2 559 936.5 560 938.7 561 937.2 562 935.9 563 937.8 564 936.6 565 938.8 566 938.6 567 937 568 936.8 569 935.6 570 938.4 571 938.4 572 938.9 573 937 574 938.1 575 938.9 576 938 577 933.5 578 938.2 579 937.9 580 938.8 581 938.9 582 937.3 583 937.8 584 936.5 585 938.8 586 935.9 587 935.4 588 938.6 589 937.8 590 938.2 591 938.9 592 930.4 593 936.4 594 935 595 935.7 596 938.3 597 938.2 598 935.6 599 938.4 600 937.8 601 936.6 602 936 603 937.3 604 936.5 605 935.1 606 938.1 607 936.5 608 935.6 609 935.9 610 935.6 611 934.9 612 936.2 613 936.6 614 935.6 615 934.8 616 935.7 617 936.5 618 935.2 619 938.2 620 938.1 621 937.7 622 935.4 623 935.9 624 935.1 625 936.8 626 925.8 627 937.1 628 938.2 629 935.7 630 936.9 631 935.6 632 938 633 937.8 634 933.5 635 937.5 636 936.2 637 937.6 638 936.2 639 924.8 640 937.3 641 937.4 641 960.2 640 959.2 639 960 638 960.7 637 959 636 960.9 635 958 634 959.2 633 958.4 632 959.1 631 960.8 630 959.9 629 959.9 628 957.7 627 958.5 626 960.1 625 959.5 624 962.8 623 959.8 622 960.4 621 958.6 620 958 619 958 618 960.6 617 967 616 960.6 615 961.1 614 961 613 959.1 612 959.3 611 960.9 610 961.3 609 961.6 608 960.7 607 960.4 606 957.7 605 960.9 604 960.7 603 958.8 602 960.2 601 960.8 600 966.2 599 957.9 598 961.8 597 959.1 596 958 595 961.8 594 962.2 593 960.1 592 961.4 591 957.5 590 957.4 589 957.7 588 957.2 587 962.1 586 960.1 585 956.7 584 959 583 958 582 959 581 957 580 958.4 579 959 578 958.6 577 959 576 958.7 575 957.9 574 958.8 573 965.3 572 956.9 571 958.9 570 958.1 569 960.2 568 959.9 567 959.6 566 958.4 565 957.7 564 959.3 563 957.8 562 961.3 561 959.6 560 958 559 961.2 558 960.3 557 958.9 556 958.2 555 959 554 957.3 553 958.5 552 957.4 551 959.8 550 959.4 549 960.3 548 961.5 547 961.4 546 961.3 545 960.2 544 957 543 966.2 542 958.6 541 959.7 540 960.5 539 959.4 538 960 537 959.6 536 960.3 535 959.3 534 960.5 533 968.2 532 960.8 531 960.2 530 958.5 529 961.1 528 964.3 527 965 526 960.9Z" fill="#f04444" stroke="#f04444" stroke-width="0.6"/>
<path d="M751.5 933.8 752.5 935.3 753.5 935.6 754.5 938.5 755.5 935.8 756.5 937.1 757.5 935.4 758.5 925.5 759.5 937.7 760.5 936.7 761.5 938.2 762.5 937 763.5 937.1 764.5 935.3 765.5 936.8 766.5 937.4 767.5 935.4 768.5 935.2 769.5 937.5 770.5 936.9 771.5 935.5 772.5 923.4 773.5 935.9 774.5 936.5 775.5 938 776.5 935.4 777.5 934.9 778.5 938.5 779.5 937.8 780.5 936.1 781.5 937.1 782.5 938.3 783.5 937.7 784.5 935.1 785.5 936.3 786.5 937.1 787.5 937.4 788.5 938.2 789.5 936.6 790.5 937.2 791.5 936.8 792.5 930.6 793.5 936.2 794.5 937.4 795.5 937.8 796.5 932.7 797.5 928.3 798.5 938.9 799.5 938.1 800.5 936.5 801.5 937.5 802.5 938 803.5 937.2 804.5 937.7 805.5 931.7 806.5 937.9 807.5 937.5 808.5 936.6 809.5 937.9 810.5 935.8 811.5 934.9 812.5 937.6 813.5 938.4 814.5 935.5 815.5 936.8 816.5 927.2 817.5 936.3 818.5 937.6 819.5 936.3 820.5 935.4 821.5 937.4 822.5 935.4 823.5 921.8 824.5 935.5 825.5 930.1 826.5 938.3 827.5 938.5 828.5 930.4 829.5 936.7 830.5 938.1 831.5 937.1 832.5 936.5 833.5 935.4 834.5 937.3 835.5 935.1 836.5 927.4 837.5 938.8 838.5 929.1 839.5 936.7 840.5 938.9 841.5 935.4 842.5 936.5 843.5 928.1 844.5 936.1 845.5 934.8 846.5 935.4 847.5 938.6 848.5 936.2 849.5 938.6 850.5 936.5 851.5 935 852.5 936.7 853.5 938.3 854.5 929.6 855.5 935.4 856.5 938.5 857.5 938.5 858.5 935.6 859.5 937.6 860.5 936.3 861.5 936.8 862.5 935.3 863.5 935.5 864.5 935.3 865.5 935.5 866.5 938 867.5 937.7 867.5 959.1 866.5 957.9 865.5 960.1 864.5 961.5 863.5 962.3 862.5 962 861.5 959.8 860.5 960 859.5 959.5 858.5 959.9 857.5 957.2 856.5 957.7 855.5 960.4 854.5 960.6 853.5 958.6 852.5 960.1 851.5 962.8 850.5 961.1 849.5 957.5 848.5 960.7 847.5 958.3 846.5 961 845.5 962.6 844.5 960.8 843.5 958.7 842.5 959.8 841.5 962 840.5 957.2 839.5 959.5 838.5 960.8 837.5 958.1 836.5 958.6 835.5 961.2 834.5 958.8 833.5 962.1 832.5 959.6 831.5 958.7 830.5 958.2 829.5 960.4 828.5 958.5 827.5 958.7 826.5 957.5 825.5 959.7 824.5 961.1 823.5 961.5 822.5 961.2 821.5 958.1 820.5 961.2 819.5 968.6 818.5 958.5 817.5 959.3 816.5 959.9 815.5 958.7 814.5 962.1 813.5 958.2 812.5 958 811.5 960.4 810.5 961.6 809.5 957.7 808.5 960.2 807.5 959.7 806.5 958 805.5 960.7 804.5 958.3 803.5 958.3 802.5 959.1 801.5 958.7 800.5 960.1 799.5 958.9 798.5 966 797.5 959.6 796.5 962.4 795.5 963.7 794.5 960.1 793.5 960.3 792.5 958 791.5 958.8 790.5 959.9 789.5 959.6 788.5 958 787.5 967.7 786.5 959.2 785.5 959.8 784.5 961 783.5 957.9 782.5 957.3 781.5 959.9 780.5 960.6 779.5 958.2 778.5 958.8 777.5 961.5 776.5 960.6 775.5 958.2 774.5 959.1 773.5 961 772.5 962 771.5 962.1 770.5 960.5 769.5 958.1 768.5 960.8 767.5 960.6 766.5 959.6 765.5 960.6 764.5 962.4 763.5 960.3 762.5 959.7 761.5 958.8 760.5 960.2 759.5 958.3 758.5 960.8 757.5 962 756.5 960 755.5 961.2 754.5 958 753.5 960.7 752.5 961.3 751.5 963.1Z" fill="#f04444" stroke="#f04444" stroke-width="0.6"/>
<path d="M978.6 932.7 979.6 934.4 980.6 935.5 981.6 938.2 982.6 928.4 983.6 935.9 984.6 938.1 985.6 936.8 986.6 936.1 987.6 935.2 988.6 935.6 989.6 937.2 990.6 938.2 991.6 938.7 992.6 936.8 993.6 938.5 994.6 936 995.6 929 996.6 938.6 997.6 936.8 998.6 936.5 999.6 936.9 1000.6 935.1 1001.6 938.9 1002.6 938.7 1003.6 938.6 1004.6 937.2 1005.6 931.8 1006.6 936.1 1007.6 938 1008.6 938.7 1009.6 938.6 1010.6 935.7 1011.6 937.5 1012.6 936.8 1013.6 938.4 1014.6 936 1015.6 935.3 1016.6 935.3 1017.6 935.8 1018.6 935.3 1019.6 935 1020.6 937.1 1021.6 935.3 1022.6 937.1 1023.6 935.4 1024.6 936.7 1025.6 937.9 1026.6 935.7 1027.6 935.7 1028.6 936.3 1029.6 935.8 1030.6 937.3 1031.6 938.3 1032.6 936.8 1033.6 930.5 1034.6 938.4 1035.6 938.7 1036.6 936 1037.6 938.9 1038.6 937.3 1039.6 937.8 1040.6 938.7 1041.6 927.4 1042.6 938.7 1043.6 937.5 1044.6 937.6 1045.6 935.4 1046.6 936.9 1047.6 937.2 1048.6 937.3 1049.6 937.7 1050.6 935.2 1051.6 936.3 1052.6 935.6 1053.6 937.9 1054.6 937.3 1055.6 934.9 1056.6 936.4 1057.6 937.3 1058.6 937.8 1059.6 936.6 1060.6 937.1 1061.6 936.1 1062.6 936.3 1063.6 937.1 1064.6 937.1 1065.6 935.7 1066.6 938.1 1067.6 937.9 1068.6 937.8 1069.6 935.7 1070.6 938.5 1071.6 937.3 1072.6 936.5 1073.6 937.2 1074.6 937.9 1075.6 939 1076.6 936.1 1077.6 934.8 1078.6 938.2 1079.6 937.5 1080.6 936.9 1081.6 931.4 1082.6 935.4 1083.6 935.6 1084.6 936.4 1085.6 938.4 1086.6 936.6 1087.6 937.7 1088.6 935 1089.6 938.6 1090.6 936.5 1091.6 935.1 1092.6 937.5 1092.6 962.4 1091.6 961.7 1090.6 960.9 1089.6 958 1088.6 960.7 1087.6 958 1086.6 960.6 1085.6 965.3 1084.6 960.4 1083.6 962.2 1082.6 962 1081.6 961.9 1080.6 960.5 1079.6 959.3 1078.6 957.6 1077.6 962.6 1076.6 960.5 1075.6 956.8 1074.6 959.4 1073.6 960.2 1072.6 961.2 1071.6 960.3 1070.6 957.4 1069.6 961.7 1068.6 959.2 1067.6 965.6 1066.6 958.6 1065.6 959.9 1064.6 969.1 1063.6 964.7 1062.6 959.7 1061.6 960.2 1060.6 958.8 1059.6 959.6 1058.6 957.9 1057.6 958.2 1056.6 959.5 1055.6 962.4 1054.6 959.1 1053.6 958.3 1052.6 960.7 1051.6 960.7 1050.6 961.8 1049.6 959.3 1048.6 958.6 1047.6 962.3 1046.6 959.6 1045.6 962 1044.6 958.8 1043.6 959.6 1042.6 957.7 1041.6 960.1 1040.6 957.3 1039.6 966.1 1038.6 963.8 1037.6 957.5 1036.6 960.9 1035.6 957.2 1034.6 957.3 1033.6 961.3 1032.6 958.9 1031.6 958.3 1030.6 959.3 1029.6 960.3 1028.6 959.8 1027.6 961.8 1026.6 960.4 1025.6 958 1024.6 959 1023.6 961.1 1022.6 958.5 1021.6 960.9 1020.6 959.1 1019.6 962.2 1018.6 961.6 1017.6 960.5 1016.6 961.9 1015.6 962.3 1014.6 960.3 1013.6 957.9 1012.6 960.6 1011.6 959.8 1010.6 960.3 1009.6 957 1008.6 961.5 1007.6 959.1 1006.6 960.4 1005.6 958.8 1004.6 958.5 1003.6 957.9 1002.6 957.8 1001.6 958.1 1000.6 961.3 999.6 960.4 998.6 960.6 997.6 960.3 996.6 958.1 995.6 961.2 994.6 961.1 993.6 958.5 992.6 960.8 991.6 956.9 990.6 958.7 989.6 960 988.6 961.6 987.6 960.2 986.6 961.5 985.6 958.9 984.6 958 983.6 961.7 982.6 959 981.6 958.4 980.6 960.2 979.6 961.6 978.6 963Z" fill="#f04444" stroke="#f04444" stroke-width="0.6"/>
<defs><linearGradient id="sBa" x1="0" y1="0" x2="0" y2="1"><stop offset="0" stop-color="#00bcff"/><stop offset="0.12" stop-color="#00eaff"/><stop offset="0.3" stop-color="#42ffbc"/><stop offset="0.45" stop-color="#a8ff56"/><stop offset="0.57" stop-color="#f9ff05"/><stop offset="0.7" stop-color="#ffcb00"/><stop offset="0.85" stop-color="#ffa300"/><stop offset="0.955" stop-color="#ff9900"/><stop offset="0.97" stop-color="#4cffb2"/><stop offset="0.985" stop-color="#004cff"/><stop offset="1" stop-color="#0000e5"/></linearGradient><linearGradient id="sBr" x1="0" y1="0" x2="0" y2="1"><stop offset="0" stop-color="#0000cc"/><stop offset="0.3" stop-color="#0000e5"/><stop offset="0.55" stop-color="#0019ff"/><stop offset="0.75" stop-color="#004cff"/><stop offset="0.9" stop-color="#00d1ff"/><stop offset="0.962" stop-color="#00e5ff"/><stop offset="0.975" stop-color="#0000bc"/><stop offset="1" stop-color="#0000a8"/></linearGradient></defs>
<rect x="494" y="1034.7" width="621" height="141.29999999999995" fill="url(#sBr)"/>
<rect x="526" y="1034.7" width="115" height="141.3" fill="url(#sBa)"/>
<rect x="751.5" y="1034.7" width="116.5" height="141.3" fill="url(#sBa)"/>
<rect x="979" y="1034.7" width="115" height="141.3" fill="url(#sBa)"/>
<path d="M494 1065.8H526 M641 1065.8H751.5 M868 1065.8H979 M1094 1065.8H1115 M494 1096.9H526 M641 1096.9H751.5 M868 1096.9H979 M1094 1096.9H1115 M494 1112.4H526 M641 1112.4H751.5 M868 1112.4H979 M1094 1112.4H1115 M494 1128H526 M641 1128H751.5 M868 1128H979 M1094 1128H1115 M494 1143.5H526 M641 1143.5H751.5 M868 1143.5H979 M1094 1143.5H1115 M494 1159H526 M641 1159H751.5 M868 1159H979 M1094 1159H1115" stroke="#3a9cff" stroke-width="0.8" opacity="0.45"/>
<rect x="494" y="1034.7" width="621" height="138.3" filter="url(#spkL)" opacity="0.22"/>
<rect x="494" y="1034.7" width="621" height="138.3" filter="url(#spkD)" opacity="0.22"/>
<defs><linearGradient id="sBcb" x1="0" y1="0" x2="0" y2="1"><stop offset="0.00" stop-color="#7f0000"/><stop offset="0.05" stop-color="#b20000"/><stop offset="0.10" stop-color="#e50000"/><stop offset="0.15" stop-color="#ff1900"/><stop offset="0.20" stop-color="#ff4c00"/><stop offset="0.25" stop-color="#ff7f00"/><stop offset="0.30" stop-color="#ffb200"/><stop offset="0.35" stop-color="#ffe500"/><stop offset="0.40" stop-color="#e5ff19"/><stop offset="0.45" stop-color="#b2ff4c"/><stop offset="0.50" stop-color="#7fff7f"/><stop offset="0.55" stop-color="#4cffb2"/><stop offset="0.60" stop-color="#19ffe5"/><stop offset="0.65" stop-color="#00e5ff"/><stop offset="0.70" stop-color="#00b2ff"/><stop offset="0.75" stop-color="#007fff"/><stop offset="0.80" stop-color="#004cff"/><stop offset="0.85" stop-color="#0019ff"/><stop offset="0.90" stop-color="#0000e5"/><stop offset="0.95" stop-color="#0000b2"/><stop offset="1.00" stop-color="#00007f"/></linearGradient></defs>
<rect x="1118.4" y="1028.7" width="4.7999999999999545" height="153.5" fill="url(#sBcb)"/>
<path d="M1140.2 945.9 V987 H1103.8" fill="none" stroke="#f04444" stroke-width="3"/>
<text x="1122.5" y="1009.6" font-size="22" fill="#f04444" text-anchor="middle">20 s</text>
<text x="1163.3" y="965.5" font-size="22" fill="#f04444" text-anchor="middle" transform="rotate(-90 1163.3 965.5)">2 mV</text>
<text x="491.4" y="1038.1" font-size="22.9" fill="#111" text-anchor="end">600</text>
<text x="491.4" y="1115.3" font-size="22.9" fill="#111" text-anchor="end">300</text>
<text x="483.2" y="1190.5" font-size="22.9" fill="#111" text-anchor="end">0</text>
<text x="446.5" y="1101.5" font-size="23.3" fill="#111" text-anchor="middle" transform="rotate(-90 446.5 1101.5)">Freq (Hz)</text>
<text x="1125.3" y="1036.8" font-size="22.9" fill="#111" text-anchor="start">50</text>
<text x="1130.5" y="1113.5" font-size="22.9" fill="#111" text-anchor="start">0</text>
<text x="1123.2" y="1190.3" font-size="22.9" fill="#111" text-anchor="start">-50</text>
<text x="1175.3" y="1106.3" font-size="22.6" fill="#111" text-anchor="middle" transform="rotate(-90 1175.3 1106.3)">Power/Freq (dB/Hz)</text>
<rect x="1295.9" y="541.6" width="65.5" height="90.1" fill="#fdd5b9"/>
<rect x="1548.9" y="541.6" width="65.4" height="90.1" fill="#feeaae"/>
<rect x="1797" y="541.6" width="68.7" height="90.1" fill="#dcf8ac"/>
<line x1="1260.8" y1="579.5" x2="1955" y2="579.5" stroke="#4d4d4d" stroke-width="1.7"/>
<path d="M1297 565.3 1298 565.8 1299 568.1 1300 570.4 1301 568.2 1302 570.6 1303 568.2 1304 570.8 1305 568.7 1306 570.3 1307 570.4 1308 568.5 1309 568.4 1310 569 1311 571.2 1312 558.5 1313 569.6 1314 568.1 1315 570.1 1316 569.2 1317 569.7 1318 568.1 1319 571.4 1320 569.7 1321 570.1 1322 570.9 1323 571.1 1324 571.3 1325 569.9 1326 568.9 1327 568 1328 569.9 1329 570.5 1330 568.5 1331 568.6 1332 569.5 1333 570.4 1334 568.7 1335 570.5 1336 570.5 1337 569.5 1338 570.2 1339 570.8 1340 568.1 1341 569.2 1342 571 1343 568 1344 571.6 1345 571.4 1346 568.9 1347 564.4 1348 570.4 1349 570 1350 570.6 1351 569.1 1352 571.3 1353 569.4 1354 569.1 1355 568.3 1356 571.4 1357 571 1358 570.8 1359 570.1 1360 570 1361 571.4 1362 569.6 1363 570.9 1364 569.4 1365 563.3 1366 568 1367 571.1 1368 569.1 1369 569 1370 569.5 1371 570.5 1372 570.4 1373 569.6 1374 570.7 1375 569 1376 570.4 1377 560.2 1378 568.2 1379 571 1380 570.7 1381 571.4 1382 571.1 1383 561.5 1384 568 1385 565.9 1386 571 1387 568.6 1388 571.2 1389 569.7 1390 568.2 1391 569.4 1392 568.5 1393 570.7 1394 568.1 1395 569.1 1396 569.1 1397 568.7 1398 568.6 1399 571.2 1400 563.5 1401 568.9 1402 568.9 1403 568.3 1404 568.9 1405 569.6 1406 568.6 1407 570.7 1408 561.2 1409 571 1410 569.9 1411 570.9 1412 569.9 1413 571.1 1414 568.9 1415 569.9 1416 569.5 1417 568.3 1418 570 1419 571.4 1420 568.6 1421 568.4 1422 570.2 1423 570.4 1423 588.3 1422 588.8 1421 592.1 1420 590.5 1419 587.2 1418 588.6 1417 590.9 1416 590 1415 588.9 1414 595.1 1413 587.5 1412 589.4 1411 588.7 1410 589.2 1409 587.7 1408 591.9 1407 587.9 1406 587.5 1405 589.2 1404 590.9 1403 591.3 1402 590.6 1401 590.2 1400 588.5 1399 587.8 1398 590.8 1397 591.6 1396 591.4 1395 591.5 1394 591.9 1393 588.4 1392 591.4 1391 590.3 1390 590.6 1389 590.7 1388 588.9 1387 590.8 1386 588.6 1385 588.7 1384 591.4 1383 590 1382 587.8 1381 588.7 1380 588.8 1379 588.6 1378 591.2 1377 591.2 1376 588.5 1375 589.5 1374 589 1373 589.1 1372 588.6 1371 589.3 1370 589 1369 591.4 1368 591.4 1367 594.1 1366 591.5 1365 588.6 1364 590.3 1363 588.2 1362 590.2 1361 588.7 1360 589.5 1359 589.1 1358 589.2 1357 587.9 1356 587.9 1355 592.2 1354 590 1353 590.6 1352 588.5 1351 590 1350 589.3 1349 589.1 1348 588.8 1347 590.2 1346 589.6 1345 587.5 1344 587.9 1343 591.6 1342 589.2 1341 590.6 1340 592.3 1339 588.9 1338 589.1 1337 590.7 1336 588.5 1335 593.1 1334 591.2 1333 588.3 1332 590.8 1331 590.5 1330 591.1 1329 589.2 1328 589 1327 590.8 1326 590 1325 589.7 1324 588.6 1323 587.9 1322 589.1 1321 590 1320 589.2 1319 588.6 1318 591.8 1317 590.2 1316 590.5 1315 589.5 1314 591.9 1313 589.1 1312 598.5 1311 588.5 1310 589.6 1309 590.9 1308 591.2 1307 588.6 1306 589.5 1305 591.9 1304 588.1 1303 591 1302 589 1301 590.4 1300 588.9 1299 591.7 1298 593.5 1297 595.2Z" fill="#4d4d4d" stroke="#4d4d4d" stroke-width="0.6"/>
<path d="M1547.7 569.4 1548.7 561.6 1549.7 568.3 1550.7 569.4 1551.7 568.4 1552.7 569.6 1553.7 570.8 1554.7 569.7 1555.7 569.5 1556.7 569.4 1557.7 571.6 1558.7 569 1559.7 567.8 1560.7 570.8 1561.7 568.1 1562.7 571.1 1563.7 569.6 1564.7 568 1565.7 570.9 1566.7 570.8 1567.7 569.6 1568.7 569.1 1569.7 568 1570.7 569.9 1571.7 569.8 1572.7 570 1573.7 568.3 1574.7 568.8 1575.7 568.2 1576.7 571.5 1577.7 570.4 1578.7 568.5 1579.7 570.3 1580.7 569.2 1581.7 568.3 1582.7 571.3 1583.7 568.3 1584.7 568.7 1585.7 570.2 1586.7 568.5 1587.7 558.4 1588.7 568.4 1589.7 569.1 1590.7 569.9 1591.7 571.5 1592.7 570.6 1593.7 568 1594.7 560.9 1595.7 568 1596.7 569.2 1597.7 569.8 1598.7 569.4 1599.7 570.1 1600.7 569.4 1601.7 570.6 1602.7 570.9 1603.7 571 1604.7 568.1 1605.7 571.5 1606.7 569.5 1607.7 569.7 1608.7 568.7 1609.7 569.4 1610.7 569.1 1611.7 571 1612.7 568 1613.7 569.3 1614.7 563.6 1615.7 570.2 1616.7 568.7 1617.7 570.4 1618.7 569.9 1619.7 570.4 1620.7 568.7 1621.7 570.2 1622.7 569.7 1623.7 568.7 1624.7 567.3 1625.7 570.6 1626.7 570.7 1627.7 571.4 1628.7 570.3 1629.7 569.8 1630.7 563.6 1631.7 568.8 1632.7 569.2 1633.7 570.7 1634.7 569.8 1635.7 569.3 1636.7 570.8 1637.7 571 1638.7 569.9 1639.7 569 1640.7 571.1 1641.7 571.4 1642.7 569.2 1643.7 571.6 1644.7 569.5 1645.7 569.8 1646.7 568.3 1647.7 568.4 1648.7 569.8 1649.7 570.1 1650.7 568.8 1651.7 570.2 1652.7 570.7 1653.7 570.6 1654.7 568.2 1655.7 570 1656.7 569.5 1657.7 565.7 1658.7 569.1 1659.7 569 1660.7 569.8 1661.7 571.1 1662.7 568.7 1663.7 568.9 1664.7 569.6 1665.7 571.1 1666.7 571.6 1667.7 568.8 1668.7 569.5 1669.7 568.2 1670.7 570.9 1671.7 570.4 1672.7 568.2 1673.7 568.7 1674.7 570 1674.7 588.9 1673.7 589.9 1672.7 591.8 1671.7 588.3 1670.7 588 1669.7 592.4 1668.7 590.2 1667.7 590.2 1666.7 588 1665.7 590.9 1664.7 590.5 1663.7 589.8 1662.7 597.6 1661.7 588.5 1660.7 589.1 1659.7 591.3 1658.7 590.8 1657.7 589.9 1656.7 589.8 1655.7 588.6 1654.7 592 1653.7 588.1 1652.7 588.7 1651.7 588.8 1650.7 591.6 1649.7 589.5 1648.7 589.4 1647.7 591.3 1646.7 591.6 1645.7 589.7 1644.7 590.6 1643.7 588.4 1642.7 590.5 1641.7 587.3 1640.7 588.4 1639.7 589.7 1638.7 590.1 1637.7 588.1 1636.7 588 1635.7 589.7 1634.7 589.8 1633.7 588.1 1632.7 589.8 1631.7 591 1630.7 590.4 1629.7 590.4 1628.7 588.8 1627.7 588.3 1626.7 587.9 1625.7 588.2 1624.7 588.7 1623.7 591.8 1622.7 588.9 1621.7 589.9 1620.7 590 1619.7 589.7 1618.7 590.4 1617.7 589.2 1616.7 590.8 1615.7 588.6 1614.7 588.3 1613.7 589.7 1612.7 591.4 1611.7 588.4 1610.7 590.8 1609.7 589.2 1608.7 590 1607.7 589 1606.7 590 1605.7 587.6 1604.7 592.3 1603.7 588.5 1602.7 589.3 1601.7 589 1600.7 598.9 1599.7 589.8 1598.7 590.7 1597.7 596.4 1596.7 589.7 1595.7 592.3 1594.7 592.5 1593.7 591 1592.7 594.9 1591.7 588.5 1590.7 589.4 1589.7 600.1 1588.7 591.6 1587.7 591 1586.7 591.1 1585.7 597.6 1584.7 590.8 1583.7 590.6 1582.7 587.8 1581.7 590.7 1580.7 591.1 1579.7 588.8 1578.7 590.3 1577.7 588.4 1576.7 587.1 1575.7 591 1574.7 591.4 1573.7 591.8 1572.7 589.5 1571.7 590.2 1570.7 592.7 1569.7 592.6 1568.7 590.8 1567.7 589.1 1566.7 589.1 1565.7 588.5 1564.7 591.1 1563.7 590 1562.7 588.7 1561.7 591.1 1560.7 589.4 1559.7 588.2 1558.7 590.2 1557.7 588.1 1556.7 590.7 1555.7 590.4 1554.7 589.2 1553.7 588.4 1552.7 590.4 1551.7 590.9 1550.7 589.5 1549.7 592 1548.7 592.6 1547.7 589.1Z" fill="#4d4d4d" stroke="#4d4d4d" stroke-width="0.6"/>
<path d="M1797.4 565.6 1798.4 568.9 1799.4 567.4 1800.4 568.8 1801.4 571.1 1802.4 568 1803.4 568.8 1804.4 569.4 1805.4 568.6 1806.4 569.2 1807.4 571.2 1808.4 568.7 1809.4 570.4 1810.4 571.4 1811.4 568.2 1812.4 571.5 1813.4 568.5 1814.4 568 1815.4 571.5 1816.4 569.1 1817.4 570 1818.4 569.9 1819.4 570.9 1820.4 570.7 1821.4 571.2 1822.4 571.3 1823.4 570.3 1824.4 568.4 1825.4 568 1826.4 568.1 1827.4 564.3 1828.4 561.4 1829.4 569.8 1830.4 570.5 1831.4 571.1 1832.4 565.3 1833.4 569.1 1834.4 571.3 1835.4 570.3 1836.4 569.8 1837.4 568 1838.4 569.4 1839.4 568.6 1840.4 560.5 1841.4 569.4 1842.4 571.5 1843.4 563.1 1844.4 569.9 1845.4 564.7 1846.4 568 1847.4 569.9 1848.4 568 1849.4 571.1 1850.4 568.9 1851.4 568.9 1852.4 569.1 1853.4 571.3 1854.4 568.3 1855.4 568.9 1856.4 569.8 1857.4 569.9 1858.4 568.2 1859.4 568 1860.4 568.1 1861.4 569.4 1862.4 569.6 1863.4 569.5 1864.4 569.6 1865.4 571.1 1866.4 569.5 1867.4 569.4 1868.4 571.4 1869.4 568.7 1870.4 571.2 1871.4 569.6 1872.4 570 1873.4 570.7 1874.4 569.1 1875.4 569.1 1876.4 568 1877.4 569.4 1878.4 571.5 1879.4 571.5 1880.4 569.9 1881.4 566.9 1882.4 568.7 1883.4 571.1 1884.4 569.9 1885.4 568 1886.4 571.1 1887.4 570.8 1888.4 568.1 1889.4 570.8 1890.4 569 1891.4 571.2 1892.4 568.5 1893.4 568.3 1894.4 570.6 1895.4 569 1896.4 569.5 1897.4 570.4 1898.4 568.4 1899.4 570.9 1900.4 568.4 1901.4 570.9 1902.4 569.6 1903.4 570.8 1904.4 569.3 1905.4 569.3 1906.4 568 1907.4 568.3 1908.4 570.4 1909.4 570.8 1910.4 569.2 1911.4 569.2 1912.4 570.4 1913.4 568.1 1914.4 570.6 1915.4 571.3 1916.4 569 1917.4 571.3 1918.4 571.5 1919.4 570.9 1920.4 569.6 1921.4 570 1922.4 570.8 1923.4 570.5 1924.4 569.7 1925.4 563.6 1926.4 570.2 1926.4 589.5 1925.4 589 1924.4 595.1 1923.4 589.6 1922.4 588.4 1921.4 589.4 1920.4 590.8 1919.4 588.6 1918.4 588.5 1917.4 588.6 1916.4 590.1 1915.4 588.4 1914.4 588.9 1913.4 590.4 1912.4 597.5 1911.4 589.6 1910.4 591.1 1909.4 587.8 1908.4 589.7 1907.4 591.8 1906.4 592.6 1905.4 590.7 1904.4 589.3 1903.4 593.4 1902.4 590.6 1901.4 588.9 1900.4 592.1 1899.4 589.2 1898.4 597.7 1897.4 589.6 1896.4 589.9 1895.4 590.6 1894.4 588.1 1893.4 590.2 1892.4 591.4 1891.4 588.2 1890.4 591.5 1889.4 588 1888.4 591.9 1887.4 589.4 1886.4 589 1885.4 590.7 1884.4 590.6 1883.4 588.1 1882.4 590.2 1881.4 595.1 1880.4 588.9 1879.4 587.6 1878.4 590.5 1877.4 589.4 1876.4 591.3 1875.4 590.5 1874.4 590.9 1873.4 588.3 1872.4 589.1 1871.4 589.8 1870.4 588.2 1869.4 590.2 1868.4 587.4 1867.4 590.7 1866.4 589.6 1865.4 588.2 1864.4 589.1 1863.4 590.2 1862.4 590.8 1861.4 590.2 1860.4 591.8 1859.4 591.4 1858.4 591.4 1857.4 590.2 1856.4 589.5 1855.4 590.2 1854.4 591.4 1853.4 588.7 1852.4 591.2 1851.4 590.6 1850.4 591.6 1849.4 595.5 1848.4 591.4 1847.4 589.7 1846.4 592.6 1845.4 591 1844.4 589.7 1843.4 589.6 1842.4 587.2 1841.4 590.7 1840.4 590.7 1839.4 589.8 1838.4 589.1 1837.4 591.1 1836.4 589.9 1835.4 589.2 1834.4 588 1833.4 590.5 1832.4 587.9 1831.4 588.2 1830.4 589.7 1829.4 589.7 1828.4 590.9 1827.4 590.4 1826.4 591.6 1825.4 591.2 1824.4 591 1823.4 589 1822.4 587.4 1821.4 587.5 1820.4 588.7 1819.4 587.9 1818.4 590.2 1817.4 597.5 1816.4 591.3 1815.4 587.4 1814.4 590.9 1813.4 590.1 1812.4 587.3 1811.4 592.2 1810.4 587.7 1809.4 588.6 1808.4 591.1 1807.4 588.4 1806.4 591.3 1805.4 589.9 1804.4 590.7 1803.4 589.8 1802.4 592.2 1801.4 588.5 1800.4 590.9 1799.4 592.5 1798.4 591.7 1797.4 593.5Z" fill="#4d4d4d" stroke="#4d4d4d" stroke-width="0.6"/>
<line x1="1744.4" y1="568.5" x2="1744.4" y2="590.5" stroke="#4d4d4d" stroke-width="1.5"/>
<text x="1316.9" y="626.2" font-size="22.2" fill="#000" text-anchor="start">Flexion 1</text>
<text x="1568.7" y="626.2" font-size="22.2" fill="#000" text-anchor="start">Flexion 2</text>
<text x="1814.3" y="626.2" font-size="22.2" fill="#000" text-anchor="start">Flexion 3</text>
<text x="1253.5" y="811" font-size="18.8" fill="#111" text-anchor="end">50</text>
<text x="1253.5" y="744.9" font-size="18.8" fill="#111" text-anchor="end">100</text>
<text x="1253.5" y="678.8" font-size="18.8" fill="#111" text-anchor="end">150</text>
<text x="1259.7" y="857" font-size="18.8" fill="#111" text-anchor="middle">0</text>
<text x="1470.1" y="857" font-size="18.8" fill="#111" text-anchor="middle">100</text>
<text x="1680.5" y="857" font-size="18.8" fill="#111" text-anchor="middle">200</text>
<text x="1890.9" y="857" font-size="18.8" fill="#111" text-anchor="middle">300</text>
<path d="M1259.3 639.6V836.5H1955 M1259.3 804.5h-4.5 M1259.3 738.4h-4.5 M1259.3 672.3h-4.5 M1259.3 771.4h-2.5 M1259.3 705.4h-2.5 M1259.3 836.5v4.5 M1469.7 836.5v4.5 M1680.1 836.5v4.5 M1890.5 836.5v4.5 M1364.5 836.5v2.5 M1574.9 836.5v2.5 M1785.3 836.5v2.5" stroke="#333" stroke-width="1.3" fill="none"/>
<text x="1216" y="750" font-size="24" fill="#111" text-anchor="middle" transform="rotate(-90 1216 750)">Median frequency (Hz)</text>
<text x="1607.3" y="883.8" font-size="24.6" fill="#111" text-anchor="middle">Time (s)</text>
<path d="M1318.1 797.9h0M1301.2 688.2h0M1302.8 752.7h0M1356 753.6h0M1348.7 720.1h0M1331 757.6h0M1354.7 749.2h0M1356 705.4h0M1322 745.2h0M1317.9 767.7h0M1338.3 725.9h0M1300.9 712.5h0M1332 727.2h0M1344 732.5h0M1334 716.1h0M1332.2 778h0M1329.5 752h0M1311.6 751.7h0M1324.2 720.4h0M1306 737.3h0M1316.4 751.6h0M1328.2 733.3h0M1299.8 695.2h0M1330.7 725.4h0M1356.5 701.5h0M1351.6 719.1h0M1355.6 741.4h0M1354.2 730.8h0M1326.5 721h0M1332.3 748.9h0M1303.9 719.9h0M1303.6 766.9h0M1310.6 726.6h0M1311.1 756.3h0M1311.4 732.7h0M1337.9 689.6h0M1304 726.6h0M1328.2 728.7h0M1301.9 741.8h0M1327.7 718h0M1355.6 744.6h0M1320.8 744.6h0M1351.2 755.8h0M1327 707.1h0M1351.6 741.8h0M1356.5 734.5h0M1334.5 699.4h0M1329.6 723.4h0M1306.5 736.2h0M1305.5 745.2h0M1330.7 731h0M1318.4 724.3h0M1344.9 759.2h0M1334.6 755.9h0M1300.6 735.4h0M1304.4 730.1h0M1304.7 727.4h0M1315.9 742.9h0M1309.9 718.5h0M1324.5 728.6h0M1306.3 746.2h0M1324.1 741h0M1330.2 737.4h0M1319.7 768.4h0M1335.6 732.2h0M1323.5 719.5h0M1342.5 733.8h0M1353.4 764.4h0M1311 744.2h0M1338.8 702.6h0M1310.6 692.1h0M1348.2 753.2h0M1316.9 718.9h0M1330 739h0M1316.1 723.6h0M1310.7 738.9h0M1352.8 728.2h0M1301.4 761h0M1341.3 771.6h0M1313 735.3h0M1320.4 732.6h0M1350 731.5h0M1331.9 748.8h0M1355.3 758.8h0M1346 726.5h0M1323.7 770.4h0M1320.5 716.8h0M1344.4 745.1h0M1332.2 753.1h0M1345.8 762.9h0M1355.2 727.2h0M1330.5 761.5h0M1319.4 723h0M1305.2 724.3h0M1306 752.9h0M1354.9 751.8h0M1332.7 733.3h0M1304 718.9h0M1344.3 758.2h0M1307.5 780.4h0M1318.9 758.3h0M1313.8 731.8h0M1308.6 743.3h0M1328.3 723.7h0M1343.2 728.4h0M1313.1 721.3h0M1303.2 742h0M1332.7 743h0M1310.1 751.9h0M1308.6 732.9h0M1318.1 764.7h0M1301.4 763h0M1347.6 748.9h0M1309.1 709.6h0M1349.7 739.2h0M1330.4 759.1h0M1345 731.2h0M1301.5 725.3h0M1346.2 726.8h0M1322.8 742.2h0M1353.9 726.3h0M1346.6 709.6h0M1336.1 735.4h0M1332.1 708.5h0M1337.6 730h0M1306.2 740.5h0M1318.5 743.8h0M1309 741h0M1350.3 773.2h0M1315.1 725.4h0M1333.3 734.6h0M1353.3 724.2h0M1323.7 742.4h0M1313.4 723.4h0M1341.5 743.2h0M1329.6 727.7h0M1316.6 746h0M1353.6 775.7h0M1345.5 762.4h0M1328.5 759.4h0M1332.9 744.3h0M1324.1 722.9h0M1354 766.5h0M1349.9 747h0M1348.3 738.4h0M1307.7 747.9h0M1343.1 734.6h0M1322.9 734.4h0M1305.6 749.3h0M1353.8 723.8h0M1355.7 761.3h0M1345.1 713.6h0M1326.2 743.7h0M1325.9 749.1h0M1355.2 767.9h0M1335.4 727.8h0M1345.1 688.2h0M1346 754.4h0M1301.1 729h0M1306.5 756.7h0M1322.3 739.6h0M1355.7 752.1h0M1307.5 725.3h0M1341.9 713.5h0M1350.5 742.6h0M1322 705.6h0M1347.3 731.5h0M1348.8 733.6h0M1331.2 786.6h0M1316.8 758.5h0M1316.2 740.8h0M1345.9 710.3h0M1310.8 716.9h0M1302.7 736.4h0M1334.3 742.5h0M1313.8 748.5h0M1346.2 737.5h0M1321.4 735.4h0M1307 743.8h0M1352.1 715.5h0M1340.8 768h0M1317.5 734.3h0M1304.9 735.7h0M1331.5 737.6h0M1314.6 736.5h0M1350.9 729.6h0M1332.3 765.8h0M1351.6 743.9h0M1325 748.9h0M1308.1 740.5h0M1349.8 756.6h0M1335.8 772.2h0M1327.8 739.8h0M1342.4 738h0M1315.2 763.2h0M1322.1 747.6h0M1316.5 738.9h0M1303.4 741.5h0M1356.4 744.7h0M1306.4 761.1h0M1324.9 739.8h0M1325.3 734.8h0M1313.9 721.8h0M1349 744.6h0M1344.3 721.3h0M1312 727.8h0M1308.5 731.7h0M1319.7 718.3h0M1319.9 746.1h0M1316.5 743.6h0M1333.1 749h0M1310.3 764.2h0M1315.8 728.5h0M1344.5 745.8h0M1308.3 726.6h0M1348.2 752.1h0M1318.3 779.7h0M1306.3 754.2h0M1308.9 745.6h0M1331.7 723.4h0" stroke="#f79646" stroke-width="6.2" stroke-linecap="round" fill="none"/>
<line x1="1326.3" y1="634" x2="1326.3" y2="668.4" stroke="#f79646" stroke-width="3" stroke-dasharray="6 3.5"/>
<line x1="1300.8" y1="730.8" x2="1354" y2="751.5" stroke="#ee1111" stroke-width="2"/>
<text x="1410.3" y="741" font-size="22.3" fill="#000" text-anchor="middle">slope:</text>
<text x="1359" y="769" font-size="22.7" fill="#000" text-anchor="start">-0.63 Hz/s</text>
<path d="M1595.4 782h0M1553.9 669.7h0M1564.4 725h0M1598.3 737.2h0M1562.9 746.5h0M1589.6 750.4h0M1593.4 748h0M1604.3 736.9h0M1556.4 704.6h0M1605.8 725.2h0M1562.4 737.9h0M1592.2 769.3h0M1557.6 690.8h0M1607.5 738.8h0M1601.8 734.1h0M1590.8 716.9h0M1583.1 723.4h0M1587.8 729h0M1564.2 738h0M1602.4 738.4h0M1573.9 773.6h0M1554.7 688h0M1586.6 729h0M1560.7 728.6h0M1578.6 738.7h0M1560.6 701.9h0M1595.3 751.6h0M1573 735.9h0M1594.9 734.2h0M1585.2 705.5h0M1568.6 705.2h0M1593.5 712.8h0M1607.8 754.4h0M1597.2 759.4h0M1604.7 680.8h0M1582.6 710.2h0M1587.1 736.3h0M1605.6 733.5h0M1565.2 743.1h0M1603 727.2h0M1567.8 739.3h0M1567.8 716.9h0M1554.6 732h0M1598.3 782h0M1578.2 730.4h0M1597.8 735.9h0M1568.5 715.3h0M1597.7 713.3h0M1602.9 719.1h0M1567.9 704.7h0M1602.7 757.4h0M1592.2 676.6h0M1569.9 727.2h0M1564.3 727.1h0M1561.7 766.7h0M1595.6 751.4h0M1604.4 732.8h0M1556.8 730.6h0M1571.3 711.5h0M1597.8 741.4h0M1600.8 713h0M1556 729h0M1571.8 716h0M1558.3 714.1h0M1574.2 742.1h0M1584.3 712.4h0M1601.2 760.1h0M1556.3 746.7h0M1603.1 727.9h0M1581.4 727.6h0M1607.9 736.4h0M1599.5 719.2h0M1586.8 713.4h0M1569.8 740h0M1566.9 739.3h0M1571.9 724.9h0M1552.7 711.8h0M1559 709.8h0M1591.7 763.9h0M1578.1 756.7h0M1558.3 724h0M1560.9 713.8h0M1573.2 743.3h0M1560.3 727.2h0M1584.6 723.7h0M1559.5 734.9h0M1584.5 728.5h0M1572 735.6h0M1577.7 732.4h0M1588.1 755.9h0M1608.8 669.7h0M1606.2 712.5h0M1593.7 735.8h0M1568.8 775.6h0M1587.4 730.6h0M1568.6 741h0M1589.1 717.2h0M1601 761.5h0M1557.5 717h0M1563.9 709.6h0M1589.9 729.7h0M1575.9 701.9h0M1581.4 744.3h0M1598.8 719.2h0M1570.2 724.4h0M1593.5 742.8h0M1608.1 726.4h0M1559.3 707.8h0M1596.1 725.4h0M1598.1 728h0M1597.3 748.9h0M1565.4 754.4h0M1563.3 735.9h0M1588.1 730.5h0M1576.3 707.5h0M1584.7 703h0M1587.3 685.4h0M1570.2 708.6h0M1554.9 712.8h0M1585.8 765.8h0M1559.7 710.4h0M1555 702.3h0M1561.4 747.6h0M1596.1 746.8h0M1582.3 727.8h0M1582.6 731.4h0M1583.3 700.8h0M1564.3 717.8h0M1605.7 707.3h0M1570.3 743.9h0M1588.5 775.4h0M1597.7 730.9h0M1566.1 699.9h0M1600.7 743.1h0M1599.1 701.6h0M1573.8 719.2h0M1605.5 717.6h0M1575.5 729.4h0M1565.1 743.5h0M1582.8 771.5h0M1567.2 692.8h0M1591.9 718.4h0M1572.4 745.8h0M1565.2 712.5h0M1576.8 721.5h0M1571.5 768.8h0M1605.2 711.1h0M1560.5 741.1h0M1559.8 732.4h0M1565.2 730.7h0M1600.6 737.7h0M1555.9 729.4h0M1562.5 732.5h0M1587.1 736.6h0M1585.5 726.8h0M1561 751.2h0M1584.6 740.6h0M1582.9 719.8h0M1564.5 728.9h0M1607 766.1h0M1562.4 713.3h0M1601.2 716.1h0M1602.7 723.3h0M1566.7 725.8h0M1606.7 687h0M1575.1 723.2h0M1573 740.6h0M1578.5 731.2h0M1561.2 741.4h0M1586.1 741.8h0M1569.2 750.5h0M1559.8 692.5h0M1607.3 716.9h0M1578 768.8h0M1595.3 717.7h0M1600 717.9h0M1568 745h0M1592.7 718.6h0M1595.1 755.4h0M1607.4 764.6h0M1603.2 747.3h0M1591.2 719.2h0M1556.7 753.4h0M1555.8 722.8h0M1585.1 735.1h0M1569.6 735.5h0M1571.3 740.1h0M1582.3 736.8h0M1605.2 768h0M1554.2 750.5h0M1605.3 721.7h0M1564.9 694.7h0M1555.1 715.1h0M1608.1 757.9h0M1607.3 743.9h0M1586.5 706.1h0M1579.1 736.6h0M1561.3 729.5h0M1559.4 771.4h0M1567.2 728.7h0M1564.5 742.1h0M1579.8 757h0M1598.8 753.2h0M1555.6 757.5h0M1605.3 733.5h0M1563.6 746.6h0M1552.6 712.3h0M1558.8 747.2h0M1559 754.2h0M1555.8 701.9h0M1589.6 733.5h0M1564.6 751.5h0M1582.4 693h0M1585 726.6h0M1587.8 719.7h0M1584.5 749.4h0M1601.1 742.6h0M1591.7 707.7h0M1608.8 720.8h0M1571.7 716.6h0" stroke="#cc9900" stroke-width="6.2" stroke-linecap="round" fill="none"/>
<line x1="1582" y1="634" x2="1582" y2="668.4" stroke="#cc9900" stroke-width="3" stroke-dasharray="6 3.5"/>
<line x1="1553.7" y1="722.6" x2="1606.3" y2="731.1" stroke="#ee1111" stroke-width="2"/>
<text x="1662.8" y="741" font-size="22.3" fill="#000" text-anchor="middle">slope:</text>
<text x="1611.5" y="769" font-size="22.7" fill="#000" text-anchor="start">-0.26 Hz/s</text>
<path d="M1841.5 793.9h0M1853.5 663h0M1823.5 715.9h0M1845.6 733.6h0M1858.5 745.9h0M1853.4 709h0M1822.3 707.7h0M1844.9 726.9h0M1842 711.6h0M1805 731.8h0M1850.4 751h0M1811.7 718.3h0M1807.3 752.2h0M1823.6 746.8h0M1810.1 719.8h0M1823.5 722.4h0M1824.9 672.5h0M1819.6 732.9h0M1823.8 742.3h0M1819 705.2h0M1852.4 694.3h0M1826.7 737.9h0M1829.6 736.5h0M1816.2 713.1h0M1815.8 712.3h0M1807.5 729.1h0M1856.6 728.5h0M1813.6 721.5h0M1820.5 694.6h0M1836.1 671.6h0M1840 709.1h0M1819 717.7h0M1849 738.8h0M1815.7 745.7h0M1839.1 729.3h0M1858.1 729.9h0M1829.8 716.5h0M1822.7 759.6h0M1843.3 746.6h0M1836.5 735.8h0M1858.9 735.8h0M1820.6 732.5h0M1834 698.4h0M1820.5 742.4h0M1834.2 738.4h0M1805.9 729.8h0M1806.8 709.1h0M1838.5 723h0M1858.4 732h0M1832.3 723.5h0M1853.9 743.4h0M1843.1 732.7h0M1810.5 710.9h0M1821.4 760.5h0M1824.9 755.5h0M1858.5 696.4h0M1822.7 748.4h0M1843.2 729.5h0M1841.2 728.2h0M1817.3 711h0M1843.7 758.8h0M1851.5 718.6h0M1858.5 713.3h0M1831.3 718.2h0M1830.1 741h0M1842.9 730.6h0M1853.2 742.5h0M1825.6 699.4h0M1811.9 731h0M1843.3 729h0M1856.7 714.6h0M1852.3 699.4h0M1857.2 741.2h0M1851.1 715h0M1822.4 769.2h0M1859 704.4h0M1805.9 690.4h0M1853.4 718.3h0M1826.7 716.1h0M1824.5 686.8h0M1809.1 743.1h0M1819.7 731.7h0M1831.4 717.5h0M1833.9 731.8h0M1842 730.1h0M1851.8 715.8h0M1845.4 707.2h0M1840 772.3h0M1832.3 726.4h0M1859.8 728.3h0M1841.5 744.8h0M1806.6 738.7h0M1849.3 707.7h0M1852.2 727.5h0M1860.8 738h0M1819.6 736.7h0M1821.8 732.2h0M1819.4 721h0M1841.4 722.5h0M1854.4 724.9h0M1832.7 733.3h0M1812.4 709.7h0M1858.1 675.7h0M1849.8 711.9h0M1843.3 738.5h0M1830.7 743h0M1811.5 736.1h0M1827.8 725.2h0M1807.7 744.6h0M1808.6 739.1h0M1842.7 729.4h0M1836.3 718.1h0M1847 721.7h0M1843.8 695.8h0M1840.5 692.1h0M1831.8 746.9h0M1849 743.3h0M1815.9 750.1h0M1819.7 699.4h0M1826 714.2h0M1805.6 733.9h0M1849.8 708.1h0M1824.8 754.2h0M1840.7 724.6h0M1811.6 709.9h0M1841.2 738h0M1859.7 719.3h0M1836.7 734.9h0M1816.6 700.8h0M1824.1 676.2h0M1820.9 735.2h0M1853.1 704.7h0M1847.9 727.2h0M1809.2 718.8h0M1820.8 727.4h0M1845 732.7h0M1850.5 714.5h0M1829.3 706.8h0M1856.3 726.3h0M1852.8 747.9h0M1853.4 710.5h0M1808.1 755.4h0M1854.3 713.9h0M1858.9 710.2h0M1830.5 727.5h0M1807.5 741.7h0M1825.1 736.2h0M1830.1 718.8h0M1830.7 728.1h0M1817.8 768.8h0M1851.4 704.4h0M1804.9 738h0M1854.7 725.4h0M1834.1 716.3h0M1836.1 765.7h0M1858.1 717.4h0M1827.1 736.6h0M1836.9 726.3h0M1855.2 704.9h0M1822.5 734.2h0M1819.7 705.3h0M1810.8 733.6h0M1815.2 721.1h0M1827.1 748.2h0M1856.4 738.1h0M1808.5 737.5h0M1810.3 733.4h0M1858.5 724.3h0M1805.9 728.7h0M1829.4 697.4h0M1820.2 723.4h0M1847.3 753.6h0M1856.4 755.4h0M1819.8 690h0M1822.5 754.4h0M1855.3 727.3h0M1836.6 713.1h0M1822 722.9h0M1836.7 721.8h0M1828.7 761.9h0M1813.4 738.9h0M1853.8 749h0M1816.2 737.5h0M1859.9 736.1h0M1834 748.1h0M1810.1 729.6h0M1854 719h0M1825.1 696.1h0M1818.2 682.6h0M1842.3 730h0M1815.4 728.6h0M1814.9 730.4h0M1815.6 719.3h0M1845.1 730.7h0M1845.8 725.3h0M1815.7 711.1h0M1818.4 768.4h0M1861.4 722.1h0M1807 712.3h0M1841.1 690h0M1856.2 715.3h0M1830 711.7h0M1816 720.2h0M1826.5 735.1h0M1827.9 723h0M1828.1 746.8h0M1818.9 719.7h0M1860.8 670.6h0M1810.3 709.6h0M1830.5 727.7h0M1834.6 733.4h0M1832.2 725.9h0M1835.3 732h0M1812.9 714h0M1832.4 710.8h0M1833.9 725.8h0M1848.4 738.8h0M1815.9 740.4h0M1860.6 709.8h0M1818.5 743.9h0" stroke="#66d19e" stroke-width="6.2" stroke-linecap="round" fill="none"/>
<line x1="1831.3" y1="634" x2="1831.3" y2="668.4" stroke="#66d19e" stroke-width="3" stroke-dasharray="6 3.5"/>
<line x1="1806.3" y1="721.8" x2="1860.8" y2="732.3" stroke="#ee1111" stroke-width="2"/>
<text x="1916.6" y="741" font-size="22.3" fill="#000" text-anchor="middle">slope:</text>
<text x="1865.6" y="769" font-size="22.7" fill="#000" text-anchor="start">-0.34 Hz/s</text>
<path d="M1949.7 594 V639.8 H1909.3" fill="none" stroke="#595959" stroke-width="3"/>
<text x="1929.7" y="664.8" font-size="22.8" fill="#595959" text-anchor="middle">20 s</text>
<text x="1973.3" y="615.9" font-size="22.8" fill="#595959" text-anchor="middle" transform="rotate(-90 1973.3 615.9)">2 mV</text>
<rect x="1295.9" y="896" width="65.5" height="87.4" fill="#fdd5b9"/>
<rect x="1548.9" y="893.7" width="65.4" height="88.1" fill="#feeaae"/>
<rect x="1801" y="893" width="68.3" height="88" fill="#dcf8ac"/>
<line x1="1260.8" y1="934" x2="1955" y2="934" stroke="#f04444" stroke-width="1.7"/>
<path d="M1298 918 1299 921.8 1300 921.6 1301 921.8 1302 922.2 1303 921.3 1304 921.2 1305 921.6 1306 923 1307 922.5 1308 921 1309 921.1 1310 915.5 1311 921.5 1312 924 1313 922.2 1314 915 1315 922.8 1316 923.3 1317 921.7 1318 924.5 1319 923.9 1320 922.7 1321 923 1322 920.6 1323 921.2 1324 924.2 1325 923.3 1326 921.3 1327 922.1 1328 924.4 1329 924.2 1330 922.1 1331 922.5 1332 922.5 1333 923.5 1334 924.5 1335 922.2 1336 921.7 1337 911.4 1338 921 1339 923.4 1340 923.9 1341 920.7 1342 922.4 1343 923 1344 920.5 1345 924 1346 923.8 1347 917.1 1348 921.7 1349 922.1 1350 921.4 1351 922.9 1352 920.4 1353 921.9 1354 920.4 1355 918.3 1356 921.1 1357 920.8 1358 922.8 1359 923.5 1360 924.2 1361 921 1362 923.9 1363 924.5 1364 921.6 1365 915.2 1366 923.5 1367 922.3 1368 924.2 1369 921.1 1370 924 1371 922.6 1372 924 1373 923 1374 921.6 1375 922.5 1376 921.8 1377 923.4 1378 920.9 1379 921.4 1380 920.4 1381 921.1 1382 924.2 1383 922.1 1384 921.1 1385 924.1 1386 922.8 1387 920.7 1388 923.2 1389 922.7 1390 920.5 1391 920.3 1392 920.9 1393 921.6 1394 923.3 1395 920.6 1396 920.8 1397 920.3 1398 920.7 1399 921.2 1400 917.6 1401 914.6 1402 921.2 1403 924.1 1404 920.9 1405 923.4 1406 915.6 1407 923.9 1408 922.6 1409 924 1410 921.6 1411 922.4 1412 924 1413 922 1414 923.7 1415 922.6 1416 921.6 1417 921.2 1418 923 1419 920.6 1420 923.2 1421 919.5 1422 923.9 1423 920.9 1424 924.1 1425 921.2 1426 918 1426 945.9 1425 946.9 1424 944.1 1423 947.4 1422 953 1421 944.8 1420 946 1419 948.1 1418 945.5 1417 947.6 1416 947.4 1415 945.4 1414 950.4 1413 947 1412 944 1411 946 1410 947.4 1409 945.4 1408 946.6 1407 943.8 1406 944.3 1405 945.5 1404 946.9 1403 944.4 1402 952.4 1401 945.7 1400 943.1 1399 946.6 1398 946.7 1397 948.9 1396 947.3 1395 948.8 1394 945.1 1393 945.8 1392 948.1 1391 949 1390 948.9 1389 945.6 1388 944.6 1387 948.7 1386 946.4 1385 943.6 1384 947.5 1383 946.4 1382 944.5 1381 948.6 1380 949.1 1379 946.1 1378 946.8 1377 945.7 1376 947.6 1375 945.7 1374 946.5 1373 945.2 1372 944.4 1371 945.7 1370 944.5 1369 948.2 1368 945 1367 956.7 1366 950.3 1365 948.8 1364 946.7 1363 950.2 1362 944.2 1361 947.1 1360 943.5 1359 944.4 1358 946.1 1357 948.1 1356 946.8 1355 946.6 1354 948.5 1353 945.8 1352 956.9 1351 945.2 1350 946.3 1349 945.8 1348 946 1347 945.3 1346 944.4 1345 943.9 1344 947.4 1343 944.7 1342 945.8 1341 948.6 1340 943.7 1339 945.2 1338 948.5 1337 947.3 1336 947.4 1335 945.5 1334 944.6 1333 944.7 1332 947.1 1331 946.7 1330 957.5 1329 944.5 1328 944 1327 946.9 1326 947.9 1325 945.4 1324 945.1 1323 948 1322 948.6 1321 944.6 1320 945.6 1319 944.6 1318 943.2 1317 946.7 1316 945.5 1315 950.7 1314 945.9 1313 947.1 1312 943.7 1311 947.8 1310 943.9 1309 947.3 1308 948.2 1307 945.4 1306 945.5 1305 947.6 1304 952 1303 947 1302 945.4 1301 947.6 1300 946.9 1299 948 1298 950.6Z" fill="#f04444" stroke="#f04444" stroke-width="0.6"/>
<path d="M1548.5 921.4 1549.5 919.2 1550.5 919.8 1551.5 922.7 1552.5 920.7 1553.5 922.5 1554.5 923.6 1555.5 914.8 1556.5 923.1 1557.5 920.9 1558.5 920.9 1559.5 924.2 1560.5 923.8 1561.5 922.7 1562.5 921.5 1563.5 922.5 1564.5 920.4 1565.5 921.4 1566.5 920.4 1567.5 921.3 1568.5 922.5 1569.5 922.8 1570.5 921.1 1571.5 924.4 1572.5 921.2 1573.5 924.4 1574.5 924.6 1575.5 920.7 1576.5 923.1 1577.5 922.9 1578.5 924.3 1579.5 920.3 1580.5 922.1 1581.5 922.9 1582.5 923 1583.5 921.8 1584.5 921.3 1585.5 923.6 1586.5 921.4 1587.5 923.6 1588.5 923.4 1589.5 922.7 1590.5 921.1 1591.5 922.2 1592.5 911.1 1593.5 924.4 1594.5 918 1595.5 924.4 1596.5 918.7 1597.5 924.6 1598.5 922.7 1599.5 923.2 1600.5 923.6 1601.5 916.6 1602.5 921 1603.5 923.6 1604.5 924.6 1605.5 921.2 1606.5 922.6 1607.5 921.1 1608.5 923.7 1609.5 920.5 1610.5 921.5 1611.5 922 1612.5 923.9 1613.5 920.3 1614.5 920.8 1615.5 924.4 1616.5 921 1617.5 920.8 1618.5 922.9 1619.5 921.3 1620.5 924.6 1621.5 924.2 1622.5 924 1623.5 920.9 1624.5 921.4 1625.5 921.4 1626.5 924.2 1627.5 924.2 1628.5 923 1629.5 923.2 1630.5 922 1631.5 923 1632.5 921.6 1633.5 924.2 1634.5 923.7 1635.5 923.5 1636.5 921.8 1637.5 923.3 1638.5 920.3 1639.5 924 1640.5 920.9 1641.5 923.5 1642.5 921.4 1643.5 921.3 1644.5 924.1 1645.5 920.9 1646.5 923.6 1647.5 923.1 1648.5 923.9 1649.5 922.4 1650.5 922.7 1651.5 922.5 1652.5 919.8 1653.5 923.2 1654.5 922.3 1655.5 921.4 1656.5 923.1 1657.5 921.9 1658.5 920.6 1659.5 923.4 1660.5 924 1661.5 923.2 1662.5 922 1663.5 923.8 1664.5 920.7 1665.5 921.7 1666.5 921.4 1667.5 922.4 1668.5 923.1 1669.5 924.2 1670.5 924.5 1671.5 920.9 1672.5 923.4 1673.5 920.6 1674.5 920.5 1675.5 923.2 1676.5 924.5 1677.5 922.7 1677.5 946.9 1676.5 943.8 1675.5 946.3 1674.5 948.5 1673.5 947.2 1672.5 944.3 1671.5 947.1 1670.5 943.6 1669.5 944.6 1668.5 945.2 1667.5 947.1 1666.5 947 1665.5 946.4 1664.5 948.6 1663.5 950.4 1662.5 946.5 1661.5 945.8 1660.5 944.8 1659.5 944.2 1658.5 960.8 1657.5 947.3 1656.5 944.4 1655.5 947.2 1654.5 945.6 1653.5 945.6 1652.5 944.3 1651.5 947.1 1650.5 945 1649.5 946.2 1648.5 945.5 1647.5 945.5 1646.5 945.4 1645.5 946.9 1644.5 945.2 1643.5 948 1642.5 946.7 1641.5 944.3 1640.5 948 1639.5 944.1 1638.5 949.7 1637.5 945.8 1636.5 946.8 1635.5 944.1 1634.5 944.1 1633.5 944.8 1632.5 946.6 1631.5 945.3 1630.5 947.7 1629.5 945.5 1628.5 946.1 1627.5 953.5 1626.5 945.1 1625.5 947.8 1624.5 948.2 1623.5 948.9 1622.5 945.5 1621.5 945 1620.5 944.5 1619.5 948.6 1618.5 946.1 1617.5 947.2 1616.5 946.4 1615.5 944.3 1614.5 948 1613.5 948.6 1612.5 947.3 1611.5 945.7 1610.5 947.7 1609.5 943.7 1608.5 944.7 1607.5 947.1 1606.5 946.2 1605.5 948.3 1604.5 944.5 1603.5 945.1 1602.5 943.3 1601.5 946.2 1600.5 950.8 1599.5 944.8 1598.5 946.5 1597.5 943.9 1596.5 945.5 1595.5 944.5 1594.5 945.8 1593.5 943.5 1592.5 946 1591.5 945.5 1590.5 948.6 1589.5 945.8 1588.5 945.3 1587.5 944.6 1586.5 947.5 1585.5 944.6 1584.5 947.4 1583.5 946.4 1582.5 951.7 1581.5 946.6 1580.5 947.7 1579.5 947.9 1578.5 943.9 1577.5 945.2 1576.5 946.2 1575.5 948.4 1574.5 948.9 1573.5 943.6 1572.5 948.3 1571.5 943.3 1570.5 954.1 1569.5 946.4 1568.5 947.2 1567.5 957.3 1566.5 949.6 1565.5 947.1 1564.5 949 1563.5 946.6 1562.5 947.4 1561.5 950.9 1560.5 953.8 1559.5 944.1 1558.5 947.3 1557.5 947.8 1556.5 946.1 1555.5 947.6 1554.5 945.7 1553.5 946.3 1552.5 946.8 1551.5 945.8 1550.5 948.6 1549.5 950.5 1548.5 946.4Z" fill="#f04444" stroke="#f04444" stroke-width="0.6"/>
<path d="M1801.4 919.3 1802.4 920.9 1803.4 916.9 1804.4 922.5 1805.4 923.4 1806.4 923.7 1807.4 924.6 1808.4 924 1809.4 920.3 1810.4 921.9 1811.4 924 1812.4 921.7 1813.4 922.8 1814.4 921.8 1815.4 924.2 1816.4 913.8 1817.4 921.2 1818.4 923.2 1819.4 920.7 1820.4 924 1821.4 914.2 1822.4 923.9 1823.4 922.3 1824.4 921.4 1825.4 921.3 1826.4 923.7 1827.4 923.9 1828.4 920.3 1829.4 922.9 1830.4 923.8 1831.4 921.4 1832.4 912.5 1833.4 923.5 1834.4 922.2 1835.4 923.2 1836.4 924.6 1837.4 923.9 1838.4 920.5 1839.4 923.8 1840.4 923.7 1841.4 920.9 1842.4 923.5 1843.4 920.6 1844.4 921.9 1845.4 921 1846.4 923.2 1847.4 923.9 1848.4 920.4 1849.4 924.1 1850.4 920.8 1851.4 922.7 1852.4 922.9 1853.4 922.6 1854.4 923.1 1855.4 921.5 1856.4 921.3 1857.4 910.5 1858.4 916.2 1859.4 922.2 1860.4 912.6 1861.4 920.8 1862.4 923.9 1863.4 920.4 1864.4 922 1865.4 921.1 1866.4 922 1867.4 924.1 1868.4 916.2 1869.4 921.6 1870.4 921.9 1871.4 923.7 1872.4 924.2 1873.4 920.4 1874.4 921.9 1875.4 909.4 1876.4 920.7 1877.4 924.1 1878.4 922.3 1879.4 922.7 1880.4 923.8 1881.4 920.8 1882.4 920.9 1883.4 922.2 1884.4 921.5 1885.4 923 1886.4 921.2 1887.4 924.5 1888.4 923.7 1889.4 923.6 1890.4 923.8 1891.4 921.9 1892.4 920.8 1893.4 923.6 1894.4 921.3 1895.4 921.8 1896.4 921.5 1897.4 924.2 1898.4 922.7 1899.4 922.8 1900.4 921.8 1901.4 920.7 1902.4 921.8 1903.4 920.9 1904.4 921.7 1905.4 921.1 1906.4 923.7 1907.4 921.9 1908.4 924.1 1909.4 923.4 1910.4 921.5 1911.4 924 1912.4 922.2 1913.4 921.2 1914.4 921 1915.4 922.6 1916.4 923.3 1917.4 923.3 1918.4 920.6 1919.4 920.3 1920.4 921.2 1921.4 922.5 1922.4 921 1923.4 920.9 1924.4 923.2 1925.4 920.5 1926.4 914.1 1927.4 921 1928.4 921.1 1929.4 921.7 1929.4 947.7 1928.4 947 1927.4 948.1 1926.4 944 1925.4 947.7 1924.4 945.1 1923.4 949 1922.4 946.7 1921.4 945.9 1920.4 955 1919.4 948.7 1918.4 948.1 1917.4 945 1916.4 944.8 1915.4 945.7 1914.4 946.9 1913.4 948.1 1912.4 946.9 1911.4 944.1 1910.4 946.3 1909.4 945.2 1908.4 945.3 1907.4 947.3 1906.4 945.3 1905.4 947.6 1904.4 948.1 1903.4 948.1 1902.4 947.5 1901.4 947.9 1900.4 945.7 1899.4 944.8 1898.4 947 1897.4 944.3 1896.4 946.3 1895.4 947.3 1894.4 947.5 1893.4 944.8 1892.4 949 1891.4 946 1890.4 944.9 1889.4 944 1888.4 944.9 1887.4 943.4 1886.4 947.3 1885.4 945.3 1884.4 947 1883.4 946.5 1882.4 948.9 1881.4 948.4 1880.4 944.3 1879.4 944.9 1878.4 947.3 1877.4 943.5 1876.4 946.8 1875.4 949.7 1874.4 954.3 1873.4 947.2 1872.4 945.2 1871.4 944.1 1870.4 945.6 1869.4 946.2 1868.4 946 1867.4 945 1866.4 946.5 1865.4 947.5 1864.4 947.5 1863.4 949.5 1862.4 945.1 1861.4 947.5 1860.4 946 1859.4 945.3 1858.4 948.3 1857.4 947 1856.4 946.7 1855.4 946.9 1854.4 945.2 1853.4 946.3 1852.4 945.3 1851.4 946.1 1850.4 948.1 1849.4 944.1 1848.4 948 1847.4 945.6 1846.4 946.3 1845.4 954.5 1844.4 945.8 1843.4 947 1842.4 945.3 1841.4 954.4 1840.4 944.6 1839.4 945.1 1838.4 947 1837.4 945.4 1836.4 943.3 1835.4 945.4 1834.4 946.2 1833.4 944.9 1832.4 945.9 1831.4 947.4 1830.4 944.2 1829.4 946.5 1828.4 947.4 1827.4 944 1826.4 945.3 1825.4 947.2 1824.4 946.6 1823.4 947.1 1822.4 943.9 1821.4 946.5 1820.4 947.1 1819.4 947 1818.4 945.9 1817.4 948.3 1816.4 945.8 1815.4 944.7 1814.4 948 1813.4 945.9 1812.4 945.9 1811.4 945.1 1810.4 947.7 1809.4 947.6 1808.4 945 1807.4 943.6 1806.4 945.5 1805.4 944.7 1804.4 946 1803.4 952.8 1802.4 948.8 1801.4 949.4Z" fill="#f04444" stroke="#f04444" stroke-width="0.6"/>
<text x="1316.9" y="979" font-size="22.2" fill="#000" text-anchor="start">Flexion 1</text>
<text x="1576" y="979" font-size="22.2" fill="#000" text-anchor="start">Flexion 2</text>
<text x="1825.4" y="979" font-size="22.2" fill="#000" text-anchor="start">Flexion 3</text>
<text x="1253.5" y="1160.4" font-size="18.8" fill="#111" text-anchor="end">50</text>
<text x="1253.5" y="1094.5" font-size="18.8" fill="#111" text-anchor="end">100</text>
<text x="1253.5" y="1028.6" font-size="18.8" fill="#111" text-anchor="end">150</text>
<text x="1259.7" y="1206.8" font-size="18.8" fill="#111" text-anchor="middle">0</text>
<text x="1470.1" y="1206.8" font-size="18.8" fill="#111" text-anchor="middle">100</text>
<text x="1680.5" y="1206.8" font-size="18.8" fill="#111" text-anchor="middle">200</text>
<text x="1890.9" y="1206.8" font-size="18.8" fill="#111" text-anchor="middle">300</text>
<path d="M1259.3 989V1186.3H1955 M1259.3 1153.9h-4.5 M1259.3 1088h-4.5 M1259.3 1022.1h-4.5 M1259.3 1121h-2.5 M1259.3 1055h-2.5 M1259.3 1186.3v4.5 M1469.7 1186.3v4.5 M1680.1 1186.3v4.5 M1890.5 1186.3v4.5 M1364.5 1186.3v2.5 M1574.9 1186.3v2.5 M1785.3 1186.3v2.5" stroke="#333" stroke-width="1.3" fill="none"/>
<text x="1216" y="1099.7" font-size="24" fill="#111" text-anchor="middle" transform="rotate(-90 1216 1099.7)">Median frequency (Hz)</text>
<text x="1607.3" y="1233.6" font-size="24.6" fill="#111" text-anchor="middle">Time (s)</text>
<path d="M1321 1124.9h0M1343.5 1011.6h0M1337.8 1051.8h0M1340 1086.5h0M1324.3 1097.3h0M1356.3 1092.1h0M1356.4 1064.2h0M1353.5 1084.2h0M1310.6 1063.3h0M1338.6 1093.2h0M1337.7 1060.1h0M1334 1072.7h0M1332.3 1073.1h0M1336.9 1017.3h0M1313.3 1097.9h0M1326.1 1060.8h0M1304.1 1102.2h0M1347.4 1081.9h0M1300.8 1093.7h0M1301 1085.2h0M1352.9 1074.1h0M1354.8 1096.6h0M1348.5 1065.2h0M1338.9 1090.9h0M1308.6 1060.4h0M1351.3 1086.6h0M1328.4 1078.4h0M1339.5 1074.7h0M1301 1078.3h0M1306.4 1057.8h0M1339.2 1023.1h0M1353.6 1074.9h0M1313.6 1085.2h0M1310.7 1074.2h0M1315.2 1067.3h0M1331.8 1083.9h0M1310.2 1030.2h0M1304.4 1094h0M1329.9 1069.1h0M1335.3 1096.2h0M1328.5 1059.8h0M1350.6 1047.7h0M1314.7 1083.3h0M1326.9 1070.6h0M1335.6 1086.1h0M1347.6 1047.6h0M1355.1 1063.8h0M1334.4 1073.8h0M1343.2 1078h0M1336.5 1060.4h0M1306 1083.9h0M1345.9 1072.4h0M1307.1 1101.8h0M1334.3 1075.9h0M1320.5 1065.7h0M1350.3 1093.6h0M1355.9 1060.7h0M1315.2 1092.9h0M1352.4 1090.8h0M1351.7 1086.1h0M1312.7 1065.8h0M1326.4 1075.7h0M1344.7 1051.4h0M1354.5 1123.4h0M1316 1081.6h0M1355.1 1050.4h0M1340.3 1087.1h0M1321.4 1049.2h0M1301.5 1079.1h0M1313.8 1028h0M1300.5 1111.7h0M1305.9 1052.2h0M1323 1047.6h0M1344.1 1052.7h0M1347.9 1100.9h0M1341.8 1055.4h0M1304.3 1113.4h0M1340.2 1071.7h0M1343.6 1051.8h0M1333.1 1057.7h0M1315.4 1064.7h0M1352.9 1063.4h0M1345.3 1062.7h0M1315.7 1099.2h0M1347.8 1106.4h0M1316.1 1073.3h0M1300.8 1075.8h0M1322.7 1082.8h0M1318 1077.1h0M1315.4 1066.5h0M1322 1078.3h0M1340.7 1091.3h0M1339.5 1071.3h0M1299.8 1075.7h0M1345.3 1081.6h0M1315.8 1069.8h0M1353 1089.1h0M1339.6 1072.1h0M1303.8 1069.1h0M1342.2 1070.5h0M1342.4 1076.9h0M1329.1 1074.8h0M1303.8 1066.4h0M1332.6 1042.6h0M1353.8 1053.3h0M1346.4 1086.3h0M1343 1074h0M1309.7 1118h0M1353.8 1084.7h0M1345.3 1079.7h0M1308.7 1065.4h0M1327.3 1071h0M1334.2 1053.1h0M1341.9 1072.7h0M1354.6 1065.9h0M1314.3 1097.1h0M1325.9 1079.1h0M1335.6 1086.6h0M1318.7 1058.6h0M1309.2 1096.3h0M1310.1 1100.4h0M1313 1095h0M1337 1077.1h0M1355.1 1084h0M1320.4 1064.9h0M1318.7 1036.1h0M1329.7 1079.3h0M1318.1 1096.1h0M1321.5 1074.1h0M1313.9 1062.5h0M1326.9 1043.8h0M1332.5 1084.3h0M1350.3 1038.3h0M1309.7 1070.3h0M1354.1 1079.6h0M1334.1 1070.8h0M1320.5 1073.9h0M1302 1074h0M1328.5 1099.3h0M1308.5 1085.8h0M1323.4 1102.5h0M1306.2 1077.3h0M1350.7 1085.9h0M1356.4 1063.3h0M1351 1077h0M1342.2 1093.4h0M1315.5 1085.9h0M1309.8 1079.2h0M1329 1084.5h0M1339.7 1053.5h0M1299.9 1091.7h0M1330.6 1092.8h0M1318.1 1076.1h0M1316.4 1095.1h0M1352.6 1072.3h0M1336.4 1082h0M1300.4 1074.9h0M1330.1 1078.7h0M1348.8 1069.1h0M1352 1083.9h0M1306.6 1069.6h0M1341.5 1087.2h0M1309.8 1092.1h0M1335.2 1071.5h0M1355.8 1058.3h0M1318.1 1087.3h0M1305 1087h0M1309.5 1090.2h0M1309.3 1075.9h0M1311.3 1090.2h0M1309.8 1075.2h0M1315.3 1081.6h0M1332.4 1058h0M1309 1066.7h0M1308 1081.9h0M1318.7 1069.2h0M1300 1059.2h0M1356 1052h0M1325.6 1049h0M1317.1 1087.3h0M1321.3 1068.1h0M1305.9 1074.7h0M1337.3 1042.5h0M1303.6 1051.3h0M1324.9 1086.4h0M1353.8 1082.2h0M1334.8 1083.3h0M1303.1 1092.6h0M1347.5 1075.9h0M1344.2 1089.3h0M1302.5 1098.8h0M1318.6 1085.1h0M1349.4 1086.4h0M1334.3 1111.9h0M1313.4 1097.6h0M1350.6 1082.7h0M1311.7 1093.2h0M1314.4 1053.6h0M1346 1057.6h0M1322.7 1088.6h0M1353.4 1063.8h0M1343.7 1074.4h0M1303.9 1112.4h0M1321 1085.3h0M1316.2 1059.4h0M1309.6 1077.1h0M1308.5 1080.4h0M1334.1 1061.3h0M1332 1063.8h0M1333.8 1064.3h0M1343.5 1091.6h0M1301.8 1078.7h0M1315.6 1081.6h0M1331.7 1087.3h0M1343.4 1107.3h0M1339 1089h0M1346 1076.6h0M1349.1 1122.9h0M1324.9 1040.5h0M1313.6 1063.5h0" stroke="#f79646" stroke-width="6.2" stroke-linecap="round" fill="none"/>
<line x1="1326.3" y1="989" x2="1326.3" y2="1021.4" stroke="#f79646" stroke-width="3" stroke-dasharray="6 3.5"/>
<line x1="1301.2" y1="1069" x2="1354.5" y2="1082" stroke="#ee1111" stroke-width="2"/>
<text x="1410.3" y="1096.2" font-size="22.3" fill="#000" text-anchor="middle">slope:</text>
<text x="1359" y="1122.4" font-size="22.7" fill="#000" text-anchor="start">-0.38 Hz/s</text>
<path d="M1599 1121h0M1608.5 1028.7h0M1575.7 1085.7h0M1599.3 1079.8h0M1572.8 1056.4h0M1606 1079.7h0M1571.5 1070.2h0M1587.3 1064.5h0M1591.6 1090.1h0M1579.3 1088.9h0M1571.9 1069.5h0M1570.7 1032.6h0M1554.4 1107.3h0M1568.8 1079.4h0M1600 1067.9h0M1564.4 1062.8h0M1607.9 1057.9h0M1594.2 1073.9h0M1603.6 1044.3h0M1565.2 1089h0M1573.9 1080.6h0M1586.7 1096h0M1577.1 1090.6h0M1580.5 1061.9h0M1575.6 1041.1h0M1561.1 1087.5h0M1586.9 1063.6h0M1573.6 1068.4h0M1577.7 1076.6h0M1585.9 1077.7h0M1579.7 1048.2h0M1585.7 1062.4h0M1570.2 1057.9h0M1596.6 1059.7h0M1584.7 1066.3h0M1555.8 1084.1h0M1590 1071.5h0M1572.9 1063h0M1561.1 1028.7h0M1574.6 1066h0M1571.6 1088.1h0M1554.5 1063.8h0M1596.4 1051.8h0M1600.6 1082.2h0M1582.4 1095.9h0M1590.6 1054h0M1582.8 1101.5h0M1567.9 1091.5h0M1588.7 1073.3h0M1589.3 1044.2h0M1577.3 1080.4h0M1578.2 1081.6h0M1574.6 1083h0M1590.8 1077.5h0M1598.9 1072.6h0M1563.6 1100.3h0M1603.7 1091.4h0M1567.2 1061.8h0M1579.4 1073h0M1604 1052.8h0M1552.3 1063.1h0M1589.3 1073.5h0M1564.1 1078h0M1593 1077.6h0M1592.6 1064.3h0M1565.2 1069.7h0M1600 1081.1h0M1555.5 1054.1h0M1579.2 1078.7h0M1603.8 1063.5h0M1557.1 1080.7h0M1599.2 1055.4h0M1588.5 1079.5h0M1590.5 1072.4h0M1599.5 1082h0M1578.1 1112.8h0M1566.6 1063.8h0M1604.3 1095.6h0M1603.5 1054.6h0M1566.4 1072.2h0M1581.7 1059h0M1601.7 1058.6h0M1577.2 1073.7h0M1569.4 1084.6h0M1605.2 1079.4h0M1573.6 1080.2h0M1569.2 1068.8h0M1603.4 1081.4h0M1572.9 1051.9h0M1581.9 1070.4h0M1605 1075.3h0M1606.9 1052.1h0M1561.8 1058.9h0M1591.4 1073.9h0M1554.9 1080.1h0M1589.5 1073.7h0M1602.7 1061.6h0M1582.3 1062.5h0M1573.7 1060.5h0M1579.3 1047.3h0M1587.7 1054.4h0M1585.6 1112.8h0M1552.8 1053.1h0M1583.4 1074.3h0M1569.1 1065h0M1581.3 1091.7h0M1572.2 1048.4h0M1555.8 1121h0M1601 1086.3h0M1585.8 1080.9h0M1598.7 1073.8h0M1553.8 1107.7h0M1581.6 1069.9h0M1587.3 1065.5h0M1591.2 1068.4h0M1601.3 1121h0M1597 1083.6h0M1570.9 1071.9h0M1580.7 1060.6h0M1598.8 1071h0M1590.9 1048.8h0M1567.7 1077h0M1596.7 1093.6h0M1595 1070.7h0M1576.7 1082.4h0M1578.1 1062.9h0M1591.1 1092.8h0M1573.5 1086.8h0M1567.3 1091.4h0M1571 1079.7h0M1571.7 1097.6h0M1596.4 1053.6h0M1585.6 1074.8h0M1597.5 1089.5h0M1556.7 1080.7h0M1584.8 1076.1h0M1561.1 1040h0M1600.6 1066.7h0M1591.9 1077.8h0M1555.5 1105.1h0M1572.6 1076.9h0M1558.8 1074h0M1581.2 1059.2h0M1560.3 1092.4h0M1557.1 1077.3h0M1552.7 1084h0M1579.2 1077.1h0M1596.7 1069.2h0M1576.4 1087.4h0M1560.9 1078.1h0M1564.8 1091.7h0M1608.6 1093.3h0M1557 1057.2h0M1559.4 1031.4h0M1559.5 1054.1h0M1594 1096.5h0M1552.2 1055.3h0M1555.3 1073.7h0M1601.5 1075.9h0M1566.9 1061.7h0M1603.1 1063.4h0M1580.1 1078.3h0M1554.6 1056.6h0M1590.2 1077.2h0M1607.7 1057.7h0M1556.1 1053.7h0M1587.7 1121h0M1588.5 1063.4h0M1576.7 1054.7h0M1558.2 1075.4h0M1598.8 1077.2h0M1587 1078.9h0M1600.8 1074.2h0M1572.6 1062.7h0M1560.8 1095.6h0M1600.9 1058.6h0M1608.8 1076h0M1598.4 1054.5h0M1603 1078.4h0M1587.7 1044.3h0M1578.6 1065.9h0M1563.5 1077h0M1606.3 1083h0M1565 1095h0M1603.7 1105.7h0M1566.1 1105h0M1564.3 1041.1h0M1600.6 1038h0M1606.1 1039.9h0M1571.7 1093h0M1569.1 1064.9h0M1563.9 1097.6h0M1592.4 1104.9h0M1568.9 1098.8h0M1581 1115.6h0M1560.1 1055h0M1567.9 1085.3h0M1585.5 1071.2h0M1604.8 1080h0M1577 1070.5h0M1600.1 1081.5h0M1601.9 1078.4h0M1572.2 1072.7h0M1570.4 1077.2h0M1574.6 1073.4h0M1572.5 1084.5h0M1574.7 1090.8h0M1577.1 1074.1h0M1595 1102.3h0M1604.6 1055.7h0M1605 1091.8h0M1577.7 1048.2h0M1594.6 1094.2h0M1576 1063.8h0M1582.3 1083.8h0M1600.1 1065.1h0M1564.5 1119.4h0M1566.2 1090.6h0M1606.4 1071.3h0M1603.3 1101.3h0" stroke="#cc9900" stroke-width="6.2" stroke-linecap="round" fill="none"/>
<line x1="1582" y1="984" x2="1582" y2="1019.4" stroke="#cc9900" stroke-width="3" stroke-dasharray="6 3.5"/>
<line x1="1553.7" y1="1070.7" x2="1606.3" y2="1086" stroke="#ee1111" stroke-width="2"/>
<text x="1662.8" y="1091" font-size="22.3" fill="#000" text-anchor="middle">slope:</text>
<text x="1611.5" y="1117.6" font-size="22.7" fill="#000" text-anchor="start">-0.47 Hz/s</text>
<path d="M1822.9 1130.2h0M1832.4 1035.3h0M1856.9 1082.3h0M1830.9 1054.2h0M1835 1080.9h0M1830.9 1073.7h0M1804.8 1051.6h0M1807.3 1096.3h0M1838.8 1050.1h0M1835 1096.2h0M1834.1 1089.3h0M1807.8 1103.3h0M1841 1119.8h0M1841.7 1074.2h0M1809.2 1080.5h0M1853 1048.8h0M1836.6 1074.2h0M1834 1056.7h0M1813.6 1079.1h0M1857.4 1066.1h0M1837.2 1100.5h0M1826.6 1087.4h0M1839.7 1080.5h0M1839.1 1059.5h0M1832.5 1075.3h0M1834.3 1042.5h0M1837.6 1095.2h0M1852.1 1104.1h0M1827.9 1056h0M1827.3 1035.3h0M1830.5 1057.6h0M1813.8 1094.2h0M1855 1103.2h0M1849.1 1071.1h0M1815 1090.5h0M1846.8 1074.5h0M1821.5 1065h0M1845.3 1075.7h0M1854.3 1056.4h0M1810.1 1103h0M1841.4 1063.6h0M1860.8 1085.1h0M1818.3 1087h0M1857.1 1079.4h0M1854.9 1088.3h0M1848.2 1066.4h0M1821.4 1102.2h0M1844.5 1088h0M1816.7 1055.1h0M1829.3 1064.7h0M1840.3 1106.4h0M1840.3 1092.9h0M1832.4 1097.7h0M1855.7 1101.2h0M1816.9 1130.2h0M1848.6 1101h0M1849.8 1110.5h0M1805.2 1074.6h0M1826.7 1071.5h0M1813.6 1069.4h0M1836.2 1094.1h0M1822.6 1085.3h0M1818.5 1060.7h0M1831.1 1094.3h0M1834.4 1080.7h0M1859.4 1108.1h0M1809 1091.1h0M1832.8 1078.8h0M1825.8 1080.1h0M1805.3 1115.4h0M1844.1 1078.3h0M1842.5 1073.3h0M1830.5 1075.3h0M1829.2 1090.1h0M1815 1084.1h0M1810.5 1082h0M1840.4 1090.7h0M1833.1 1077.6h0M1858.5 1106.3h0M1841.6 1106.9h0M1856.9 1087.2h0M1835.9 1092.3h0M1854.3 1109.2h0M1825.8 1099.8h0M1844.6 1086h0M1859.5 1087.5h0M1809.6 1064h0M1836.5 1064.2h0M1859.9 1066.4h0M1861.1 1101.4h0M1832 1083.2h0M1832.3 1107.6h0M1815.7 1116.7h0M1853.4 1073h0M1825.1 1094.5h0M1839.4 1058.7h0M1815.6 1076.9h0M1820.6 1093h0M1842.4 1070.4h0M1839.8 1099h0M1838.4 1076.8h0M1851.8 1090.3h0M1828.1 1060.6h0M1829.2 1071.4h0M1858 1076.8h0M1821.4 1070.2h0M1811.7 1082.1h0M1812.6 1101.6h0M1844.1 1097.2h0M1805.4 1093h0M1848.1 1073.7h0M1848.8 1087.9h0M1827.6 1099.6h0M1835.3 1072.4h0M1841.4 1064.6h0M1821.9 1072.2h0M1839 1059.8h0M1858.5 1079.3h0M1819.4 1076.6h0M1831.7 1079.8h0M1837.9 1060.4h0M1806.6 1073h0M1843.9 1079.8h0M1816.3 1071h0M1818 1081.4h0M1826.4 1092.4h0M1856.4 1076.8h0M1858.3 1083.4h0M1842.2 1078.7h0M1830.7 1084.4h0M1844.9 1085.9h0M1818.6 1108.9h0M1817.3 1083.6h0M1841.2 1058.5h0M1826.1 1090.8h0M1845.3 1085.7h0M1823 1080.1h0M1818.9 1078h0M1858.6 1087.4h0M1809.7 1071.9h0M1847 1095.7h0M1850.7 1074.4h0M1807.6 1075.7h0M1832.6 1073.6h0M1807.2 1086.4h0M1824 1068.1h0M1850.1 1088.1h0M1829 1112.8h0M1834 1072.8h0M1817.6 1086.7h0M1830.5 1080.8h0M1843.9 1098h0M1819.2 1087.7h0M1838.8 1093.5h0M1858.1 1098.7h0M1820.6 1067.4h0M1842.1 1092h0M1849.4 1075.8h0M1809.4 1079.7h0M1816.7 1063h0M1828.5 1079.6h0M1849.3 1053.2h0M1832.1 1088h0M1849.9 1064.8h0M1837.4 1061.1h0M1813.8 1103.9h0M1807.5 1071.8h0M1808.1 1076.5h0M1834.1 1086.1h0M1856.6 1092.5h0M1807.3 1072.6h0M1812.9 1093.3h0M1853.6 1086.8h0M1824.3 1093.3h0M1804.8 1084.3h0M1826 1059.7h0M1837.5 1076.7h0M1819.7 1100h0M1861.3 1072.5h0M1853.1 1087.3h0M1850.2 1094.2h0M1838.6 1096.1h0M1833.1 1081.9h0M1856.2 1062.5h0M1808.5 1087.2h0M1827.7 1090.8h0M1843 1062h0M1817.5 1075.9h0M1835.1 1068.6h0M1860.4 1078.9h0M1839.6 1086.4h0M1831.4 1106.7h0M1859 1065.8h0M1856 1098.3h0M1820 1115.7h0M1829.7 1052h0M1810.6 1061.8h0M1826.3 1063.9h0M1810.2 1063.3h0M1854.7 1095.5h0M1852.8 1092.5h0M1844.8 1108.5h0M1814 1091.4h0M1811.9 1083.4h0M1815.5 1112.6h0M1805.6 1078.8h0M1856.5 1092.1h0M1837.5 1101h0M1832.6 1079.6h0M1848.7 1078.4h0M1825.6 1047.6h0M1829.8 1087.4h0M1820.6 1074.4h0M1837.5 1076h0M1808 1092.6h0M1821.5 1092.3h0M1854 1082.8h0M1851.2 1076.1h0M1829.5 1084.3h0M1852.2 1051h0" stroke="#66d19e" stroke-width="6.2" stroke-linecap="round" fill="none"/>
<line x1="1831.3" y1="985" x2="1831.3" y2="1019.4" stroke="#66d19e" stroke-width="3" stroke-dasharray="6 3.5"/>
<line x1="1806.3" y1="1079.2" x2="1860.8" y2="1086.9" stroke="#ee1111" stroke-width="2"/>
<text x="1916.6" y="1091" font-size="22.3" fill="#000" text-anchor="middle">slope:</text>
<text x="1865.6" y="1117.6" font-size="22.7" fill="#000" text-anchor="start">-0.19 Hz/s</text>
<path d="M1949.7 948.7 V994 H1909.3" fill="none" stroke="#f04444" stroke-width="3"/>
<text x="1929.7" y="1019" font-size="22.8" fill="#f04444" text-anchor="middle">20 s</text>
<text x="1973.3" y="970.4" font-size="22.8" fill="#f04444" text-anchor="middle" transform="rotate(-90 1973.3 970.4)">2 mV</text>
<text x="-0.3" y="31.2" font-size="29.5" fill="#000" text-anchor="start" font-weight="bold">a</text>
<text x="400.7" y="31.2" font-size="29.5" fill="#000" text-anchor="start" font-weight="bold">b</text>
<text x="1190" y="31.2" font-size="29.5" fill="#000" text-anchor="start" font-weight="bold">c</text>
<text x="1591.2" y="31.2" font-size="29.5" fill="#000" text-anchor="start" font-weight="bold">d</text>
<text x="-0.2" y="575.3" font-size="29.5" fill="#000" text-anchor="start" font-weight="bold">e</text>
<text x="400.5" y="574.8" font-size="29.5" fill="#000" text-anchor="start" font-weight="bold">f</text>
<text x="1190.2" y="575.3" font-size="29.5" fill="#000" text-anchor="start" font-weight="bold">g</text>
</svg>
</body></html>
